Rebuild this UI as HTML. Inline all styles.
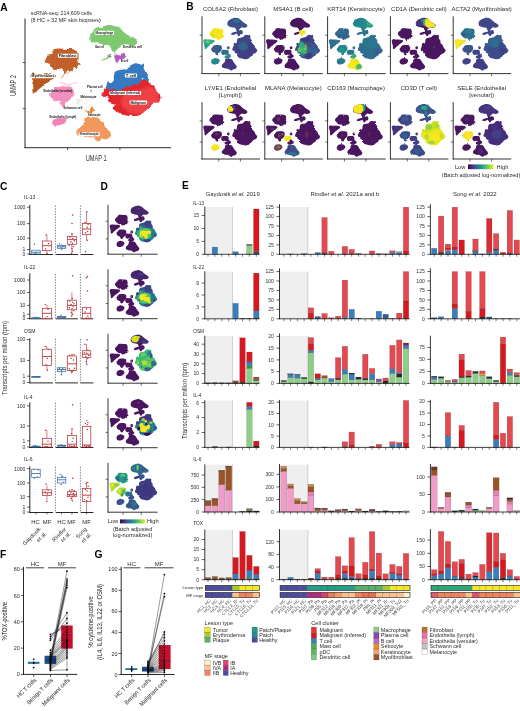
<!DOCTYPE html>
<html><head><meta charset="utf-8"><title>Figure</title>
<style>html,body{margin:0;padding:0;background:#fff}svg{display:block;opacity:0.999}text{font-family:"Liberation Sans", sans-serif}</style>
</head><body>
<svg width="520" height="711" viewBox="0 0 520 711">
<rect x="0" y="0" width="520" height="711" fill="#fff"/>
<defs>
<clipPath id="allc"><path d="M52.83,48.91C54.61,47.32 53.16,47.71 56.51,47.31C59.87,46.91 60.66,47.18 65.42,47.40C70.17,47.62 71.01,47.37 74.35,48.14C77.69,48.91 76.68,47.95 77.94,50.28C79.20,52.61 78.95,53.72 79.07,56.87C79.19,60.03 78.05,60.13 78.40,62.12C78.75,64.12 79.65,63.33 80.39,64.37C81.13,65.41 81.71,65.47 81.17,66.02C80.62,66.57 78.93,65.62 78.34,66.43C77.75,67.25 79.34,68.19 78.95,69.07C78.56,69.95 77.96,69.90 76.87,69.72C75.79,69.55 76.07,67.93 74.88,68.41C73.69,68.90 73.69,70.28 72.41,71.54C71.13,72.81 71.07,73.08 70.07,73.15C69.07,73.22 69.90,71.57 68.66,71.80C67.43,72.02 66.73,73.63 65.42,74.00C64.12,74.37 65.11,74.19 63.78,73.18C62.45,72.18 62.50,71.10 60.44,70.25C58.37,69.39 58.17,70.32 56.04,69.99C53.92,69.66 54.33,70.09 52.46,69.00C50.59,67.91 50.67,67.53 49.03,65.91C47.39,64.28 47.58,64.49 46.30,62.91C45.02,61.34 44.38,61.76 44.21,59.99C44.05,58.23 44.18,58.09 45.68,56.30C47.18,54.50 47.93,55.23 49.84,53.26C51.74,51.29 51.05,50.50 52.83,48.91Z"/><path d="M29.95,73.40C31.95,71.35 32.99,72.57 37.53,72.47C42.07,72.37 41.98,72.53 46.97,73.03C51.96,73.52 53.91,73.05 56.25,74.33C58.59,75.60 57.94,75.31 55.75,77.81C53.56,80.31 52.34,80.40 48.05,83.71C43.76,87.01 43.31,87.38 39.67,90.19C36.03,93.01 36.27,93.46 34.41,94.25C32.56,95.03 33.40,95.17 32.71,93.13C32.02,91.09 32.53,90.05 31.81,86.60C31.09,83.14 30.51,83.68 30.02,80.17C29.52,76.65 27.94,75.46 29.95,73.40Z"/><path d="M56.88,85.62C59.78,84.98 60.19,84.60 64.63,84.86C69.08,85.12 70.69,84.69 73.55,86.60C76.40,88.51 75.05,89.38 75.33,92.02C75.61,94.67 75.53,94.47 74.60,96.51C73.67,98.56 73.37,97.96 71.83,99.68C70.28,101.40 70.50,100.88 68.80,102.96C67.10,105.05 67.17,106.11 65.45,107.50C63.72,108.90 63.79,108.73 62.33,108.20C60.86,107.66 60.62,106.93 59.95,105.48C59.28,104.03 61.15,103.79 59.81,102.75C58.48,101.72 57.23,102.42 54.96,101.61C52.68,100.79 52.81,101.05 51.28,99.70C49.74,98.34 49.93,98.18 49.20,96.52C48.47,94.85 47.95,95.08 48.54,93.44C49.14,91.80 50.04,92.02 51.43,90.37C52.83,88.73 52.32,88.54 53.77,87.27C55.23,86.01 53.99,86.27 56.88,85.62Z"/><path d="M49.01,121.08C50.37,118.68 49.87,117.30 53.81,115.75C57.75,114.19 59.49,114.34 63.77,115.26C68.06,116.18 68.59,117.04 69.89,119.20C71.19,121.35 70.46,121.03 68.66,123.35C66.86,125.66 67.33,126.55 63.14,127.87C58.94,129.19 56.77,129.14 52.93,128.30C49.09,127.46 49.78,126.65 48.74,124.72C47.70,122.80 47.66,123.47 49.01,121.08Z"/><path d="M74.08,98.46C75.26,96.70 74.87,96.96 77.87,96.35C80.86,95.75 81.87,95.92 85.31,96.19C88.74,96.45 88.78,96.32 90.74,97.34C92.70,98.37 92.48,98.11 92.66,100.02C92.85,101.93 92.99,102.61 91.43,104.50C89.87,106.39 90.11,106.66 86.81,107.12C83.51,107.57 81.93,106.33 79.05,106.21C76.17,106.09 77.52,107.53 76.02,106.66C74.52,105.79 73.95,105.14 73.43,102.96C72.92,100.77 72.90,100.23 74.08,98.46Z"/><path d="M89.01,89.33C89.94,88.05 91.77,87.86 92.94,88.91C94.11,89.96 94.32,91.99 93.39,93.27C92.46,94.55 90.63,94.74 89.46,93.69C88.29,92.64 88.08,90.61 89.01,89.33Z"/><path d="M81.83,111.92C82.23,111.16 82.72,113.24 85.31,111.00C87.90,108.77 88.73,104.35 91.54,103.55C94.35,102.76 94.07,106.24 95.84,108.03C97.62,109.82 98.34,109.05 98.20,110.27C98.06,111.48 97.68,111.17 95.32,112.58C92.96,113.99 92.42,115.22 89.35,115.56C86.28,115.91 85.81,114.84 83.80,113.87C81.80,112.89 81.43,112.69 81.83,111.92Z"/><path d="M84.30,116.58C85.57,114.90 84.60,115.45 87.50,115.22C90.39,114.99 91.73,115.08 95.16,115.71C98.58,116.34 98.05,115.88 100.33,117.58C102.62,119.27 101.96,119.65 103.73,122.07C105.49,124.49 105.00,124.06 106.94,126.66C108.88,129.26 109.55,129.61 111.00,131.82C112.44,134.04 112.69,133.28 112.36,134.98C112.02,136.67 111.25,136.96 109.74,138.19C108.24,139.43 108.51,139.04 106.71,139.62C104.91,140.20 104.86,139.56 102.99,140.37C101.13,141.17 101.42,142.21 99.71,142.64C98.00,143.06 98.51,142.74 96.59,141.95C94.66,141.17 95.03,140.71 92.49,139.69C89.95,138.66 90.15,138.81 87.05,138.11C83.95,137.40 83.78,137.86 80.88,137.03C77.97,136.20 77.80,136.22 76.15,135.00C74.51,133.78 74.56,134.17 74.71,132.47C74.86,130.77 75.24,130.50 76.71,128.63C78.17,126.75 78.59,127.35 80.20,125.44C81.81,123.54 81.67,123.85 82.76,121.48C83.86,119.12 83.04,118.25 84.30,116.58Z"/><path d="M88.61,37.12C88.47,34.81 88.34,34.53 89.78,32.20C91.22,29.87 91.27,30.10 94.03,28.38C96.78,26.65 96.85,26.97 100.11,25.73C103.37,24.49 102.59,24.14 106.25,23.74C109.92,23.33 110.09,23.42 113.84,24.20C117.60,24.99 117.55,25.01 120.34,26.68C123.13,28.34 121.93,28.37 124.30,30.44C126.67,32.52 126.33,32.35 129.21,34.47C132.09,36.59 132.54,36.54 135.10,38.38C137.65,40.23 138.19,39.90 138.80,41.39C139.41,42.88 138.99,42.94 137.38,43.96C135.76,44.98 135.54,45.01 132.74,45.22C129.95,45.42 129.44,44.45 126.91,44.73C124.38,45.01 124.93,45.14 123.25,46.26C121.57,47.39 122.21,47.55 120.60,48.95C118.99,50.35 118.82,49.96 117.20,51.52C115.57,53.08 115.74,54.32 114.52,54.80C113.29,55.27 113.65,54.48 112.60,53.30C111.55,52.11 111.54,51.92 110.57,50.34C109.61,48.76 110.29,48.59 108.97,47.37C107.65,46.14 107.79,46.44 105.61,45.75C103.43,45.05 103.65,45.39 100.80,44.76C97.95,44.14 97.73,44.43 94.93,43.39C92.13,42.35 91.99,42.53 90.30,40.86C88.62,39.19 88.75,39.43 88.61,37.12Z"/><path d="M99.92,59.65C102.75,58.36 107.95,56.86 111.06,56.35C114.17,55.83 114.41,56.44 111.58,57.73C108.75,59.02 103.56,60.66 100.45,61.17C97.34,61.68 97.09,60.94 99.92,59.65Z"/><path d="M112.38,53.86C113.34,52.00 113.85,52.36 115.87,52.13C117.88,51.91 118.07,53.01 119.94,53.04C121.80,53.06 121.18,51.99 122.87,52.23C124.55,52.46 125.31,52.30 126.25,53.92C127.19,55.55 127.19,56.68 126.38,58.32C125.58,59.96 125.21,59.26 123.24,60.08C121.26,60.90 120.69,60.13 118.99,61.40C117.29,62.67 118.08,64.82 116.86,64.84C115.64,64.86 115.64,63.00 114.41,61.47C113.19,59.95 112.80,61.14 112.25,59.11C111.71,57.09 111.42,55.73 112.38,53.86Z"/><path d="M104.54,83.25C105.06,82.32 104.56,81.85 105.82,81.88C107.08,81.90 107.64,83.73 109.26,83.34C110.89,82.96 111.01,83.00 111.92,80.44C112.83,77.88 111.71,76.56 112.66,73.75C113.61,70.94 112.74,71.45 115.48,69.90C118.22,68.35 119.49,68.85 122.95,67.94C126.40,67.03 125.59,67.93 128.43,66.51C131.27,65.08 131.07,63.80 133.59,62.61C136.10,61.43 135.56,61.80 137.87,62.06C140.18,62.31 140.17,63.31 142.24,63.58C144.31,63.85 144.47,61.12 145.63,63.08C146.80,65.04 145.60,68.05 146.60,70.94C147.60,73.82 148.28,71.96 149.37,73.90C150.47,75.84 150.51,75.91 150.70,78.21C150.89,80.50 149.52,80.80 150.07,82.51C150.62,84.21 154.28,82.91 152.75,84.60C151.22,86.29 149.87,86.48 144.35,88.86C138.83,91.24 139.24,91.80 132.05,93.53C124.87,95.27 123.58,95.52 117.39,95.38C111.21,95.24 112.25,94.70 108.85,93.00C105.45,91.30 105.98,91.02 104.66,88.99C103.33,86.96 103.90,86.90 103.87,85.37C103.84,83.84 104.02,84.18 104.54,83.25Z"/><path d="M104.61,87.73C106.41,86.94 105.35,88.74 108.61,89.01C111.88,89.28 112.75,89.29 116.85,88.75C120.95,88.21 120.06,88.25 123.98,86.99C127.91,85.72 127.56,85.48 131.57,84.00C135.59,82.52 135.54,82.80 139.03,81.43C142.53,80.06 141.86,78.96 144.69,78.87C147.52,78.78 147.57,79.92 149.66,81.09C151.74,82.27 151.00,82.27 152.50,83.26C154.00,84.25 153.98,83.43 155.29,84.81C156.60,86.19 156.28,86.33 157.40,88.43C158.51,90.53 158.00,90.59 159.47,92.69C160.94,94.79 162.17,94.41 162.90,96.30C163.62,98.20 163.30,98.09 162.20,99.78C161.10,101.48 161.14,101.30 158.78,102.66C156.41,104.02 155.16,103.31 153.33,104.87C151.50,106.44 153.41,106.95 151.92,108.53C150.44,110.11 150.05,109.20 147.76,110.79C145.46,112.39 145.66,112.93 143.32,114.51C140.98,116.08 141.50,115.90 138.98,116.69C136.46,117.49 137.39,117.67 133.87,117.49C130.35,117.31 129.69,116.82 125.79,116.02C121.88,115.21 121.94,115.47 119.22,114.47C116.50,113.46 117.14,113.82 115.59,112.25C114.04,110.68 113.83,110.53 113.41,108.59C112.98,106.65 114.77,106.33 114.00,104.97C113.24,103.61 112.55,104.47 110.55,103.49C108.55,102.51 107.40,102.65 106.51,101.30C105.62,99.94 107.74,99.58 107.20,98.41C106.66,97.25 106.13,97.69 104.50,96.93C102.88,96.17 101.82,96.88 101.11,95.56C100.39,94.24 100.90,94.07 101.83,91.98C102.77,89.89 102.80,88.52 104.61,87.73Z"/></clipPath>
<filter id="bl" x="-20%" y="-20%" width="140%" height="140%"><feGaussianBlur stdDeviation="1.6"/></filter>
<filter id="bl2" x="-20%" y="-20%" width="140%" height="140%"><feGaussianBlur stdDeviation="0.9"/></filter>
<filter id="rough" x="-5%" y="-5%" width="110%" height="110%"><feTurbulence type="fractalNoise" baseFrequency="0.17" numOctaves="2" seed="4" result="n"/><feDisplacementMap in="SourceGraphic" in2="n" scale="4.5" xChannelSelector="R" yChannelSelector="G"/></filter>
<linearGradient id="vir" x1="0" x2="1" y1="0" y2="0"><stop offset="0" stop-color="#440154"/><stop offset="0.25" stop-color="#3b528b"/><stop offset="0.5" stop-color="#21918c"/><stop offset="0.75" stop-color="#5ec962"/><stop offset="1" stop-color="#fde725"/></linearGradient>
</defs>
<g id="panelA">
<text x="0.20" y="11.07" font-size="10.2" text-anchor="start" font-weight="bold" fill="#000">A</text>
<text x="30.80" y="15.31" font-size="5.3" text-anchor="start" font-weight="normal" fill="#2b2b2b" textLength="61.00" lengthAdjust="spacingAndGlyphs">scRNA-seq: 214,609 cells</text>
<text x="30.80" y="21.71" font-size="5.3" text-anchor="start" font-weight="normal" fill="#2b2b2b" textLength="70.00" lengthAdjust="spacingAndGlyphs">(8 HC + 32 MF skin biopsies)</text>
<line x1="25.00" y1="18.50" x2="25.00" y2="148.10" stroke="#111" stroke-width="0.9" stroke-linecap="butt"/>
<line x1="24.60" y1="147.70" x2="171.00" y2="147.70" stroke="#111" stroke-width="0.9" stroke-linecap="butt"/>
<line x1="22.80" y1="62.50" x2="25.00" y2="62.50" stroke="#111" stroke-width="0.7" stroke-linecap="butt"/>
<line x1="22.80" y1="108.60" x2="25.00" y2="108.60" stroke="#111" stroke-width="0.7" stroke-linecap="butt"/>
<line x1="67.60" y1="147.70" x2="67.60" y2="150.00" stroke="#111" stroke-width="0.7" stroke-linecap="butt"/>
<line x1="119.90" y1="147.70" x2="119.90" y2="150.00" stroke="#111" stroke-width="0.7" stroke-linecap="butt"/>
<text x="0.00" y="3.10" font-size="8.6" text-anchor="middle" font-weight="normal" fill="#333" transform="translate(96.20,158.30) scale(0.66,1)">UMAP 1</text>
<text x="0.00" y="3.10" font-size="8.6" text-anchor="middle" font-weight="normal" fill="#333" transform="translate(13.20,85.50) rotate(-90) scale(0.66,1)">UMAP 2</text>
<g filter="url(#rough)">
<path d="M53.90,50.10C55.53,48.66 54.23,48.99 57.30,48.70C60.37,48.41 61.08,48.79 65.40,49.00C69.72,49.21 70.46,48.86 73.50,49.50C76.54,50.14 75.71,49.27 76.80,51.40C77.89,53.53 77.60,54.62 77.60,57.50C77.60,60.38 76.48,60.41 76.80,62.20C77.12,63.99 78.05,63.27 78.80,64.20C79.55,65.13 80.13,65.22 79.60,65.70C79.07,66.18 77.36,65.28 76.80,66.00C76.24,66.72 77.85,67.63 77.50,68.40C77.15,69.17 76.57,69.11 75.50,68.90C74.43,68.69 74.59,67.23 73.50,67.60C72.41,67.97 72.49,69.21 71.40,70.30C70.31,71.39 70.28,71.70 69.40,71.70C68.52,71.70 69.17,70.11 68.10,70.30C67.03,70.49 66.49,72.05 65.40,72.40C64.31,72.75 65.09,72.53 64.00,71.60C62.91,70.67 63.09,69.59 61.30,68.90C59.51,68.21 59.27,69.16 57.30,69.00C55.33,68.84 55.69,69.21 53.90,68.30C52.11,67.39 52.20,67.04 50.60,65.60C49.00,64.16 49.18,64.34 47.90,62.90C46.62,61.46 45.99,61.83 45.80,60.20C45.61,58.57 45.76,58.43 47.20,56.80C48.64,55.17 49.41,55.89 51.20,54.10C52.99,52.31 52.27,51.54 53.90,50.10Z" fill="#c1602b"/>
<path d="M31.20,74.40C32.91,72.69 34.05,74.03 38.00,74.00C41.95,73.97 41.52,74.03 46.00,74.30C50.48,74.57 52.61,73.96 54.80,75.00C56.99,76.04 56.41,75.99 54.20,78.20C51.99,80.41 50.34,80.53 46.50,83.30C42.66,86.07 42.84,86.07 39.80,88.60C36.76,91.13 36.75,91.95 35.10,92.80C33.45,93.65 34.11,93.67 33.60,91.80C33.09,89.93 33.73,88.84 33.20,85.80C32.67,82.76 32.13,83.44 31.60,80.40C31.07,77.36 29.49,76.11 31.20,74.40Z" fill="#b7581f"/>
<path d="M57.50,87.10C60.01,86.54 60.25,86.27 64.20,86.40C68.15,86.53 69.74,85.97 72.30,87.60C74.86,89.23 73.61,90.13 73.80,92.50C73.99,94.87 73.93,94.71 73.00,96.50C72.07,98.29 71.74,97.76 70.30,99.20C68.86,100.64 69.04,100.09 67.60,101.90C66.16,103.71 66.34,104.75 64.90,106.00C63.46,107.25 63.45,107.16 62.20,106.60C60.95,106.04 60.73,105.34 60.20,103.90C59.67,102.46 61.27,102.08 60.20,101.20C59.13,100.32 58.17,101.13 56.20,100.60C54.23,100.07 54.24,100.29 52.80,99.20C51.36,98.11 51.52,97.94 50.80,96.50C50.08,95.06 49.57,95.21 50.10,93.80C50.63,92.39 51.55,92.61 52.80,91.20C54.05,89.79 53.55,89.59 54.80,88.50C56.05,87.41 54.99,87.66 57.50,87.10Z" fill="#f28fbe"/>
<path d="M52.80,121.40C53.81,120.07 53.88,119.53 56.20,118.70C58.52,117.87 58.83,117.93 61.50,118.30C64.17,118.67 65.29,118.90 66.20,120.10C67.11,121.30 66.31,121.55 64.90,122.80C63.49,124.05 63.41,124.08 60.90,124.80C58.39,125.52 57.77,125.79 55.50,125.50C53.23,125.21 53.12,124.79 52.40,123.70C51.68,122.61 51.79,122.73 52.80,121.40Z" fill="#f283b8"/>
<path d="M84.60,111.50C85.08,111.02 86.39,112.19 88.10,110.80C89.81,109.41 89.61,106.73 91.00,106.30C92.39,105.87 92.13,108.11 93.30,109.20C94.47,110.29 95.56,109.76 95.40,110.40C95.24,111.04 94.19,110.96 92.70,111.60C91.21,112.24 91.51,112.53 89.80,112.80C88.09,113.07 87.69,112.95 86.30,112.60C84.91,112.25 84.12,111.98 84.60,111.50Z" fill="#f0852a"/>
<path d="M85.20,117.90C86.29,116.35 85.49,116.86 88.10,116.70C90.71,116.54 91.93,116.69 95.00,117.30C98.07,117.91 97.60,117.45 99.60,119.00C101.60,120.55 100.95,120.94 102.50,123.10C104.05,125.26 103.56,124.81 105.40,127.10C107.24,129.39 107.96,129.70 109.40,131.70C110.84,133.70 111.09,133.05 110.80,134.60C110.51,136.15 109.74,136.41 108.30,137.50C106.86,138.59 107.11,138.25 105.40,138.70C103.69,139.15 103.61,138.53 101.90,139.20C100.19,139.87 100.52,140.88 99.00,141.20C97.48,141.52 97.88,141.23 96.20,140.40C94.52,139.57 94.86,139.03 92.70,138.10C90.54,137.17 90.87,137.38 88.10,136.90C85.33,136.42 85.07,136.91 82.30,136.30C79.53,135.69 79.30,135.67 77.70,134.60C76.10,133.53 76.14,133.85 76.30,132.30C76.46,130.75 76.86,130.48 78.30,128.80C79.74,127.12 80.18,127.68 81.70,126.00C83.22,124.32 83.07,124.66 84.00,122.50C84.93,120.34 84.11,119.45 85.20,117.90Z" fill="#f2985e"/>
<path d="M90.20,37.30C90.04,35.14 89.91,34.86 91.30,32.70C92.69,30.54 92.76,30.75 95.40,29.20C98.04,27.65 98.13,27.97 101.20,26.90C104.27,25.83 103.54,25.49 106.90,25.20C110.26,24.91 110.41,25.03 113.80,25.80C117.19,26.57 117.12,26.58 119.60,28.10C122.08,29.62 120.94,29.66 123.10,31.50C125.26,33.34 124.93,33.13 127.70,35.00C130.47,36.87 130.97,36.82 133.50,38.50C136.03,40.18 136.59,39.91 137.20,41.30C137.81,42.69 137.40,42.77 135.80,43.70C134.20,44.63 133.97,44.67 131.20,44.80C128.43,44.93 127.88,44.04 125.40,44.20C122.92,44.36 123.45,44.47 121.90,45.40C120.35,46.33 120.99,46.47 119.60,47.70C118.21,48.93 118.09,48.53 116.70,50.00C115.31,51.47 115.47,52.75 114.40,53.20C113.33,53.65 113.61,52.87 112.70,51.70C111.79,50.53 111.77,50.32 111.00,48.80C110.23,47.28 110.89,47.07 109.80,46.00C108.71,44.93 108.90,45.28 106.90,44.80C104.90,44.32 105.07,44.65 102.30,44.20C99.53,43.75 99.27,44.01 96.50,43.10C93.73,42.19 93.58,42.35 91.90,40.80C90.22,39.25 90.36,39.46 90.20,37.30Z" fill="#7ec86f"/>
<path d="M101.50,59.40C103.55,58.47 107.33,57.37 109.60,57.00C111.87,56.63 112.05,57.07 110.00,58.00C107.95,58.93 104.17,60.13 101.90,60.50C99.63,60.87 99.45,60.33 101.50,59.40Z" fill="#93d36f"/>
<path d="M113.80,54.60C114.57,53.21 115.15,53.50 116.70,53.50C118.25,53.50 118.21,54.60 119.60,54.60C120.99,54.60 120.51,53.50 121.90,53.50C123.29,53.50 124.03,53.37 124.80,54.60C125.57,55.83 125.57,56.87 124.80,58.10C124.03,59.33 123.45,58.75 121.90,59.20C120.35,59.65 120.23,58.71 119.00,59.80C117.77,60.89 118.21,63.14 117.30,63.30C116.39,63.46 116.53,61.63 115.60,60.40C114.67,59.17 114.28,60.25 113.80,58.70C113.32,57.15 113.03,55.99 113.80,54.60Z" fill="#b25cc4"/>
<path d="M106.10,82.90C106.63,82.02 106.15,81.60 107.40,81.60C108.65,81.60 109.17,83.27 110.80,82.90C112.43,82.53 112.59,82.52 113.50,80.20C114.41,77.88 113.32,76.71 114.20,74.20C115.08,71.69 114.29,72.08 116.80,70.80C119.31,69.52 120.53,70.12 123.60,69.40C126.67,68.68 125.79,69.51 128.30,68.10C130.81,66.69 130.68,65.35 133.00,64.10C135.32,62.85 134.84,63.24 137.00,63.40C139.16,63.56 139.13,64.51 141.10,64.70C143.07,64.89 143.33,62.29 144.40,64.10C145.47,65.91 144.19,68.81 145.10,71.50C146.01,74.19 146.73,72.41 147.80,74.20C148.87,75.99 148.91,76.07 149.10,78.20C149.29,80.33 147.94,80.60 148.50,82.20C149.06,83.80 152.67,82.65 151.20,84.20C149.73,85.75 148.23,85.92 143.00,88.00C137.77,90.08 138.21,90.40 131.60,92.00C124.99,93.60 123.93,94.00 118.20,94.00C112.47,94.00 113.33,93.52 110.10,92.00C106.87,90.48 107.35,90.19 106.10,88.30C104.85,86.41 105.40,86.34 105.40,84.90C105.40,83.46 105.57,83.78 106.10,82.90Z" fill="#3579c0"/>
<path d="M106.10,88.30C107.89,87.58 106.87,89.25 110.10,89.60C113.33,89.95 114.25,89.95 118.20,89.60C122.15,89.25 121.33,89.37 124.90,88.30C128.47,87.23 128.00,87.04 131.60,85.60C135.20,84.16 135.15,84.34 138.40,82.90C141.65,81.46 141.11,80.39 143.80,80.20C146.49,80.01 146.53,81.13 148.50,82.20C150.47,83.27 149.76,83.29 151.20,84.20C152.64,85.11 152.65,84.32 153.90,85.60C155.15,86.88 154.83,87.03 155.90,89.00C156.97,90.97 156.46,91.03 157.90,93.00C159.34,94.97 160.58,94.61 161.30,96.40C162.02,98.19 161.69,98.10 160.60,99.70C159.51,101.30 159.55,101.15 157.20,102.40C154.85,103.65 153.59,102.96 151.80,104.40C150.01,105.84 151.91,106.36 150.50,107.80C149.09,109.24 148.66,108.36 146.50,109.80C144.34,111.24 144.56,111.76 142.40,113.20C140.24,114.64 140.72,114.48 138.40,115.20C136.08,115.92 136.93,116.09 133.70,115.90C130.47,115.71 129.90,115.22 126.30,114.50C122.70,113.78 122.73,114.08 120.20,113.20C117.67,112.32 118.24,112.64 116.80,111.20C115.36,109.76 115.15,109.61 114.80,107.80C114.45,105.99 116.22,105.65 115.50,104.40C114.78,103.15 114.07,103.98 112.10,103.10C110.13,102.22 108.98,102.35 108.10,101.10C107.22,99.85 109.33,99.49 108.80,98.40C108.27,97.31 107.73,97.72 106.10,97.00C104.47,96.28 103.42,96.95 102.70,95.70C101.98,94.45 102.49,94.27 103.40,92.30C104.31,90.33 104.31,89.02 106.10,88.30Z" fill="#e3282e"/>
<g clip-path="url(#cm)"><defs><clipPath id="cm"><path d="M106.10,88.30C107.89,87.58 106.87,89.25 110.10,89.60C113.33,89.95 114.25,89.95 118.20,89.60C122.15,89.25 121.33,89.37 124.90,88.30C128.47,87.23 128.00,87.04 131.60,85.60C135.20,84.16 135.15,84.34 138.40,82.90C141.65,81.46 141.11,80.39 143.80,80.20C146.49,80.01 146.53,81.13 148.50,82.20C150.47,83.27 149.76,83.29 151.20,84.20C152.64,85.11 152.65,84.32 153.90,85.60C155.15,86.88 154.83,87.03 155.90,89.00C156.97,90.97 156.46,91.03 157.90,93.00C159.34,94.97 160.58,94.61 161.30,96.40C162.02,98.19 161.69,98.10 160.60,99.70C159.51,101.30 159.55,101.15 157.20,102.40C154.85,103.65 153.59,102.96 151.80,104.40C150.01,105.84 151.91,106.36 150.50,107.80C149.09,109.24 148.66,108.36 146.50,109.80C144.34,111.24 144.56,111.76 142.40,113.20C140.24,114.64 140.72,114.48 138.40,115.20C136.08,115.92 136.93,116.09 133.70,115.90C130.47,115.71 129.90,115.22 126.30,114.50C122.70,113.78 122.73,114.08 120.20,113.20C117.67,112.32 118.24,112.64 116.80,111.20C115.36,109.76 115.15,109.61 114.80,107.80C114.45,105.99 116.22,105.65 115.50,104.40C114.78,103.15 114.07,103.98 112.10,103.10C110.13,102.22 108.98,102.35 108.10,101.10C107.22,99.85 109.33,99.49 108.80,98.40C108.27,97.31 107.73,97.72 106.10,97.00C104.47,96.28 103.42,96.95 102.70,95.70C101.98,94.45 102.49,94.27 103.40,92.30C104.31,90.33 104.31,89.02 106.10,88.30Z"/></clipPath></defs>
<g filter="url(#bl2)"><ellipse cx="140" cy="102" rx="19" ry="12" fill="#ee4347"/><ellipse cx="150" cy="94" rx="9" ry="7" fill="#ee4347"/></g></g>
</g>
<path d="M65.4,72 C64,75 62.5,76.5 61.3,78.4" stroke="#c1602b" stroke-width="0.7" fill="none"/>
<path d="M69.5,71.5 C68.5,73 67.6,74 66.6,75" stroke="#c1602b" stroke-width="0.5" fill="none"/>
<path d="M59.5,83.1 C62,82 64,83 66.9,85.1 C69,84.6 72,84.6 74.3,82.4 L77,83.3" stroke="#f4a6cb" stroke-width="0.7" fill="none"/>
<path d="M62,85.2 L66,84 M68,85.6 L71,85" stroke="#f4a6cb" stroke-width="0.5" fill="none"/>
<path d="M77.00,99.60C77.77,98.69 78.75,98.51 79.50,99.20C80.25,99.89 80.15,100.84 79.80,102.20C79.45,103.56 79.05,104.19 78.20,104.30C77.35,104.41 76.92,103.85 76.60,102.60C76.28,101.35 76.23,100.51 77.00,99.60Z" fill="#f3f3f5" stroke="#cfcfd6" stroke-width="0.35"/>
<path d="M81.50,99.20C82.22,98.21 82.89,98.73 85.00,98.70C87.11,98.67 88.44,98.06 89.40,99.10C90.36,100.14 89.61,101.40 88.60,102.60C87.59,103.80 87.28,103.65 85.60,103.60C83.92,103.55 83.39,103.57 82.30,102.40C81.21,101.23 80.78,100.19 81.50,99.20Z" fill="#fbfbfc" stroke="#d6d6dc" stroke-width="0.35"/>
<circle cx="142.5" cy="78.6" r="0.9" fill="#dfe9f5"/>
<circle cx="105.8" cy="50.6" r="0.35" fill="#5aa84f"/>
<line x1="91.10" y1="90.30" x2="91.10" y2="92.30" stroke="#444" stroke-width="0.5" stroke-linecap="butt"/>
<line x1="90.20" y1="90.40" x2="92.00" y2="90.40" stroke="#444" stroke-width="0.5" stroke-linecap="butt"/>
<rect x="94.70" y="30.70" width="19.30" height="4.00" fill="#fff" rx="0.8"/>
<text x="104.35" y="33.89" font-size="3.3" text-anchor="middle" font-weight="bold" fill="#111" textLength="17.50" lengthAdjust="spacingAndGlyphs">Macrophage</text>
<text x="99.60" y="48.29" font-size="3.3" text-anchor="middle" font-weight="bold" fill="#111" textLength="8.80" lengthAdjust="spacingAndGlyphs">Mast cell</text>
<text x="132.50" y="47.69" font-size="3.3" text-anchor="middle" font-weight="bold" fill="#111" textLength="19.00" lengthAdjust="spacingAndGlyphs">Dendritic cell</text>
<text x="109.50" y="56.79" font-size="3.3" text-anchor="middle" font-weight="bold" fill="#111" textLength="3.80" lengthAdjust="spacingAndGlyphs">pDC</text>
<text x="124.55" y="62.09" font-size="3.3" text-anchor="middle" font-weight="bold" fill="#111" textLength="7.50" lengthAdjust="spacingAndGlyphs">B cell</text>
<rect x="57.90" y="53.80" width="19.60" height="4.00" fill="#fff" rx="0.8"/>
<text x="67.70" y="56.99" font-size="3.3" text-anchor="middle" font-weight="bold" fill="#111" textLength="17.80" lengthAdjust="spacingAndGlyphs">Fibroblast</text>
<rect x="30.70" y="74.20" width="24.00" height="4.00" fill="#fff" rx="0.8"/>
<text x="42.70" y="77.39" font-size="3.3" text-anchor="middle" font-weight="bold" fill="#111" textLength="22.20" lengthAdjust="spacingAndGlyphs">Myofibroblast</text>
<text x="57.85" y="91.99" font-size="3.3" text-anchor="middle" font-weight="bold" fill="#111" textLength="28.90" lengthAdjust="spacingAndGlyphs">Endothelia (venular)</text>
<text x="94.85" y="88.29" font-size="3.3" text-anchor="middle" font-weight="bold" fill="#111" textLength="15.50" lengthAdjust="spacingAndGlyphs">Plasma cell</text>
<text x="88.45" y="97.59" font-size="3.3" text-anchor="middle" font-weight="bold" fill="#111" textLength="16.10" lengthAdjust="spacingAndGlyphs">Melanocyte</text>
<text x="73.00" y="109.09" font-size="3.3" text-anchor="middle" font-weight="bold" fill="#111" textLength="18.80" lengthAdjust="spacingAndGlyphs">Schwann cell</text>
<text x="94.20" y="116.19" font-size="3.3" text-anchor="middle" font-weight="bold" fill="#111" textLength="12.80" lengthAdjust="spacingAndGlyphs">Sebocyte</text>
<text x="62.85" y="117.89" font-size="3.3" text-anchor="middle" font-weight="bold" fill="#111" textLength="26.90" lengthAdjust="spacingAndGlyphs">Endothelia (lymph)</text>
<rect x="79.30" y="132.30" width="20.40" height="4.00" fill="#fff" rx="0.8"/>
<text x="89.50" y="135.49" font-size="3.3" text-anchor="middle" font-weight="bold" fill="#111" textLength="18.60" lengthAdjust="spacingAndGlyphs">Keratinocyte</text>
<rect x="124.90" y="73.50" width="12.20" height="4.00" fill="#fff" rx="0.8"/>
<text x="131.00" y="76.69" font-size="3.3" text-anchor="middle" font-weight="bold" fill="#111" textLength="10.40" lengthAdjust="spacingAndGlyphs">T cell</text>
<rect x="109.40" y="91.00" width="31.70" height="4.00" fill="#fff" rx="0.8"/>
<text x="125.25" y="94.19" font-size="3.3" text-anchor="middle" font-weight="bold" fill="#111" textLength="29.90" lengthAdjust="spacingAndGlyphs">Malignant (inferred)</text>
<rect x="129.60" y="100.40" width="17.60" height="4.00" fill="#fff" rx="0.8"/>
<text x="138.40" y="103.59" font-size="3.3" text-anchor="middle" font-weight="bold" fill="#111" textLength="15.80" lengthAdjust="spacingAndGlyphs">Malignant</text>
</g>
<g id="panelB">
<text x="186.20" y="10.27" font-size="10.2" text-anchor="start" font-weight="bold" fill="#000">B</text>
<line x1="202.00" y1="16.30" x2="202.00" y2="74.02" stroke="#111" stroke-width="0.85" stroke-linecap="butt"/>
<line x1="201.57" y1="73.60" x2="260.00" y2="73.60" stroke="#111" stroke-width="0.85" stroke-linecap="butt"/>
<line x1="199.60" y1="35.20" x2="202.00" y2="35.20" stroke="#111" stroke-width="0.6" stroke-linecap="butt"/>
<line x1="199.60" y1="56.30" x2="202.00" y2="56.30" stroke="#111" stroke-width="0.6" stroke-linecap="butt"/>
<line x1="218.80" y1="73.60" x2="218.80" y2="76.20" stroke="#111" stroke-width="0.6" stroke-linecap="butt"/>
<line x1="240.40" y1="73.60" x2="240.40" y2="76.20" stroke="#111" stroke-width="0.6" stroke-linecap="butt"/>
<g transform="translate(203.90,18.50) scale(0.4030,0.4436) translate(-30.7,-25.4)" filter="url(#rough)">
<path d="M53.90,50.10C55.53,48.66 54.23,48.99 57.30,48.70C60.37,48.41 61.08,48.79 65.40,49.00C69.72,49.21 70.46,48.86 73.50,49.50C76.54,50.14 75.71,49.27 76.80,51.40C77.89,53.53 77.60,54.62 77.60,57.50C77.60,60.38 76.48,60.41 76.80,62.20C77.12,63.99 78.05,63.27 78.80,64.20C79.55,65.13 80.13,65.22 79.60,65.70C79.07,66.18 77.36,65.28 76.80,66.00C76.24,66.72 77.85,67.63 77.50,68.40C77.15,69.17 76.57,69.11 75.50,68.90C74.43,68.69 74.59,67.23 73.50,67.60C72.41,67.97 72.49,69.21 71.40,70.30C70.31,71.39 70.28,71.70 69.40,71.70C68.52,71.70 69.17,70.11 68.10,70.30C67.03,70.49 66.49,72.05 65.40,72.40C64.31,72.75 65.09,72.53 64.00,71.60C62.91,70.67 63.09,69.59 61.30,68.90C59.51,68.21 59.27,69.16 57.30,69.00C55.33,68.84 55.69,69.21 53.90,68.30C52.11,67.39 52.20,67.04 50.60,65.60C49.00,64.16 49.18,64.34 47.90,62.90C46.62,61.46 45.99,61.83 45.80,60.20C45.61,58.57 45.76,58.43 47.20,56.80C48.64,55.17 49.41,55.89 51.20,54.10C52.99,52.31 52.27,51.54 53.90,50.10Z" fill="#f4e61f" stroke="#f4e61f" stroke-width="2.6" stroke-linejoin="round"/>
<path d="M31.20,74.40C32.91,72.69 34.05,74.03 38.00,74.00C41.95,73.97 41.52,74.03 46.00,74.30C50.48,74.57 52.61,73.96 54.80,75.00C56.99,76.04 56.41,75.99 54.20,78.20C51.99,80.41 50.34,80.53 46.50,83.30C42.66,86.07 42.84,86.07 39.80,88.60C36.76,91.13 36.75,91.95 35.10,92.80C33.45,93.65 34.11,93.67 33.60,91.80C33.09,89.93 33.73,88.84 33.20,85.80C32.67,82.76 32.13,83.44 31.60,80.40C31.07,77.36 29.49,76.11 31.20,74.40Z" fill="#2fa888" stroke="#2fa888" stroke-width="2.6" stroke-linejoin="round"/>
<path d="M57.50,87.10C60.01,86.54 60.25,86.27 64.20,86.40C68.15,86.53 69.74,85.97 72.30,87.60C74.86,89.23 73.61,90.13 73.80,92.50C73.99,94.87 73.93,94.71 73.00,96.50C72.07,98.29 71.74,97.76 70.30,99.20C68.86,100.64 69.04,100.09 67.60,101.90C66.16,103.71 66.34,104.75 64.90,106.00C63.46,107.25 63.45,107.16 62.20,106.60C60.95,106.04 60.73,105.34 60.20,103.90C59.67,102.46 61.27,102.08 60.20,101.20C59.13,100.32 58.17,101.13 56.20,100.60C54.23,100.07 54.24,100.29 52.80,99.20C51.36,98.11 51.52,97.94 50.80,96.50C50.08,95.06 49.57,95.21 50.10,93.80C50.63,92.39 51.55,92.61 52.80,91.20C54.05,89.79 53.55,89.59 54.80,88.50C56.05,87.41 54.99,87.66 57.50,87.10Z" fill="#3a5a8c" stroke="#3a5a8c" stroke-width="2.6" stroke-linejoin="round"/>
<path d="M52.80,121.40C53.81,120.07 53.88,119.53 56.20,118.70C58.52,117.87 58.83,117.93 61.50,118.30C64.17,118.67 65.29,118.90 66.20,120.10C67.11,121.30 66.31,121.55 64.90,122.80C63.49,124.05 63.41,124.08 60.90,124.80C58.39,125.52 57.77,125.79 55.50,125.50C53.23,125.21 53.12,124.79 52.40,123.70C51.68,122.61 51.79,122.73 52.80,121.40Z" fill="#26898e" stroke="#26898e" stroke-width="7.1" stroke-linejoin="round"/>
<path d="M77.00,99.50C77.93,98.46 78.13,98.73 80.00,98.60C81.87,98.47 81.87,98.95 84.00,99.00C86.13,99.05 86.51,98.40 88.00,98.80C89.49,99.20 89.47,99.25 89.60,100.50C89.73,101.75 89.73,102.41 88.50,103.50C87.27,104.59 87.00,104.52 85.00,104.60C83.00,104.68 82.73,103.75 81.00,103.80C79.27,103.85 79.70,105.15 78.50,104.80C77.30,104.45 76.90,103.91 76.50,102.50C76.10,101.09 76.07,100.54 77.00,99.50Z" fill="#2e6f8e" stroke="#2e6f8e" stroke-width="5.6" stroke-linejoin="round"/>
<path d="M90.20,90.40C90.63,89.81 91.47,89.72 92.00,90.20C92.53,90.68 92.63,91.61 92.20,92.20C91.77,92.79 90.93,92.88 90.40,92.40C89.87,91.92 89.77,90.99 90.20,90.40Z" fill="#3b528b" stroke="#3b528b" stroke-width="4.1" stroke-linejoin="round"/>
<path d="M84.60,111.50C85.08,111.02 86.39,112.19 88.10,110.80C89.81,109.41 89.61,106.73 91.00,106.30C92.39,105.87 92.13,108.11 93.30,109.20C94.47,110.29 95.56,109.76 95.40,110.40C95.24,111.04 94.19,110.96 92.70,111.60C91.21,112.24 91.51,112.53 89.80,112.80C88.09,113.07 87.69,112.95 86.30,112.60C84.91,112.25 84.12,111.98 84.60,111.50Z" fill="#2c8a8d" stroke="#2c8a8d" stroke-width="5.1" stroke-linejoin="round"/>
<path d="M85.20,117.90C86.29,116.35 85.49,116.86 88.10,116.70C90.71,116.54 91.93,116.69 95.00,117.30C98.07,117.91 97.60,117.45 99.60,119.00C101.60,120.55 100.95,120.94 102.50,123.10C104.05,125.26 103.56,124.81 105.40,127.10C107.24,129.39 107.96,129.70 109.40,131.70C110.84,133.70 111.09,133.05 110.80,134.60C110.51,136.15 109.74,136.41 108.30,137.50C106.86,138.59 107.11,138.25 105.40,138.70C103.69,139.15 103.61,138.53 101.90,139.20C100.19,139.87 100.52,140.88 99.00,141.20C97.48,141.52 97.88,141.23 96.20,140.40C94.52,139.57 94.86,139.03 92.70,138.10C90.54,137.17 90.87,137.38 88.10,136.90C85.33,136.42 85.07,136.91 82.30,136.30C79.53,135.69 79.30,135.67 77.70,134.60C76.10,133.53 76.14,133.85 76.30,132.30C76.46,130.75 76.86,130.48 78.30,128.80C79.74,127.12 80.18,127.68 81.70,126.00C83.22,124.32 83.07,124.66 84.00,122.50C84.93,120.34 84.11,119.45 85.20,117.90Z" fill="#46357f" stroke="#46357f" stroke-width="2.6" stroke-linejoin="round"/>
<path d="M90.20,37.30C90.04,35.14 89.91,34.86 91.30,32.70C92.69,30.54 92.76,30.75 95.40,29.20C98.04,27.65 98.13,27.97 101.20,26.90C104.27,25.83 103.54,25.49 106.90,25.20C110.26,24.91 110.41,25.03 113.80,25.80C117.19,26.57 117.12,26.58 119.60,28.10C122.08,29.62 120.94,29.66 123.10,31.50C125.26,33.34 124.93,33.13 127.70,35.00C130.47,36.87 130.97,36.82 133.50,38.50C136.03,40.18 136.59,39.91 137.20,41.30C137.81,42.69 137.40,42.77 135.80,43.70C134.20,44.63 133.97,44.67 131.20,44.80C128.43,44.93 127.88,44.04 125.40,44.20C122.92,44.36 123.45,44.47 121.90,45.40C120.35,46.33 120.99,46.47 119.60,47.70C118.21,48.93 118.09,48.53 116.70,50.00C115.31,51.47 115.47,52.75 114.40,53.20C113.33,53.65 113.61,52.87 112.70,51.70C111.79,50.53 111.77,50.32 111.00,48.80C110.23,47.28 110.89,47.07 109.80,46.00C108.71,44.93 108.90,45.28 106.90,44.80C104.90,44.32 105.07,44.65 102.30,44.20C99.53,43.75 99.27,44.01 96.50,43.10C93.73,42.19 93.58,42.35 91.90,40.80C90.22,39.25 90.36,39.46 90.20,37.30Z" fill="#3a4f8a" stroke="#3a4f8a" stroke-width="2.6" stroke-linejoin="round"/>
<path d="M101.50,59.40C103.55,58.47 107.33,57.37 109.60,57.00C111.87,56.63 112.05,57.07 110.00,58.00C107.95,58.93 104.17,60.13 101.90,60.50C99.63,60.87 99.45,60.33 101.50,59.40Z" fill="#423f85" stroke="#423f85" stroke-width="3.6" stroke-linejoin="round"/>
<path d="M113.80,54.60C114.57,53.21 115.15,53.50 116.70,53.50C118.25,53.50 118.21,54.60 119.60,54.60C120.99,54.60 120.51,53.50 121.90,53.50C123.29,53.50 124.03,53.37 124.80,54.60C125.57,55.83 125.57,56.87 124.80,58.10C124.03,59.33 123.45,58.75 121.90,59.20C120.35,59.65 120.23,58.71 119.00,59.80C117.77,60.89 118.21,63.14 117.30,63.30C116.39,63.46 116.53,61.63 115.60,60.40C114.67,59.17 114.28,60.25 113.80,58.70C113.32,57.15 113.03,55.99 113.80,54.60Z" fill="#3e4989" stroke="#3e4989" stroke-width="4.1" stroke-linejoin="round"/>
<path d="M106.10,82.90C106.63,82.02 106.15,81.60 107.40,81.60C108.65,81.60 109.17,83.27 110.80,82.90C112.43,82.53 112.59,82.52 113.50,80.20C114.41,77.88 113.32,76.71 114.20,74.20C115.08,71.69 114.29,72.08 116.80,70.80C119.31,69.52 120.53,70.12 123.60,69.40C126.67,68.68 125.79,69.51 128.30,68.10C130.81,66.69 130.68,65.35 133.00,64.10C135.32,62.85 134.84,63.24 137.00,63.40C139.16,63.56 139.13,64.51 141.10,64.70C143.07,64.89 143.33,62.29 144.40,64.10C145.47,65.91 144.19,68.81 145.10,71.50C146.01,74.19 146.73,72.41 147.80,74.20C148.87,75.99 148.91,76.07 149.10,78.20C149.29,80.33 147.94,80.60 148.50,82.20C149.06,83.80 152.67,82.65 151.20,84.20C149.73,85.75 148.23,85.92 143.00,88.00C137.77,90.08 138.21,90.40 131.60,92.00C124.99,93.60 123.93,94.00 118.20,94.00C112.47,94.00 113.33,93.52 110.10,92.00C106.87,90.48 107.35,90.19 106.10,88.30C104.85,86.41 105.40,86.34 105.40,84.90C105.40,83.46 105.57,83.78 106.10,82.90Z" fill="#3f4788" stroke="#3f4788" stroke-width="2.6" stroke-linejoin="round"/>
<path d="M106.10,88.30C107.89,87.58 106.87,89.25 110.10,89.60C113.33,89.95 114.25,89.95 118.20,89.60C122.15,89.25 121.33,89.37 124.90,88.30C128.47,87.23 128.00,87.04 131.60,85.60C135.20,84.16 135.15,84.34 138.40,82.90C141.65,81.46 141.11,80.39 143.80,80.20C146.49,80.01 146.53,81.13 148.50,82.20C150.47,83.27 149.76,83.29 151.20,84.20C152.64,85.11 152.65,84.32 153.90,85.60C155.15,86.88 154.83,87.03 155.90,89.00C156.97,90.97 156.46,91.03 157.90,93.00C159.34,94.97 160.58,94.61 161.30,96.40C162.02,98.19 161.69,98.10 160.60,99.70C159.51,101.30 159.55,101.15 157.20,102.40C154.85,103.65 153.59,102.96 151.80,104.40C150.01,105.84 151.91,106.36 150.50,107.80C149.09,109.24 148.66,108.36 146.50,109.80C144.34,111.24 144.56,111.76 142.40,113.20C140.24,114.64 140.72,114.48 138.40,115.20C136.08,115.92 136.93,116.09 133.70,115.90C130.47,115.71 129.90,115.22 126.30,114.50C122.70,113.78 122.73,114.08 120.20,113.20C117.67,112.32 118.24,112.64 116.80,111.20C115.36,109.76 115.15,109.61 114.80,107.80C114.45,105.99 116.22,105.65 115.50,104.40C114.78,103.15 114.07,103.98 112.10,103.10C110.13,102.22 108.98,102.35 108.10,101.10C107.22,99.85 109.33,99.49 108.80,98.40C108.27,97.31 107.73,97.72 106.10,97.00C104.47,96.28 103.42,96.95 102.70,95.70C101.98,94.45 102.49,94.27 103.40,92.30C104.31,90.33 104.31,89.02 106.10,88.30Z" fill="#423f85" stroke="#423f85" stroke-width="2.6" stroke-linejoin="round"/>
<g clip-path="url(#allc)"><g filter="url(#bl)">
<ellipse cx="112.0" cy="31.0" rx="9.0" ry="4.0" fill="#2a788e" opacity="0.8"/>
<ellipse cx="128.0" cy="88.0" rx="12.0" ry="10.0" fill="#2f6d8e" opacity="0.8"/>
<ellipse cx="40.0" cy="78.0" rx="6.0" ry="3.0" fill="#6ccd5a" opacity="0.9"/>
<ellipse cx="36.0" cy="86.0" rx="3.0" ry="4.0" fill="#1f968b" opacity="0.9"/>
<ellipse cx="52.0" cy="63.0" rx="4.0" ry="4.0" fill="#c8e020" opacity="0.8"/>
<ellipse cx="62.0" cy="96.0" rx="6.0" ry="5.0" fill="#34618d" opacity="0.8"/>
<ellipse cx="95.0" cy="135.0" rx="9.0" ry="4.0" fill="#3b3f86" opacity="0.8"/>
</g></g>
</g>
<text x="230.50" y="11.36" font-size="6" text-anchor="middle" font-weight="normal" fill="#2b2b2b">COL6A2 (Fibroblast)</text>
<line x1="264.80" y1="16.30" x2="264.80" y2="74.02" stroke="#111" stroke-width="0.85" stroke-linecap="butt"/>
<line x1="264.38" y1="73.60" x2="322.80" y2="73.60" stroke="#111" stroke-width="0.85" stroke-linecap="butt"/>
<line x1="262.40" y1="35.20" x2="264.80" y2="35.20" stroke="#111" stroke-width="0.6" stroke-linecap="butt"/>
<line x1="262.40" y1="56.30" x2="264.80" y2="56.30" stroke="#111" stroke-width="0.6" stroke-linecap="butt"/>
<line x1="281.60" y1="73.60" x2="281.60" y2="76.20" stroke="#111" stroke-width="0.6" stroke-linecap="butt"/>
<line x1="303.20" y1="73.60" x2="303.20" y2="76.20" stroke="#111" stroke-width="0.6" stroke-linecap="butt"/>
<g transform="translate(266.70,18.50) scale(0.4030,0.4436) translate(-30.7,-25.4)" filter="url(#rough)">
<path d="M53.90,50.10C55.53,48.66 54.23,48.99 57.30,48.70C60.37,48.41 61.08,48.79 65.40,49.00C69.72,49.21 70.46,48.86 73.50,49.50C76.54,50.14 75.71,49.27 76.80,51.40C77.89,53.53 77.60,54.62 77.60,57.50C77.60,60.38 76.48,60.41 76.80,62.20C77.12,63.99 78.05,63.27 78.80,64.20C79.55,65.13 80.13,65.22 79.60,65.70C79.07,66.18 77.36,65.28 76.80,66.00C76.24,66.72 77.85,67.63 77.50,68.40C77.15,69.17 76.57,69.11 75.50,68.90C74.43,68.69 74.59,67.23 73.50,67.60C72.41,67.97 72.49,69.21 71.40,70.30C70.31,71.39 70.28,71.70 69.40,71.70C68.52,71.70 69.17,70.11 68.10,70.30C67.03,70.49 66.49,72.05 65.40,72.40C64.31,72.75 65.09,72.53 64.00,71.60C62.91,70.67 63.09,69.59 61.30,68.90C59.51,68.21 59.27,69.16 57.30,69.00C55.33,68.84 55.69,69.21 53.90,68.30C52.11,67.39 52.20,67.04 50.60,65.60C49.00,64.16 49.18,64.34 47.90,62.90C46.62,61.46 45.99,61.83 45.80,60.20C45.61,58.57 45.76,58.43 47.20,56.80C48.64,55.17 49.41,55.89 51.20,54.10C52.99,52.31 52.27,51.54 53.90,50.10Z" fill="#48135f" stroke="#48135f" stroke-width="2.6" stroke-linejoin="round"/>
<path d="M31.20,74.40C32.91,72.69 34.05,74.03 38.00,74.00C41.95,73.97 41.52,74.03 46.00,74.30C50.48,74.57 52.61,73.96 54.80,75.00C56.99,76.04 56.41,75.99 54.20,78.20C51.99,80.41 50.34,80.53 46.50,83.30C42.66,86.07 42.84,86.07 39.80,88.60C36.76,91.13 36.75,91.95 35.10,92.80C33.45,93.65 34.11,93.67 33.60,91.80C33.09,89.93 33.73,88.84 33.20,85.80C32.67,82.76 32.13,83.44 31.60,80.40C31.07,77.36 29.49,76.11 31.20,74.40Z" fill="#48135f" stroke="#48135f" stroke-width="2.6" stroke-linejoin="round"/>
<path d="M57.50,87.10C60.01,86.54 60.25,86.27 64.20,86.40C68.15,86.53 69.74,85.97 72.30,87.60C74.86,89.23 73.61,90.13 73.80,92.50C73.99,94.87 73.93,94.71 73.00,96.50C72.07,98.29 71.74,97.76 70.30,99.20C68.86,100.64 69.04,100.09 67.60,101.90C66.16,103.71 66.34,104.75 64.90,106.00C63.46,107.25 63.45,107.16 62.20,106.60C60.95,106.04 60.73,105.34 60.20,103.90C59.67,102.46 61.27,102.08 60.20,101.20C59.13,100.32 58.17,101.13 56.20,100.60C54.23,100.07 54.24,100.29 52.80,99.20C51.36,98.11 51.52,97.94 50.80,96.50C50.08,95.06 49.57,95.21 50.10,93.80C50.63,92.39 51.55,92.61 52.80,91.20C54.05,89.79 53.55,89.59 54.80,88.50C56.05,87.41 54.99,87.66 57.50,87.10Z" fill="#48135f" stroke="#48135f" stroke-width="2.6" stroke-linejoin="round"/>
<path d="M52.80,121.40C53.81,120.07 53.88,119.53 56.20,118.70C58.52,117.87 58.83,117.93 61.50,118.30C64.17,118.67 65.29,118.90 66.20,120.10C67.11,121.30 66.31,121.55 64.90,122.80C63.49,124.05 63.41,124.08 60.90,124.80C58.39,125.52 57.77,125.79 55.50,125.50C53.23,125.21 53.12,124.79 52.40,123.70C51.68,122.61 51.79,122.73 52.80,121.40Z" fill="#48135f" stroke="#48135f" stroke-width="7.1" stroke-linejoin="round"/>
<path d="M77.00,99.50C77.93,98.46 78.13,98.73 80.00,98.60C81.87,98.47 81.87,98.95 84.00,99.00C86.13,99.05 86.51,98.40 88.00,98.80C89.49,99.20 89.47,99.25 89.60,100.50C89.73,101.75 89.73,102.41 88.50,103.50C87.27,104.59 87.00,104.52 85.00,104.60C83.00,104.68 82.73,103.75 81.00,103.80C79.27,103.85 79.70,105.15 78.50,104.80C77.30,104.45 76.90,103.91 76.50,102.50C76.10,101.09 76.07,100.54 77.00,99.50Z" fill="#48135f" stroke="#48135f" stroke-width="5.6" stroke-linejoin="round"/>
<path d="M90.20,90.40C90.63,89.81 91.47,89.72 92.00,90.20C92.53,90.68 92.63,91.61 92.20,92.20C91.77,92.79 90.93,92.88 90.40,92.40C89.87,91.92 89.77,90.99 90.20,90.40Z" fill="#48135f" stroke="#48135f" stroke-width="4.1" stroke-linejoin="round"/>
<path d="M84.60,111.50C85.08,111.02 86.39,112.19 88.10,110.80C89.81,109.41 89.61,106.73 91.00,106.30C92.39,105.87 92.13,108.11 93.30,109.20C94.47,110.29 95.56,109.76 95.40,110.40C95.24,111.04 94.19,110.96 92.70,111.60C91.21,112.24 91.51,112.53 89.80,112.80C88.09,113.07 87.69,112.95 86.30,112.60C84.91,112.25 84.12,111.98 84.60,111.50Z" fill="#48135f" stroke="#48135f" stroke-width="5.1" stroke-linejoin="round"/>
<path d="M85.20,117.90C86.29,116.35 85.49,116.86 88.10,116.70C90.71,116.54 91.93,116.69 95.00,117.30C98.07,117.91 97.60,117.45 99.60,119.00C101.60,120.55 100.95,120.94 102.50,123.10C104.05,125.26 103.56,124.81 105.40,127.10C107.24,129.39 107.96,129.70 109.40,131.70C110.84,133.70 111.09,133.05 110.80,134.60C110.51,136.15 109.74,136.41 108.30,137.50C106.86,138.59 107.11,138.25 105.40,138.70C103.69,139.15 103.61,138.53 101.90,139.20C100.19,139.87 100.52,140.88 99.00,141.20C97.48,141.52 97.88,141.23 96.20,140.40C94.52,139.57 94.86,139.03 92.70,138.10C90.54,137.17 90.87,137.38 88.10,136.90C85.33,136.42 85.07,136.91 82.30,136.30C79.53,135.69 79.30,135.67 77.70,134.60C76.10,133.53 76.14,133.85 76.30,132.30C76.46,130.75 76.86,130.48 78.30,128.80C79.74,127.12 80.18,127.68 81.70,126.00C83.22,124.32 83.07,124.66 84.00,122.50C84.93,120.34 84.11,119.45 85.20,117.90Z" fill="#48135f" stroke="#48135f" stroke-width="2.6" stroke-linejoin="round"/>
<path d="M90.20,37.30C90.04,35.14 89.91,34.86 91.30,32.70C92.69,30.54 92.76,30.75 95.40,29.20C98.04,27.65 98.13,27.97 101.20,26.90C104.27,25.83 103.54,25.49 106.90,25.20C110.26,24.91 110.41,25.03 113.80,25.80C117.19,26.57 117.12,26.58 119.60,28.10C122.08,29.62 120.94,29.66 123.10,31.50C125.26,33.34 124.93,33.13 127.70,35.00C130.47,36.87 130.97,36.82 133.50,38.50C136.03,40.18 136.59,39.91 137.20,41.30C137.81,42.69 137.40,42.77 135.80,43.70C134.20,44.63 133.97,44.67 131.20,44.80C128.43,44.93 127.88,44.04 125.40,44.20C122.92,44.36 123.45,44.47 121.90,45.40C120.35,46.33 120.99,46.47 119.60,47.70C118.21,48.93 118.09,48.53 116.70,50.00C115.31,51.47 115.47,52.75 114.40,53.20C113.33,53.65 113.61,52.87 112.70,51.70C111.79,50.53 111.77,50.32 111.00,48.80C110.23,47.28 110.89,47.07 109.80,46.00C108.71,44.93 108.90,45.28 106.90,44.80C104.90,44.32 105.07,44.65 102.30,44.20C99.53,43.75 99.27,44.01 96.50,43.10C93.73,42.19 93.58,42.35 91.90,40.80C90.22,39.25 90.36,39.46 90.20,37.30Z" fill="#48135f" stroke="#48135f" stroke-width="2.6" stroke-linejoin="round"/>
<path d="M101.50,59.40C103.55,58.47 107.33,57.37 109.60,57.00C111.87,56.63 112.05,57.07 110.00,58.00C107.95,58.93 104.17,60.13 101.90,60.50C99.63,60.87 99.45,60.33 101.50,59.40Z" fill="#48135f" stroke="#48135f" stroke-width="3.6" stroke-linejoin="round"/>
<path d="M113.80,54.60C114.57,53.21 115.15,53.50 116.70,53.50C118.25,53.50 118.21,54.60 119.60,54.60C120.99,54.60 120.51,53.50 121.90,53.50C123.29,53.50 124.03,53.37 124.80,54.60C125.57,55.83 125.57,56.87 124.80,58.10C124.03,59.33 123.45,58.75 121.90,59.20C120.35,59.65 120.23,58.71 119.00,59.80C117.77,60.89 118.21,63.14 117.30,63.30C116.39,63.46 116.53,61.63 115.60,60.40C114.67,59.17 114.28,60.25 113.80,58.70C113.32,57.15 113.03,55.99 113.80,54.60Z" fill="#f4e61f" stroke="#f4e61f" stroke-width="4.1" stroke-linejoin="round"/>
<path d="M106.10,82.90C106.63,82.02 106.15,81.60 107.40,81.60C108.65,81.60 109.17,83.27 110.80,82.90C112.43,82.53 112.59,82.52 113.50,80.20C114.41,77.88 113.32,76.71 114.20,74.20C115.08,71.69 114.29,72.08 116.80,70.80C119.31,69.52 120.53,70.12 123.60,69.40C126.67,68.68 125.79,69.51 128.30,68.10C130.81,66.69 130.68,65.35 133.00,64.10C135.32,62.85 134.84,63.24 137.00,63.40C139.16,63.56 139.13,64.51 141.10,64.70C143.07,64.89 143.33,62.29 144.40,64.10C145.47,65.91 144.19,68.81 145.10,71.50C146.01,74.19 146.73,72.41 147.80,74.20C148.87,75.99 148.91,76.07 149.10,78.20C149.29,80.33 147.94,80.60 148.50,82.20C149.06,83.80 152.67,82.65 151.20,84.20C149.73,85.75 148.23,85.92 143.00,88.00C137.77,90.08 138.21,90.40 131.60,92.00C124.99,93.60 123.93,94.00 118.20,94.00C112.47,94.00 113.33,93.52 110.10,92.00C106.87,90.48 107.35,90.19 106.10,88.30C104.85,86.41 105.40,86.34 105.40,84.90C105.40,83.46 105.57,83.78 106.10,82.90Z" fill="#3f3d80" stroke="#3f3d80" stroke-width="2.6" stroke-linejoin="round"/>
<path d="M106.10,88.30C107.89,87.58 106.87,89.25 110.10,89.60C113.33,89.95 114.25,89.95 118.20,89.60C122.15,89.25 121.33,89.37 124.90,88.30C128.47,87.23 128.00,87.04 131.60,85.60C135.20,84.16 135.15,84.34 138.40,82.90C141.65,81.46 141.11,80.39 143.80,80.20C146.49,80.01 146.53,81.13 148.50,82.20C150.47,83.27 149.76,83.29 151.20,84.20C152.64,85.11 152.65,84.32 153.90,85.60C155.15,86.88 154.83,87.03 155.90,89.00C156.97,90.97 156.46,91.03 157.90,93.00C159.34,94.97 160.58,94.61 161.30,96.40C162.02,98.19 161.69,98.10 160.60,99.70C159.51,101.30 159.55,101.15 157.20,102.40C154.85,103.65 153.59,102.96 151.80,104.40C150.01,105.84 151.91,106.36 150.50,107.80C149.09,109.24 148.66,108.36 146.50,109.80C144.34,111.24 144.56,111.76 142.40,113.20C140.24,114.64 140.72,114.48 138.40,115.20C136.08,115.92 136.93,116.09 133.70,115.90C130.47,115.71 129.90,115.22 126.30,114.50C122.70,113.78 122.73,114.08 120.20,113.20C117.67,112.32 118.24,112.64 116.80,111.20C115.36,109.76 115.15,109.61 114.80,107.80C114.45,105.99 116.22,105.65 115.50,104.40C114.78,103.15 114.07,103.98 112.10,103.10C110.13,102.22 108.98,102.35 108.10,101.10C107.22,99.85 109.33,99.49 108.80,98.40C108.27,97.31 107.73,97.72 106.10,97.00C104.47,96.28 103.42,96.95 102.70,95.70C101.98,94.45 102.49,94.27 103.40,92.30C104.31,90.33 104.31,89.02 106.10,88.30Z" fill="#3a4d8a" stroke="#3a4d8a" stroke-width="2.6" stroke-linejoin="round"/>
<g clip-path="url(#allc)"><g filter="url(#bl)">
<ellipse cx="117.0" cy="86.0" rx="7.0" ry="9.0" fill="#27ad81" opacity="0.95"/>
<ellipse cx="123.0" cy="100.0" rx="9.0" ry="8.0" fill="#44bf70" opacity="0.9"/>
<ellipse cx="112.0" cy="96.0" rx="5.0" ry="6.0" fill="#6ece58" opacity="0.85"/>
<ellipse cx="141.0" cy="92.0" rx="10.0" ry="12.0" fill="#3b5a8c" opacity="0.95"/>
<ellipse cx="151.0" cy="100.0" rx="8.0" ry="8.0" fill="#34618d" opacity="0.9"/>
<ellipse cx="133.0" cy="109.0" rx="9.0" ry="5.0" fill="#46327e" opacity="0.95"/>
<ellipse cx="128.0" cy="73.0" rx="8.0" ry="5.0" fill="#46327e" opacity="0.95"/>
<ellipse cx="127.0" cy="90.0" rx="4.0" ry="7.0" fill="#a0da39" opacity="0.6"/>
<ellipse cx="134.0" cy="96.0" rx="4.0" ry="5.0" fill="#2c728e" opacity="0.9"/>
<ellipse cx="118.0" cy="108.0" rx="5.0" ry="4.0" fill="#2a788e" opacity="0.9"/>
<ellipse cx="142.0" cy="76.0" rx="5.0" ry="6.0" fill="#3e4989" opacity="0.9"/>
<ellipse cx="121.6" cy="83.1" rx="2.1" ry="1.3" fill="#35b479" opacity="0.85"/>
<ellipse cx="112.0" cy="97.8" rx="2.5" ry="1.5" fill="#5ec962" opacity="0.85"/>
<ellipse cx="126.2" cy="80.4" rx="1.3" ry="1.8" fill="#35b479" opacity="0.85"/>
<ellipse cx="113.2" cy="85.6" rx="2.1" ry="2.5" fill="#35b479" opacity="0.85"/>
<ellipse cx="132.6" cy="79.7" rx="1.5" ry="2.0" fill="#21918c" opacity="0.85"/>
<ellipse cx="120.2" cy="82.9" rx="1.4" ry="1.6" fill="#21918c" opacity="0.85"/>
<ellipse cx="112.3" cy="97.4" rx="1.5" ry="1.3" fill="#5ec962" opacity="0.85"/>
<ellipse cx="131.7" cy="99.0" rx="1.9" ry="1.9" fill="#3b528b" opacity="0.85"/>
<ellipse cx="127.6" cy="109.4" rx="1.7" ry="1.5" fill="#21918c" opacity="0.85"/>
<ellipse cx="137.4" cy="86.3" rx="2.0" ry="1.9" fill="#3b528b" opacity="0.85"/>
<ellipse cx="138.6" cy="87.8" rx="2.6" ry="1.4" fill="#472d7b" opacity="0.85"/>
<ellipse cx="114.9" cy="89.6" rx="2.5" ry="1.8" fill="#5ec962" opacity="0.85"/>
</g></g>
</g>
<text x="293.30" y="11.36" font-size="6" text-anchor="middle" font-weight="normal" fill="#2b2b2b">MS4A1 (B cell)</text>
<line x1="327.60" y1="16.30" x2="327.60" y2="74.02" stroke="#111" stroke-width="0.85" stroke-linecap="butt"/>
<line x1="327.18" y1="73.60" x2="385.60" y2="73.60" stroke="#111" stroke-width="0.85" stroke-linecap="butt"/>
<line x1="325.20" y1="35.20" x2="327.60" y2="35.20" stroke="#111" stroke-width="0.6" stroke-linecap="butt"/>
<line x1="325.20" y1="56.30" x2="327.60" y2="56.30" stroke="#111" stroke-width="0.6" stroke-linecap="butt"/>
<line x1="344.40" y1="73.60" x2="344.40" y2="76.20" stroke="#111" stroke-width="0.6" stroke-linecap="butt"/>
<line x1="366.00" y1="73.60" x2="366.00" y2="76.20" stroke="#111" stroke-width="0.6" stroke-linecap="butt"/>
<g transform="translate(329.50,18.50) scale(0.4030,0.4436) translate(-30.7,-25.4)" filter="url(#rough)">
<path d="M53.90,50.10C55.53,48.66 54.23,48.99 57.30,48.70C60.37,48.41 61.08,48.79 65.40,49.00C69.72,49.21 70.46,48.86 73.50,49.50C76.54,50.14 75.71,49.27 76.80,51.40C77.89,53.53 77.60,54.62 77.60,57.50C77.60,60.38 76.48,60.41 76.80,62.20C77.12,63.99 78.05,63.27 78.80,64.20C79.55,65.13 80.13,65.22 79.60,65.70C79.07,66.18 77.36,65.28 76.80,66.00C76.24,66.72 77.85,67.63 77.50,68.40C77.15,69.17 76.57,69.11 75.50,68.90C74.43,68.69 74.59,67.23 73.50,67.60C72.41,67.97 72.49,69.21 71.40,70.30C70.31,71.39 70.28,71.70 69.40,71.70C68.52,71.70 69.17,70.11 68.10,70.30C67.03,70.49 66.49,72.05 65.40,72.40C64.31,72.75 65.09,72.53 64.00,71.60C62.91,70.67 63.09,69.59 61.30,68.90C59.51,68.21 59.27,69.16 57.30,69.00C55.33,68.84 55.69,69.21 53.90,68.30C52.11,67.39 52.20,67.04 50.60,65.60C49.00,64.16 49.18,64.34 47.90,62.90C46.62,61.46 45.99,61.83 45.80,60.20C45.61,58.57 45.76,58.43 47.20,56.80C48.64,55.17 49.41,55.89 51.20,54.10C52.99,52.31 52.27,51.54 53.90,50.10Z" fill="#33638d" stroke="#33638d" stroke-width="2.6" stroke-linejoin="round"/>
<path d="M31.20,74.40C32.91,72.69 34.05,74.03 38.00,74.00C41.95,73.97 41.52,74.03 46.00,74.30C50.48,74.57 52.61,73.96 54.80,75.00C56.99,76.04 56.41,75.99 54.20,78.20C51.99,80.41 50.34,80.53 46.50,83.30C42.66,86.07 42.84,86.07 39.80,88.60C36.76,91.13 36.75,91.95 35.10,92.80C33.45,93.65 34.11,93.67 33.60,91.80C33.09,89.93 33.73,88.84 33.20,85.80C32.67,82.76 32.13,83.44 31.60,80.40C31.07,77.36 29.49,76.11 31.20,74.40Z" fill="#2f6f8e" stroke="#2f6f8e" stroke-width="2.6" stroke-linejoin="round"/>
<path d="M57.50,87.10C60.01,86.54 60.25,86.27 64.20,86.40C68.15,86.53 69.74,85.97 72.30,87.60C74.86,89.23 73.61,90.13 73.80,92.50C73.99,94.87 73.93,94.71 73.00,96.50C72.07,98.29 71.74,97.76 70.30,99.20C68.86,100.64 69.04,100.09 67.60,101.90C66.16,103.71 66.34,104.75 64.90,106.00C63.46,107.25 63.45,107.16 62.20,106.60C60.95,106.04 60.73,105.34 60.20,103.90C59.67,102.46 61.27,102.08 60.20,101.20C59.13,100.32 58.17,101.13 56.20,100.60C54.23,100.07 54.24,100.29 52.80,99.20C51.36,98.11 51.52,97.94 50.80,96.50C50.08,95.06 49.57,95.21 50.10,93.80C50.63,92.39 51.55,92.61 52.80,91.20C54.05,89.79 53.55,89.59 54.80,88.50C56.05,87.41 54.99,87.66 57.50,87.10Z" fill="#25838e" stroke="#25838e" stroke-width="2.6" stroke-linejoin="round"/>
<path d="M52.80,121.40C53.81,120.07 53.88,119.53 56.20,118.70C58.52,117.87 58.83,117.93 61.50,118.30C64.17,118.67 65.29,118.90 66.20,120.10C67.11,121.30 66.31,121.55 64.90,122.80C63.49,124.05 63.41,124.08 60.90,124.80C58.39,125.52 57.77,125.79 55.50,125.50C53.23,125.21 53.12,124.79 52.40,123.70C51.68,122.61 51.79,122.73 52.80,121.40Z" fill="#2a788e" stroke="#2a788e" stroke-width="7.1" stroke-linejoin="round"/>
<path d="M77.00,99.50C77.93,98.46 78.13,98.73 80.00,98.60C81.87,98.47 81.87,98.95 84.00,99.00C86.13,99.05 86.51,98.40 88.00,98.80C89.49,99.20 89.47,99.25 89.60,100.50C89.73,101.75 89.73,102.41 88.50,103.50C87.27,104.59 87.00,104.52 85.00,104.60C83.00,104.68 82.73,103.75 81.00,103.80C79.27,103.85 79.70,105.15 78.50,104.80C77.30,104.45 76.90,103.91 76.50,102.50C76.10,101.09 76.07,100.54 77.00,99.50Z" fill="#2a788e" stroke="#2a788e" stroke-width="5.6" stroke-linejoin="round"/>
<path d="M90.20,90.40C90.63,89.81 91.47,89.72 92.00,90.20C92.53,90.68 92.63,91.61 92.20,92.20C91.77,92.79 90.93,92.88 90.40,92.40C89.87,91.92 89.77,90.99 90.20,90.40Z" fill="#2f6c8e" stroke="#2f6c8e" stroke-width="4.1" stroke-linejoin="round"/>
<path d="M84.60,111.50C85.08,111.02 86.39,112.19 88.10,110.80C89.81,109.41 89.61,106.73 91.00,106.30C92.39,105.87 92.13,108.11 93.30,109.20C94.47,110.29 95.56,109.76 95.40,110.40C95.24,111.04 94.19,110.96 92.70,111.60C91.21,112.24 91.51,112.53 89.80,112.80C88.09,113.07 87.69,112.95 86.30,112.60C84.91,112.25 84.12,111.98 84.60,111.50Z" fill="#3aa57c" stroke="#3aa57c" stroke-width="5.1" stroke-linejoin="round"/>
<path d="M85.20,117.90C86.29,116.35 85.49,116.86 88.10,116.70C90.71,116.54 91.93,116.69 95.00,117.30C98.07,117.91 97.60,117.45 99.60,119.00C101.60,120.55 100.95,120.94 102.50,123.10C104.05,125.26 103.56,124.81 105.40,127.10C107.24,129.39 107.96,129.70 109.40,131.70C110.84,133.70 111.09,133.05 110.80,134.60C110.51,136.15 109.74,136.41 108.30,137.50C106.86,138.59 107.11,138.25 105.40,138.70C103.69,139.15 103.61,138.53 101.90,139.20C100.19,139.87 100.52,140.88 99.00,141.20C97.48,141.52 97.88,141.23 96.20,140.40C94.52,139.57 94.86,139.03 92.70,138.10C90.54,137.17 90.87,137.38 88.10,136.90C85.33,136.42 85.07,136.91 82.30,136.30C79.53,135.69 79.30,135.67 77.70,134.60C76.10,133.53 76.14,133.85 76.30,132.30C76.46,130.75 76.86,130.48 78.30,128.80C79.74,127.12 80.18,127.68 81.70,126.00C83.22,124.32 83.07,124.66 84.00,122.50C84.93,120.34 84.11,119.45 85.20,117.90Z" fill="#e8e41f" stroke="#e8e41f" stroke-width="2.6" stroke-linejoin="round"/>
<path d="M90.20,37.30C90.04,35.14 89.91,34.86 91.30,32.70C92.69,30.54 92.76,30.75 95.40,29.20C98.04,27.65 98.13,27.97 101.20,26.90C104.27,25.83 103.54,25.49 106.90,25.20C110.26,24.91 110.41,25.03 113.80,25.80C117.19,26.57 117.12,26.58 119.60,28.10C122.08,29.62 120.94,29.66 123.10,31.50C125.26,33.34 124.93,33.13 127.70,35.00C130.47,36.87 130.97,36.82 133.50,38.50C136.03,40.18 136.59,39.91 137.20,41.30C137.81,42.69 137.40,42.77 135.80,43.70C134.20,44.63 133.97,44.67 131.20,44.80C128.43,44.93 127.88,44.04 125.40,44.20C122.92,44.36 123.45,44.47 121.90,45.40C120.35,46.33 120.99,46.47 119.60,47.70C118.21,48.93 118.09,48.53 116.70,50.00C115.31,51.47 115.47,52.75 114.40,53.20C113.33,53.65 113.61,52.87 112.70,51.70C111.79,50.53 111.77,50.32 111.00,48.80C110.23,47.28 110.89,47.07 109.80,46.00C108.71,44.93 108.90,45.28 106.90,44.80C104.90,44.32 105.07,44.65 102.30,44.20C99.53,43.75 99.27,44.01 96.50,43.10C93.73,42.19 93.58,42.35 91.90,40.80C90.22,39.25 90.36,39.46 90.20,37.30Z" fill="#23898e" stroke="#23898e" stroke-width="2.6" stroke-linejoin="round"/>
<path d="M101.50,59.40C103.55,58.47 107.33,57.37 109.60,57.00C111.87,56.63 112.05,57.07 110.00,58.00C107.95,58.93 104.17,60.13 101.90,60.50C99.63,60.87 99.45,60.33 101.50,59.40Z" fill="#2f6c8e" stroke="#2f6c8e" stroke-width="3.6" stroke-linejoin="round"/>
<path d="M113.80,54.60C114.57,53.21 115.15,53.50 116.70,53.50C118.25,53.50 118.21,54.60 119.60,54.60C120.99,54.60 120.51,53.50 121.90,53.50C123.29,53.50 124.03,53.37 124.80,54.60C125.57,55.83 125.57,56.87 124.80,58.10C124.03,59.33 123.45,58.75 121.90,59.20C120.35,59.65 120.23,58.71 119.00,59.80C117.77,60.89 118.21,63.14 117.30,63.30C116.39,63.46 116.53,61.63 115.60,60.40C114.67,59.17 114.28,60.25 113.80,58.70C113.32,57.15 113.03,55.99 113.80,54.60Z" fill="#2d718e" stroke="#2d718e" stroke-width="4.1" stroke-linejoin="round"/>
<path d="M106.10,82.90C106.63,82.02 106.15,81.60 107.40,81.60C108.65,81.60 109.17,83.27 110.80,82.90C112.43,82.53 112.59,82.52 113.50,80.20C114.41,77.88 113.32,76.71 114.20,74.20C115.08,71.69 114.29,72.08 116.80,70.80C119.31,69.52 120.53,70.12 123.60,69.40C126.67,68.68 125.79,69.51 128.30,68.10C130.81,66.69 130.68,65.35 133.00,64.10C135.32,62.85 134.84,63.24 137.00,63.40C139.16,63.56 139.13,64.51 141.10,64.70C143.07,64.89 143.33,62.29 144.40,64.10C145.47,65.91 144.19,68.81 145.10,71.50C146.01,74.19 146.73,72.41 147.80,74.20C148.87,75.99 148.91,76.07 149.10,78.20C149.29,80.33 147.94,80.60 148.50,82.20C149.06,83.80 152.67,82.65 151.20,84.20C149.73,85.75 148.23,85.92 143.00,88.00C137.77,90.08 138.21,90.40 131.60,92.00C124.99,93.60 123.93,94.00 118.20,94.00C112.47,94.00 113.33,93.52 110.10,92.00C106.87,90.48 107.35,90.19 106.10,88.30C104.85,86.41 105.40,86.34 105.40,84.90C105.40,83.46 105.57,83.78 106.10,82.90Z" fill="#2c748e" stroke="#2c748e" stroke-width="2.6" stroke-linejoin="round"/>
<path d="M106.10,88.30C107.89,87.58 106.87,89.25 110.10,89.60C113.33,89.95 114.25,89.95 118.20,89.60C122.15,89.25 121.33,89.37 124.90,88.30C128.47,87.23 128.00,87.04 131.60,85.60C135.20,84.16 135.15,84.34 138.40,82.90C141.65,81.46 141.11,80.39 143.80,80.20C146.49,80.01 146.53,81.13 148.50,82.20C150.47,83.27 149.76,83.29 151.20,84.20C152.64,85.11 152.65,84.32 153.90,85.60C155.15,86.88 154.83,87.03 155.90,89.00C156.97,90.97 156.46,91.03 157.90,93.00C159.34,94.97 160.58,94.61 161.30,96.40C162.02,98.19 161.69,98.10 160.60,99.70C159.51,101.30 159.55,101.15 157.20,102.40C154.85,103.65 153.59,102.96 151.80,104.40C150.01,105.84 151.91,106.36 150.50,107.80C149.09,109.24 148.66,108.36 146.50,109.80C144.34,111.24 144.56,111.76 142.40,113.20C140.24,114.64 140.72,114.48 138.40,115.20C136.08,115.92 136.93,116.09 133.70,115.90C130.47,115.71 129.90,115.22 126.30,114.50C122.70,113.78 122.73,114.08 120.20,113.20C117.67,112.32 118.24,112.64 116.80,111.20C115.36,109.76 115.15,109.61 114.80,107.80C114.45,105.99 116.22,105.65 115.50,104.40C114.78,103.15 114.07,103.98 112.10,103.10C110.13,102.22 108.98,102.35 108.10,101.10C107.22,99.85 109.33,99.49 108.80,98.40C108.27,97.31 107.73,97.72 106.10,97.00C104.47,96.28 103.42,96.95 102.70,95.70C101.98,94.45 102.49,94.27 103.40,92.30C104.31,90.33 104.31,89.02 106.10,88.30Z" fill="#2e6e8e" stroke="#2e6e8e" stroke-width="2.6" stroke-linejoin="round"/>
<g clip-path="url(#allc)"><g filter="url(#bl)">
<ellipse cx="130.0" cy="38.0" rx="8.0" ry="5.0" fill="#35b479" opacity="0.9"/>
<ellipse cx="104.0" cy="134.0" rx="7.0" ry="6.0" fill="#35b479" opacity="0.9"/>
<ellipse cx="86.0" cy="128.0" rx="8.0" ry="9.0" fill="#fde725" opacity="0.9"/>
<ellipse cx="100.0" cy="30.0" rx="8.0" ry="4.0" fill="#26828e" opacity="0.9"/>
<ellipse cx="135.0" cy="84.0" rx="14.0" ry="10.0" fill="#2a7b8e" opacity="0.8"/>
<ellipse cx="150.0" cy="100.0" rx="8.0" ry="8.0" fill="#3b5a8c" opacity="0.7"/>
<ellipse cx="60.0" cy="56.0" rx="8.0" ry="6.0" fill="#2e6f8e" opacity="0.8"/>
<ellipse cx="62.0" cy="96.0" rx="7.0" ry="6.0" fill="#1f9a8a" opacity="0.8"/>
</g></g>
</g>
<text x="356.10" y="11.36" font-size="6" text-anchor="middle" font-weight="normal" fill="#2b2b2b">KRT14 (Keratinocyte)</text>
<line x1="390.40" y1="16.30" x2="390.40" y2="74.02" stroke="#111" stroke-width="0.85" stroke-linecap="butt"/>
<line x1="389.97" y1="73.60" x2="448.40" y2="73.60" stroke="#111" stroke-width="0.85" stroke-linecap="butt"/>
<line x1="388.00" y1="35.20" x2="390.40" y2="35.20" stroke="#111" stroke-width="0.6" stroke-linecap="butt"/>
<line x1="388.00" y1="56.30" x2="390.40" y2="56.30" stroke="#111" stroke-width="0.6" stroke-linecap="butt"/>
<line x1="407.20" y1="73.60" x2="407.20" y2="76.20" stroke="#111" stroke-width="0.6" stroke-linecap="butt"/>
<line x1="428.80" y1="73.60" x2="428.80" y2="76.20" stroke="#111" stroke-width="0.6" stroke-linecap="butt"/>
<g transform="translate(392.30,18.50) scale(0.4030,0.4436) translate(-30.7,-25.4)" filter="url(#rough)">
<path d="M53.90,50.10C55.53,48.66 54.23,48.99 57.30,48.70C60.37,48.41 61.08,48.79 65.40,49.00C69.72,49.21 70.46,48.86 73.50,49.50C76.54,50.14 75.71,49.27 76.80,51.40C77.89,53.53 77.60,54.62 77.60,57.50C77.60,60.38 76.48,60.41 76.80,62.20C77.12,63.99 78.05,63.27 78.80,64.20C79.55,65.13 80.13,65.22 79.60,65.70C79.07,66.18 77.36,65.28 76.80,66.00C76.24,66.72 77.85,67.63 77.50,68.40C77.15,69.17 76.57,69.11 75.50,68.90C74.43,68.69 74.59,67.23 73.50,67.60C72.41,67.97 72.49,69.21 71.40,70.30C70.31,71.39 70.28,71.70 69.40,71.70C68.52,71.70 69.17,70.11 68.10,70.30C67.03,70.49 66.49,72.05 65.40,72.40C64.31,72.75 65.09,72.53 64.00,71.60C62.91,70.67 63.09,69.59 61.30,68.90C59.51,68.21 59.27,69.16 57.30,69.00C55.33,68.84 55.69,69.21 53.90,68.30C52.11,67.39 52.20,67.04 50.60,65.60C49.00,64.16 49.18,64.34 47.90,62.90C46.62,61.46 45.99,61.83 45.80,60.20C45.61,58.57 45.76,58.43 47.20,56.80C48.64,55.17 49.41,55.89 51.20,54.10C52.99,52.31 52.27,51.54 53.90,50.10Z" fill="#48135f" stroke="#48135f" stroke-width="2.6" stroke-linejoin="round"/>
<path d="M31.20,74.40C32.91,72.69 34.05,74.03 38.00,74.00C41.95,73.97 41.52,74.03 46.00,74.30C50.48,74.57 52.61,73.96 54.80,75.00C56.99,76.04 56.41,75.99 54.20,78.20C51.99,80.41 50.34,80.53 46.50,83.30C42.66,86.07 42.84,86.07 39.80,88.60C36.76,91.13 36.75,91.95 35.10,92.80C33.45,93.65 34.11,93.67 33.60,91.80C33.09,89.93 33.73,88.84 33.20,85.80C32.67,82.76 32.13,83.44 31.60,80.40C31.07,77.36 29.49,76.11 31.20,74.40Z" fill="#48135f" stroke="#48135f" stroke-width="2.6" stroke-linejoin="round"/>
<path d="M57.50,87.10C60.01,86.54 60.25,86.27 64.20,86.40C68.15,86.53 69.74,85.97 72.30,87.60C74.86,89.23 73.61,90.13 73.80,92.50C73.99,94.87 73.93,94.71 73.00,96.50C72.07,98.29 71.74,97.76 70.30,99.20C68.86,100.64 69.04,100.09 67.60,101.90C66.16,103.71 66.34,104.75 64.90,106.00C63.46,107.25 63.45,107.16 62.20,106.60C60.95,106.04 60.73,105.34 60.20,103.90C59.67,102.46 61.27,102.08 60.20,101.20C59.13,100.32 58.17,101.13 56.20,100.60C54.23,100.07 54.24,100.29 52.80,99.20C51.36,98.11 51.52,97.94 50.80,96.50C50.08,95.06 49.57,95.21 50.10,93.80C50.63,92.39 51.55,92.61 52.80,91.20C54.05,89.79 53.55,89.59 54.80,88.50C56.05,87.41 54.99,87.66 57.50,87.10Z" fill="#48135f" stroke="#48135f" stroke-width="2.6" stroke-linejoin="round"/>
<path d="M52.80,121.40C53.81,120.07 53.88,119.53 56.20,118.70C58.52,117.87 58.83,117.93 61.50,118.30C64.17,118.67 65.29,118.90 66.20,120.10C67.11,121.30 66.31,121.55 64.90,122.80C63.49,124.05 63.41,124.08 60.90,124.80C58.39,125.52 57.77,125.79 55.50,125.50C53.23,125.21 53.12,124.79 52.40,123.70C51.68,122.61 51.79,122.73 52.80,121.40Z" fill="#48135f" stroke="#48135f" stroke-width="7.1" stroke-linejoin="round"/>
<path d="M77.00,99.50C77.93,98.46 78.13,98.73 80.00,98.60C81.87,98.47 81.87,98.95 84.00,99.00C86.13,99.05 86.51,98.40 88.00,98.80C89.49,99.20 89.47,99.25 89.60,100.50C89.73,101.75 89.73,102.41 88.50,103.50C87.27,104.59 87.00,104.52 85.00,104.60C83.00,104.68 82.73,103.75 81.00,103.80C79.27,103.85 79.70,105.15 78.50,104.80C77.30,104.45 76.90,103.91 76.50,102.50C76.10,101.09 76.07,100.54 77.00,99.50Z" fill="#48135f" stroke="#48135f" stroke-width="5.6" stroke-linejoin="round"/>
<path d="M90.20,90.40C90.63,89.81 91.47,89.72 92.00,90.20C92.53,90.68 92.63,91.61 92.20,92.20C91.77,92.79 90.93,92.88 90.40,92.40C89.87,91.92 89.77,90.99 90.20,90.40Z" fill="#48135f" stroke="#48135f" stroke-width="4.1" stroke-linejoin="round"/>
<path d="M84.60,111.50C85.08,111.02 86.39,112.19 88.10,110.80C89.81,109.41 89.61,106.73 91.00,106.30C92.39,105.87 92.13,108.11 93.30,109.20C94.47,110.29 95.56,109.76 95.40,110.40C95.24,111.04 94.19,110.96 92.70,111.60C91.21,112.24 91.51,112.53 89.80,112.80C88.09,113.07 87.69,112.95 86.30,112.60C84.91,112.25 84.12,111.98 84.60,111.50Z" fill="#48135f" stroke="#48135f" stroke-width="5.1" stroke-linejoin="round"/>
<path d="M85.20,117.90C86.29,116.35 85.49,116.86 88.10,116.70C90.71,116.54 91.93,116.69 95.00,117.30C98.07,117.91 97.60,117.45 99.60,119.00C101.60,120.55 100.95,120.94 102.50,123.10C104.05,125.26 103.56,124.81 105.40,127.10C107.24,129.39 107.96,129.70 109.40,131.70C110.84,133.70 111.09,133.05 110.80,134.60C110.51,136.15 109.74,136.41 108.30,137.50C106.86,138.59 107.11,138.25 105.40,138.70C103.69,139.15 103.61,138.53 101.90,139.20C100.19,139.87 100.52,140.88 99.00,141.20C97.48,141.52 97.88,141.23 96.20,140.40C94.52,139.57 94.86,139.03 92.70,138.10C90.54,137.17 90.87,137.38 88.10,136.90C85.33,136.42 85.07,136.91 82.30,136.30C79.53,135.69 79.30,135.67 77.70,134.60C76.10,133.53 76.14,133.85 76.30,132.30C76.46,130.75 76.86,130.48 78.30,128.80C79.74,127.12 80.18,127.68 81.70,126.00C83.22,124.32 83.07,124.66 84.00,122.50C84.93,120.34 84.11,119.45 85.20,117.90Z" fill="#48135f" stroke="#48135f" stroke-width="2.6" stroke-linejoin="round"/>
<path d="M90.20,37.30C90.04,35.14 89.91,34.86 91.30,32.70C92.69,30.54 92.76,30.75 95.40,29.20C98.04,27.65 98.13,27.97 101.20,26.90C104.27,25.83 103.54,25.49 106.90,25.20C110.26,24.91 110.41,25.03 113.80,25.80C117.19,26.57 117.12,26.58 119.60,28.10C122.08,29.62 120.94,29.66 123.10,31.50C125.26,33.34 124.93,33.13 127.70,35.00C130.47,36.87 130.97,36.82 133.50,38.50C136.03,40.18 136.59,39.91 137.20,41.30C137.81,42.69 137.40,42.77 135.80,43.70C134.20,44.63 133.97,44.67 131.20,44.80C128.43,44.93 127.88,44.04 125.40,44.20C122.92,44.36 123.45,44.47 121.90,45.40C120.35,46.33 120.99,46.47 119.60,47.70C118.21,48.93 118.09,48.53 116.70,50.00C115.31,51.47 115.47,52.75 114.40,53.20C113.33,53.65 113.61,52.87 112.70,51.70C111.79,50.53 111.77,50.32 111.00,48.80C110.23,47.28 110.89,47.07 109.80,46.00C108.71,44.93 108.90,45.28 106.90,44.80C104.90,44.32 105.07,44.65 102.30,44.20C99.53,43.75 99.27,44.01 96.50,43.10C93.73,42.19 93.58,42.35 91.90,40.80C90.22,39.25 90.36,39.46 90.20,37.30Z" fill="#453781" stroke="#453781" stroke-width="2.6" stroke-linejoin="round"/>
<path d="M101.50,59.40C103.55,58.47 107.33,57.37 109.60,57.00C111.87,56.63 112.05,57.07 110.00,58.00C107.95,58.93 104.17,60.13 101.90,60.50C99.63,60.87 99.45,60.33 101.50,59.40Z" fill="#48135f" stroke="#48135f" stroke-width="3.6" stroke-linejoin="round"/>
<path d="M113.80,54.60C114.57,53.21 115.15,53.50 116.70,53.50C118.25,53.50 118.21,54.60 119.60,54.60C120.99,54.60 120.51,53.50 121.90,53.50C123.29,53.50 124.03,53.37 124.80,54.60C125.57,55.83 125.57,56.87 124.80,58.10C124.03,59.33 123.45,58.75 121.90,59.20C120.35,59.65 120.23,58.71 119.00,59.80C117.77,60.89 118.21,63.14 117.30,63.30C116.39,63.46 116.53,61.63 115.60,60.40C114.67,59.17 114.28,60.25 113.80,58.70C113.32,57.15 113.03,55.99 113.80,54.60Z" fill="#48135f" stroke="#48135f" stroke-width="4.1" stroke-linejoin="round"/>
<path d="M106.10,82.90C106.63,82.02 106.15,81.60 107.40,81.60C108.65,81.60 109.17,83.27 110.80,82.90C112.43,82.53 112.59,82.52 113.50,80.20C114.41,77.88 113.32,76.71 114.20,74.20C115.08,71.69 114.29,72.08 116.80,70.80C119.31,69.52 120.53,70.12 123.60,69.40C126.67,68.68 125.79,69.51 128.30,68.10C130.81,66.69 130.68,65.35 133.00,64.10C135.32,62.85 134.84,63.24 137.00,63.40C139.16,63.56 139.13,64.51 141.10,64.70C143.07,64.89 143.33,62.29 144.40,64.10C145.47,65.91 144.19,68.81 145.10,71.50C146.01,74.19 146.73,72.41 147.80,74.20C148.87,75.99 148.91,76.07 149.10,78.20C149.29,80.33 147.94,80.60 148.50,82.20C149.06,83.80 152.67,82.65 151.20,84.20C149.73,85.75 148.23,85.92 143.00,88.00C137.77,90.08 138.21,90.40 131.60,92.00C124.99,93.60 123.93,94.00 118.20,94.00C112.47,94.00 113.33,93.52 110.10,92.00C106.87,90.48 107.35,90.19 106.10,88.30C104.85,86.41 105.40,86.34 105.40,84.90C105.40,83.46 105.57,83.78 106.10,82.90Z" fill="#48135f" stroke="#48135f" stroke-width="2.6" stroke-linejoin="round"/>
<path d="M106.10,88.30C107.89,87.58 106.87,89.25 110.10,89.60C113.33,89.95 114.25,89.95 118.20,89.60C122.15,89.25 121.33,89.37 124.90,88.30C128.47,87.23 128.00,87.04 131.60,85.60C135.20,84.16 135.15,84.34 138.40,82.90C141.65,81.46 141.11,80.39 143.80,80.20C146.49,80.01 146.53,81.13 148.50,82.20C150.47,83.27 149.76,83.29 151.20,84.20C152.64,85.11 152.65,84.32 153.90,85.60C155.15,86.88 154.83,87.03 155.90,89.00C156.97,90.97 156.46,91.03 157.90,93.00C159.34,94.97 160.58,94.61 161.30,96.40C162.02,98.19 161.69,98.10 160.60,99.70C159.51,101.30 159.55,101.15 157.20,102.40C154.85,103.65 153.59,102.96 151.80,104.40C150.01,105.84 151.91,106.36 150.50,107.80C149.09,109.24 148.66,108.36 146.50,109.80C144.34,111.24 144.56,111.76 142.40,113.20C140.24,114.64 140.72,114.48 138.40,115.20C136.08,115.92 136.93,116.09 133.70,115.90C130.47,115.71 129.90,115.22 126.30,114.50C122.70,113.78 122.73,114.08 120.20,113.20C117.67,112.32 118.24,112.64 116.80,111.20C115.36,109.76 115.15,109.61 114.80,107.80C114.45,105.99 116.22,105.65 115.50,104.40C114.78,103.15 114.07,103.98 112.10,103.10C110.13,102.22 108.98,102.35 108.10,101.10C107.22,99.85 109.33,99.49 108.80,98.40C108.27,97.31 107.73,97.72 106.10,97.00C104.47,96.28 103.42,96.95 102.70,95.70C101.98,94.45 102.49,94.27 103.40,92.30C104.31,90.33 104.31,89.02 106.10,88.30Z" fill="#48135f" stroke="#48135f" stroke-width="2.6" stroke-linejoin="round"/>
<g clip-path="url(#allc)"><g filter="url(#bl2)">
<ellipse cx="99.0" cy="37.0" rx="7.0" ry="7.0" fill="#46307e"/>
<ellipse cx="106.0" cy="30.0" rx="5.0" ry="4.0" fill="#2c728e" opacity="0.95"/>
<ellipse cx="110.0" cy="35.0" rx="3.0" ry="8.0" fill="#35b479" opacity="0.95"/>
<ellipse cx="124.0" cy="37.0" rx="12.5" ry="10.0" fill="#f6e620"/>
<ellipse cx="116.0" cy="30.0" rx="5.0" ry="4.0" fill="#e0e31a"/>
<ellipse cx="133.0" cy="43.0" rx="6.0" ry="3.5" fill="#f6e620"/>
<ellipse cx="113.0" cy="49.0" rx="4.0" ry="5.0" fill="#48135f"/>
<ellipse cx="106.0" cy="44.0" rx="5.0" ry="3.0" fill="#48135f"/>
<ellipse cx="134.0" cy="90.0" rx="2.0" ry="2.0" fill="#a06a3a" opacity="0.5"/>
</g></g>
</g>
<text x="418.90" y="11.36" font-size="6" text-anchor="middle" font-weight="normal" fill="#2b2b2b">CD1A (Dendritic cell)</text>
<line x1="453.20" y1="16.30" x2="453.20" y2="74.02" stroke="#111" stroke-width="0.85" stroke-linecap="butt"/>
<line x1="452.77" y1="73.60" x2="511.20" y2="73.60" stroke="#111" stroke-width="0.85" stroke-linecap="butt"/>
<line x1="450.80" y1="35.20" x2="453.20" y2="35.20" stroke="#111" stroke-width="0.6" stroke-linecap="butt"/>
<line x1="450.80" y1="56.30" x2="453.20" y2="56.30" stroke="#111" stroke-width="0.6" stroke-linecap="butt"/>
<line x1="470.00" y1="73.60" x2="470.00" y2="76.20" stroke="#111" stroke-width="0.6" stroke-linecap="butt"/>
<line x1="491.60" y1="73.60" x2="491.60" y2="76.20" stroke="#111" stroke-width="0.6" stroke-linecap="butt"/>
<g transform="translate(455.10,18.50) scale(0.4030,0.4436) translate(-30.7,-25.4)" filter="url(#rough)">
<path d="M53.90,50.10C55.53,48.66 54.23,48.99 57.30,48.70C60.37,48.41 61.08,48.79 65.40,49.00C69.72,49.21 70.46,48.86 73.50,49.50C76.54,50.14 75.71,49.27 76.80,51.40C77.89,53.53 77.60,54.62 77.60,57.50C77.60,60.38 76.48,60.41 76.80,62.20C77.12,63.99 78.05,63.27 78.80,64.20C79.55,65.13 80.13,65.22 79.60,65.70C79.07,66.18 77.36,65.28 76.80,66.00C76.24,66.72 77.85,67.63 77.50,68.40C77.15,69.17 76.57,69.11 75.50,68.90C74.43,68.69 74.59,67.23 73.50,67.60C72.41,67.97 72.49,69.21 71.40,70.30C70.31,71.39 70.28,71.70 69.40,71.70C68.52,71.70 69.17,70.11 68.10,70.30C67.03,70.49 66.49,72.05 65.40,72.40C64.31,72.75 65.09,72.53 64.00,71.60C62.91,70.67 63.09,69.59 61.30,68.90C59.51,68.21 59.27,69.16 57.30,69.00C55.33,68.84 55.69,69.21 53.90,68.30C52.11,67.39 52.20,67.04 50.60,65.60C49.00,64.16 49.18,64.34 47.90,62.90C46.62,61.46 45.99,61.83 45.80,60.20C45.61,58.57 45.76,58.43 47.20,56.80C48.64,55.17 49.41,55.89 51.20,54.10C52.99,52.31 52.27,51.54 53.90,50.10Z" fill="#2e6e8e" stroke="#2e6e8e" stroke-width="2.6" stroke-linejoin="round"/>
<path d="M31.20,74.40C32.91,72.69 34.05,74.03 38.00,74.00C41.95,73.97 41.52,74.03 46.00,74.30C50.48,74.57 52.61,73.96 54.80,75.00C56.99,76.04 56.41,75.99 54.20,78.20C51.99,80.41 50.34,80.53 46.50,83.30C42.66,86.07 42.84,86.07 39.80,88.60C36.76,91.13 36.75,91.95 35.10,92.80C33.45,93.65 34.11,93.67 33.60,91.80C33.09,89.93 33.73,88.84 33.20,85.80C32.67,82.76 32.13,83.44 31.60,80.40C31.07,77.36 29.49,76.11 31.20,74.40Z" fill="#f4e61f" stroke="#f4e61f" stroke-width="2.6" stroke-linejoin="round"/>
<path d="M57.50,87.10C60.01,86.54 60.25,86.27 64.20,86.40C68.15,86.53 69.74,85.97 72.30,87.60C74.86,89.23 73.61,90.13 73.80,92.50C73.99,94.87 73.93,94.71 73.00,96.50C72.07,98.29 71.74,97.76 70.30,99.20C68.86,100.64 69.04,100.09 67.60,101.90C66.16,103.71 66.34,104.75 64.90,106.00C63.46,107.25 63.45,107.16 62.20,106.60C60.95,106.04 60.73,105.34 60.20,103.90C59.67,102.46 61.27,102.08 60.20,101.20C59.13,100.32 58.17,101.13 56.20,100.60C54.23,100.07 54.24,100.29 52.80,99.20C51.36,98.11 51.52,97.94 50.80,96.50C50.08,95.06 49.57,95.21 50.10,93.80C50.63,92.39 51.55,92.61 52.80,91.20C54.05,89.79 53.55,89.59 54.80,88.50C56.05,87.41 54.99,87.66 57.50,87.10Z" fill="#3b528b" stroke="#3b528b" stroke-width="2.6" stroke-linejoin="round"/>
<path d="M52.80,121.40C53.81,120.07 53.88,119.53 56.20,118.70C58.52,117.87 58.83,117.93 61.50,118.30C64.17,118.67 65.29,118.90 66.20,120.10C67.11,121.30 66.31,121.55 64.90,122.80C63.49,124.05 63.41,124.08 60.90,124.80C58.39,125.52 57.77,125.79 55.50,125.50C53.23,125.21 53.12,124.79 52.40,123.70C51.68,122.61 51.79,122.73 52.80,121.40Z" fill="#404588" stroke="#404588" stroke-width="7.1" stroke-linejoin="round"/>
<path d="M77.00,99.50C77.93,98.46 78.13,98.73 80.00,98.60C81.87,98.47 81.87,98.95 84.00,99.00C86.13,99.05 86.51,98.40 88.00,98.80C89.49,99.20 89.47,99.25 89.60,100.50C89.73,101.75 89.73,102.41 88.50,103.50C87.27,104.59 87.00,104.52 85.00,104.60C83.00,104.68 82.73,103.75 81.00,103.80C79.27,103.85 79.70,105.15 78.50,104.80C77.30,104.45 76.90,103.91 76.50,102.50C76.10,101.09 76.07,100.54 77.00,99.50Z" fill="#414487" stroke="#414487" stroke-width="5.6" stroke-linejoin="round"/>
<path d="M90.20,90.40C90.63,89.81 91.47,89.72 92.00,90.20C92.53,90.68 92.63,91.61 92.20,92.20C91.77,92.79 90.93,92.88 90.40,92.40C89.87,91.92 89.77,90.99 90.20,90.40Z" fill="#414487" stroke="#414487" stroke-width="4.1" stroke-linejoin="round"/>
<path d="M84.60,111.50C85.08,111.02 86.39,112.19 88.10,110.80C89.81,109.41 89.61,106.73 91.00,106.30C92.39,105.87 92.13,108.11 93.30,109.20C94.47,110.29 95.56,109.76 95.40,110.40C95.24,111.04 94.19,110.96 92.70,111.60C91.21,112.24 91.51,112.53 89.80,112.80C88.09,113.07 87.69,112.95 86.30,112.60C84.91,112.25 84.12,111.98 84.60,111.50Z" fill="#414487" stroke="#414487" stroke-width="5.1" stroke-linejoin="round"/>
<path d="M85.20,117.90C86.29,116.35 85.49,116.86 88.10,116.70C90.71,116.54 91.93,116.69 95.00,117.30C98.07,117.91 97.60,117.45 99.60,119.00C101.60,120.55 100.95,120.94 102.50,123.10C104.05,125.26 103.56,124.81 105.40,127.10C107.24,129.39 107.96,129.70 109.40,131.70C110.84,133.70 111.09,133.05 110.80,134.60C110.51,136.15 109.74,136.41 108.30,137.50C106.86,138.59 107.11,138.25 105.40,138.70C103.69,139.15 103.61,138.53 101.90,139.20C100.19,139.87 100.52,140.88 99.00,141.20C97.48,141.52 97.88,141.23 96.20,140.40C94.52,139.57 94.86,139.03 92.70,138.10C90.54,137.17 90.87,137.38 88.10,136.90C85.33,136.42 85.07,136.91 82.30,136.30C79.53,135.69 79.30,135.67 77.70,134.60C76.10,133.53 76.14,133.85 76.30,132.30C76.46,130.75 76.86,130.48 78.30,128.80C79.74,127.12 80.18,127.68 81.70,126.00C83.22,124.32 83.07,124.66 84.00,122.50C84.93,120.34 84.11,119.45 85.20,117.90Z" fill="#433e85" stroke="#433e85" stroke-width="2.6" stroke-linejoin="round"/>
<path d="M90.20,37.30C90.04,35.14 89.91,34.86 91.30,32.70C92.69,30.54 92.76,30.75 95.40,29.20C98.04,27.65 98.13,27.97 101.20,26.90C104.27,25.83 103.54,25.49 106.90,25.20C110.26,24.91 110.41,25.03 113.80,25.80C117.19,26.57 117.12,26.58 119.60,28.10C122.08,29.62 120.94,29.66 123.10,31.50C125.26,33.34 124.93,33.13 127.70,35.00C130.47,36.87 130.97,36.82 133.50,38.50C136.03,40.18 136.59,39.91 137.20,41.30C137.81,42.69 137.40,42.77 135.80,43.70C134.20,44.63 133.97,44.67 131.20,44.80C128.43,44.93 127.88,44.04 125.40,44.20C122.92,44.36 123.45,44.47 121.90,45.40C120.35,46.33 120.99,46.47 119.60,47.70C118.21,48.93 118.09,48.53 116.70,50.00C115.31,51.47 115.47,52.75 114.40,53.20C113.33,53.65 113.61,52.87 112.70,51.70C111.79,50.53 111.77,50.32 111.00,48.80C110.23,47.28 110.89,47.07 109.80,46.00C108.71,44.93 108.90,45.28 106.90,44.80C104.90,44.32 105.07,44.65 102.30,44.20C99.53,43.75 99.27,44.01 96.50,43.10C93.73,42.19 93.58,42.35 91.90,40.80C90.22,39.25 90.36,39.46 90.20,37.30Z" fill="#3f4788" stroke="#3f4788" stroke-width="2.6" stroke-linejoin="round"/>
<path d="M101.50,59.40C103.55,58.47 107.33,57.37 109.60,57.00C111.87,56.63 112.05,57.07 110.00,58.00C107.95,58.93 104.17,60.13 101.90,60.50C99.63,60.87 99.45,60.33 101.50,59.40Z" fill="#414487" stroke="#414487" stroke-width="3.6" stroke-linejoin="round"/>
<path d="M113.80,54.60C114.57,53.21 115.15,53.50 116.70,53.50C118.25,53.50 118.21,54.60 119.60,54.60C120.99,54.60 120.51,53.50 121.90,53.50C123.29,53.50 124.03,53.37 124.80,54.60C125.57,55.83 125.57,56.87 124.80,58.10C124.03,59.33 123.45,58.75 121.90,59.20C120.35,59.65 120.23,58.71 119.00,59.80C117.77,60.89 118.21,63.14 117.30,63.30C116.39,63.46 116.53,61.63 115.60,60.40C114.67,59.17 114.28,60.25 113.80,58.70C113.32,57.15 113.03,55.99 113.80,54.60Z" fill="#404588" stroke="#404588" stroke-width="4.1" stroke-linejoin="round"/>
<path d="M106.10,82.90C106.63,82.02 106.15,81.60 107.40,81.60C108.65,81.60 109.17,83.27 110.80,82.90C112.43,82.53 112.59,82.52 113.50,80.20C114.41,77.88 113.32,76.71 114.20,74.20C115.08,71.69 114.29,72.08 116.80,70.80C119.31,69.52 120.53,70.12 123.60,69.40C126.67,68.68 125.79,69.51 128.30,68.10C130.81,66.69 130.68,65.35 133.00,64.10C135.32,62.85 134.84,63.24 137.00,63.40C139.16,63.56 139.13,64.51 141.10,64.70C143.07,64.89 143.33,62.29 144.40,64.10C145.47,65.91 144.19,68.81 145.10,71.50C146.01,74.19 146.73,72.41 147.80,74.20C148.87,75.99 148.91,76.07 149.10,78.20C149.29,80.33 147.94,80.60 148.50,82.20C149.06,83.80 152.67,82.65 151.20,84.20C149.73,85.75 148.23,85.92 143.00,88.00C137.77,90.08 138.21,90.40 131.60,92.00C124.99,93.60 123.93,94.00 118.20,94.00C112.47,94.00 113.33,93.52 110.10,92.00C106.87,90.48 107.35,90.19 106.10,88.30C104.85,86.41 105.40,86.34 105.40,84.90C105.40,83.46 105.57,83.78 106.10,82.90Z" fill="#34608d" stroke="#34608d" stroke-width="2.6" stroke-linejoin="round"/>
<path d="M106.10,88.30C107.89,87.58 106.87,89.25 110.10,89.60C113.33,89.95 114.25,89.95 118.20,89.60C122.15,89.25 121.33,89.37 124.90,88.30C128.47,87.23 128.00,87.04 131.60,85.60C135.20,84.16 135.15,84.34 138.40,82.90C141.65,81.46 141.11,80.39 143.80,80.20C146.49,80.01 146.53,81.13 148.50,82.20C150.47,83.27 149.76,83.29 151.20,84.20C152.64,85.11 152.65,84.32 153.90,85.60C155.15,86.88 154.83,87.03 155.90,89.00C156.97,90.97 156.46,91.03 157.90,93.00C159.34,94.97 160.58,94.61 161.30,96.40C162.02,98.19 161.69,98.10 160.60,99.70C159.51,101.30 159.55,101.15 157.20,102.40C154.85,103.65 153.59,102.96 151.80,104.40C150.01,105.84 151.91,106.36 150.50,107.80C149.09,109.24 148.66,108.36 146.50,109.80C144.34,111.24 144.56,111.76 142.40,113.20C140.24,114.64 140.72,114.48 138.40,115.20C136.08,115.92 136.93,116.09 133.70,115.90C130.47,115.71 129.90,115.22 126.30,114.50C122.70,113.78 122.73,114.08 120.20,113.20C117.67,112.32 118.24,112.64 116.80,111.20C115.36,109.76 115.15,109.61 114.80,107.80C114.45,105.99 116.22,105.65 115.50,104.40C114.78,103.15 114.07,103.98 112.10,103.10C110.13,102.22 108.98,102.35 108.10,101.10C107.22,99.85 109.33,99.49 108.80,98.40C108.27,97.31 107.73,97.72 106.10,97.00C104.47,96.28 103.42,96.95 102.70,95.70C101.98,94.45 102.49,94.27 103.40,92.30C104.31,90.33 104.31,89.02 106.10,88.30Z" fill="#3d4d8a" stroke="#3d4d8a" stroke-width="2.6" stroke-linejoin="round"/>
<g clip-path="url(#allc)"><g filter="url(#bl)">
<ellipse cx="66.0" cy="54.0" rx="8.0" ry="4.0" fill="#25858e" opacity="0.9"/>
<ellipse cx="52.0" cy="62.0" rx="4.0" ry="4.0" fill="#3b528b" opacity="0.9"/>
<ellipse cx="128.0" cy="82.0" rx="12.0" ry="9.0" fill="#2c728e" opacity="0.85"/>
<ellipse cx="150.0" cy="100.0" rx="9.0" ry="8.0" fill="#433e85" opacity="0.8"/>
<ellipse cx="40.0" cy="78.0" rx="7.0" ry="3.5" fill="#fde725"/>
<ellipse cx="112.0" cy="30.0" rx="8.0" ry="3.0" fill="#3b528b" opacity="0.8"/>
<ellipse cx="46.0" cy="84.0" rx="4.0" ry="3.0" fill="#8fd744" opacity="0.8"/>
</g></g>
</g>
<text x="481.70" y="11.36" font-size="6" text-anchor="middle" font-weight="normal" fill="#2b2b2b">ACTA2 (Myofibroblast)</text>
<line x1="202.00" y1="102.20" x2="202.00" y2="159.43" stroke="#111" stroke-width="0.85" stroke-linecap="butt"/>
<line x1="201.57" y1="159.00" x2="260.00" y2="159.00" stroke="#111" stroke-width="0.85" stroke-linecap="butt"/>
<line x1="199.60" y1="120.90" x2="202.00" y2="120.90" stroke="#111" stroke-width="0.6" stroke-linecap="butt"/>
<line x1="199.60" y1="142.00" x2="202.00" y2="142.00" stroke="#111" stroke-width="0.6" stroke-linecap="butt"/>
<line x1="218.80" y1="159.00" x2="218.80" y2="161.60" stroke="#111" stroke-width="0.6" stroke-linecap="butt"/>
<line x1="240.40" y1="159.00" x2="240.40" y2="161.60" stroke="#111" stroke-width="0.6" stroke-linecap="butt"/>
<g transform="translate(203.90,104.70) scale(0.4030,0.4436) translate(-30.7,-25.4)" filter="url(#rough)">
<path d="M53.90,50.10C55.53,48.66 54.23,48.99 57.30,48.70C60.37,48.41 61.08,48.79 65.40,49.00C69.72,49.21 70.46,48.86 73.50,49.50C76.54,50.14 75.71,49.27 76.80,51.40C77.89,53.53 77.60,54.62 77.60,57.50C77.60,60.38 76.48,60.41 76.80,62.20C77.12,63.99 78.05,63.27 78.80,64.20C79.55,65.13 80.13,65.22 79.60,65.70C79.07,66.18 77.36,65.28 76.80,66.00C76.24,66.72 77.85,67.63 77.50,68.40C77.15,69.17 76.57,69.11 75.50,68.90C74.43,68.69 74.59,67.23 73.50,67.60C72.41,67.97 72.49,69.21 71.40,70.30C70.31,71.39 70.28,71.70 69.40,71.70C68.52,71.70 69.17,70.11 68.10,70.30C67.03,70.49 66.49,72.05 65.40,72.40C64.31,72.75 65.09,72.53 64.00,71.60C62.91,70.67 63.09,69.59 61.30,68.90C59.51,68.21 59.27,69.16 57.30,69.00C55.33,68.84 55.69,69.21 53.90,68.30C52.11,67.39 52.20,67.04 50.60,65.60C49.00,64.16 49.18,64.34 47.90,62.90C46.62,61.46 45.99,61.83 45.80,60.20C45.61,58.57 45.76,58.43 47.20,56.80C48.64,55.17 49.41,55.89 51.20,54.10C52.99,52.31 52.27,51.54 53.90,50.10Z" fill="#48135f" stroke="#48135f" stroke-width="2.6" stroke-linejoin="round"/>
<path d="M31.20,74.40C32.91,72.69 34.05,74.03 38.00,74.00C41.95,73.97 41.52,74.03 46.00,74.30C50.48,74.57 52.61,73.96 54.80,75.00C56.99,76.04 56.41,75.99 54.20,78.20C51.99,80.41 50.34,80.53 46.50,83.30C42.66,86.07 42.84,86.07 39.80,88.60C36.76,91.13 36.75,91.95 35.10,92.80C33.45,93.65 34.11,93.67 33.60,91.80C33.09,89.93 33.73,88.84 33.20,85.80C32.67,82.76 32.13,83.44 31.60,80.40C31.07,77.36 29.49,76.11 31.20,74.40Z" fill="#48135f" stroke="#48135f" stroke-width="2.6" stroke-linejoin="round"/>
<path d="M57.50,87.10C60.01,86.54 60.25,86.27 64.20,86.40C68.15,86.53 69.74,85.97 72.30,87.60C74.86,89.23 73.61,90.13 73.80,92.50C73.99,94.87 73.93,94.71 73.00,96.50C72.07,98.29 71.74,97.76 70.30,99.20C68.86,100.64 69.04,100.09 67.60,101.90C66.16,103.71 66.34,104.75 64.90,106.00C63.46,107.25 63.45,107.16 62.20,106.60C60.95,106.04 60.73,105.34 60.20,103.90C59.67,102.46 61.27,102.08 60.20,101.20C59.13,100.32 58.17,101.13 56.20,100.60C54.23,100.07 54.24,100.29 52.80,99.20C51.36,98.11 51.52,97.94 50.80,96.50C50.08,95.06 49.57,95.21 50.10,93.80C50.63,92.39 51.55,92.61 52.80,91.20C54.05,89.79 53.55,89.59 54.80,88.50C56.05,87.41 54.99,87.66 57.50,87.10Z" fill="#48135f" stroke="#48135f" stroke-width="2.6" stroke-linejoin="round"/>
<path d="M52.80,121.40C53.81,120.07 53.88,119.53 56.20,118.70C58.52,117.87 58.83,117.93 61.50,118.30C64.17,118.67 65.29,118.90 66.20,120.10C67.11,121.30 66.31,121.55 64.90,122.80C63.49,124.05 63.41,124.08 60.90,124.80C58.39,125.52 57.77,125.79 55.50,125.50C53.23,125.21 53.12,124.79 52.40,123.70C51.68,122.61 51.79,122.73 52.80,121.40Z" fill="#f4e61f" stroke="#f4e61f" stroke-width="7.1" stroke-linejoin="round"/>
<path d="M77.00,99.50C77.93,98.46 78.13,98.73 80.00,98.60C81.87,98.47 81.87,98.95 84.00,99.00C86.13,99.05 86.51,98.40 88.00,98.80C89.49,99.20 89.47,99.25 89.60,100.50C89.73,101.75 89.73,102.41 88.50,103.50C87.27,104.59 87.00,104.52 85.00,104.60C83.00,104.68 82.73,103.75 81.00,103.80C79.27,103.85 79.70,105.15 78.50,104.80C77.30,104.45 76.90,103.91 76.50,102.50C76.10,101.09 76.07,100.54 77.00,99.50Z" fill="#48135f" stroke="#48135f" stroke-width="5.6" stroke-linejoin="round"/>
<path d="M90.20,90.40C90.63,89.81 91.47,89.72 92.00,90.20C92.53,90.68 92.63,91.61 92.20,92.20C91.77,92.79 90.93,92.88 90.40,92.40C89.87,91.92 89.77,90.99 90.20,90.40Z" fill="#48135f" stroke="#48135f" stroke-width="4.1" stroke-linejoin="round"/>
<path d="M84.60,111.50C85.08,111.02 86.39,112.19 88.10,110.80C89.81,109.41 89.61,106.73 91.00,106.30C92.39,105.87 92.13,108.11 93.30,109.20C94.47,110.29 95.56,109.76 95.40,110.40C95.24,111.04 94.19,110.96 92.70,111.60C91.21,112.24 91.51,112.53 89.80,112.80C88.09,113.07 87.69,112.95 86.30,112.60C84.91,112.25 84.12,111.98 84.60,111.50Z" fill="#48135f" stroke="#48135f" stroke-width="5.1" stroke-linejoin="round"/>
<path d="M85.20,117.90C86.29,116.35 85.49,116.86 88.10,116.70C90.71,116.54 91.93,116.69 95.00,117.30C98.07,117.91 97.60,117.45 99.60,119.00C101.60,120.55 100.95,120.94 102.50,123.10C104.05,125.26 103.56,124.81 105.40,127.10C107.24,129.39 107.96,129.70 109.40,131.70C110.84,133.70 111.09,133.05 110.80,134.60C110.51,136.15 109.74,136.41 108.30,137.50C106.86,138.59 107.11,138.25 105.40,138.70C103.69,139.15 103.61,138.53 101.90,139.20C100.19,139.87 100.52,140.88 99.00,141.20C97.48,141.52 97.88,141.23 96.20,140.40C94.52,139.57 94.86,139.03 92.70,138.10C90.54,137.17 90.87,137.38 88.10,136.90C85.33,136.42 85.07,136.91 82.30,136.30C79.53,135.69 79.30,135.67 77.70,134.60C76.10,133.53 76.14,133.85 76.30,132.30C76.46,130.75 76.86,130.48 78.30,128.80C79.74,127.12 80.18,127.68 81.70,126.00C83.22,124.32 83.07,124.66 84.00,122.50C84.93,120.34 84.11,119.45 85.20,117.90Z" fill="#48135f" stroke="#48135f" stroke-width="2.6" stroke-linejoin="round"/>
<path d="M90.20,37.30C90.04,35.14 89.91,34.86 91.30,32.70C92.69,30.54 92.76,30.75 95.40,29.20C98.04,27.65 98.13,27.97 101.20,26.90C104.27,25.83 103.54,25.49 106.90,25.20C110.26,24.91 110.41,25.03 113.80,25.80C117.19,26.57 117.12,26.58 119.60,28.10C122.08,29.62 120.94,29.66 123.10,31.50C125.26,33.34 124.93,33.13 127.70,35.00C130.47,36.87 130.97,36.82 133.50,38.50C136.03,40.18 136.59,39.91 137.20,41.30C137.81,42.69 137.40,42.77 135.80,43.70C134.20,44.63 133.97,44.67 131.20,44.80C128.43,44.93 127.88,44.04 125.40,44.20C122.92,44.36 123.45,44.47 121.90,45.40C120.35,46.33 120.99,46.47 119.60,47.70C118.21,48.93 118.09,48.53 116.70,50.00C115.31,51.47 115.47,52.75 114.40,53.20C113.33,53.65 113.61,52.87 112.70,51.70C111.79,50.53 111.77,50.32 111.00,48.80C110.23,47.28 110.89,47.07 109.80,46.00C108.71,44.93 108.90,45.28 106.90,44.80C104.90,44.32 105.07,44.65 102.30,44.20C99.53,43.75 99.27,44.01 96.50,43.10C93.73,42.19 93.58,42.35 91.90,40.80C90.22,39.25 90.36,39.46 90.20,37.30Z" fill="#48135f" stroke="#48135f" stroke-width="2.6" stroke-linejoin="round"/>
<path d="M101.50,59.40C103.55,58.47 107.33,57.37 109.60,57.00C111.87,56.63 112.05,57.07 110.00,58.00C107.95,58.93 104.17,60.13 101.90,60.50C99.63,60.87 99.45,60.33 101.50,59.40Z" fill="#48135f" stroke="#48135f" stroke-width="3.6" stroke-linejoin="round"/>
<path d="M113.80,54.60C114.57,53.21 115.15,53.50 116.70,53.50C118.25,53.50 118.21,54.60 119.60,54.60C120.99,54.60 120.51,53.50 121.90,53.50C123.29,53.50 124.03,53.37 124.80,54.60C125.57,55.83 125.57,56.87 124.80,58.10C124.03,59.33 123.45,58.75 121.90,59.20C120.35,59.65 120.23,58.71 119.00,59.80C117.77,60.89 118.21,63.14 117.30,63.30C116.39,63.46 116.53,61.63 115.60,60.40C114.67,59.17 114.28,60.25 113.80,58.70C113.32,57.15 113.03,55.99 113.80,54.60Z" fill="#48135f" stroke="#48135f" stroke-width="4.1" stroke-linejoin="round"/>
<path d="M106.10,82.90C106.63,82.02 106.15,81.60 107.40,81.60C108.65,81.60 109.17,83.27 110.80,82.90C112.43,82.53 112.59,82.52 113.50,80.20C114.41,77.88 113.32,76.71 114.20,74.20C115.08,71.69 114.29,72.08 116.80,70.80C119.31,69.52 120.53,70.12 123.60,69.40C126.67,68.68 125.79,69.51 128.30,68.10C130.81,66.69 130.68,65.35 133.00,64.10C135.32,62.85 134.84,63.24 137.00,63.40C139.16,63.56 139.13,64.51 141.10,64.70C143.07,64.89 143.33,62.29 144.40,64.10C145.47,65.91 144.19,68.81 145.10,71.50C146.01,74.19 146.73,72.41 147.80,74.20C148.87,75.99 148.91,76.07 149.10,78.20C149.29,80.33 147.94,80.60 148.50,82.20C149.06,83.80 152.67,82.65 151.20,84.20C149.73,85.75 148.23,85.92 143.00,88.00C137.77,90.08 138.21,90.40 131.60,92.00C124.99,93.60 123.93,94.00 118.20,94.00C112.47,94.00 113.33,93.52 110.10,92.00C106.87,90.48 107.35,90.19 106.10,88.30C104.85,86.41 105.40,86.34 105.40,84.90C105.40,83.46 105.57,83.78 106.10,82.90Z" fill="#48135f" stroke="#48135f" stroke-width="2.6" stroke-linejoin="round"/>
<path d="M106.10,88.30C107.89,87.58 106.87,89.25 110.10,89.60C113.33,89.95 114.25,89.95 118.20,89.60C122.15,89.25 121.33,89.37 124.90,88.30C128.47,87.23 128.00,87.04 131.60,85.60C135.20,84.16 135.15,84.34 138.40,82.90C141.65,81.46 141.11,80.39 143.80,80.20C146.49,80.01 146.53,81.13 148.50,82.20C150.47,83.27 149.76,83.29 151.20,84.20C152.64,85.11 152.65,84.32 153.90,85.60C155.15,86.88 154.83,87.03 155.90,89.00C156.97,90.97 156.46,91.03 157.90,93.00C159.34,94.97 160.58,94.61 161.30,96.40C162.02,98.19 161.69,98.10 160.60,99.70C159.51,101.30 159.55,101.15 157.20,102.40C154.85,103.65 153.59,102.96 151.80,104.40C150.01,105.84 151.91,106.36 150.50,107.80C149.09,109.24 148.66,108.36 146.50,109.80C144.34,111.24 144.56,111.76 142.40,113.20C140.24,114.64 140.72,114.48 138.40,115.20C136.08,115.92 136.93,116.09 133.70,115.90C130.47,115.71 129.90,115.22 126.30,114.50C122.70,113.78 122.73,114.08 120.20,113.20C117.67,112.32 118.24,112.64 116.80,111.20C115.36,109.76 115.15,109.61 114.80,107.80C114.45,105.99 116.22,105.65 115.50,104.40C114.78,103.15 114.07,103.98 112.10,103.10C110.13,102.22 108.98,102.35 108.10,101.10C107.22,99.85 109.33,99.49 108.80,98.40C108.27,97.31 107.73,97.72 106.10,97.00C104.47,96.28 103.42,96.95 102.70,95.70C101.98,94.45 102.49,94.27 103.40,92.30C104.31,90.33 104.31,89.02 106.10,88.30Z" fill="#48135f" stroke="#48135f" stroke-width="2.6" stroke-linejoin="round"/>
<g clip-path="url(#allc)"><g filter="url(#bl)">
<ellipse cx="97.0" cy="35.0" rx="7.0" ry="6.5" fill="#f6e620"/>
<ellipse cx="104.0" cy="30.0" rx="4.0" ry="3.0" fill="#3b528b" opacity="0.9"/>
<ellipse cx="107.0" cy="36.0" rx="3.0" ry="4.0" fill="#3b528b" opacity="0.7"/>
<ellipse cx="59.0" cy="122.0" rx="8.0" ry="4.0" fill="#f6e620"/>
<ellipse cx="62.0" cy="92.0" rx="3.0" ry="3.0" fill="#8a5a3a" opacity="0.5"/>
<ellipse cx="128.0" cy="90.0" rx="3.0" ry="3.0" fill="#7a4a3a" opacity="0.4"/>
</g></g>
</g>
<text x="230.50" y="90.16" font-size="6" text-anchor="middle" font-weight="normal" fill="#2b2b2b">LYVE1 (Endothelial</text>
<text x="230.50" y="96.56" font-size="6" text-anchor="middle" font-weight="normal" fill="#2b2b2b">[Lymph])</text>
<line x1="264.80" y1="102.20" x2="264.80" y2="159.43" stroke="#111" stroke-width="0.85" stroke-linecap="butt"/>
<line x1="264.38" y1="159.00" x2="322.80" y2="159.00" stroke="#111" stroke-width="0.85" stroke-linecap="butt"/>
<line x1="262.40" y1="120.90" x2="264.80" y2="120.90" stroke="#111" stroke-width="0.6" stroke-linecap="butt"/>
<line x1="262.40" y1="142.00" x2="264.80" y2="142.00" stroke="#111" stroke-width="0.6" stroke-linecap="butt"/>
<line x1="281.60" y1="159.00" x2="281.60" y2="161.60" stroke="#111" stroke-width="0.6" stroke-linecap="butt"/>
<line x1="303.20" y1="159.00" x2="303.20" y2="161.60" stroke="#111" stroke-width="0.6" stroke-linecap="butt"/>
<g transform="translate(266.70,104.70) scale(0.4030,0.4436) translate(-30.7,-25.4)" filter="url(#rough)">
<path d="M53.90,50.10C55.53,48.66 54.23,48.99 57.30,48.70C60.37,48.41 61.08,48.79 65.40,49.00C69.72,49.21 70.46,48.86 73.50,49.50C76.54,50.14 75.71,49.27 76.80,51.40C77.89,53.53 77.60,54.62 77.60,57.50C77.60,60.38 76.48,60.41 76.80,62.20C77.12,63.99 78.05,63.27 78.80,64.20C79.55,65.13 80.13,65.22 79.60,65.70C79.07,66.18 77.36,65.28 76.80,66.00C76.24,66.72 77.85,67.63 77.50,68.40C77.15,69.17 76.57,69.11 75.50,68.90C74.43,68.69 74.59,67.23 73.50,67.60C72.41,67.97 72.49,69.21 71.40,70.30C70.31,71.39 70.28,71.70 69.40,71.70C68.52,71.70 69.17,70.11 68.10,70.30C67.03,70.49 66.49,72.05 65.40,72.40C64.31,72.75 65.09,72.53 64.00,71.60C62.91,70.67 63.09,69.59 61.30,68.90C59.51,68.21 59.27,69.16 57.30,69.00C55.33,68.84 55.69,69.21 53.90,68.30C52.11,67.39 52.20,67.04 50.60,65.60C49.00,64.16 49.18,64.34 47.90,62.90C46.62,61.46 45.99,61.83 45.80,60.20C45.61,58.57 45.76,58.43 47.20,56.80C48.64,55.17 49.41,55.89 51.20,54.10C52.99,52.31 52.27,51.54 53.90,50.10Z" fill="#48135f" stroke="#48135f" stroke-width="2.6" stroke-linejoin="round"/>
<path d="M31.20,74.40C32.91,72.69 34.05,74.03 38.00,74.00C41.95,73.97 41.52,74.03 46.00,74.30C50.48,74.57 52.61,73.96 54.80,75.00C56.99,76.04 56.41,75.99 54.20,78.20C51.99,80.41 50.34,80.53 46.50,83.30C42.66,86.07 42.84,86.07 39.80,88.60C36.76,91.13 36.75,91.95 35.10,92.80C33.45,93.65 34.11,93.67 33.60,91.80C33.09,89.93 33.73,88.84 33.20,85.80C32.67,82.76 32.13,83.44 31.60,80.40C31.07,77.36 29.49,76.11 31.20,74.40Z" fill="#48135f" stroke="#48135f" stroke-width="2.6" stroke-linejoin="round"/>
<path d="M57.50,87.10C60.01,86.54 60.25,86.27 64.20,86.40C68.15,86.53 69.74,85.97 72.30,87.60C74.86,89.23 73.61,90.13 73.80,92.50C73.99,94.87 73.93,94.71 73.00,96.50C72.07,98.29 71.74,97.76 70.30,99.20C68.86,100.64 69.04,100.09 67.60,101.90C66.16,103.71 66.34,104.75 64.90,106.00C63.46,107.25 63.45,107.16 62.20,106.60C60.95,106.04 60.73,105.34 60.20,103.90C59.67,102.46 61.27,102.08 60.20,101.20C59.13,100.32 58.17,101.13 56.20,100.60C54.23,100.07 54.24,100.29 52.80,99.20C51.36,98.11 51.52,97.94 50.80,96.50C50.08,95.06 49.57,95.21 50.10,93.80C50.63,92.39 51.55,92.61 52.80,91.20C54.05,89.79 53.55,89.59 54.80,88.50C56.05,87.41 54.99,87.66 57.50,87.10Z" fill="#48135f" stroke="#48135f" stroke-width="2.6" stroke-linejoin="round"/>
<path d="M52.80,121.40C53.81,120.07 53.88,119.53 56.20,118.70C58.52,117.87 58.83,117.93 61.50,118.30C64.17,118.67 65.29,118.90 66.20,120.10C67.11,121.30 66.31,121.55 64.90,122.80C63.49,124.05 63.41,124.08 60.90,124.80C58.39,125.52 57.77,125.79 55.50,125.50C53.23,125.21 53.12,124.79 52.40,123.70C51.68,122.61 51.79,122.73 52.80,121.40Z" fill="#6a4a5a" stroke="#6a4a5a" stroke-width="7.1" stroke-linejoin="round"/>
<path d="M77.00,99.50C77.93,98.46 78.13,98.73 80.00,98.60C81.87,98.47 81.87,98.95 84.00,99.00C86.13,99.05 86.51,98.40 88.00,98.80C89.49,99.20 89.47,99.25 89.60,100.50C89.73,101.75 89.73,102.41 88.50,103.50C87.27,104.59 87.00,104.52 85.00,104.60C83.00,104.68 82.73,103.75 81.00,103.80C79.27,103.85 79.70,105.15 78.50,104.80C77.30,104.45 76.90,103.91 76.50,102.50C76.10,101.09 76.07,100.54 77.00,99.50Z" fill="#f4e61f" stroke="#f4e61f" stroke-width="5.6" stroke-linejoin="round"/>
<path d="M90.20,90.40C90.63,89.81 91.47,89.72 92.00,90.20C92.53,90.68 92.63,91.61 92.20,92.20C91.77,92.79 90.93,92.88 90.40,92.40C89.87,91.92 89.77,90.99 90.20,90.40Z" fill="#48135f" stroke="#48135f" stroke-width="4.1" stroke-linejoin="round"/>
<path d="M84.60,111.50C85.08,111.02 86.39,112.19 88.10,110.80C89.81,109.41 89.61,106.73 91.00,106.30C92.39,105.87 92.13,108.11 93.30,109.20C94.47,110.29 95.56,109.76 95.40,110.40C95.24,111.04 94.19,110.96 92.70,111.60C91.21,112.24 91.51,112.53 89.80,112.80C88.09,113.07 87.69,112.95 86.30,112.60C84.91,112.25 84.12,111.98 84.60,111.50Z" fill="#48135f" stroke="#48135f" stroke-width="5.1" stroke-linejoin="round"/>
<path d="M85.20,117.90C86.29,116.35 85.49,116.86 88.10,116.70C90.71,116.54 91.93,116.69 95.00,117.30C98.07,117.91 97.60,117.45 99.60,119.00C101.60,120.55 100.95,120.94 102.50,123.10C104.05,125.26 103.56,124.81 105.40,127.10C107.24,129.39 107.96,129.70 109.40,131.70C110.84,133.70 111.09,133.05 110.80,134.60C110.51,136.15 109.74,136.41 108.30,137.50C106.86,138.59 107.11,138.25 105.40,138.70C103.69,139.15 103.61,138.53 101.90,139.20C100.19,139.87 100.52,140.88 99.00,141.20C97.48,141.52 97.88,141.23 96.20,140.40C94.52,139.57 94.86,139.03 92.70,138.10C90.54,137.17 90.87,137.38 88.10,136.90C85.33,136.42 85.07,136.91 82.30,136.30C79.53,135.69 79.30,135.67 77.70,134.60C76.10,133.53 76.14,133.85 76.30,132.30C76.46,130.75 76.86,130.48 78.30,128.80C79.74,127.12 80.18,127.68 81.70,126.00C83.22,124.32 83.07,124.66 84.00,122.50C84.93,120.34 84.11,119.45 85.20,117.90Z" fill="#3b4f8a" stroke="#3b4f8a" stroke-width="2.6" stroke-linejoin="round"/>
<path d="M90.20,37.30C90.04,35.14 89.91,34.86 91.30,32.70C92.69,30.54 92.76,30.75 95.40,29.20C98.04,27.65 98.13,27.97 101.20,26.90C104.27,25.83 103.54,25.49 106.90,25.20C110.26,24.91 110.41,25.03 113.80,25.80C117.19,26.57 117.12,26.58 119.60,28.10C122.08,29.62 120.94,29.66 123.10,31.50C125.26,33.34 124.93,33.13 127.70,35.00C130.47,36.87 130.97,36.82 133.50,38.50C136.03,40.18 136.59,39.91 137.20,41.30C137.81,42.69 137.40,42.77 135.80,43.70C134.20,44.63 133.97,44.67 131.20,44.80C128.43,44.93 127.88,44.04 125.40,44.20C122.92,44.36 123.45,44.47 121.90,45.40C120.35,46.33 120.99,46.47 119.60,47.70C118.21,48.93 118.09,48.53 116.70,50.00C115.31,51.47 115.47,52.75 114.40,53.20C113.33,53.65 113.61,52.87 112.70,51.70C111.79,50.53 111.77,50.32 111.00,48.80C110.23,47.28 110.89,47.07 109.80,46.00C108.71,44.93 108.90,45.28 106.90,44.80C104.90,44.32 105.07,44.65 102.30,44.20C99.53,43.75 99.27,44.01 96.50,43.10C93.73,42.19 93.58,42.35 91.90,40.80C90.22,39.25 90.36,39.46 90.20,37.30Z" fill="#48135f" stroke="#48135f" stroke-width="2.6" stroke-linejoin="round"/>
<path d="M101.50,59.40C103.55,58.47 107.33,57.37 109.60,57.00C111.87,56.63 112.05,57.07 110.00,58.00C107.95,58.93 104.17,60.13 101.90,60.50C99.63,60.87 99.45,60.33 101.50,59.40Z" fill="#48135f" stroke="#48135f" stroke-width="3.6" stroke-linejoin="round"/>
<path d="M113.80,54.60C114.57,53.21 115.15,53.50 116.70,53.50C118.25,53.50 118.21,54.60 119.60,54.60C120.99,54.60 120.51,53.50 121.90,53.50C123.29,53.50 124.03,53.37 124.80,54.60C125.57,55.83 125.57,56.87 124.80,58.10C124.03,59.33 123.45,58.75 121.90,59.20C120.35,59.65 120.23,58.71 119.00,59.80C117.77,60.89 118.21,63.14 117.30,63.30C116.39,63.46 116.53,61.63 115.60,60.40C114.67,59.17 114.28,60.25 113.80,58.70C113.32,57.15 113.03,55.99 113.80,54.60Z" fill="#48135f" stroke="#48135f" stroke-width="4.1" stroke-linejoin="round"/>
<path d="M106.10,82.90C106.63,82.02 106.15,81.60 107.40,81.60C108.65,81.60 109.17,83.27 110.80,82.90C112.43,82.53 112.59,82.52 113.50,80.20C114.41,77.88 113.32,76.71 114.20,74.20C115.08,71.69 114.29,72.08 116.80,70.80C119.31,69.52 120.53,70.12 123.60,69.40C126.67,68.68 125.79,69.51 128.30,68.10C130.81,66.69 130.68,65.35 133.00,64.10C135.32,62.85 134.84,63.24 137.00,63.40C139.16,63.56 139.13,64.51 141.10,64.70C143.07,64.89 143.33,62.29 144.40,64.10C145.47,65.91 144.19,68.81 145.10,71.50C146.01,74.19 146.73,72.41 147.80,74.20C148.87,75.99 148.91,76.07 149.10,78.20C149.29,80.33 147.94,80.60 148.50,82.20C149.06,83.80 152.67,82.65 151.20,84.20C149.73,85.75 148.23,85.92 143.00,88.00C137.77,90.08 138.21,90.40 131.60,92.00C124.99,93.60 123.93,94.00 118.20,94.00C112.47,94.00 113.33,93.52 110.10,92.00C106.87,90.48 107.35,90.19 106.10,88.30C104.85,86.41 105.40,86.34 105.40,84.90C105.40,83.46 105.57,83.78 106.10,82.90Z" fill="#48135f" stroke="#48135f" stroke-width="2.6" stroke-linejoin="round"/>
<path d="M106.10,88.30C107.89,87.58 106.87,89.25 110.10,89.60C113.33,89.95 114.25,89.95 118.20,89.60C122.15,89.25 121.33,89.37 124.90,88.30C128.47,87.23 128.00,87.04 131.60,85.60C135.20,84.16 135.15,84.34 138.40,82.90C141.65,81.46 141.11,80.39 143.80,80.20C146.49,80.01 146.53,81.13 148.50,82.20C150.47,83.27 149.76,83.29 151.20,84.20C152.64,85.11 152.65,84.32 153.90,85.60C155.15,86.88 154.83,87.03 155.90,89.00C156.97,90.97 156.46,91.03 157.90,93.00C159.34,94.97 160.58,94.61 161.30,96.40C162.02,98.19 161.69,98.10 160.60,99.70C159.51,101.30 159.55,101.15 157.20,102.40C154.85,103.65 153.59,102.96 151.80,104.40C150.01,105.84 151.91,106.36 150.50,107.80C149.09,109.24 148.66,108.36 146.50,109.80C144.34,111.24 144.56,111.76 142.40,113.20C140.24,114.64 140.72,114.48 138.40,115.20C136.08,115.92 136.93,116.09 133.70,115.90C130.47,115.71 129.90,115.22 126.30,114.50C122.70,113.78 122.73,114.08 120.20,113.20C117.67,112.32 118.24,112.64 116.80,111.20C115.36,109.76 115.15,109.61 114.80,107.80C114.45,105.99 116.22,105.65 115.50,104.40C114.78,103.15 114.07,103.98 112.10,103.10C110.13,102.22 108.98,102.35 108.10,101.10C107.22,99.85 109.33,99.49 108.80,98.40C108.27,97.31 107.73,97.72 106.10,97.00C104.47,96.28 103.42,96.95 102.70,95.70C101.98,94.45 102.49,94.27 103.40,92.30C104.31,90.33 104.31,89.02 106.10,88.30Z" fill="#48135f" stroke="#48135f" stroke-width="2.6" stroke-linejoin="round"/>
<g clip-path="url(#allc)"><g filter="url(#bl)">
<ellipse cx="83.0" cy="101.5" rx="7.0" ry="4.0" fill="#f6e620"/>
<ellipse cx="94.0" cy="136.0" rx="12.0" ry="4.0" fill="#2a788e" opacity="0.9"/>
<ellipse cx="84.0" cy="124.0" rx="4.0" ry="4.0" fill="#472d7b" opacity="0.9"/>
<ellipse cx="60.0" cy="121.0" rx="4.0" ry="2.5" fill="#b08a3a" opacity="0.7"/>
<ellipse cx="60.0" cy="58.0" rx="4.0" ry="5.0" fill="#8a5a3a" opacity="0.45"/>
<ellipse cx="62.0" cy="95.0" rx="4.0" ry="5.0" fill="#9a6a3a" opacity="0.45"/>
<ellipse cx="70.0" cy="92.0" rx="3.0" ry="3.0" fill="#c09a3a" opacity="0.5"/>
<ellipse cx="130.0" cy="92.0" rx="5.0" ry="8.0" fill="#8a5a3a" opacity="0.35"/>
<ellipse cx="112.0" cy="33.0" rx="6.0" ry="3.0" fill="#7a4a4a" opacity="0.35"/>
<ellipse cx="45.0" cy="80.0" rx="4.0" ry="3.0" fill="#8a5a3a" opacity="0.4"/>
</g></g>
</g>
<text x="293.30" y="90.16" font-size="6" text-anchor="middle" font-weight="normal" fill="#2b2b2b">MLANA (Melanocyte)</text>
<line x1="327.60" y1="102.20" x2="327.60" y2="159.43" stroke="#111" stroke-width="0.85" stroke-linecap="butt"/>
<line x1="327.18" y1="159.00" x2="385.60" y2="159.00" stroke="#111" stroke-width="0.85" stroke-linecap="butt"/>
<line x1="325.20" y1="120.90" x2="327.60" y2="120.90" stroke="#111" stroke-width="0.6" stroke-linecap="butt"/>
<line x1="325.20" y1="142.00" x2="327.60" y2="142.00" stroke="#111" stroke-width="0.6" stroke-linecap="butt"/>
<line x1="344.40" y1="159.00" x2="344.40" y2="161.60" stroke="#111" stroke-width="0.6" stroke-linecap="butt"/>
<line x1="366.00" y1="159.00" x2="366.00" y2="161.60" stroke="#111" stroke-width="0.6" stroke-linecap="butt"/>
<g transform="translate(329.50,104.70) scale(0.4030,0.4436) translate(-30.7,-25.4)" filter="url(#rough)">
<path d="M53.90,50.10C55.53,48.66 54.23,48.99 57.30,48.70C60.37,48.41 61.08,48.79 65.40,49.00C69.72,49.21 70.46,48.86 73.50,49.50C76.54,50.14 75.71,49.27 76.80,51.40C77.89,53.53 77.60,54.62 77.60,57.50C77.60,60.38 76.48,60.41 76.80,62.20C77.12,63.99 78.05,63.27 78.80,64.20C79.55,65.13 80.13,65.22 79.60,65.70C79.07,66.18 77.36,65.28 76.80,66.00C76.24,66.72 77.85,67.63 77.50,68.40C77.15,69.17 76.57,69.11 75.50,68.90C74.43,68.69 74.59,67.23 73.50,67.60C72.41,67.97 72.49,69.21 71.40,70.30C70.31,71.39 70.28,71.70 69.40,71.70C68.52,71.70 69.17,70.11 68.10,70.30C67.03,70.49 66.49,72.05 65.40,72.40C64.31,72.75 65.09,72.53 64.00,71.60C62.91,70.67 63.09,69.59 61.30,68.90C59.51,68.21 59.27,69.16 57.30,69.00C55.33,68.84 55.69,69.21 53.90,68.30C52.11,67.39 52.20,67.04 50.60,65.60C49.00,64.16 49.18,64.34 47.90,62.90C46.62,61.46 45.99,61.83 45.80,60.20C45.61,58.57 45.76,58.43 47.20,56.80C48.64,55.17 49.41,55.89 51.20,54.10C52.99,52.31 52.27,51.54 53.90,50.10Z" fill="#48135f" stroke="#48135f" stroke-width="2.6" stroke-linejoin="round"/>
<path d="M31.20,74.40C32.91,72.69 34.05,74.03 38.00,74.00C41.95,73.97 41.52,74.03 46.00,74.30C50.48,74.57 52.61,73.96 54.80,75.00C56.99,76.04 56.41,75.99 54.20,78.20C51.99,80.41 50.34,80.53 46.50,83.30C42.66,86.07 42.84,86.07 39.80,88.60C36.76,91.13 36.75,91.95 35.10,92.80C33.45,93.65 34.11,93.67 33.60,91.80C33.09,89.93 33.73,88.84 33.20,85.80C32.67,82.76 32.13,83.44 31.60,80.40C31.07,77.36 29.49,76.11 31.20,74.40Z" fill="#48135f" stroke="#48135f" stroke-width="2.6" stroke-linejoin="round"/>
<path d="M57.50,87.10C60.01,86.54 60.25,86.27 64.20,86.40C68.15,86.53 69.74,85.97 72.30,87.60C74.86,89.23 73.61,90.13 73.80,92.50C73.99,94.87 73.93,94.71 73.00,96.50C72.07,98.29 71.74,97.76 70.30,99.20C68.86,100.64 69.04,100.09 67.60,101.90C66.16,103.71 66.34,104.75 64.90,106.00C63.46,107.25 63.45,107.16 62.20,106.60C60.95,106.04 60.73,105.34 60.20,103.90C59.67,102.46 61.27,102.08 60.20,101.20C59.13,100.32 58.17,101.13 56.20,100.60C54.23,100.07 54.24,100.29 52.80,99.20C51.36,98.11 51.52,97.94 50.80,96.50C50.08,95.06 49.57,95.21 50.10,93.80C50.63,92.39 51.55,92.61 52.80,91.20C54.05,89.79 53.55,89.59 54.80,88.50C56.05,87.41 54.99,87.66 57.50,87.10Z" fill="#48135f" stroke="#48135f" stroke-width="2.6" stroke-linejoin="round"/>
<path d="M52.80,121.40C53.81,120.07 53.88,119.53 56.20,118.70C58.52,117.87 58.83,117.93 61.50,118.30C64.17,118.67 65.29,118.90 66.20,120.10C67.11,121.30 66.31,121.55 64.90,122.80C63.49,124.05 63.41,124.08 60.90,124.80C58.39,125.52 57.77,125.79 55.50,125.50C53.23,125.21 53.12,124.79 52.40,123.70C51.68,122.61 51.79,122.73 52.80,121.40Z" fill="#48135f" stroke="#48135f" stroke-width="7.1" stroke-linejoin="round"/>
<path d="M77.00,99.50C77.93,98.46 78.13,98.73 80.00,98.60C81.87,98.47 81.87,98.95 84.00,99.00C86.13,99.05 86.51,98.40 88.00,98.80C89.49,99.20 89.47,99.25 89.60,100.50C89.73,101.75 89.73,102.41 88.50,103.50C87.27,104.59 87.00,104.52 85.00,104.60C83.00,104.68 82.73,103.75 81.00,103.80C79.27,103.85 79.70,105.15 78.50,104.80C77.30,104.45 76.90,103.91 76.50,102.50C76.10,101.09 76.07,100.54 77.00,99.50Z" fill="#48135f" stroke="#48135f" stroke-width="5.6" stroke-linejoin="round"/>
<path d="M90.20,90.40C90.63,89.81 91.47,89.72 92.00,90.20C92.53,90.68 92.63,91.61 92.20,92.20C91.77,92.79 90.93,92.88 90.40,92.40C89.87,91.92 89.77,90.99 90.20,90.40Z" fill="#48135f" stroke="#48135f" stroke-width="4.1" stroke-linejoin="round"/>
<path d="M84.60,111.50C85.08,111.02 86.39,112.19 88.10,110.80C89.81,109.41 89.61,106.73 91.00,106.30C92.39,105.87 92.13,108.11 93.30,109.20C94.47,110.29 95.56,109.76 95.40,110.40C95.24,111.04 94.19,110.96 92.70,111.60C91.21,112.24 91.51,112.53 89.80,112.80C88.09,113.07 87.69,112.95 86.30,112.60C84.91,112.25 84.12,111.98 84.60,111.50Z" fill="#48135f" stroke="#48135f" stroke-width="5.1" stroke-linejoin="round"/>
<path d="M85.20,117.90C86.29,116.35 85.49,116.86 88.10,116.70C90.71,116.54 91.93,116.69 95.00,117.30C98.07,117.91 97.60,117.45 99.60,119.00C101.60,120.55 100.95,120.94 102.50,123.10C104.05,125.26 103.56,124.81 105.40,127.10C107.24,129.39 107.96,129.70 109.40,131.70C110.84,133.70 111.09,133.05 110.80,134.60C110.51,136.15 109.74,136.41 108.30,137.50C106.86,138.59 107.11,138.25 105.40,138.70C103.69,139.15 103.61,138.53 101.90,139.20C100.19,139.87 100.52,140.88 99.00,141.20C97.48,141.52 97.88,141.23 96.20,140.40C94.52,139.57 94.86,139.03 92.70,138.10C90.54,137.17 90.87,137.38 88.10,136.90C85.33,136.42 85.07,136.91 82.30,136.30C79.53,135.69 79.30,135.67 77.70,134.60C76.10,133.53 76.14,133.85 76.30,132.30C76.46,130.75 76.86,130.48 78.30,128.80C79.74,127.12 80.18,127.68 81.70,126.00C83.22,124.32 83.07,124.66 84.00,122.50C84.93,120.34 84.11,119.45 85.20,117.90Z" fill="#48135f" stroke="#48135f" stroke-width="2.6" stroke-linejoin="round"/>
<path d="M90.20,37.30C90.04,35.14 89.91,34.86 91.30,32.70C92.69,30.54 92.76,30.75 95.40,29.20C98.04,27.65 98.13,27.97 101.20,26.90C104.27,25.83 103.54,25.49 106.90,25.20C110.26,24.91 110.41,25.03 113.80,25.80C117.19,26.57 117.12,26.58 119.60,28.10C122.08,29.62 120.94,29.66 123.10,31.50C125.26,33.34 124.93,33.13 127.70,35.00C130.47,36.87 130.97,36.82 133.50,38.50C136.03,40.18 136.59,39.91 137.20,41.30C137.81,42.69 137.40,42.77 135.80,43.70C134.20,44.63 133.97,44.67 131.20,44.80C128.43,44.93 127.88,44.04 125.40,44.20C122.92,44.36 123.45,44.47 121.90,45.40C120.35,46.33 120.99,46.47 119.60,47.70C118.21,48.93 118.09,48.53 116.70,50.00C115.31,51.47 115.47,52.75 114.40,53.20C113.33,53.65 113.61,52.87 112.70,51.70C111.79,50.53 111.77,50.32 111.00,48.80C110.23,47.28 110.89,47.07 109.80,46.00C108.71,44.93 108.90,45.28 106.90,44.80C104.90,44.32 105.07,44.65 102.30,44.20C99.53,43.75 99.27,44.01 96.50,43.10C93.73,42.19 93.58,42.35 91.90,40.80C90.22,39.25 90.36,39.46 90.20,37.30Z" fill="#48135f" stroke="#48135f" stroke-width="2.6" stroke-linejoin="round"/>
<path d="M101.50,59.40C103.55,58.47 107.33,57.37 109.60,57.00C111.87,56.63 112.05,57.07 110.00,58.00C107.95,58.93 104.17,60.13 101.90,60.50C99.63,60.87 99.45,60.33 101.50,59.40Z" fill="#48135f" stroke="#48135f" stroke-width="3.6" stroke-linejoin="round"/>
<path d="M113.80,54.60C114.57,53.21 115.15,53.50 116.70,53.50C118.25,53.50 118.21,54.60 119.60,54.60C120.99,54.60 120.51,53.50 121.90,53.50C123.29,53.50 124.03,53.37 124.80,54.60C125.57,55.83 125.57,56.87 124.80,58.10C124.03,59.33 123.45,58.75 121.90,59.20C120.35,59.65 120.23,58.71 119.00,59.80C117.77,60.89 118.21,63.14 117.30,63.30C116.39,63.46 116.53,61.63 115.60,60.40C114.67,59.17 114.28,60.25 113.80,58.70C113.32,57.15 113.03,55.99 113.80,54.60Z" fill="#48135f" stroke="#48135f" stroke-width="4.1" stroke-linejoin="round"/>
<path d="M106.10,82.90C106.63,82.02 106.15,81.60 107.40,81.60C108.65,81.60 109.17,83.27 110.80,82.90C112.43,82.53 112.59,82.52 113.50,80.20C114.41,77.88 113.32,76.71 114.20,74.20C115.08,71.69 114.29,72.08 116.80,70.80C119.31,69.52 120.53,70.12 123.60,69.40C126.67,68.68 125.79,69.51 128.30,68.10C130.81,66.69 130.68,65.35 133.00,64.10C135.32,62.85 134.84,63.24 137.00,63.40C139.16,63.56 139.13,64.51 141.10,64.70C143.07,64.89 143.33,62.29 144.40,64.10C145.47,65.91 144.19,68.81 145.10,71.50C146.01,74.19 146.73,72.41 147.80,74.20C148.87,75.99 148.91,76.07 149.10,78.20C149.29,80.33 147.94,80.60 148.50,82.20C149.06,83.80 152.67,82.65 151.20,84.20C149.73,85.75 148.23,85.92 143.00,88.00C137.77,90.08 138.21,90.40 131.60,92.00C124.99,93.60 123.93,94.00 118.20,94.00C112.47,94.00 113.33,93.52 110.10,92.00C106.87,90.48 107.35,90.19 106.10,88.30C104.85,86.41 105.40,86.34 105.40,84.90C105.40,83.46 105.57,83.78 106.10,82.90Z" fill="#48135f" stroke="#48135f" stroke-width="2.6" stroke-linejoin="round"/>
<path d="M106.10,88.30C107.89,87.58 106.87,89.25 110.10,89.60C113.33,89.95 114.25,89.95 118.20,89.60C122.15,89.25 121.33,89.37 124.90,88.30C128.47,87.23 128.00,87.04 131.60,85.60C135.20,84.16 135.15,84.34 138.40,82.90C141.65,81.46 141.11,80.39 143.80,80.20C146.49,80.01 146.53,81.13 148.50,82.20C150.47,83.27 149.76,83.29 151.20,84.20C152.64,85.11 152.65,84.32 153.90,85.60C155.15,86.88 154.83,87.03 155.90,89.00C156.97,90.97 156.46,91.03 157.90,93.00C159.34,94.97 160.58,94.61 161.30,96.40C162.02,98.19 161.69,98.10 160.60,99.70C159.51,101.30 159.55,101.15 157.20,102.40C154.85,103.65 153.59,102.96 151.80,104.40C150.01,105.84 151.91,106.36 150.50,107.80C149.09,109.24 148.66,108.36 146.50,109.80C144.34,111.24 144.56,111.76 142.40,113.20C140.24,114.64 140.72,114.48 138.40,115.20C136.08,115.92 136.93,116.09 133.70,115.90C130.47,115.71 129.90,115.22 126.30,114.50C122.70,113.78 122.73,114.08 120.20,113.20C117.67,112.32 118.24,112.64 116.80,111.20C115.36,109.76 115.15,109.61 114.80,107.80C114.45,105.99 116.22,105.65 115.50,104.40C114.78,103.15 114.07,103.98 112.10,103.10C110.13,102.22 108.98,102.35 108.10,101.10C107.22,99.85 109.33,99.49 108.80,98.40C108.27,97.31 107.73,97.72 106.10,97.00C104.47,96.28 103.42,96.95 102.70,95.70C101.98,94.45 102.49,94.27 103.40,92.30C104.31,90.33 104.31,89.02 106.10,88.30Z" fill="#48135f" stroke="#48135f" stroke-width="2.6" stroke-linejoin="round"/>
<g clip-path="url(#allc)"><g filter="url(#bl2)">
<ellipse cx="117.0" cy="31.0" rx="3.2" ry="8.0" fill="#2c728e"/>
<ellipse cx="114.0" cy="32.0" rx="3.5" ry="9.0" fill="#35b479"/>
<ellipse cx="102.0" cy="35.5" rx="12.5" ry="11.5" fill="#f5e61f"/>
<ellipse cx="106.0" cy="28.0" rx="7.0" ry="4.0" fill="#f5e61f"/>
<ellipse cx="130.0" cy="92.0" rx="4.0" ry="4.0" fill="#7a4a3a" opacity="0.35"/>
<ellipse cx="62.0" cy="95.0" rx="3.0" ry="3.0" fill="#7a4a3a" opacity="0.4"/>
</g></g>
</g>
<text x="356.10" y="90.16" font-size="6" text-anchor="middle" font-weight="normal" fill="#2b2b2b">CD163 (Macrophage)</text>
<line x1="390.40" y1="102.20" x2="390.40" y2="159.43" stroke="#111" stroke-width="0.85" stroke-linecap="butt"/>
<line x1="389.97" y1="159.00" x2="448.40" y2="159.00" stroke="#111" stroke-width="0.85" stroke-linecap="butt"/>
<line x1="388.00" y1="120.90" x2="390.40" y2="120.90" stroke="#111" stroke-width="0.6" stroke-linecap="butt"/>
<line x1="388.00" y1="142.00" x2="390.40" y2="142.00" stroke="#111" stroke-width="0.6" stroke-linecap="butt"/>
<line x1="407.20" y1="159.00" x2="407.20" y2="161.60" stroke="#111" stroke-width="0.6" stroke-linecap="butt"/>
<line x1="428.80" y1="159.00" x2="428.80" y2="161.60" stroke="#111" stroke-width="0.6" stroke-linecap="butt"/>
<g transform="translate(392.30,104.70) scale(0.4030,0.4436) translate(-30.7,-25.4)" filter="url(#rough)">
<path d="M53.90,50.10C55.53,48.66 54.23,48.99 57.30,48.70C60.37,48.41 61.08,48.79 65.40,49.00C69.72,49.21 70.46,48.86 73.50,49.50C76.54,50.14 75.71,49.27 76.80,51.40C77.89,53.53 77.60,54.62 77.60,57.50C77.60,60.38 76.48,60.41 76.80,62.20C77.12,63.99 78.05,63.27 78.80,64.20C79.55,65.13 80.13,65.22 79.60,65.70C79.07,66.18 77.36,65.28 76.80,66.00C76.24,66.72 77.85,67.63 77.50,68.40C77.15,69.17 76.57,69.11 75.50,68.90C74.43,68.69 74.59,67.23 73.50,67.60C72.41,67.97 72.49,69.21 71.40,70.30C70.31,71.39 70.28,71.70 69.40,71.70C68.52,71.70 69.17,70.11 68.10,70.30C67.03,70.49 66.49,72.05 65.40,72.40C64.31,72.75 65.09,72.53 64.00,71.60C62.91,70.67 63.09,69.59 61.30,68.90C59.51,68.21 59.27,69.16 57.30,69.00C55.33,68.84 55.69,69.21 53.90,68.30C52.11,67.39 52.20,67.04 50.60,65.60C49.00,64.16 49.18,64.34 47.90,62.90C46.62,61.46 45.99,61.83 45.80,60.20C45.61,58.57 45.76,58.43 47.20,56.80C48.64,55.17 49.41,55.89 51.20,54.10C52.99,52.31 52.27,51.54 53.90,50.10Z" fill="#414487" stroke="#414487" stroke-width="2.6" stroke-linejoin="round"/>
<path d="M31.20,74.40C32.91,72.69 34.05,74.03 38.00,74.00C41.95,73.97 41.52,74.03 46.00,74.30C50.48,74.57 52.61,73.96 54.80,75.00C56.99,76.04 56.41,75.99 54.20,78.20C51.99,80.41 50.34,80.53 46.50,83.30C42.66,86.07 42.84,86.07 39.80,88.60C36.76,91.13 36.75,91.95 35.10,92.80C33.45,93.65 34.11,93.67 33.60,91.80C33.09,89.93 33.73,88.84 33.20,85.80C32.67,82.76 32.13,83.44 31.60,80.40C31.07,77.36 29.49,76.11 31.20,74.40Z" fill="#46337f" stroke="#46337f" stroke-width="2.6" stroke-linejoin="round"/>
<path d="M57.50,87.10C60.01,86.54 60.25,86.27 64.20,86.40C68.15,86.53 69.74,85.97 72.30,87.60C74.86,89.23 73.61,90.13 73.80,92.50C73.99,94.87 73.93,94.71 73.00,96.50C72.07,98.29 71.74,97.76 70.30,99.20C68.86,100.64 69.04,100.09 67.60,101.90C66.16,103.71 66.34,104.75 64.90,106.00C63.46,107.25 63.45,107.16 62.20,106.60C60.95,106.04 60.73,105.34 60.20,103.90C59.67,102.46 61.27,102.08 60.20,101.20C59.13,100.32 58.17,101.13 56.20,100.60C54.23,100.07 54.24,100.29 52.80,99.20C51.36,98.11 51.52,97.94 50.80,96.50C50.08,95.06 49.57,95.21 50.10,93.80C50.63,92.39 51.55,92.61 52.80,91.20C54.05,89.79 53.55,89.59 54.80,88.50C56.05,87.41 54.99,87.66 57.50,87.10Z" fill="#3f4788" stroke="#3f4788" stroke-width="2.6" stroke-linejoin="round"/>
<path d="M52.80,121.40C53.81,120.07 53.88,119.53 56.20,118.70C58.52,117.87 58.83,117.93 61.50,118.30C64.17,118.67 65.29,118.90 66.20,120.10C67.11,121.30 66.31,121.55 64.90,122.80C63.49,124.05 63.41,124.08 60.90,124.80C58.39,125.52 57.77,125.79 55.50,125.50C53.23,125.21 53.12,124.79 52.40,123.70C51.68,122.61 51.79,122.73 52.80,121.40Z" fill="#414487" stroke="#414487" stroke-width="7.1" stroke-linejoin="round"/>
<path d="M77.00,99.50C77.93,98.46 78.13,98.73 80.00,98.60C81.87,98.47 81.87,98.95 84.00,99.00C86.13,99.05 86.51,98.40 88.00,98.80C89.49,99.20 89.47,99.25 89.60,100.50C89.73,101.75 89.73,102.41 88.50,103.50C87.27,104.59 87.00,104.52 85.00,104.60C83.00,104.68 82.73,103.75 81.00,103.80C79.27,103.85 79.70,105.15 78.50,104.80C77.30,104.45 76.90,103.91 76.50,102.50C76.10,101.09 76.07,100.54 77.00,99.50Z" fill="#433e85" stroke="#433e85" stroke-width="5.6" stroke-linejoin="round"/>
<path d="M90.20,90.40C90.63,89.81 91.47,89.72 92.00,90.20C92.53,90.68 92.63,91.61 92.20,92.20C91.77,92.79 90.93,92.88 90.40,92.40C89.87,91.92 89.77,90.99 90.20,90.40Z" fill="#433e85" stroke="#433e85" stroke-width="4.1" stroke-linejoin="round"/>
<path d="M84.60,111.50C85.08,111.02 86.39,112.19 88.10,110.80C89.81,109.41 89.61,106.73 91.00,106.30C92.39,105.87 92.13,108.11 93.30,109.20C94.47,110.29 95.56,109.76 95.40,110.40C95.24,111.04 94.19,110.96 92.70,111.60C91.21,112.24 91.51,112.53 89.80,112.80C88.09,113.07 87.69,112.95 86.30,112.60C84.91,112.25 84.12,111.98 84.60,111.50Z" fill="#433e85" stroke="#433e85" stroke-width="5.1" stroke-linejoin="round"/>
<path d="M85.20,117.90C86.29,116.35 85.49,116.86 88.10,116.70C90.71,116.54 91.93,116.69 95.00,117.30C98.07,117.91 97.60,117.45 99.60,119.00C101.60,120.55 100.95,120.94 102.50,123.10C104.05,125.26 103.56,124.81 105.40,127.10C107.24,129.39 107.96,129.70 109.40,131.70C110.84,133.70 111.09,133.05 110.80,134.60C110.51,136.15 109.74,136.41 108.30,137.50C106.86,138.59 107.11,138.25 105.40,138.70C103.69,139.15 103.61,138.53 101.90,139.20C100.19,139.87 100.52,140.88 99.00,141.20C97.48,141.52 97.88,141.23 96.20,140.40C94.52,139.57 94.86,139.03 92.70,138.10C90.54,137.17 90.87,137.38 88.10,136.90C85.33,136.42 85.07,136.91 82.30,136.30C79.53,135.69 79.30,135.67 77.70,134.60C76.10,133.53 76.14,133.85 76.30,132.30C76.46,130.75 76.86,130.48 78.30,128.80C79.74,127.12 80.18,127.68 81.70,126.00C83.22,124.32 83.07,124.66 84.00,122.50C84.93,120.34 84.11,119.45 85.20,117.90Z" fill="#404688" stroke="#404688" stroke-width="2.6" stroke-linejoin="round"/>
<path d="M90.20,37.30C90.04,35.14 89.91,34.86 91.30,32.70C92.69,30.54 92.76,30.75 95.40,29.20C98.04,27.65 98.13,27.97 101.20,26.90C104.27,25.83 103.54,25.49 106.90,25.20C110.26,24.91 110.41,25.03 113.80,25.80C117.19,26.57 117.12,26.58 119.60,28.10C122.08,29.62 120.94,29.66 123.10,31.50C125.26,33.34 124.93,33.13 127.70,35.00C130.47,36.87 130.97,36.82 133.50,38.50C136.03,40.18 136.59,39.91 137.20,41.30C137.81,42.69 137.40,42.77 135.80,43.70C134.20,44.63 133.97,44.67 131.20,44.80C128.43,44.93 127.88,44.04 125.40,44.20C122.92,44.36 123.45,44.47 121.90,45.40C120.35,46.33 120.99,46.47 119.60,47.70C118.21,48.93 118.09,48.53 116.70,50.00C115.31,51.47 115.47,52.75 114.40,53.20C113.33,53.65 113.61,52.87 112.70,51.70C111.79,50.53 111.77,50.32 111.00,48.80C110.23,47.28 110.89,47.07 109.80,46.00C108.71,44.93 108.90,45.28 106.90,44.80C104.90,44.32 105.07,44.65 102.30,44.20C99.53,43.75 99.27,44.01 96.50,43.10C93.73,42.19 93.58,42.35 91.90,40.80C90.22,39.25 90.36,39.46 90.20,37.30Z" fill="#3b528b" stroke="#3b528b" stroke-width="2.6" stroke-linejoin="round"/>
<path d="M101.50,59.40C103.55,58.47 107.33,57.37 109.60,57.00C111.87,56.63 112.05,57.07 110.00,58.00C107.95,58.93 104.17,60.13 101.90,60.50C99.63,60.87 99.45,60.33 101.50,59.40Z" fill="#433e85" stroke="#433e85" stroke-width="3.6" stroke-linejoin="round"/>
<path d="M113.80,54.60C114.57,53.21 115.15,53.50 116.70,53.50C118.25,53.50 118.21,54.60 119.60,54.60C120.99,54.60 120.51,53.50 121.90,53.50C123.29,53.50 124.03,53.37 124.80,54.60C125.57,55.83 125.57,56.87 124.80,58.10C124.03,59.33 123.45,58.75 121.90,59.20C120.35,59.65 120.23,58.71 119.00,59.80C117.77,60.89 118.21,63.14 117.30,63.30C116.39,63.46 116.53,61.63 115.60,60.40C114.67,59.17 114.28,60.25 113.80,58.70C113.32,57.15 113.03,55.99 113.80,54.60Z" fill="#3b528b" stroke="#3b528b" stroke-width="4.1" stroke-linejoin="round"/>
<path d="M106.10,82.90C106.63,82.02 106.15,81.60 107.40,81.60C108.65,81.60 109.17,83.27 110.80,82.90C112.43,82.53 112.59,82.52 113.50,80.20C114.41,77.88 113.32,76.71 114.20,74.20C115.08,71.69 114.29,72.08 116.80,70.80C119.31,69.52 120.53,70.12 123.60,69.40C126.67,68.68 125.79,69.51 128.30,68.10C130.81,66.69 130.68,65.35 133.00,64.10C135.32,62.85 134.84,63.24 137.00,63.40C139.16,63.56 139.13,64.51 141.10,64.70C143.07,64.89 143.33,62.29 144.40,64.10C145.47,65.91 144.19,68.81 145.10,71.50C146.01,74.19 146.73,72.41 147.80,74.20C148.87,75.99 148.91,76.07 149.10,78.20C149.29,80.33 147.94,80.60 148.50,82.20C149.06,83.80 152.67,82.65 151.20,84.20C149.73,85.75 148.23,85.92 143.00,88.00C137.77,90.08 138.21,90.40 131.60,92.00C124.99,93.60 123.93,94.00 118.20,94.00C112.47,94.00 113.33,93.52 110.10,92.00C106.87,90.48 107.35,90.19 106.10,88.30C104.85,86.41 105.40,86.34 105.40,84.90C105.40,83.46 105.57,83.78 106.10,82.90Z" fill="#cde11d" stroke="#cde11d" stroke-width="2.6" stroke-linejoin="round"/>
<path d="M106.10,88.30C107.89,87.58 106.87,89.25 110.10,89.60C113.33,89.95 114.25,89.95 118.20,89.60C122.15,89.25 121.33,89.37 124.90,88.30C128.47,87.23 128.00,87.04 131.60,85.60C135.20,84.16 135.15,84.34 138.40,82.90C141.65,81.46 141.11,80.39 143.80,80.20C146.49,80.01 146.53,81.13 148.50,82.20C150.47,83.27 149.76,83.29 151.20,84.20C152.64,85.11 152.65,84.32 153.90,85.60C155.15,86.88 154.83,87.03 155.90,89.00C156.97,90.97 156.46,91.03 157.90,93.00C159.34,94.97 160.58,94.61 161.30,96.40C162.02,98.19 161.69,98.10 160.60,99.70C159.51,101.30 159.55,101.15 157.20,102.40C154.85,103.65 153.59,102.96 151.80,104.40C150.01,105.84 151.91,106.36 150.50,107.80C149.09,109.24 148.66,108.36 146.50,109.80C144.34,111.24 144.56,111.76 142.40,113.20C140.24,114.64 140.72,114.48 138.40,115.20C136.08,115.92 136.93,116.09 133.70,115.90C130.47,115.71 129.90,115.22 126.30,114.50C122.70,113.78 122.73,114.08 120.20,113.20C117.67,112.32 118.24,112.64 116.80,111.20C115.36,109.76 115.15,109.61 114.80,107.80C114.45,105.99 116.22,105.65 115.50,104.40C114.78,103.15 114.07,103.98 112.10,103.10C110.13,102.22 108.98,102.35 108.10,101.10C107.22,99.85 109.33,99.49 108.80,98.40C108.27,97.31 107.73,97.72 106.10,97.00C104.47,96.28 103.42,96.95 102.70,95.70C101.98,94.45 102.49,94.27 103.40,92.30C104.31,90.33 104.31,89.02 106.10,88.30Z" fill="#ece51b" stroke="#ece51b" stroke-width="2.6" stroke-linejoin="round"/>
<g clip-path="url(#allc)"><g filter="url(#bl)">
<ellipse cx="110.0" cy="33.0" rx="8.0" ry="5.0" fill="#27ad81" opacity="0.95"/>
<ellipse cx="114.0" cy="44.0" rx="3.0" ry="5.0" fill="#21918c" opacity="0.9"/>
<ellipse cx="98.0" cy="36.0" rx="4.0" ry="4.0" fill="#35608d" opacity="0.9"/>
<ellipse cx="122.0" cy="76.0" rx="8.0" ry="6.0" fill="#7ad151" opacity="0.8"/>
<ellipse cx="140.0" cy="72.0" rx="6.0" ry="6.0" fill="#a8db34" opacity="0.8"/>
<ellipse cx="134.0" cy="100.0" rx="16.0" ry="10.0" fill="#f8e621" opacity="0.95"/>
<ellipse cx="116.0" cy="98.0" rx="5.0" ry="7.0" fill="#a0da39" opacity="0.7"/>
<ellipse cx="153.0" cy="96.0" rx="5.0" ry="6.0" fill="#bddf26" opacity="0.8"/>
<ellipse cx="62.0" cy="58.0" rx="8.0" ry="6.0" fill="#33638d" opacity="0.8"/>
<ellipse cx="62.0" cy="95.0" rx="7.0" ry="6.0" fill="#2f6c8e" opacity="0.8"/>
<ellipse cx="94.0" cy="130.0" rx="9.0" ry="6.0" fill="#33638d" opacity="0.8"/>
<ellipse cx="128.0" cy="110.0" rx="8.0" ry="4.0" fill="#5ec962" opacity="0.6"/>
</g></g>
</g>
<text x="418.90" y="90.16" font-size="6" text-anchor="middle" font-weight="normal" fill="#2b2b2b">CD3D (T cell)</text>
<line x1="453.20" y1="102.20" x2="453.20" y2="159.43" stroke="#111" stroke-width="0.85" stroke-linecap="butt"/>
<line x1="452.77" y1="159.00" x2="511.20" y2="159.00" stroke="#111" stroke-width="0.85" stroke-linecap="butt"/>
<line x1="450.80" y1="120.90" x2="453.20" y2="120.90" stroke="#111" stroke-width="0.6" stroke-linecap="butt"/>
<line x1="450.80" y1="142.00" x2="453.20" y2="142.00" stroke="#111" stroke-width="0.6" stroke-linecap="butt"/>
<line x1="470.00" y1="159.00" x2="470.00" y2="161.60" stroke="#111" stroke-width="0.6" stroke-linecap="butt"/>
<line x1="491.60" y1="159.00" x2="491.60" y2="161.60" stroke="#111" stroke-width="0.6" stroke-linecap="butt"/>
<g transform="translate(455.10,104.70) scale(0.4030,0.4436) translate(-30.7,-25.4)" filter="url(#rough)">
<path d="M53.90,50.10C55.53,48.66 54.23,48.99 57.30,48.70C60.37,48.41 61.08,48.79 65.40,49.00C69.72,49.21 70.46,48.86 73.50,49.50C76.54,50.14 75.71,49.27 76.80,51.40C77.89,53.53 77.60,54.62 77.60,57.50C77.60,60.38 76.48,60.41 76.80,62.20C77.12,63.99 78.05,63.27 78.80,64.20C79.55,65.13 80.13,65.22 79.60,65.70C79.07,66.18 77.36,65.28 76.80,66.00C76.24,66.72 77.85,67.63 77.50,68.40C77.15,69.17 76.57,69.11 75.50,68.90C74.43,68.69 74.59,67.23 73.50,67.60C72.41,67.97 72.49,69.21 71.40,70.30C70.31,71.39 70.28,71.70 69.40,71.70C68.52,71.70 69.17,70.11 68.10,70.30C67.03,70.49 66.49,72.05 65.40,72.40C64.31,72.75 65.09,72.53 64.00,71.60C62.91,70.67 63.09,69.59 61.30,68.90C59.51,68.21 59.27,69.16 57.30,69.00C55.33,68.84 55.69,69.21 53.90,68.30C52.11,67.39 52.20,67.04 50.60,65.60C49.00,64.16 49.18,64.34 47.90,62.90C46.62,61.46 45.99,61.83 45.80,60.20C45.61,58.57 45.76,58.43 47.20,56.80C48.64,55.17 49.41,55.89 51.20,54.10C52.99,52.31 52.27,51.54 53.90,50.10Z" fill="#46155f" stroke="#46155f" stroke-width="2.6" stroke-linejoin="round"/>
<path d="M31.20,74.40C32.91,72.69 34.05,74.03 38.00,74.00C41.95,73.97 41.52,74.03 46.00,74.30C50.48,74.57 52.61,73.96 54.80,75.00C56.99,76.04 56.41,75.99 54.20,78.20C51.99,80.41 50.34,80.53 46.50,83.30C42.66,86.07 42.84,86.07 39.80,88.60C36.76,91.13 36.75,91.95 35.10,92.80C33.45,93.65 34.11,93.67 33.60,91.80C33.09,89.93 33.73,88.84 33.20,85.80C32.67,82.76 32.13,83.44 31.60,80.40C31.07,77.36 29.49,76.11 31.20,74.40Z" fill="#46155f" stroke="#46155f" stroke-width="2.6" stroke-linejoin="round"/>
<path d="M57.50,87.10C60.01,86.54 60.25,86.27 64.20,86.40C68.15,86.53 69.74,85.97 72.30,87.60C74.86,89.23 73.61,90.13 73.80,92.50C73.99,94.87 73.93,94.71 73.00,96.50C72.07,98.29 71.74,97.76 70.30,99.20C68.86,100.64 69.04,100.09 67.60,101.90C66.16,103.71 66.34,104.75 64.90,106.00C63.46,107.25 63.45,107.16 62.20,106.60C60.95,106.04 60.73,105.34 60.20,103.90C59.67,102.46 61.27,102.08 60.20,101.20C59.13,100.32 58.17,101.13 56.20,100.60C54.23,100.07 54.24,100.29 52.80,99.20C51.36,98.11 51.52,97.94 50.80,96.50C50.08,95.06 49.57,95.21 50.10,93.80C50.63,92.39 51.55,92.61 52.80,91.20C54.05,89.79 53.55,89.59 54.80,88.50C56.05,87.41 54.99,87.66 57.50,87.10Z" fill="#f0e224" stroke="#f0e224" stroke-width="2.6" stroke-linejoin="round"/>
<path d="M52.80,121.40C53.81,120.07 53.88,119.53 56.20,118.70C58.52,117.87 58.83,117.93 61.50,118.30C64.17,118.67 65.29,118.90 66.20,120.10C67.11,121.30 66.31,121.55 64.90,122.80C63.49,124.05 63.41,124.08 60.90,124.80C58.39,125.52 57.77,125.79 55.50,125.50C53.23,125.21 53.12,124.79 52.40,123.70C51.68,122.61 51.79,122.73 52.80,121.40Z" fill="#46155f" stroke="#46155f" stroke-width="7.1" stroke-linejoin="round"/>
<path d="M77.00,99.50C77.93,98.46 78.13,98.73 80.00,98.60C81.87,98.47 81.87,98.95 84.00,99.00C86.13,99.05 86.51,98.40 88.00,98.80C89.49,99.20 89.47,99.25 89.60,100.50C89.73,101.75 89.73,102.41 88.50,103.50C87.27,104.59 87.00,104.52 85.00,104.60C83.00,104.68 82.73,103.75 81.00,103.80C79.27,103.85 79.70,105.15 78.50,104.80C77.30,104.45 76.90,103.91 76.50,102.50C76.10,101.09 76.07,100.54 77.00,99.50Z" fill="#46155f" stroke="#46155f" stroke-width="5.6" stroke-linejoin="round"/>
<path d="M90.20,90.40C90.63,89.81 91.47,89.72 92.00,90.20C92.53,90.68 92.63,91.61 92.20,92.20C91.77,92.79 90.93,92.88 90.40,92.40C89.87,91.92 89.77,90.99 90.20,90.40Z" fill="#46155f" stroke="#46155f" stroke-width="4.1" stroke-linejoin="round"/>
<path d="M84.60,111.50C85.08,111.02 86.39,112.19 88.10,110.80C89.81,109.41 89.61,106.73 91.00,106.30C92.39,105.87 92.13,108.11 93.30,109.20C94.47,110.29 95.56,109.76 95.40,110.40C95.24,111.04 94.19,110.96 92.70,111.60C91.21,112.24 91.51,112.53 89.80,112.80C88.09,113.07 87.69,112.95 86.30,112.60C84.91,112.25 84.12,111.98 84.60,111.50Z" fill="#46155f" stroke="#46155f" stroke-width="5.1" stroke-linejoin="round"/>
<path d="M85.20,117.90C86.29,116.35 85.49,116.86 88.10,116.70C90.71,116.54 91.93,116.69 95.00,117.30C98.07,117.91 97.60,117.45 99.60,119.00C101.60,120.55 100.95,120.94 102.50,123.10C104.05,125.26 103.56,124.81 105.40,127.10C107.24,129.39 107.96,129.70 109.40,131.70C110.84,133.70 111.09,133.05 110.80,134.60C110.51,136.15 109.74,136.41 108.30,137.50C106.86,138.59 107.11,138.25 105.40,138.70C103.69,139.15 103.61,138.53 101.90,139.20C100.19,139.87 100.52,140.88 99.00,141.20C97.48,141.52 97.88,141.23 96.20,140.40C94.52,139.57 94.86,139.03 92.70,138.10C90.54,137.17 90.87,137.38 88.10,136.90C85.33,136.42 85.07,136.91 82.30,136.30C79.53,135.69 79.30,135.67 77.70,134.60C76.10,133.53 76.14,133.85 76.30,132.30C76.46,130.75 76.86,130.48 78.30,128.80C79.74,127.12 80.18,127.68 81.70,126.00C83.22,124.32 83.07,124.66 84.00,122.50C84.93,120.34 84.11,119.45 85.20,117.90Z" fill="#46155f" stroke="#46155f" stroke-width="2.6" stroke-linejoin="round"/>
<path d="M90.20,37.30C90.04,35.14 89.91,34.86 91.30,32.70C92.69,30.54 92.76,30.75 95.40,29.20C98.04,27.65 98.13,27.97 101.20,26.90C104.27,25.83 103.54,25.49 106.90,25.20C110.26,24.91 110.41,25.03 113.80,25.80C117.19,26.57 117.12,26.58 119.60,28.10C122.08,29.62 120.94,29.66 123.10,31.50C125.26,33.34 124.93,33.13 127.70,35.00C130.47,36.87 130.97,36.82 133.50,38.50C136.03,40.18 136.59,39.91 137.20,41.30C137.81,42.69 137.40,42.77 135.80,43.70C134.20,44.63 133.97,44.67 131.20,44.80C128.43,44.93 127.88,44.04 125.40,44.20C122.92,44.36 123.45,44.47 121.90,45.40C120.35,46.33 120.99,46.47 119.60,47.70C118.21,48.93 118.09,48.53 116.70,50.00C115.31,51.47 115.47,52.75 114.40,53.20C113.33,53.65 113.61,52.87 112.70,51.70C111.79,50.53 111.77,50.32 111.00,48.80C110.23,47.28 110.89,47.07 109.80,46.00C108.71,44.93 108.90,45.28 106.90,44.80C104.90,44.32 105.07,44.65 102.30,44.20C99.53,43.75 99.27,44.01 96.50,43.10C93.73,42.19 93.58,42.35 91.90,40.80C90.22,39.25 90.36,39.46 90.20,37.30Z" fill="#46307e" stroke="#46307e" stroke-width="2.6" stroke-linejoin="round"/>
<path d="M101.50,59.40C103.55,58.47 107.33,57.37 109.60,57.00C111.87,56.63 112.05,57.07 110.00,58.00C107.95,58.93 104.17,60.13 101.90,60.50C99.63,60.87 99.45,60.33 101.50,59.40Z" fill="#46155f" stroke="#46155f" stroke-width="3.6" stroke-linejoin="round"/>
<path d="M113.80,54.60C114.57,53.21 115.15,53.50 116.70,53.50C118.25,53.50 118.21,54.60 119.60,54.60C120.99,54.60 120.51,53.50 121.90,53.50C123.29,53.50 124.03,53.37 124.80,54.60C125.57,55.83 125.57,56.87 124.80,58.10C124.03,59.33 123.45,58.75 121.90,59.20C120.35,59.65 120.23,58.71 119.00,59.80C117.77,60.89 118.21,63.14 117.30,63.30C116.39,63.46 116.53,61.63 115.60,60.40C114.67,59.17 114.28,60.25 113.80,58.70C113.32,57.15 113.03,55.99 113.80,54.60Z" fill="#46155f" stroke="#46155f" stroke-width="4.1" stroke-linejoin="round"/>
<path d="M106.10,82.90C106.63,82.02 106.15,81.60 107.40,81.60C108.65,81.60 109.17,83.27 110.80,82.90C112.43,82.53 112.59,82.52 113.50,80.20C114.41,77.88 113.32,76.71 114.20,74.20C115.08,71.69 114.29,72.08 116.80,70.80C119.31,69.52 120.53,70.12 123.60,69.40C126.67,68.68 125.79,69.51 128.30,68.10C130.81,66.69 130.68,65.35 133.00,64.10C135.32,62.85 134.84,63.24 137.00,63.40C139.16,63.56 139.13,64.51 141.10,64.70C143.07,64.89 143.33,62.29 144.40,64.10C145.47,65.91 144.19,68.81 145.10,71.50C146.01,74.19 146.73,72.41 147.80,74.20C148.87,75.99 148.91,76.07 149.10,78.20C149.29,80.33 147.94,80.60 148.50,82.20C149.06,83.80 152.67,82.65 151.20,84.20C149.73,85.75 148.23,85.92 143.00,88.00C137.77,90.08 138.21,90.40 131.60,92.00C124.99,93.60 123.93,94.00 118.20,94.00C112.47,94.00 113.33,93.52 110.10,92.00C106.87,90.48 107.35,90.19 106.10,88.30C104.85,86.41 105.40,86.34 105.40,84.90C105.40,83.46 105.57,83.78 106.10,82.90Z" fill="#46287a" stroke="#46287a" stroke-width="2.6" stroke-linejoin="round"/>
<path d="M106.10,88.30C107.89,87.58 106.87,89.25 110.10,89.60C113.33,89.95 114.25,89.95 118.20,89.60C122.15,89.25 121.33,89.37 124.90,88.30C128.47,87.23 128.00,87.04 131.60,85.60C135.20,84.16 135.15,84.34 138.40,82.90C141.65,81.46 141.11,80.39 143.80,80.20C146.49,80.01 146.53,81.13 148.50,82.20C150.47,83.27 149.76,83.29 151.20,84.20C152.64,85.11 152.65,84.32 153.90,85.60C155.15,86.88 154.83,87.03 155.90,89.00C156.97,90.97 156.46,91.03 157.90,93.00C159.34,94.97 160.58,94.61 161.30,96.40C162.02,98.19 161.69,98.10 160.60,99.70C159.51,101.30 159.55,101.15 157.20,102.40C154.85,103.65 153.59,102.96 151.80,104.40C150.01,105.84 151.91,106.36 150.50,107.80C149.09,109.24 148.66,108.36 146.50,109.80C144.34,111.24 144.56,111.76 142.40,113.20C140.24,114.64 140.72,114.48 138.40,115.20C136.08,115.92 136.93,116.09 133.70,115.90C130.47,115.71 129.90,115.22 126.30,114.50C122.70,113.78 122.73,114.08 120.20,113.20C117.67,112.32 118.24,112.64 116.80,111.20C115.36,109.76 115.15,109.61 114.80,107.80C114.45,105.99 116.22,105.65 115.50,104.40C114.78,103.15 114.07,103.98 112.10,103.10C110.13,102.22 108.98,102.35 108.10,101.10C107.22,99.85 109.33,99.49 108.80,98.40C108.27,97.31 107.73,97.72 106.10,97.00C104.47,96.28 103.42,96.95 102.70,95.70C101.98,94.45 102.49,94.27 103.40,92.30C104.31,90.33 104.31,89.02 106.10,88.30Z" fill="#452f7c" stroke="#452f7c" stroke-width="2.6" stroke-linejoin="round"/>
<g clip-path="url(#allc)"><g filter="url(#bl)">
<ellipse cx="112.0" cy="32.0" rx="8.0" ry="4.0" fill="#3e4989" opacity="0.8"/>
<ellipse cx="134.0" cy="92.0" rx="13.0" ry="10.0" fill="#3e4989" opacity="0.7"/>
<ellipse cx="128.0" cy="76.0" rx="7.0" ry="5.0" fill="#443a83" opacity="0.8"/>
<ellipse cx="62.0" cy="95.0" rx="8.0" ry="7.0" fill="#fde725"/>
<ellipse cx="60.0" cy="58.0" rx="6.0" ry="5.0" fill="#472d7b" opacity="0.8"/>
<ellipse cx="94.0" cy="130.0" rx="7.0" ry="6.0" fill="#472d7b" opacity="0.8"/>
</g></g>
</g>
<text x="481.70" y="90.16" font-size="6" text-anchor="middle" font-weight="normal" fill="#2b2b2b">SELE (Endothelial</text>
<text x="481.70" y="96.56" font-size="6" text-anchor="middle" font-weight="normal" fill="#2b2b2b">[venular])</text>
<rect x="468.00" y="164.40" width="25.50" height="4.80" fill="url(#vir)"/>
<text x="465.40" y="169.05" font-size="5.7" text-anchor="end" font-weight="normal" fill="#2b2b2b">Low</text>
<text x="496.60" y="169.05" font-size="5.7" text-anchor="start" font-weight="normal" fill="#2b2b2b">High</text>
<text x="520.30" y="177.02" font-size="5.6" text-anchor="end" font-weight="normal" fill="#2b2b2b" textLength="78.50" lengthAdjust="spacingAndGlyphs">(Batch adjusted log-normalized)</text>
</g>
<g id="panelD">
<text x="100.60" y="189.87" font-size="10.2" text-anchor="start" font-weight="bold" fill="#000">D</text>
<line x1="108.00" y1="204.80" x2="108.00" y2="254.62" stroke="#111" stroke-width="0.85" stroke-linecap="butt"/>
<line x1="107.58" y1="254.20" x2="157.60" y2="254.20" stroke="#111" stroke-width="0.85" stroke-linecap="butt"/>
<line x1="105.60" y1="221.30" x2="108.00" y2="221.30" stroke="#111" stroke-width="0.6" stroke-linecap="butt"/>
<line x1="105.60" y1="238.90" x2="108.00" y2="238.90" stroke="#111" stroke-width="0.6" stroke-linecap="butt"/>
<line x1="123.00" y1="254.20" x2="123.00" y2="256.80" stroke="#111" stroke-width="0.6" stroke-linecap="butt"/>
<line x1="141.20" y1="254.20" x2="141.20" y2="256.80" stroke="#111" stroke-width="0.6" stroke-linecap="butt"/>
<g transform="translate(110.40,206.50) scale(0.3520,0.3880) translate(-30.7,-25.4)" filter="url(#rough)">
<path d="M53.90,50.10C55.53,48.66 54.23,48.99 57.30,48.70C60.37,48.41 61.08,48.79 65.40,49.00C69.72,49.21 70.46,48.86 73.50,49.50C76.54,50.14 75.71,49.27 76.80,51.40C77.89,53.53 77.60,54.62 77.60,57.50C77.60,60.38 76.48,60.41 76.80,62.20C77.12,63.99 78.05,63.27 78.80,64.20C79.55,65.13 80.13,65.22 79.60,65.70C79.07,66.18 77.36,65.28 76.80,66.00C76.24,66.72 77.85,67.63 77.50,68.40C77.15,69.17 76.57,69.11 75.50,68.90C74.43,68.69 74.59,67.23 73.50,67.60C72.41,67.97 72.49,69.21 71.40,70.30C70.31,71.39 70.28,71.70 69.40,71.70C68.52,71.70 69.17,70.11 68.10,70.30C67.03,70.49 66.49,72.05 65.40,72.40C64.31,72.75 65.09,72.53 64.00,71.60C62.91,70.67 63.09,69.59 61.30,68.90C59.51,68.21 59.27,69.16 57.30,69.00C55.33,68.84 55.69,69.21 53.90,68.30C52.11,67.39 52.20,67.04 50.60,65.60C49.00,64.16 49.18,64.34 47.90,62.90C46.62,61.46 45.99,61.83 45.80,60.20C45.61,58.57 45.76,58.43 47.20,56.80C48.64,55.17 49.41,55.89 51.20,54.10C52.99,52.31 52.27,51.54 53.90,50.10Z" fill="#48135f" stroke="#48135f" stroke-width="4" stroke-linejoin="round"/>
<path d="M31.20,74.40C32.91,72.69 34.05,74.03 38.00,74.00C41.95,73.97 41.52,74.03 46.00,74.30C50.48,74.57 52.61,73.96 54.80,75.00C56.99,76.04 56.41,75.99 54.20,78.20C51.99,80.41 50.34,80.53 46.50,83.30C42.66,86.07 42.84,86.07 39.80,88.60C36.76,91.13 36.75,91.95 35.10,92.80C33.45,93.65 34.11,93.67 33.60,91.80C33.09,89.93 33.73,88.84 33.20,85.80C32.67,82.76 32.13,83.44 31.60,80.40C31.07,77.36 29.49,76.11 31.20,74.40Z" fill="#48135f" stroke="#48135f" stroke-width="4" stroke-linejoin="round"/>
<path d="M57.50,87.10C60.01,86.54 60.25,86.27 64.20,86.40C68.15,86.53 69.74,85.97 72.30,87.60C74.86,89.23 73.61,90.13 73.80,92.50C73.99,94.87 73.93,94.71 73.00,96.50C72.07,98.29 71.74,97.76 70.30,99.20C68.86,100.64 69.04,100.09 67.60,101.90C66.16,103.71 66.34,104.75 64.90,106.00C63.46,107.25 63.45,107.16 62.20,106.60C60.95,106.04 60.73,105.34 60.20,103.90C59.67,102.46 61.27,102.08 60.20,101.20C59.13,100.32 58.17,101.13 56.20,100.60C54.23,100.07 54.24,100.29 52.80,99.20C51.36,98.11 51.52,97.94 50.80,96.50C50.08,95.06 49.57,95.21 50.10,93.80C50.63,92.39 51.55,92.61 52.80,91.20C54.05,89.79 53.55,89.59 54.80,88.50C56.05,87.41 54.99,87.66 57.50,87.10Z" fill="#48135f" stroke="#48135f" stroke-width="4" stroke-linejoin="round"/>
<path d="M52.80,121.40C53.81,120.07 53.88,119.53 56.20,118.70C58.52,117.87 58.83,117.93 61.50,118.30C64.17,118.67 65.29,118.90 66.20,120.10C67.11,121.30 66.31,121.55 64.90,122.80C63.49,124.05 63.41,124.08 60.90,124.80C58.39,125.52 57.77,125.79 55.50,125.50C53.23,125.21 53.12,124.79 52.40,123.70C51.68,122.61 51.79,122.73 52.80,121.40Z" fill="#48135f" stroke="#48135f" stroke-width="8.5" stroke-linejoin="round"/>
<path d="M77.00,99.50C77.93,98.46 78.13,98.73 80.00,98.60C81.87,98.47 81.87,98.95 84.00,99.00C86.13,99.05 86.51,98.40 88.00,98.80C89.49,99.20 89.47,99.25 89.60,100.50C89.73,101.75 89.73,102.41 88.50,103.50C87.27,104.59 87.00,104.52 85.00,104.60C83.00,104.68 82.73,103.75 81.00,103.80C79.27,103.85 79.70,105.15 78.50,104.80C77.30,104.45 76.90,103.91 76.50,102.50C76.10,101.09 76.07,100.54 77.00,99.50Z" fill="#48135f" stroke="#48135f" stroke-width="7" stroke-linejoin="round"/>
<path d="M90.20,90.40C90.63,89.81 91.47,89.72 92.00,90.20C92.53,90.68 92.63,91.61 92.20,92.20C91.77,92.79 90.93,92.88 90.40,92.40C89.87,91.92 89.77,90.99 90.20,90.40Z" fill="#48135f" stroke="#48135f" stroke-width="5.5" stroke-linejoin="round"/>
<path d="M84.60,111.50C85.08,111.02 86.39,112.19 88.10,110.80C89.81,109.41 89.61,106.73 91.00,106.30C92.39,105.87 92.13,108.11 93.30,109.20C94.47,110.29 95.56,109.76 95.40,110.40C95.24,111.04 94.19,110.96 92.70,111.60C91.21,112.24 91.51,112.53 89.80,112.80C88.09,113.07 87.69,112.95 86.30,112.60C84.91,112.25 84.12,111.98 84.60,111.50Z" fill="#48135f" stroke="#48135f" stroke-width="6.5" stroke-linejoin="round"/>
<path d="M85.20,117.90C86.29,116.35 85.49,116.86 88.10,116.70C90.71,116.54 91.93,116.69 95.00,117.30C98.07,117.91 97.60,117.45 99.60,119.00C101.60,120.55 100.95,120.94 102.50,123.10C104.05,125.26 103.56,124.81 105.40,127.10C107.24,129.39 107.96,129.70 109.40,131.70C110.84,133.70 111.09,133.05 110.80,134.60C110.51,136.15 109.74,136.41 108.30,137.50C106.86,138.59 107.11,138.25 105.40,138.70C103.69,139.15 103.61,138.53 101.90,139.20C100.19,139.87 100.52,140.88 99.00,141.20C97.48,141.52 97.88,141.23 96.20,140.40C94.52,139.57 94.86,139.03 92.70,138.10C90.54,137.17 90.87,137.38 88.10,136.90C85.33,136.42 85.07,136.91 82.30,136.30C79.53,135.69 79.30,135.67 77.70,134.60C76.10,133.53 76.14,133.85 76.30,132.30C76.46,130.75 76.86,130.48 78.30,128.80C79.74,127.12 80.18,127.68 81.70,126.00C83.22,124.32 83.07,124.66 84.00,122.50C84.93,120.34 84.11,119.45 85.20,117.90Z" fill="#48135f" stroke="#48135f" stroke-width="4" stroke-linejoin="round"/>
<path d="M90.20,37.30C90.04,35.14 89.91,34.86 91.30,32.70C92.69,30.54 92.76,30.75 95.40,29.20C98.04,27.65 98.13,27.97 101.20,26.90C104.27,25.83 103.54,25.49 106.90,25.20C110.26,24.91 110.41,25.03 113.80,25.80C117.19,26.57 117.12,26.58 119.60,28.10C122.08,29.62 120.94,29.66 123.10,31.50C125.26,33.34 124.93,33.13 127.70,35.00C130.47,36.87 130.97,36.82 133.50,38.50C136.03,40.18 136.59,39.91 137.20,41.30C137.81,42.69 137.40,42.77 135.80,43.70C134.20,44.63 133.97,44.67 131.20,44.80C128.43,44.93 127.88,44.04 125.40,44.20C122.92,44.36 123.45,44.47 121.90,45.40C120.35,46.33 120.99,46.47 119.60,47.70C118.21,48.93 118.09,48.53 116.70,50.00C115.31,51.47 115.47,52.75 114.40,53.20C113.33,53.65 113.61,52.87 112.70,51.70C111.79,50.53 111.77,50.32 111.00,48.80C110.23,47.28 110.89,47.07 109.80,46.00C108.71,44.93 108.90,45.28 106.90,44.80C104.90,44.32 105.07,44.65 102.30,44.20C99.53,43.75 99.27,44.01 96.50,43.10C93.73,42.19 93.58,42.35 91.90,40.80C90.22,39.25 90.36,39.46 90.20,37.30Z" fill="#46256e" stroke="#46256e" stroke-width="4" stroke-linejoin="round"/>
<path d="M101.50,59.40C103.55,58.47 107.33,57.37 109.60,57.00C111.87,56.63 112.05,57.07 110.00,58.00C107.95,58.93 104.17,60.13 101.90,60.50C99.63,60.87 99.45,60.33 101.50,59.40Z" fill="#48135f" stroke="#48135f" stroke-width="5" stroke-linejoin="round"/>
<path d="M113.80,54.60C114.57,53.21 115.15,53.50 116.70,53.50C118.25,53.50 118.21,54.60 119.60,54.60C120.99,54.60 120.51,53.50 121.90,53.50C123.29,53.50 124.03,53.37 124.80,54.60C125.57,55.83 125.57,56.87 124.80,58.10C124.03,59.33 123.45,58.75 121.90,59.20C120.35,59.65 120.23,58.71 119.00,59.80C117.77,60.89 118.21,63.14 117.30,63.30C116.39,63.46 116.53,61.63 115.60,60.40C114.67,59.17 114.28,60.25 113.80,58.70C113.32,57.15 113.03,55.99 113.80,54.60Z" fill="#48135f" stroke="#48135f" stroke-width="5.5" stroke-linejoin="round"/>
<path d="M106.10,82.90C106.63,82.02 106.15,81.60 107.40,81.60C108.65,81.60 109.17,83.27 110.80,82.90C112.43,82.53 112.59,82.52 113.50,80.20C114.41,77.88 113.32,76.71 114.20,74.20C115.08,71.69 114.29,72.08 116.80,70.80C119.31,69.52 120.53,70.12 123.60,69.40C126.67,68.68 125.79,69.51 128.30,68.10C130.81,66.69 130.68,65.35 133.00,64.10C135.32,62.85 134.84,63.24 137.00,63.40C139.16,63.56 139.13,64.51 141.10,64.70C143.07,64.89 143.33,62.29 144.40,64.10C145.47,65.91 144.19,68.81 145.10,71.50C146.01,74.19 146.73,72.41 147.80,74.20C148.87,75.99 148.91,76.07 149.10,78.20C149.29,80.33 147.94,80.60 148.50,82.20C149.06,83.80 152.67,82.65 151.20,84.20C149.73,85.75 148.23,85.92 143.00,88.00C137.77,90.08 138.21,90.40 131.60,92.00C124.99,93.60 123.93,94.00 118.20,94.00C112.47,94.00 113.33,93.52 110.10,92.00C106.87,90.48 107.35,90.19 106.10,88.30C104.85,86.41 105.40,86.34 105.40,84.90C105.40,83.46 105.57,83.78 106.10,82.90Z" fill="#3a4a8a" stroke="#3a4a8a" stroke-width="4" stroke-linejoin="round"/>
<path d="M106.10,88.30C107.89,87.58 106.87,89.25 110.10,89.60C113.33,89.95 114.25,89.95 118.20,89.60C122.15,89.25 121.33,89.37 124.90,88.30C128.47,87.23 128.00,87.04 131.60,85.60C135.20,84.16 135.15,84.34 138.40,82.90C141.65,81.46 141.11,80.39 143.80,80.20C146.49,80.01 146.53,81.13 148.50,82.20C150.47,83.27 149.76,83.29 151.20,84.20C152.64,85.11 152.65,84.32 153.90,85.60C155.15,86.88 154.83,87.03 155.90,89.00C156.97,90.97 156.46,91.03 157.90,93.00C159.34,94.97 160.58,94.61 161.30,96.40C162.02,98.19 161.69,98.10 160.60,99.70C159.51,101.30 159.55,101.15 157.20,102.40C154.85,103.65 153.59,102.96 151.80,104.40C150.01,105.84 151.91,106.36 150.50,107.80C149.09,109.24 148.66,108.36 146.50,109.80C144.34,111.24 144.56,111.76 142.40,113.20C140.24,114.64 140.72,114.48 138.40,115.20C136.08,115.92 136.93,116.09 133.70,115.90C130.47,115.71 129.90,115.22 126.30,114.50C122.70,113.78 122.73,114.08 120.20,113.20C117.67,112.32 118.24,112.64 116.80,111.20C115.36,109.76 115.15,109.61 114.80,107.80C114.45,105.99 116.22,105.65 115.50,104.40C114.78,103.15 114.07,103.98 112.10,103.10C110.13,102.22 108.98,102.35 108.10,101.10C107.22,99.85 109.33,99.49 108.80,98.40C108.27,97.31 107.73,97.72 106.10,97.00C104.47,96.28 103.42,96.95 102.70,95.70C101.98,94.45 102.49,94.27 103.40,92.30C104.31,90.33 104.31,89.02 106.10,88.30Z" fill="#23898e" stroke="#23898e" stroke-width="4" stroke-linejoin="round"/>
<g clip-path="url(#allc)"><g filter="url(#bl2)">
<ellipse cx="128.0" cy="95.0" rx="21.0" ry="15.0" fill="#52c569"/>
<ellipse cx="118.0" cy="80.0" rx="5.0" ry="5.0" fill="#2fb47c"/>
<ellipse cx="111.0" cy="93.0" rx="4.0" ry="6.0" fill="#35b479"/>
<ellipse cx="146.2" cy="103.2" rx="2.8" ry="1.9" fill="#35b479" opacity="0.9"/>
<ellipse cx="125.5" cy="100.9" rx="2.7" ry="1.5" fill="#5ec962" opacity="0.9"/>
<ellipse cx="155.2" cy="100.2" rx="2.5" ry="1.5" fill="#35b479" opacity="0.9"/>
<ellipse cx="123.5" cy="103.3" rx="2.5" ry="2.1" fill="#35b479" opacity="0.9"/>
<ellipse cx="127.3" cy="106.1" rx="1.4" ry="2.1" fill="#21918c" opacity="0.9"/>
<ellipse cx="138.5" cy="100.8" rx="1.7" ry="1.9" fill="#35b479" opacity="0.9"/>
<ellipse cx="120.4" cy="97.7" rx="2.8" ry="1.5" fill="#addc30" opacity="0.9"/>
<ellipse cx="128.1" cy="94.3" rx="1.6" ry="2.1" fill="#2c728e" opacity="0.9"/>
<ellipse cx="121.9" cy="98.5" rx="2.0" ry="2.8" fill="#21918c" opacity="0.9"/>
<ellipse cx="115.5" cy="91.3" rx="1.8" ry="1.8" fill="#addc30" opacity="0.9"/>
<ellipse cx="149.6" cy="91.5" rx="1.9" ry="1.6" fill="#2c728e" opacity="0.9"/>
<ellipse cx="126.5" cy="103.0" rx="2.9" ry="2.5" fill="#2c728e" opacity="0.9"/>
<ellipse cx="124.0" cy="95.0" rx="10.0" ry="8.0" fill="#f7e620"/>
<ellipse cx="137.0" cy="92.0" rx="9.0" ry="4.5" fill="#f7e620"/>
<ellipse cx="132.0" cy="102.0" rx="5.5" ry="7.0" fill="#f1e51d"/>
<ellipse cx="118.0" cy="101.0" rx="4.0" ry="4.0" fill="#bddf26"/>
<ellipse cx="153.0" cy="98.0" rx="6.5" ry="11.0" fill="#2a788e"/>
<ellipse cx="157.0" cy="103.0" rx="3.5" ry="7.0" fill="#3b528b"/>
<ellipse cx="138.0" cy="113.5" rx="14.0" ry="4.0" fill="#3b478a"/>
<ellipse cx="134.0" cy="69.0" rx="10.0" ry="6.0" fill="#403f86"/>
<ellipse cx="145.0" cy="76.0" rx="5.0" ry="6.0" fill="#3b478a"/>
<ellipse cx="124.0" cy="76.0" rx="5.0" ry="4.0" fill="#31688e"/>
<ellipse cx="112.0" cy="30.0" rx="2.0" ry="1.6" fill="#9a7a9a" opacity="0.6"/>
</g></g>
</g>
<line x1="108.00" y1="269.30" x2="108.00" y2="319.12" stroke="#111" stroke-width="0.85" stroke-linecap="butt"/>
<line x1="107.58" y1="318.70" x2="157.60" y2="318.70" stroke="#111" stroke-width="0.85" stroke-linecap="butt"/>
<line x1="105.60" y1="285.80" x2="108.00" y2="285.80" stroke="#111" stroke-width="0.6" stroke-linecap="butt"/>
<line x1="105.60" y1="303.40" x2="108.00" y2="303.40" stroke="#111" stroke-width="0.6" stroke-linecap="butt"/>
<line x1="123.00" y1="318.70" x2="123.00" y2="321.30" stroke="#111" stroke-width="0.6" stroke-linecap="butt"/>
<line x1="141.20" y1="318.70" x2="141.20" y2="321.30" stroke="#111" stroke-width="0.6" stroke-linecap="butt"/>
<g transform="translate(110.40,271.00) scale(0.3520,0.3880) translate(-30.7,-25.4)" filter="url(#rough)">
<path d="M53.90,50.10C55.53,48.66 54.23,48.99 57.30,48.70C60.37,48.41 61.08,48.79 65.40,49.00C69.72,49.21 70.46,48.86 73.50,49.50C76.54,50.14 75.71,49.27 76.80,51.40C77.89,53.53 77.60,54.62 77.60,57.50C77.60,60.38 76.48,60.41 76.80,62.20C77.12,63.99 78.05,63.27 78.80,64.20C79.55,65.13 80.13,65.22 79.60,65.70C79.07,66.18 77.36,65.28 76.80,66.00C76.24,66.72 77.85,67.63 77.50,68.40C77.15,69.17 76.57,69.11 75.50,68.90C74.43,68.69 74.59,67.23 73.50,67.60C72.41,67.97 72.49,69.21 71.40,70.30C70.31,71.39 70.28,71.70 69.40,71.70C68.52,71.70 69.17,70.11 68.10,70.30C67.03,70.49 66.49,72.05 65.40,72.40C64.31,72.75 65.09,72.53 64.00,71.60C62.91,70.67 63.09,69.59 61.30,68.90C59.51,68.21 59.27,69.16 57.30,69.00C55.33,68.84 55.69,69.21 53.90,68.30C52.11,67.39 52.20,67.04 50.60,65.60C49.00,64.16 49.18,64.34 47.90,62.90C46.62,61.46 45.99,61.83 45.80,60.20C45.61,58.57 45.76,58.43 47.20,56.80C48.64,55.17 49.41,55.89 51.20,54.10C52.99,52.31 52.27,51.54 53.90,50.10Z" fill="#48135f" stroke="#48135f" stroke-width="4" stroke-linejoin="round"/>
<path d="M31.20,74.40C32.91,72.69 34.05,74.03 38.00,74.00C41.95,73.97 41.52,74.03 46.00,74.30C50.48,74.57 52.61,73.96 54.80,75.00C56.99,76.04 56.41,75.99 54.20,78.20C51.99,80.41 50.34,80.53 46.50,83.30C42.66,86.07 42.84,86.07 39.80,88.60C36.76,91.13 36.75,91.95 35.10,92.80C33.45,93.65 34.11,93.67 33.60,91.80C33.09,89.93 33.73,88.84 33.20,85.80C32.67,82.76 32.13,83.44 31.60,80.40C31.07,77.36 29.49,76.11 31.20,74.40Z" fill="#48135f" stroke="#48135f" stroke-width="4" stroke-linejoin="round"/>
<path d="M57.50,87.10C60.01,86.54 60.25,86.27 64.20,86.40C68.15,86.53 69.74,85.97 72.30,87.60C74.86,89.23 73.61,90.13 73.80,92.50C73.99,94.87 73.93,94.71 73.00,96.50C72.07,98.29 71.74,97.76 70.30,99.20C68.86,100.64 69.04,100.09 67.60,101.90C66.16,103.71 66.34,104.75 64.90,106.00C63.46,107.25 63.45,107.16 62.20,106.60C60.95,106.04 60.73,105.34 60.20,103.90C59.67,102.46 61.27,102.08 60.20,101.20C59.13,100.32 58.17,101.13 56.20,100.60C54.23,100.07 54.24,100.29 52.80,99.20C51.36,98.11 51.52,97.94 50.80,96.50C50.08,95.06 49.57,95.21 50.10,93.80C50.63,92.39 51.55,92.61 52.80,91.20C54.05,89.79 53.55,89.59 54.80,88.50C56.05,87.41 54.99,87.66 57.50,87.10Z" fill="#48135f" stroke="#48135f" stroke-width="4" stroke-linejoin="round"/>
<path d="M52.80,121.40C53.81,120.07 53.88,119.53 56.20,118.70C58.52,117.87 58.83,117.93 61.50,118.30C64.17,118.67 65.29,118.90 66.20,120.10C67.11,121.30 66.31,121.55 64.90,122.80C63.49,124.05 63.41,124.08 60.90,124.80C58.39,125.52 57.77,125.79 55.50,125.50C53.23,125.21 53.12,124.79 52.40,123.70C51.68,122.61 51.79,122.73 52.80,121.40Z" fill="#48135f" stroke="#48135f" stroke-width="8.5" stroke-linejoin="round"/>
<path d="M77.00,99.50C77.93,98.46 78.13,98.73 80.00,98.60C81.87,98.47 81.87,98.95 84.00,99.00C86.13,99.05 86.51,98.40 88.00,98.80C89.49,99.20 89.47,99.25 89.60,100.50C89.73,101.75 89.73,102.41 88.50,103.50C87.27,104.59 87.00,104.52 85.00,104.60C83.00,104.68 82.73,103.75 81.00,103.80C79.27,103.85 79.70,105.15 78.50,104.80C77.30,104.45 76.90,103.91 76.50,102.50C76.10,101.09 76.07,100.54 77.00,99.50Z" fill="#48135f" stroke="#48135f" stroke-width="7" stroke-linejoin="round"/>
<path d="M90.20,90.40C90.63,89.81 91.47,89.72 92.00,90.20C92.53,90.68 92.63,91.61 92.20,92.20C91.77,92.79 90.93,92.88 90.40,92.40C89.87,91.92 89.77,90.99 90.20,90.40Z" fill="#48135f" stroke="#48135f" stroke-width="5.5" stroke-linejoin="round"/>
<path d="M84.60,111.50C85.08,111.02 86.39,112.19 88.10,110.80C89.81,109.41 89.61,106.73 91.00,106.30C92.39,105.87 92.13,108.11 93.30,109.20C94.47,110.29 95.56,109.76 95.40,110.40C95.24,111.04 94.19,110.96 92.70,111.60C91.21,112.24 91.51,112.53 89.80,112.80C88.09,113.07 87.69,112.95 86.30,112.60C84.91,112.25 84.12,111.98 84.60,111.50Z" fill="#48135f" stroke="#48135f" stroke-width="6.5" stroke-linejoin="round"/>
<path d="M85.20,117.90C86.29,116.35 85.49,116.86 88.10,116.70C90.71,116.54 91.93,116.69 95.00,117.30C98.07,117.91 97.60,117.45 99.60,119.00C101.60,120.55 100.95,120.94 102.50,123.10C104.05,125.26 103.56,124.81 105.40,127.10C107.24,129.39 107.96,129.70 109.40,131.70C110.84,133.70 111.09,133.05 110.80,134.60C110.51,136.15 109.74,136.41 108.30,137.50C106.86,138.59 107.11,138.25 105.40,138.70C103.69,139.15 103.61,138.53 101.90,139.20C100.19,139.87 100.52,140.88 99.00,141.20C97.48,141.52 97.88,141.23 96.20,140.40C94.52,139.57 94.86,139.03 92.70,138.10C90.54,137.17 90.87,137.38 88.10,136.90C85.33,136.42 85.07,136.91 82.30,136.30C79.53,135.69 79.30,135.67 77.70,134.60C76.10,133.53 76.14,133.85 76.30,132.30C76.46,130.75 76.86,130.48 78.30,128.80C79.74,127.12 80.18,127.68 81.70,126.00C83.22,124.32 83.07,124.66 84.00,122.50C84.93,120.34 84.11,119.45 85.20,117.90Z" fill="#48135f" stroke="#48135f" stroke-width="4" stroke-linejoin="round"/>
<path d="M90.20,37.30C90.04,35.14 89.91,34.86 91.30,32.70C92.69,30.54 92.76,30.75 95.40,29.20C98.04,27.65 98.13,27.97 101.20,26.90C104.27,25.83 103.54,25.49 106.90,25.20C110.26,24.91 110.41,25.03 113.80,25.80C117.19,26.57 117.12,26.58 119.60,28.10C122.08,29.62 120.94,29.66 123.10,31.50C125.26,33.34 124.93,33.13 127.70,35.00C130.47,36.87 130.97,36.82 133.50,38.50C136.03,40.18 136.59,39.91 137.20,41.30C137.81,42.69 137.40,42.77 135.80,43.70C134.20,44.63 133.97,44.67 131.20,44.80C128.43,44.93 127.88,44.04 125.40,44.20C122.92,44.36 123.45,44.47 121.90,45.40C120.35,46.33 120.99,46.47 119.60,47.70C118.21,48.93 118.09,48.53 116.70,50.00C115.31,51.47 115.47,52.75 114.40,53.20C113.33,53.65 113.61,52.87 112.70,51.70C111.79,50.53 111.77,50.32 111.00,48.80C110.23,47.28 110.89,47.07 109.80,46.00C108.71,44.93 108.90,45.28 106.90,44.80C104.90,44.32 105.07,44.65 102.30,44.20C99.53,43.75 99.27,44.01 96.50,43.10C93.73,42.19 93.58,42.35 91.90,40.80C90.22,39.25 90.36,39.46 90.20,37.30Z" fill="#46256e" stroke="#46256e" stroke-width="4" stroke-linejoin="round"/>
<path d="M101.50,59.40C103.55,58.47 107.33,57.37 109.60,57.00C111.87,56.63 112.05,57.07 110.00,58.00C107.95,58.93 104.17,60.13 101.90,60.50C99.63,60.87 99.45,60.33 101.50,59.40Z" fill="#48135f" stroke="#48135f" stroke-width="5" stroke-linejoin="round"/>
<path d="M113.80,54.60C114.57,53.21 115.15,53.50 116.70,53.50C118.25,53.50 118.21,54.60 119.60,54.60C120.99,54.60 120.51,53.50 121.90,53.50C123.29,53.50 124.03,53.37 124.80,54.60C125.57,55.83 125.57,56.87 124.80,58.10C124.03,59.33 123.45,58.75 121.90,59.20C120.35,59.65 120.23,58.71 119.00,59.80C117.77,60.89 118.21,63.14 117.30,63.30C116.39,63.46 116.53,61.63 115.60,60.40C114.67,59.17 114.28,60.25 113.80,58.70C113.32,57.15 113.03,55.99 113.80,54.60Z" fill="#48135f" stroke="#48135f" stroke-width="5.5" stroke-linejoin="round"/>
<path d="M106.10,82.90C106.63,82.02 106.15,81.60 107.40,81.60C108.65,81.60 109.17,83.27 110.80,82.90C112.43,82.53 112.59,82.52 113.50,80.20C114.41,77.88 113.32,76.71 114.20,74.20C115.08,71.69 114.29,72.08 116.80,70.80C119.31,69.52 120.53,70.12 123.60,69.40C126.67,68.68 125.79,69.51 128.30,68.10C130.81,66.69 130.68,65.35 133.00,64.10C135.32,62.85 134.84,63.24 137.00,63.40C139.16,63.56 139.13,64.51 141.10,64.70C143.07,64.89 143.33,62.29 144.40,64.10C145.47,65.91 144.19,68.81 145.10,71.50C146.01,74.19 146.73,72.41 147.80,74.20C148.87,75.99 148.91,76.07 149.10,78.20C149.29,80.33 147.94,80.60 148.50,82.20C149.06,83.80 152.67,82.65 151.20,84.20C149.73,85.75 148.23,85.92 143.00,88.00C137.77,90.08 138.21,90.40 131.60,92.00C124.99,93.60 123.93,94.00 118.20,94.00C112.47,94.00 113.33,93.52 110.10,92.00C106.87,90.48 107.35,90.19 106.10,88.30C104.85,86.41 105.40,86.34 105.40,84.90C105.40,83.46 105.57,83.78 106.10,82.90Z" fill="#3b4c8a" stroke="#3b4c8a" stroke-width="4" stroke-linejoin="round"/>
<path d="M106.10,88.30C107.89,87.58 106.87,89.25 110.10,89.60C113.33,89.95 114.25,89.95 118.20,89.60C122.15,89.25 121.33,89.37 124.90,88.30C128.47,87.23 128.00,87.04 131.60,85.60C135.20,84.16 135.15,84.34 138.40,82.90C141.65,81.46 141.11,80.39 143.80,80.20C146.49,80.01 146.53,81.13 148.50,82.20C150.47,83.27 149.76,83.29 151.20,84.20C152.64,85.11 152.65,84.32 153.90,85.60C155.15,86.88 154.83,87.03 155.90,89.00C156.97,90.97 156.46,91.03 157.90,93.00C159.34,94.97 160.58,94.61 161.30,96.40C162.02,98.19 161.69,98.10 160.60,99.70C159.51,101.30 159.55,101.15 157.20,102.40C154.85,103.65 153.59,102.96 151.80,104.40C150.01,105.84 151.91,106.36 150.50,107.80C149.09,109.24 148.66,108.36 146.50,109.80C144.34,111.24 144.56,111.76 142.40,113.20C140.24,114.64 140.72,114.48 138.40,115.20C136.08,115.92 136.93,116.09 133.70,115.90C130.47,115.71 129.90,115.22 126.30,114.50C122.70,113.78 122.73,114.08 120.20,113.20C117.67,112.32 118.24,112.64 116.80,111.20C115.36,109.76 115.15,109.61 114.80,107.80C114.45,105.99 116.22,105.65 115.50,104.40C114.78,103.15 114.07,103.98 112.10,103.10C110.13,102.22 108.98,102.35 108.10,101.10C107.22,99.85 109.33,99.49 108.80,98.40C108.27,97.31 107.73,97.72 106.10,97.00C104.47,96.28 103.42,96.95 102.70,95.70C101.98,94.45 102.49,94.27 103.40,92.30C104.31,90.33 104.31,89.02 106.10,88.30Z" fill="#24868e" stroke="#24868e" stroke-width="4" stroke-linejoin="round"/>
<g clip-path="url(#allc)"><g filter="url(#bl2)">
<ellipse cx="127.0" cy="95.0" rx="20.0" ry="15.0" fill="#4ec36b"/>
<ellipse cx="118.0" cy="80.0" rx="5.0" ry="5.0" fill="#2fb47c"/>
<ellipse cx="111.0" cy="94.0" rx="4.0" ry="6.0" fill="#35b479"/>
<ellipse cx="155.5" cy="105.6" rx="2.6" ry="2.1" fill="#35b479" opacity="0.9"/>
<ellipse cx="147.9" cy="97.8" rx="2.0" ry="1.6" fill="#35b479" opacity="0.9"/>
<ellipse cx="128.0" cy="91.7" rx="3.0" ry="2.1" fill="#5ec962" opacity="0.9"/>
<ellipse cx="125.0" cy="87.6" rx="1.4" ry="1.6" fill="#5ec962" opacity="0.9"/>
<ellipse cx="155.4" cy="104.4" rx="1.5" ry="1.7" fill="#addc30" opacity="0.9"/>
<ellipse cx="115.4" cy="93.6" rx="2.0" ry="2.0" fill="#5ec962" opacity="0.9"/>
<ellipse cx="113.8" cy="100.6" rx="3.0" ry="2.2" fill="#3b528b" opacity="0.9"/>
<ellipse cx="112.3" cy="89.1" rx="1.9" ry="1.8" fill="#35b479" opacity="0.9"/>
<ellipse cx="116.1" cy="86.7" rx="2.9" ry="2.2" fill="#21918c" opacity="0.9"/>
<ellipse cx="142.5" cy="113.4" rx="2.6" ry="1.9" fill="#35b479" opacity="0.9"/>
<ellipse cx="151.2" cy="106.9" rx="1.8" ry="2.0" fill="#21918c" opacity="0.9"/>
<ellipse cx="125.8" cy="92.7" rx="2.3" ry="2.2" fill="#35b479" opacity="0.9"/>
<ellipse cx="121.0" cy="93.0" rx="8.0" ry="8.0" fill="#f7e620"/>
<ellipse cx="134.0" cy="98.0" rx="9.0" ry="6.0" fill="#f7e620"/>
<ellipse cx="128.0" cy="88.0" rx="6.0" ry="4.0" fill="#e7e419"/>
<ellipse cx="141.0" cy="105.0" rx="5.0" ry="4.0" fill="#dde318"/>
<ellipse cx="152.0" cy="96.0" rx="6.5" ry="10.0" fill="#2c728e"/>
<ellipse cx="156.0" cy="104.0" rx="4.0" ry="7.0" fill="#3e4989"/>
<ellipse cx="137.0" cy="113.5" rx="13.0" ry="4.0" fill="#414487"/>
<ellipse cx="135.0" cy="69.0" rx="10.0" ry="6.0" fill="#403f86"/>
<ellipse cx="145.0" cy="77.0" rx="5.0" ry="6.0" fill="#3e4989"/>
<ellipse cx="124.0" cy="76.0" rx="5.0" ry="4.0" fill="#2c728e"/>
<ellipse cx="118.0" cy="34.0" rx="8.0" ry="4.0" fill="#3e4989" opacity="0.6"/>
</g></g>
</g>
<line x1="108.00" y1="333.80" x2="108.00" y2="383.62" stroke="#111" stroke-width="0.85" stroke-linecap="butt"/>
<line x1="107.58" y1="383.20" x2="157.60" y2="383.20" stroke="#111" stroke-width="0.85" stroke-linecap="butt"/>
<line x1="105.60" y1="350.30" x2="108.00" y2="350.30" stroke="#111" stroke-width="0.6" stroke-linecap="butt"/>
<line x1="105.60" y1="367.90" x2="108.00" y2="367.90" stroke="#111" stroke-width="0.6" stroke-linecap="butt"/>
<line x1="123.00" y1="383.20" x2="123.00" y2="385.80" stroke="#111" stroke-width="0.6" stroke-linecap="butt"/>
<line x1="141.20" y1="383.20" x2="141.20" y2="385.80" stroke="#111" stroke-width="0.6" stroke-linecap="butt"/>
<g transform="translate(110.40,335.50) scale(0.3520,0.3880) translate(-30.7,-25.4)" filter="url(#rough)">
<path d="M53.90,50.10C55.53,48.66 54.23,48.99 57.30,48.70C60.37,48.41 61.08,48.79 65.40,49.00C69.72,49.21 70.46,48.86 73.50,49.50C76.54,50.14 75.71,49.27 76.80,51.40C77.89,53.53 77.60,54.62 77.60,57.50C77.60,60.38 76.48,60.41 76.80,62.20C77.12,63.99 78.05,63.27 78.80,64.20C79.55,65.13 80.13,65.22 79.60,65.70C79.07,66.18 77.36,65.28 76.80,66.00C76.24,66.72 77.85,67.63 77.50,68.40C77.15,69.17 76.57,69.11 75.50,68.90C74.43,68.69 74.59,67.23 73.50,67.60C72.41,67.97 72.49,69.21 71.40,70.30C70.31,71.39 70.28,71.70 69.40,71.70C68.52,71.70 69.17,70.11 68.10,70.30C67.03,70.49 66.49,72.05 65.40,72.40C64.31,72.75 65.09,72.53 64.00,71.60C62.91,70.67 63.09,69.59 61.30,68.90C59.51,68.21 59.27,69.16 57.30,69.00C55.33,68.84 55.69,69.21 53.90,68.30C52.11,67.39 52.20,67.04 50.60,65.60C49.00,64.16 49.18,64.34 47.90,62.90C46.62,61.46 45.99,61.83 45.80,60.20C45.61,58.57 45.76,58.43 47.20,56.80C48.64,55.17 49.41,55.89 51.20,54.10C52.99,52.31 52.27,51.54 53.90,50.10Z" fill="#48135f" stroke="#48135f" stroke-width="4" stroke-linejoin="round"/>
<path d="M31.20,74.40C32.91,72.69 34.05,74.03 38.00,74.00C41.95,73.97 41.52,74.03 46.00,74.30C50.48,74.57 52.61,73.96 54.80,75.00C56.99,76.04 56.41,75.99 54.20,78.20C51.99,80.41 50.34,80.53 46.50,83.30C42.66,86.07 42.84,86.07 39.80,88.60C36.76,91.13 36.75,91.95 35.10,92.80C33.45,93.65 34.11,93.67 33.60,91.80C33.09,89.93 33.73,88.84 33.20,85.80C32.67,82.76 32.13,83.44 31.60,80.40C31.07,77.36 29.49,76.11 31.20,74.40Z" fill="#48135f" stroke="#48135f" stroke-width="4" stroke-linejoin="round"/>
<path d="M57.50,87.10C60.01,86.54 60.25,86.27 64.20,86.40C68.15,86.53 69.74,85.97 72.30,87.60C74.86,89.23 73.61,90.13 73.80,92.50C73.99,94.87 73.93,94.71 73.00,96.50C72.07,98.29 71.74,97.76 70.30,99.20C68.86,100.64 69.04,100.09 67.60,101.90C66.16,103.71 66.34,104.75 64.90,106.00C63.46,107.25 63.45,107.16 62.20,106.60C60.95,106.04 60.73,105.34 60.20,103.90C59.67,102.46 61.27,102.08 60.20,101.20C59.13,100.32 58.17,101.13 56.20,100.60C54.23,100.07 54.24,100.29 52.80,99.20C51.36,98.11 51.52,97.94 50.80,96.50C50.08,95.06 49.57,95.21 50.10,93.80C50.63,92.39 51.55,92.61 52.80,91.20C54.05,89.79 53.55,89.59 54.80,88.50C56.05,87.41 54.99,87.66 57.50,87.10Z" fill="#48135f" stroke="#48135f" stroke-width="4" stroke-linejoin="round"/>
<path d="M52.80,121.40C53.81,120.07 53.88,119.53 56.20,118.70C58.52,117.87 58.83,117.93 61.50,118.30C64.17,118.67 65.29,118.90 66.20,120.10C67.11,121.30 66.31,121.55 64.90,122.80C63.49,124.05 63.41,124.08 60.90,124.80C58.39,125.52 57.77,125.79 55.50,125.50C53.23,125.21 53.12,124.79 52.40,123.70C51.68,122.61 51.79,122.73 52.80,121.40Z" fill="#48135f" stroke="#48135f" stroke-width="8.5" stroke-linejoin="round"/>
<path d="M77.00,99.50C77.93,98.46 78.13,98.73 80.00,98.60C81.87,98.47 81.87,98.95 84.00,99.00C86.13,99.05 86.51,98.40 88.00,98.80C89.49,99.20 89.47,99.25 89.60,100.50C89.73,101.75 89.73,102.41 88.50,103.50C87.27,104.59 87.00,104.52 85.00,104.60C83.00,104.68 82.73,103.75 81.00,103.80C79.27,103.85 79.70,105.15 78.50,104.80C77.30,104.45 76.90,103.91 76.50,102.50C76.10,101.09 76.07,100.54 77.00,99.50Z" fill="#48135f" stroke="#48135f" stroke-width="7" stroke-linejoin="round"/>
<path d="M90.20,90.40C90.63,89.81 91.47,89.72 92.00,90.20C92.53,90.68 92.63,91.61 92.20,92.20C91.77,92.79 90.93,92.88 90.40,92.40C89.87,91.92 89.77,90.99 90.20,90.40Z" fill="#48135f" stroke="#48135f" stroke-width="5.5" stroke-linejoin="round"/>
<path d="M84.60,111.50C85.08,111.02 86.39,112.19 88.10,110.80C89.81,109.41 89.61,106.73 91.00,106.30C92.39,105.87 92.13,108.11 93.30,109.20C94.47,110.29 95.56,109.76 95.40,110.40C95.24,111.04 94.19,110.96 92.70,111.60C91.21,112.24 91.51,112.53 89.80,112.80C88.09,113.07 87.69,112.95 86.30,112.60C84.91,112.25 84.12,111.98 84.60,111.50Z" fill="#48135f" stroke="#48135f" stroke-width="6.5" stroke-linejoin="round"/>
<path d="M85.20,117.90C86.29,116.35 85.49,116.86 88.10,116.70C90.71,116.54 91.93,116.69 95.00,117.30C98.07,117.91 97.60,117.45 99.60,119.00C101.60,120.55 100.95,120.94 102.50,123.10C104.05,125.26 103.56,124.81 105.40,127.10C107.24,129.39 107.96,129.70 109.40,131.70C110.84,133.70 111.09,133.05 110.80,134.60C110.51,136.15 109.74,136.41 108.30,137.50C106.86,138.59 107.11,138.25 105.40,138.70C103.69,139.15 103.61,138.53 101.90,139.20C100.19,139.87 100.52,140.88 99.00,141.20C97.48,141.52 97.88,141.23 96.20,140.40C94.52,139.57 94.86,139.03 92.70,138.10C90.54,137.17 90.87,137.38 88.10,136.90C85.33,136.42 85.07,136.91 82.30,136.30C79.53,135.69 79.30,135.67 77.70,134.60C76.10,133.53 76.14,133.85 76.30,132.30C76.46,130.75 76.86,130.48 78.30,128.80C79.74,127.12 80.18,127.68 81.70,126.00C83.22,124.32 83.07,124.66 84.00,122.50C84.93,120.34 84.11,119.45 85.20,117.90Z" fill="#48135f" stroke="#48135f" stroke-width="4" stroke-linejoin="round"/>
<path d="M90.20,37.30C90.04,35.14 89.91,34.86 91.30,32.70C92.69,30.54 92.76,30.75 95.40,29.20C98.04,27.65 98.13,27.97 101.20,26.90C104.27,25.83 103.54,25.49 106.90,25.20C110.26,24.91 110.41,25.03 113.80,25.80C117.19,26.57 117.12,26.58 119.60,28.10C122.08,29.62 120.94,29.66 123.10,31.50C125.26,33.34 124.93,33.13 127.70,35.00C130.47,36.87 130.97,36.82 133.50,38.50C136.03,40.18 136.59,39.91 137.20,41.30C137.81,42.69 137.40,42.77 135.80,43.70C134.20,44.63 133.97,44.67 131.20,44.80C128.43,44.93 127.88,44.04 125.40,44.20C122.92,44.36 123.45,44.47 121.90,45.40C120.35,46.33 120.99,46.47 119.60,47.70C118.21,48.93 118.09,48.53 116.70,50.00C115.31,51.47 115.47,52.75 114.40,53.20C113.33,53.65 113.61,52.87 112.70,51.70C111.79,50.53 111.77,50.32 111.00,48.80C110.23,47.28 110.89,47.07 109.80,46.00C108.71,44.93 108.90,45.28 106.90,44.80C104.90,44.32 105.07,44.65 102.30,44.20C99.53,43.75 99.27,44.01 96.50,43.10C93.73,42.19 93.58,42.35 91.90,40.80C90.22,39.25 90.36,39.46 90.20,37.30Z" fill="#46256e" stroke="#46256e" stroke-width="4" stroke-linejoin="round"/>
<path d="M101.50,59.40C103.55,58.47 107.33,57.37 109.60,57.00C111.87,56.63 112.05,57.07 110.00,58.00C107.95,58.93 104.17,60.13 101.90,60.50C99.63,60.87 99.45,60.33 101.50,59.40Z" fill="#48135f" stroke="#48135f" stroke-width="5" stroke-linejoin="round"/>
<path d="M113.80,54.60C114.57,53.21 115.15,53.50 116.70,53.50C118.25,53.50 118.21,54.60 119.60,54.60C120.99,54.60 120.51,53.50 121.90,53.50C123.29,53.50 124.03,53.37 124.80,54.60C125.57,55.83 125.57,56.87 124.80,58.10C124.03,59.33 123.45,58.75 121.90,59.20C120.35,59.65 120.23,58.71 119.00,59.80C117.77,60.89 118.21,63.14 117.30,63.30C116.39,63.46 116.53,61.63 115.60,60.40C114.67,59.17 114.28,60.25 113.80,58.70C113.32,57.15 113.03,55.99 113.80,54.60Z" fill="#48135f" stroke="#48135f" stroke-width="5.5" stroke-linejoin="round"/>
<path d="M106.10,82.90C106.63,82.02 106.15,81.60 107.40,81.60C108.65,81.60 109.17,83.27 110.80,82.90C112.43,82.53 112.59,82.52 113.50,80.20C114.41,77.88 113.32,76.71 114.20,74.20C115.08,71.69 114.29,72.08 116.80,70.80C119.31,69.52 120.53,70.12 123.60,69.40C126.67,68.68 125.79,69.51 128.30,68.10C130.81,66.69 130.68,65.35 133.00,64.10C135.32,62.85 134.84,63.24 137.00,63.40C139.16,63.56 139.13,64.51 141.10,64.70C143.07,64.89 143.33,62.29 144.40,64.10C145.47,65.91 144.19,68.81 145.10,71.50C146.01,74.19 146.73,72.41 147.80,74.20C148.87,75.99 148.91,76.07 149.10,78.20C149.29,80.33 147.94,80.60 148.50,82.20C149.06,83.80 152.67,82.65 151.20,84.20C149.73,85.75 148.23,85.92 143.00,88.00C137.77,90.08 138.21,90.40 131.60,92.00C124.99,93.60 123.93,94.00 118.20,94.00C112.47,94.00 113.33,93.52 110.10,92.00C106.87,90.48 107.35,90.19 106.10,88.30C104.85,86.41 105.40,86.34 105.40,84.90C105.40,83.46 105.57,83.78 106.10,82.90Z" fill="#37b878" stroke="#37b878" stroke-width="4" stroke-linejoin="round"/>
<path d="M106.10,88.30C107.89,87.58 106.87,89.25 110.10,89.60C113.33,89.95 114.25,89.95 118.20,89.60C122.15,89.25 121.33,89.37 124.90,88.30C128.47,87.23 128.00,87.04 131.60,85.60C135.20,84.16 135.15,84.34 138.40,82.90C141.65,81.46 141.11,80.39 143.80,80.20C146.49,80.01 146.53,81.13 148.50,82.20C150.47,83.27 149.76,83.29 151.20,84.20C152.64,85.11 152.65,84.32 153.90,85.60C155.15,86.88 154.83,87.03 155.90,89.00C156.97,90.97 156.46,91.03 157.90,93.00C159.34,94.97 160.58,94.61 161.30,96.40C162.02,98.19 161.69,98.10 160.60,99.70C159.51,101.30 159.55,101.15 157.20,102.40C154.85,103.65 153.59,102.96 151.80,104.40C150.01,105.84 151.91,106.36 150.50,107.80C149.09,109.24 148.66,108.36 146.50,109.80C144.34,111.24 144.56,111.76 142.40,113.20C140.24,114.64 140.72,114.48 138.40,115.20C136.08,115.92 136.93,116.09 133.70,115.90C130.47,115.71 129.90,115.22 126.30,114.50C122.70,113.78 122.73,114.08 120.20,113.20C117.67,112.32 118.24,112.64 116.80,111.20C115.36,109.76 115.15,109.61 114.80,107.80C114.45,105.99 116.22,105.65 115.50,104.40C114.78,103.15 114.07,103.98 112.10,103.10C110.13,102.22 108.98,102.35 108.10,101.10C107.22,99.85 109.33,99.49 108.80,98.40C108.27,97.31 107.73,97.72 106.10,97.00C104.47,96.28 103.42,96.95 102.70,95.70C101.98,94.45 102.49,94.27 103.40,92.30C104.31,90.33 104.31,89.02 106.10,88.30Z" fill="#54c568" stroke="#54c568" stroke-width="4" stroke-linejoin="round"/>
<g clip-path="url(#allc)"><g filter="url(#bl2)">
<ellipse cx="100.0" cy="34.0" rx="9.5" ry="7.5" fill="#d2e21b"/>
<ellipse cx="107.0" cy="29.5" rx="6.0" ry="3.0" fill="#a5db36"/>
<ellipse cx="94.0" cy="38.0" rx="3.0" ry="3.0" fill="#7ad151"/>
<ellipse cx="127.0" cy="42.0" rx="8.0" ry="5.0" fill="#463480"/>
<ellipse cx="116.0" cy="48.0" rx="3.0" ry="4.0" fill="#48135f"/>
<ellipse cx="128.0" cy="96.0" rx="8.0" ry="6.0" fill="#b5de2b"/>
<ellipse cx="142.0" cy="102.0" rx="6.0" ry="5.0" fill="#7ad151"/>
<ellipse cx="152.0" cy="100.0" rx="6.0" ry="9.0" fill="#2c728e"/>
<ellipse cx="138.0" cy="111.0" rx="10.0" ry="4.0" fill="#31688e"/>
<ellipse cx="116.0" cy="100.0" rx="5.0" ry="6.0" fill="#35b479"/>
<ellipse cx="124.0" cy="74.0" rx="7.0" ry="5.0" fill="#6ccd5a"/>
<ellipse cx="140.0" cy="72.0" rx="6.0" ry="6.0" fill="#23898e"/>
<ellipse cx="146.0" cy="80.0" rx="4.0" ry="4.0" fill="#3b528b"/>
<ellipse cx="119.2" cy="106.6" rx="2.8" ry="2.6" fill="#2c728e" opacity="0.9"/>
<ellipse cx="148.9" cy="103.0" rx="1.6" ry="2.0" fill="#21918c" opacity="0.9"/>
<ellipse cx="144.6" cy="115.5" rx="2.5" ry="2.0" fill="#2c728e" opacity="0.9"/>
<ellipse cx="142.6" cy="113.8" rx="1.9" ry="2.7" fill="#21918c" opacity="0.9"/>
<ellipse cx="155.8" cy="84.2" rx="1.6" ry="1.6" fill="#2c728e" opacity="0.9"/>
<ellipse cx="124.9" cy="90.1" rx="2.8" ry="2.2" fill="#7ad151" opacity="0.9"/>
<ellipse cx="132.0" cy="98.6" rx="2.5" ry="1.3" fill="#addc30" opacity="0.9"/>
<ellipse cx="153.5" cy="105.1" rx="2.4" ry="2.0" fill="#35b479" opacity="0.9"/>
<ellipse cx="129.7" cy="97.8" rx="1.3" ry="2.7" fill="#bddf26" opacity="0.9"/>
<ellipse cx="131.2" cy="103.2" rx="1.3" ry="1.5" fill="#35b479" opacity="0.9"/>
<ellipse cx="109.4" cy="95.5" rx="1.9" ry="2.2" fill="#fde725" opacity="0.9"/>
<ellipse cx="140.9" cy="83.5" rx="2.1" ry="1.4" fill="#7ad151" opacity="0.9"/>
<ellipse cx="148.0" cy="102.3" rx="1.4" ry="2.4" fill="#35b479" opacity="0.9"/>
<ellipse cx="129.7" cy="109.6" rx="2.5" ry="1.5" fill="#3b528b" opacity="0.9"/>
<ellipse cx="118.6" cy="91.1" rx="2.4" ry="1.7" fill="#bddf26" opacity="0.9"/>
<ellipse cx="149.7" cy="69.0" rx="2.4" ry="2.6" fill="#bddf26" opacity="0.9"/>
<ellipse cx="149.4" cy="109.9" rx="1.4" ry="1.4" fill="#7ad151" opacity="0.9"/>
<ellipse cx="151.6" cy="104.8" rx="2.2" ry="2.4" fill="#35b479" opacity="0.9"/>
<ellipse cx="116.6" cy="89.7" rx="2.4" ry="2.1" fill="#21918c" opacity="0.9"/>
<ellipse cx="142.1" cy="92.5" rx="2.0" ry="2.4" fill="#7ad151" opacity="0.9"/>
<ellipse cx="120.4" cy="79.8" rx="2.4" ry="2.0" fill="#7ad151" opacity="0.9"/>
<ellipse cx="146.0" cy="111.6" rx="1.9" ry="2.2" fill="#2c728e" opacity="0.9"/>
<ellipse cx="142.6" cy="88.6" rx="2.1" ry="2.0" fill="#2c728e" opacity="0.9"/>
<ellipse cx="143.0" cy="109.8" rx="2.7" ry="1.6" fill="#2c728e" opacity="0.9"/>
<ellipse cx="150.0" cy="72.9" rx="1.4" ry="1.9" fill="#addc30" opacity="0.9"/>
<ellipse cx="141.6" cy="87.4" rx="1.5" ry="1.7" fill="#addc30" opacity="0.9"/>
<ellipse cx="155.0" cy="100.0" rx="5.0" ry="10.0" fill="#2f6c8e"/>
<ellipse cx="140.0" cy="113.5" rx="12.0" ry="4.0" fill="#35608d"/>
<ellipse cx="147.0" cy="72.0" rx="4.0" ry="7.0" fill="#3b528b"/>
<ellipse cx="101.0" cy="35.0" rx="10.0" ry="8.0" fill="#d8e219"/>
<ellipse cx="109.0" cy="30.0" rx="6.0" ry="3.5" fill="#bddf26"/>
</g></g>
</g>
<line x1="108.00" y1="398.30" x2="108.00" y2="448.12" stroke="#111" stroke-width="0.85" stroke-linecap="butt"/>
<line x1="107.58" y1="447.70" x2="157.60" y2="447.70" stroke="#111" stroke-width="0.85" stroke-linecap="butt"/>
<line x1="105.60" y1="414.80" x2="108.00" y2="414.80" stroke="#111" stroke-width="0.6" stroke-linecap="butt"/>
<line x1="105.60" y1="432.40" x2="108.00" y2="432.40" stroke="#111" stroke-width="0.6" stroke-linecap="butt"/>
<line x1="123.00" y1="447.70" x2="123.00" y2="450.30" stroke="#111" stroke-width="0.6" stroke-linecap="butt"/>
<line x1="141.20" y1="447.70" x2="141.20" y2="450.30" stroke="#111" stroke-width="0.6" stroke-linecap="butt"/>
<g transform="translate(110.40,400.00) scale(0.3520,0.3880) translate(-30.7,-25.4)" filter="url(#rough)">
<path d="M53.90,50.10C55.53,48.66 54.23,48.99 57.30,48.70C60.37,48.41 61.08,48.79 65.40,49.00C69.72,49.21 70.46,48.86 73.50,49.50C76.54,50.14 75.71,49.27 76.80,51.40C77.89,53.53 77.60,54.62 77.60,57.50C77.60,60.38 76.48,60.41 76.80,62.20C77.12,63.99 78.05,63.27 78.80,64.20C79.55,65.13 80.13,65.22 79.60,65.70C79.07,66.18 77.36,65.28 76.80,66.00C76.24,66.72 77.85,67.63 77.50,68.40C77.15,69.17 76.57,69.11 75.50,68.90C74.43,68.69 74.59,67.23 73.50,67.60C72.41,67.97 72.49,69.21 71.40,70.30C70.31,71.39 70.28,71.70 69.40,71.70C68.52,71.70 69.17,70.11 68.10,70.30C67.03,70.49 66.49,72.05 65.40,72.40C64.31,72.75 65.09,72.53 64.00,71.60C62.91,70.67 63.09,69.59 61.30,68.90C59.51,68.21 59.27,69.16 57.30,69.00C55.33,68.84 55.69,69.21 53.90,68.30C52.11,67.39 52.20,67.04 50.60,65.60C49.00,64.16 49.18,64.34 47.90,62.90C46.62,61.46 45.99,61.83 45.80,60.20C45.61,58.57 45.76,58.43 47.20,56.80C48.64,55.17 49.41,55.89 51.20,54.10C52.99,52.31 52.27,51.54 53.90,50.10Z" fill="#48135f" stroke="#48135f" stroke-width="4" stroke-linejoin="round"/>
<path d="M31.20,74.40C32.91,72.69 34.05,74.03 38.00,74.00C41.95,73.97 41.52,74.03 46.00,74.30C50.48,74.57 52.61,73.96 54.80,75.00C56.99,76.04 56.41,75.99 54.20,78.20C51.99,80.41 50.34,80.53 46.50,83.30C42.66,86.07 42.84,86.07 39.80,88.60C36.76,91.13 36.75,91.95 35.10,92.80C33.45,93.65 34.11,93.67 33.60,91.80C33.09,89.93 33.73,88.84 33.20,85.80C32.67,82.76 32.13,83.44 31.60,80.40C31.07,77.36 29.49,76.11 31.20,74.40Z" fill="#48135f" stroke="#48135f" stroke-width="4" stroke-linejoin="round"/>
<path d="M57.50,87.10C60.01,86.54 60.25,86.27 64.20,86.40C68.15,86.53 69.74,85.97 72.30,87.60C74.86,89.23 73.61,90.13 73.80,92.50C73.99,94.87 73.93,94.71 73.00,96.50C72.07,98.29 71.74,97.76 70.30,99.20C68.86,100.64 69.04,100.09 67.60,101.90C66.16,103.71 66.34,104.75 64.90,106.00C63.46,107.25 63.45,107.16 62.20,106.60C60.95,106.04 60.73,105.34 60.20,103.90C59.67,102.46 61.27,102.08 60.20,101.20C59.13,100.32 58.17,101.13 56.20,100.60C54.23,100.07 54.24,100.29 52.80,99.20C51.36,98.11 51.52,97.94 50.80,96.50C50.08,95.06 49.57,95.21 50.10,93.80C50.63,92.39 51.55,92.61 52.80,91.20C54.05,89.79 53.55,89.59 54.80,88.50C56.05,87.41 54.99,87.66 57.50,87.10Z" fill="#48135f" stroke="#48135f" stroke-width="4" stroke-linejoin="round"/>
<path d="M52.80,121.40C53.81,120.07 53.88,119.53 56.20,118.70C58.52,117.87 58.83,117.93 61.50,118.30C64.17,118.67 65.29,118.90 66.20,120.10C67.11,121.30 66.31,121.55 64.90,122.80C63.49,124.05 63.41,124.08 60.90,124.80C58.39,125.52 57.77,125.79 55.50,125.50C53.23,125.21 53.12,124.79 52.40,123.70C51.68,122.61 51.79,122.73 52.80,121.40Z" fill="#48135f" stroke="#48135f" stroke-width="8.5" stroke-linejoin="round"/>
<path d="M77.00,99.50C77.93,98.46 78.13,98.73 80.00,98.60C81.87,98.47 81.87,98.95 84.00,99.00C86.13,99.05 86.51,98.40 88.00,98.80C89.49,99.20 89.47,99.25 89.60,100.50C89.73,101.75 89.73,102.41 88.50,103.50C87.27,104.59 87.00,104.52 85.00,104.60C83.00,104.68 82.73,103.75 81.00,103.80C79.27,103.85 79.70,105.15 78.50,104.80C77.30,104.45 76.90,103.91 76.50,102.50C76.10,101.09 76.07,100.54 77.00,99.50Z" fill="#48135f" stroke="#48135f" stroke-width="7" stroke-linejoin="round"/>
<path d="M90.20,90.40C90.63,89.81 91.47,89.72 92.00,90.20C92.53,90.68 92.63,91.61 92.20,92.20C91.77,92.79 90.93,92.88 90.40,92.40C89.87,91.92 89.77,90.99 90.20,90.40Z" fill="#48135f" stroke="#48135f" stroke-width="5.5" stroke-linejoin="round"/>
<path d="M84.60,111.50C85.08,111.02 86.39,112.19 88.10,110.80C89.81,109.41 89.61,106.73 91.00,106.30C92.39,105.87 92.13,108.11 93.30,109.20C94.47,110.29 95.56,109.76 95.40,110.40C95.24,111.04 94.19,110.96 92.70,111.60C91.21,112.24 91.51,112.53 89.80,112.80C88.09,113.07 87.69,112.95 86.30,112.60C84.91,112.25 84.12,111.98 84.60,111.50Z" fill="#48135f" stroke="#48135f" stroke-width="6.5" stroke-linejoin="round"/>
<path d="M85.20,117.90C86.29,116.35 85.49,116.86 88.10,116.70C90.71,116.54 91.93,116.69 95.00,117.30C98.07,117.91 97.60,117.45 99.60,119.00C101.60,120.55 100.95,120.94 102.50,123.10C104.05,125.26 103.56,124.81 105.40,127.10C107.24,129.39 107.96,129.70 109.40,131.70C110.84,133.70 111.09,133.05 110.80,134.60C110.51,136.15 109.74,136.41 108.30,137.50C106.86,138.59 107.11,138.25 105.40,138.70C103.69,139.15 103.61,138.53 101.90,139.20C100.19,139.87 100.52,140.88 99.00,141.20C97.48,141.52 97.88,141.23 96.20,140.40C94.52,139.57 94.86,139.03 92.70,138.10C90.54,137.17 90.87,137.38 88.10,136.90C85.33,136.42 85.07,136.91 82.30,136.30C79.53,135.69 79.30,135.67 77.70,134.60C76.10,133.53 76.14,133.85 76.30,132.30C76.46,130.75 76.86,130.48 78.30,128.80C79.74,127.12 80.18,127.68 81.70,126.00C83.22,124.32 83.07,124.66 84.00,122.50C84.93,120.34 84.11,119.45 85.20,117.90Z" fill="#48135f" stroke="#48135f" stroke-width="4" stroke-linejoin="round"/>
<path d="M90.20,37.30C90.04,35.14 89.91,34.86 91.30,32.70C92.69,30.54 92.76,30.75 95.40,29.20C98.04,27.65 98.13,27.97 101.20,26.90C104.27,25.83 103.54,25.49 106.90,25.20C110.26,24.91 110.41,25.03 113.80,25.80C117.19,26.57 117.12,26.58 119.60,28.10C122.08,29.62 120.94,29.66 123.10,31.50C125.26,33.34 124.93,33.13 127.70,35.00C130.47,36.87 130.97,36.82 133.50,38.50C136.03,40.18 136.59,39.91 137.20,41.30C137.81,42.69 137.40,42.77 135.80,43.70C134.20,44.63 133.97,44.67 131.20,44.80C128.43,44.93 127.88,44.04 125.40,44.20C122.92,44.36 123.45,44.47 121.90,45.40C120.35,46.33 120.99,46.47 119.60,47.70C118.21,48.93 118.09,48.53 116.70,50.00C115.31,51.47 115.47,52.75 114.40,53.20C113.33,53.65 113.61,52.87 112.70,51.70C111.79,50.53 111.77,50.32 111.00,48.80C110.23,47.28 110.89,47.07 109.80,46.00C108.71,44.93 108.90,45.28 106.90,44.80C104.90,44.32 105.07,44.65 102.30,44.20C99.53,43.75 99.27,44.01 96.50,43.10C93.73,42.19 93.58,42.35 91.90,40.80C90.22,39.25 90.36,39.46 90.20,37.30Z" fill="#48135f" stroke="#48135f" stroke-width="4" stroke-linejoin="round"/>
<path d="M101.50,59.40C103.55,58.47 107.33,57.37 109.60,57.00C111.87,56.63 112.05,57.07 110.00,58.00C107.95,58.93 104.17,60.13 101.90,60.50C99.63,60.87 99.45,60.33 101.50,59.40Z" fill="#48135f" stroke="#48135f" stroke-width="5" stroke-linejoin="round"/>
<path d="M113.80,54.60C114.57,53.21 115.15,53.50 116.70,53.50C118.25,53.50 118.21,54.60 119.60,54.60C120.99,54.60 120.51,53.50 121.90,53.50C123.29,53.50 124.03,53.37 124.80,54.60C125.57,55.83 125.57,56.87 124.80,58.10C124.03,59.33 123.45,58.75 121.90,59.20C120.35,59.65 120.23,58.71 119.00,59.80C117.77,60.89 118.21,63.14 117.30,63.30C116.39,63.46 116.53,61.63 115.60,60.40C114.67,59.17 114.28,60.25 113.80,58.70C113.32,57.15 113.03,55.99 113.80,54.60Z" fill="#48135f" stroke="#48135f" stroke-width="5.5" stroke-linejoin="round"/>
<path d="M106.10,82.90C106.63,82.02 106.15,81.60 107.40,81.60C108.65,81.60 109.17,83.27 110.80,82.90C112.43,82.53 112.59,82.52 113.50,80.20C114.41,77.88 113.32,76.71 114.20,74.20C115.08,71.69 114.29,72.08 116.80,70.80C119.31,69.52 120.53,70.12 123.60,69.40C126.67,68.68 125.79,69.51 128.30,68.10C130.81,66.69 130.68,65.35 133.00,64.10C135.32,62.85 134.84,63.24 137.00,63.40C139.16,63.56 139.13,64.51 141.10,64.70C143.07,64.89 143.33,62.29 144.40,64.10C145.47,65.91 144.19,68.81 145.10,71.50C146.01,74.19 146.73,72.41 147.80,74.20C148.87,75.99 148.91,76.07 149.10,78.20C149.29,80.33 147.94,80.60 148.50,82.20C149.06,83.80 152.67,82.65 151.20,84.20C149.73,85.75 148.23,85.92 143.00,88.00C137.77,90.08 138.21,90.40 131.60,92.00C124.99,93.60 123.93,94.00 118.20,94.00C112.47,94.00 113.33,93.52 110.10,92.00C106.87,90.48 107.35,90.19 106.10,88.30C104.85,86.41 105.40,86.34 105.40,84.90C105.40,83.46 105.57,83.78 106.10,82.90Z" fill="#433e85" stroke="#433e85" stroke-width="4" stroke-linejoin="round"/>
<path d="M106.10,88.30C107.89,87.58 106.87,89.25 110.10,89.60C113.33,89.95 114.25,89.95 118.20,89.60C122.15,89.25 121.33,89.37 124.90,88.30C128.47,87.23 128.00,87.04 131.60,85.60C135.20,84.16 135.15,84.34 138.40,82.90C141.65,81.46 141.11,80.39 143.80,80.20C146.49,80.01 146.53,81.13 148.50,82.20C150.47,83.27 149.76,83.29 151.20,84.20C152.64,85.11 152.65,84.32 153.90,85.60C155.15,86.88 154.83,87.03 155.90,89.00C156.97,90.97 156.46,91.03 157.90,93.00C159.34,94.97 160.58,94.61 161.30,96.40C162.02,98.19 161.69,98.10 160.60,99.70C159.51,101.30 159.55,101.15 157.20,102.40C154.85,103.65 153.59,102.96 151.80,104.40C150.01,105.84 151.91,106.36 150.50,107.80C149.09,109.24 148.66,108.36 146.50,109.80C144.34,111.24 144.56,111.76 142.40,113.20C140.24,114.64 140.72,114.48 138.40,115.20C136.08,115.92 136.93,116.09 133.70,115.90C130.47,115.71 129.90,115.22 126.30,114.50C122.70,113.78 122.73,114.08 120.20,113.20C117.67,112.32 118.24,112.64 116.80,111.20C115.36,109.76 115.15,109.61 114.80,107.80C114.45,105.99 116.22,105.65 115.50,104.40C114.78,103.15 114.07,103.98 112.10,103.10C110.13,102.22 108.98,102.35 108.10,101.10C107.22,99.85 109.33,99.49 108.80,98.40C108.27,97.31 107.73,97.72 106.10,97.00C104.47,96.28 103.42,96.95 102.70,95.70C101.98,94.45 102.49,94.27 103.40,92.30C104.31,90.33 104.31,89.02 106.10,88.30Z" fill="#2c728e" stroke="#2c728e" stroke-width="4" stroke-linejoin="round"/>
<g clip-path="url(#allc)"><g filter="url(#bl2)">
<ellipse cx="127.0" cy="96.0" rx="19.0" ry="14.0" fill="#3aa57c"/>
<ellipse cx="118.0" cy="82.0" rx="5.0" ry="5.0" fill="#25858e"/>
<ellipse cx="152.9" cy="90.6" rx="2.5" ry="2.5" fill="#21918c" opacity="0.95"/>
<ellipse cx="120.7" cy="90.1" rx="2.1" ry="2.6" fill="#440154" opacity="0.95"/>
<ellipse cx="127.9" cy="100.6" rx="3.0" ry="2.7" fill="#21918c" opacity="0.95"/>
<ellipse cx="143.3" cy="115.8" rx="2.0" ry="2.1" fill="#3b528b" opacity="0.95"/>
<ellipse cx="123.9" cy="107.7" rx="1.4" ry="2.3" fill="#472d7b" opacity="0.95"/>
<ellipse cx="143.2" cy="97.5" rx="2.2" ry="1.9" fill="#440154" opacity="0.95"/>
<ellipse cx="113.6" cy="113.6" rx="1.8" ry="2.8" fill="#440154" opacity="0.95"/>
<ellipse cx="121.3" cy="87.2" rx="2.6" ry="1.8" fill="#21918c" opacity="0.95"/>
<ellipse cx="149.0" cy="111.5" rx="2.5" ry="2.9" fill="#472d7b" opacity="0.95"/>
<ellipse cx="115.5" cy="113.6" rx="2.3" ry="2.5" fill="#440154" opacity="0.95"/>
<ellipse cx="122.0" cy="110.0" rx="1.7" ry="2.8" fill="#3b528b" opacity="0.95"/>
<ellipse cx="154.9" cy="105.0" rx="2.7" ry="1.5" fill="#21918c" opacity="0.95"/>
<ellipse cx="111.3" cy="111.9" rx="2.1" ry="1.9" fill="#5ec962" opacity="0.95"/>
<ellipse cx="128.9" cy="113.5" rx="2.4" ry="1.5" fill="#440154" opacity="0.95"/>
<ellipse cx="119.9" cy="89.3" rx="1.7" ry="1.5" fill="#21918c" opacity="0.95"/>
<ellipse cx="154.6" cy="104.9" rx="2.2" ry="1.7" fill="#472d7b" opacity="0.95"/>
<ellipse cx="125.0" cy="100.0" rx="10.0" ry="8.5" fill="#f7e620"/>
<ellipse cx="119.0" cy="90.0" rx="6.0" ry="5.0" fill="#f1e51d"/>
<ellipse cx="138.0" cy="95.0" rx="5.5" ry="6.0" fill="#fde725"/>
<ellipse cx="133.0" cy="88.0" rx="4.0" ry="3.0" fill="#48135f"/>
<ellipse cx="151.0" cy="100.0" rx="6.0" ry="10.0" fill="#25858e"/>
<ellipse cx="157.0" cy="98.0" rx="3.0" ry="7.0" fill="#3b528b"/>
<ellipse cx="139.0" cy="113.5" rx="13.0" ry="4.0" fill="#440154"/>
<ellipse cx="111.0" cy="99.0" rx="4.0" ry="5.0" fill="#440154"/>
<ellipse cx="135.0" cy="69.0" rx="10.0" ry="6.0" fill="#46307e"/>
<ellipse cx="124.0" cy="76.0" rx="5.0" ry="4.0" fill="#9bd93c"/>
<ellipse cx="131.0" cy="80.0" rx="4.0" ry="3.0" fill="#f1e51d"/>
<ellipse cx="146.0" cy="84.0" rx="5.0" ry="3.0" fill="#addc30" opacity="0.9"/>
<ellipse cx="144.0" cy="107.0" rx="4.0" ry="3.5" fill="#3b528b"/>
<ellipse cx="110.0" cy="32.0" rx="1.6" ry="1.6" fill="#d8c0d8" opacity="0.7"/>
</g></g>
</g>
<line x1="108.00" y1="462.80" x2="108.00" y2="512.62" stroke="#111" stroke-width="0.85" stroke-linecap="butt"/>
<line x1="107.58" y1="512.20" x2="157.60" y2="512.20" stroke="#111" stroke-width="0.85" stroke-linecap="butt"/>
<line x1="105.60" y1="479.30" x2="108.00" y2="479.30" stroke="#111" stroke-width="0.6" stroke-linecap="butt"/>
<line x1="105.60" y1="496.90" x2="108.00" y2="496.90" stroke="#111" stroke-width="0.6" stroke-linecap="butt"/>
<line x1="123.00" y1="512.20" x2="123.00" y2="514.80" stroke="#111" stroke-width="0.6" stroke-linecap="butt"/>
<line x1="141.20" y1="512.20" x2="141.20" y2="514.80" stroke="#111" stroke-width="0.6" stroke-linecap="butt"/>
<g transform="translate(110.40,464.50) scale(0.3520,0.3880) translate(-30.7,-25.4)" filter="url(#rough)">
<path d="M53.90,50.10C55.53,48.66 54.23,48.99 57.30,48.70C60.37,48.41 61.08,48.79 65.40,49.00C69.72,49.21 70.46,48.86 73.50,49.50C76.54,50.14 75.71,49.27 76.80,51.40C77.89,53.53 77.60,54.62 77.60,57.50C77.60,60.38 76.48,60.41 76.80,62.20C77.12,63.99 78.05,63.27 78.80,64.20C79.55,65.13 80.13,65.22 79.60,65.70C79.07,66.18 77.36,65.28 76.80,66.00C76.24,66.72 77.85,67.63 77.50,68.40C77.15,69.17 76.57,69.11 75.50,68.90C74.43,68.69 74.59,67.23 73.50,67.60C72.41,67.97 72.49,69.21 71.40,70.30C70.31,71.39 70.28,71.70 69.40,71.70C68.52,71.70 69.17,70.11 68.10,70.30C67.03,70.49 66.49,72.05 65.40,72.40C64.31,72.75 65.09,72.53 64.00,71.60C62.91,70.67 63.09,69.59 61.30,68.90C59.51,68.21 59.27,69.16 57.30,69.00C55.33,68.84 55.69,69.21 53.90,68.30C52.11,67.39 52.20,67.04 50.60,65.60C49.00,64.16 49.18,64.34 47.90,62.90C46.62,61.46 45.99,61.83 45.80,60.20C45.61,58.57 45.76,58.43 47.20,56.80C48.64,55.17 49.41,55.89 51.20,54.10C52.99,52.31 52.27,51.54 53.90,50.10Z" fill="#25988a" stroke="#25988a" stroke-width="4" stroke-linejoin="round"/>
<path d="M31.20,74.40C32.91,72.69 34.05,74.03 38.00,74.00C41.95,73.97 41.52,74.03 46.00,74.30C50.48,74.57 52.61,73.96 54.80,75.00C56.99,76.04 56.41,75.99 54.20,78.20C51.99,80.41 50.34,80.53 46.50,83.30C42.66,86.07 42.84,86.07 39.80,88.60C36.76,91.13 36.75,91.95 35.10,92.80C33.45,93.65 34.11,93.67 33.60,91.80C33.09,89.93 33.73,88.84 33.20,85.80C32.67,82.76 32.13,83.44 31.60,80.40C31.07,77.36 29.49,76.11 31.20,74.40Z" fill="#b5de2b" stroke="#b5de2b" stroke-width="4" stroke-linejoin="round"/>
<path d="M57.50,87.10C60.01,86.54 60.25,86.27 64.20,86.40C68.15,86.53 69.74,85.97 72.30,87.60C74.86,89.23 73.61,90.13 73.80,92.50C73.99,94.87 73.93,94.71 73.00,96.50C72.07,98.29 71.74,97.76 70.30,99.20C68.86,100.64 69.04,100.09 67.60,101.90C66.16,103.71 66.34,104.75 64.90,106.00C63.46,107.25 63.45,107.16 62.20,106.60C60.95,106.04 60.73,105.34 60.20,103.90C59.67,102.46 61.27,102.08 60.20,101.20C59.13,100.32 58.17,101.13 56.20,100.60C54.23,100.07 54.24,100.29 52.80,99.20C51.36,98.11 51.52,97.94 50.80,96.50C50.08,95.06 49.57,95.21 50.10,93.80C50.63,92.39 51.55,92.61 52.80,91.20C54.05,89.79 53.55,89.59 54.80,88.50C56.05,87.41 54.99,87.66 57.50,87.10Z" fill="#9bd93c" stroke="#9bd93c" stroke-width="4" stroke-linejoin="round"/>
<path d="M52.80,121.40C53.81,120.07 53.88,119.53 56.20,118.70C58.52,117.87 58.83,117.93 61.50,118.30C64.17,118.67 65.29,118.90 66.20,120.10C67.11,121.30 66.31,121.55 64.90,122.80C63.49,124.05 63.41,124.08 60.90,124.80C58.39,125.52 57.77,125.79 55.50,125.50C53.23,125.21 53.12,124.79 52.40,123.70C51.68,122.61 51.79,122.73 52.80,121.40Z" fill="#3b528b" stroke="#3b528b" stroke-width="8.5" stroke-linejoin="round"/>
<path d="M77.00,99.50C77.93,98.46 78.13,98.73 80.00,98.60C81.87,98.47 81.87,98.95 84.00,99.00C86.13,99.05 86.51,98.40 88.00,98.80C89.49,99.20 89.47,99.25 89.60,100.50C89.73,101.75 89.73,102.41 88.50,103.50C87.27,104.59 87.00,104.52 85.00,104.60C83.00,104.68 82.73,103.75 81.00,103.80C79.27,103.85 79.70,105.15 78.50,104.80C77.30,104.45 76.90,103.91 76.50,102.50C76.10,101.09 76.07,100.54 77.00,99.50Z" fill="#2c728e" stroke="#2c728e" stroke-width="7" stroke-linejoin="round"/>
<path d="M90.20,90.40C90.63,89.81 91.47,89.72 92.00,90.20C92.53,90.68 92.63,91.61 92.20,92.20C91.77,92.79 90.93,92.88 90.40,92.40C89.87,91.92 89.77,90.99 90.20,90.40Z" fill="#3c3d80" stroke="#3c3d80" stroke-width="5.5" stroke-linejoin="round"/>
<path d="M84.60,111.50C85.08,111.02 86.39,112.19 88.10,110.80C89.81,109.41 89.61,106.73 91.00,106.30C92.39,105.87 92.13,108.11 93.30,109.20C94.47,110.29 95.56,109.76 95.40,110.40C95.24,111.04 94.19,110.96 92.70,111.60C91.21,112.24 91.51,112.53 89.80,112.80C88.09,113.07 87.69,112.95 86.30,112.60C84.91,112.25 84.12,111.98 84.60,111.50Z" fill="#3b528b" stroke="#3b528b" stroke-width="6.5" stroke-linejoin="round"/>
<path d="M85.20,117.90C86.29,116.35 85.49,116.86 88.10,116.70C90.71,116.54 91.93,116.69 95.00,117.30C98.07,117.91 97.60,117.45 99.60,119.00C101.60,120.55 100.95,120.94 102.50,123.10C104.05,125.26 103.56,124.81 105.40,127.10C107.24,129.39 107.96,129.70 109.40,131.70C110.84,133.70 111.09,133.05 110.80,134.60C110.51,136.15 109.74,136.41 108.30,137.50C106.86,138.59 107.11,138.25 105.40,138.70C103.69,139.15 103.61,138.53 101.90,139.20C100.19,139.87 100.52,140.88 99.00,141.20C97.48,141.52 97.88,141.23 96.20,140.40C94.52,139.57 94.86,139.03 92.70,138.10C90.54,137.17 90.87,137.38 88.10,136.90C85.33,136.42 85.07,136.91 82.30,136.30C79.53,135.69 79.30,135.67 77.70,134.60C76.10,133.53 76.14,133.85 76.30,132.30C76.46,130.75 76.86,130.48 78.30,128.80C79.74,127.12 80.18,127.68 81.70,126.00C83.22,124.32 83.07,124.66 84.00,122.50C84.93,120.34 84.11,119.45 85.20,117.90Z" fill="#3b5a8c" stroke="#3b5a8c" stroke-width="4" stroke-linejoin="round"/>
<path d="M90.20,37.30C90.04,35.14 89.91,34.86 91.30,32.70C92.69,30.54 92.76,30.75 95.40,29.20C98.04,27.65 98.13,27.97 101.20,26.90C104.27,25.83 103.54,25.49 106.90,25.20C110.26,24.91 110.41,25.03 113.80,25.80C117.19,26.57 117.12,26.58 119.60,28.10C122.08,29.62 120.94,29.66 123.10,31.50C125.26,33.34 124.93,33.13 127.70,35.00C130.47,36.87 130.97,36.82 133.50,38.50C136.03,40.18 136.59,39.91 137.20,41.30C137.81,42.69 137.40,42.77 135.80,43.70C134.20,44.63 133.97,44.67 131.20,44.80C128.43,44.93 127.88,44.04 125.40,44.20C122.92,44.36 123.45,44.47 121.90,45.40C120.35,46.33 120.99,46.47 119.60,47.70C118.21,48.93 118.09,48.53 116.70,50.00C115.31,51.47 115.47,52.75 114.40,53.20C113.33,53.65 113.61,52.87 112.70,51.70C111.79,50.53 111.77,50.32 111.00,48.80C110.23,47.28 110.89,47.07 109.80,46.00C108.71,44.93 108.90,45.28 106.90,44.80C104.90,44.32 105.07,44.65 102.30,44.20C99.53,43.75 99.27,44.01 96.50,43.10C93.73,42.19 93.58,42.35 91.90,40.80C90.22,39.25 90.36,39.46 90.20,37.30Z" fill="#2f6c8e" stroke="#2f6c8e" stroke-width="4" stroke-linejoin="round"/>
<path d="M101.50,59.40C103.55,58.47 107.33,57.37 109.60,57.00C111.87,56.63 112.05,57.07 110.00,58.00C107.95,58.93 104.17,60.13 101.90,60.50C99.63,60.87 99.45,60.33 101.50,59.40Z" fill="#3c3d80" stroke="#3c3d80" stroke-width="5" stroke-linejoin="round"/>
<path d="M113.80,54.60C114.57,53.21 115.15,53.50 116.70,53.50C118.25,53.50 118.21,54.60 119.60,54.60C120.99,54.60 120.51,53.50 121.90,53.50C123.29,53.50 124.03,53.37 124.80,54.60C125.57,55.83 125.57,56.87 124.80,58.10C124.03,59.33 123.45,58.75 121.90,59.20C120.35,59.65 120.23,58.71 119.00,59.80C117.77,60.89 118.21,63.14 117.30,63.30C116.39,63.46 116.53,61.63 115.60,60.40C114.67,59.17 114.28,60.25 113.80,58.70C113.32,57.15 113.03,55.99 113.80,54.60Z" fill="#3b528b" stroke="#3b528b" stroke-width="5.5" stroke-linejoin="round"/>
<path d="M106.10,82.90C106.63,82.02 106.15,81.60 107.40,81.60C108.65,81.60 109.17,83.27 110.80,82.90C112.43,82.53 112.59,82.52 113.50,80.20C114.41,77.88 113.32,76.71 114.20,74.20C115.08,71.69 114.29,72.08 116.80,70.80C119.31,69.52 120.53,70.12 123.60,69.40C126.67,68.68 125.79,69.51 128.30,68.10C130.81,66.69 130.68,65.35 133.00,64.10C135.32,62.85 134.84,63.24 137.00,63.40C139.16,63.56 139.13,64.51 141.10,64.70C143.07,64.89 143.33,62.29 144.40,64.10C145.47,65.91 144.19,68.81 145.10,71.50C146.01,74.19 146.73,72.41 147.80,74.20C148.87,75.99 148.91,76.07 149.10,78.20C149.29,80.33 147.94,80.60 148.50,82.20C149.06,83.80 152.67,82.65 151.20,84.20C149.73,85.75 148.23,85.92 143.00,88.00C137.77,90.08 138.21,90.40 131.60,92.00C124.99,93.60 123.93,94.00 118.20,94.00C112.47,94.00 113.33,93.52 110.10,92.00C106.87,90.48 107.35,90.19 106.10,88.30C104.85,86.41 105.40,86.34 105.40,84.90C105.40,83.46 105.57,83.78 106.10,82.90Z" fill="#3b3b80" stroke="#3b3b80" stroke-width="4" stroke-linejoin="round"/>
<path d="M106.10,88.30C107.89,87.58 106.87,89.25 110.10,89.60C113.33,89.95 114.25,89.95 118.20,89.60C122.15,89.25 121.33,89.37 124.90,88.30C128.47,87.23 128.00,87.04 131.60,85.60C135.20,84.16 135.15,84.34 138.40,82.90C141.65,81.46 141.11,80.39 143.80,80.20C146.49,80.01 146.53,81.13 148.50,82.20C150.47,83.27 149.76,83.29 151.20,84.20C152.64,85.11 152.65,84.32 153.90,85.60C155.15,86.88 154.83,87.03 155.90,89.00C156.97,90.97 156.46,91.03 157.90,93.00C159.34,94.97 160.58,94.61 161.30,96.40C162.02,98.19 161.69,98.10 160.60,99.70C159.51,101.30 159.55,101.15 157.20,102.40C154.85,103.65 153.59,102.96 151.80,104.40C150.01,105.84 151.91,106.36 150.50,107.80C149.09,109.24 148.66,108.36 146.50,109.80C144.34,111.24 144.56,111.76 142.40,113.20C140.24,114.64 140.72,114.48 138.40,115.20C136.08,115.92 136.93,116.09 133.70,115.90C130.47,115.71 129.90,115.22 126.30,114.50C122.70,113.78 122.73,114.08 120.20,113.20C117.67,112.32 118.24,112.64 116.80,111.20C115.36,109.76 115.15,109.61 114.80,107.80C114.45,105.99 116.22,105.65 115.50,104.40C114.78,103.15 114.07,103.98 112.10,103.10C110.13,102.22 108.98,102.35 108.10,101.10C107.22,99.85 109.33,99.49 108.80,98.40C108.27,97.31 107.73,97.72 106.10,97.00C104.47,96.28 103.42,96.95 102.70,95.70C101.98,94.45 102.49,94.27 103.40,92.30C104.31,90.33 104.31,89.02 106.10,88.30Z" fill="#3f3a80" stroke="#3f3a80" stroke-width="4" stroke-linejoin="round"/>
<g clip-path="url(#allc)"><g filter="url(#bl2)">
<ellipse cx="66.0" cy="53.0" rx="7.0" ry="4.0" fill="#5ec962" opacity="0.95"/>
<ellipse cx="52.0" cy="62.0" rx="5.0" ry="5.0" fill="#33638d" opacity="0.95"/>
<ellipse cx="72.0" cy="62.0" rx="4.0" ry="5.0" fill="#2c728e" opacity="0.9"/>
<ellipse cx="36.0" cy="78.0" rx="4.0" ry="3.5" fill="#fde725"/>
<ellipse cx="48.0" cy="78.0" rx="5.0" ry="3.0" fill="#5ec962" opacity="0.9"/>
<ellipse cx="56.0" cy="94.0" rx="4.5" ry="6.0" fill="#eae51a"/>
<ellipse cx="68.0" cy="96.0" rx="4.0" ry="6.0" fill="#35b479" opacity="0.9"/>
<ellipse cx="64.0" cy="104.0" rx="3.0" ry="3.0" fill="#2c728e" opacity="0.9"/>
<ellipse cx="108.0" cy="33.0" rx="3.2" ry="7.0" fill="#7ad151"/>
<ellipse cx="124.0" cy="38.0" rx="8.0" ry="5.0" fill="#3b528b" opacity="0.95"/>
<ellipse cx="97.0" cy="36.0" rx="5.0" ry="5.0" fill="#26828e" opacity="0.9"/>
<ellipse cx="98.0" cy="128.0" rx="7.0" ry="6.0" fill="#2a788e" opacity="0.9"/>
<ellipse cx="86.0" cy="130.0" rx="5.0" ry="5.0" fill="#3b4f8a" opacity="0.9"/>
<ellipse cx="132.0" cy="92.0" rx="16.0" ry="14.0" fill="#40327c" opacity="0.7"/>
<ellipse cx="120.0" cy="76.0" rx="6.0" ry="5.0" fill="#3b528b" opacity="0.6"/>
<ellipse cx="133.0" cy="74.9" rx="1.4" ry="1.0" fill="#404588" opacity="0.7"/>
<ellipse cx="109.8" cy="66.9" rx="1.6" ry="2.2" fill="#31688e" opacity="0.7"/>
<ellipse cx="120.3" cy="88.4" rx="1.8" ry="1.8" fill="#31688e" opacity="0.7"/>
<ellipse cx="135.3" cy="110.4" rx="2.2" ry="1.4" fill="#3b528b" opacity="0.7"/>
<ellipse cx="157.1" cy="83.1" rx="2.0" ry="1.8" fill="#3b528b" opacity="0.7"/>
<ellipse cx="128.2" cy="83.4" rx="1.1" ry="1.2" fill="#472d7b" opacity="0.7"/>
<ellipse cx="139.3" cy="110.0" rx="1.5" ry="1.1" fill="#31688e" opacity="0.7"/>
<ellipse cx="151.5" cy="99.5" rx="1.3" ry="1.3" fill="#404588" opacity="0.7"/>
<ellipse cx="110.3" cy="75.3" rx="1.3" ry="1.0" fill="#404588" opacity="0.7"/>
<ellipse cx="156.1" cy="114.6" rx="1.7" ry="1.3" fill="#404588" opacity="0.7"/>
<ellipse cx="118.9" cy="75.1" rx="1.4" ry="1.1" fill="#404588" opacity="0.7"/>
<ellipse cx="133.1" cy="76.0" rx="1.6" ry="1.0" fill="#404588" opacity="0.7"/>
<ellipse cx="148.9" cy="73.2" rx="1.7" ry="1.5" fill="#404588" opacity="0.7"/>
<ellipse cx="123.2" cy="77.6" rx="1.7" ry="1.6" fill="#3b528b" opacity="0.7"/>
</g></g>
</g>
<rect x="120.00" y="519.40" width="25.20" height="4.00" fill="url(#vir)"/>
<text x="118.00" y="523.45" font-size="5.7" text-anchor="end" font-weight="normal" fill="#2b2b2b">Low</text>
<text x="147.00" y="523.45" font-size="5.7" text-anchor="start" font-weight="normal" fill="#2b2b2b">High</text>
<text x="132.70" y="530.55" font-size="5.7" text-anchor="middle" font-weight="normal" fill="#2b2b2b">(Batch adjusted</text>
<text x="132.70" y="537.05" font-size="5.7" text-anchor="middle" font-weight="normal" fill="#2b2b2b">log-normalized)</text>
</g>
<g id="panelC">
<text x="0.00" y="189.87" font-size="10.2" text-anchor="start" font-weight="bold" fill="#000">C</text>
<text x="0.00" y="2.38" font-size="6.6" text-anchor="middle" font-weight="normal" fill="#333" transform="translate(4.70,358.00) rotate(-90)" textLength="74.00" lengthAdjust="spacingAndGlyphs">Transcripts per million (tpm)</text>
<text x="24.00" y="199.00" font-size="5" text-anchor="start" font-weight="normal" fill="#2b2b2b">IL-13</text>
<line x1="29.80" y1="205.00" x2="29.80" y2="254.90" stroke="#111" stroke-width="0.9" stroke-linecap="butt"/>
<line x1="27.00" y1="207.20" x2="29.80" y2="207.20" stroke="#111" stroke-width="0.65" stroke-linecap="butt"/>
<text x="25.40" y="209.04" font-size="5.1" text-anchor="end" font-weight="normal" fill="#2b2b2b">1000</text>
<line x1="27.00" y1="223.60" x2="29.80" y2="223.60" stroke="#111" stroke-width="0.65" stroke-linecap="butt"/>
<text x="25.40" y="225.44" font-size="5.1" text-anchor="end" font-weight="normal" fill="#2b2b2b">100</text>
<line x1="27.00" y1="238.20" x2="29.80" y2="238.20" stroke="#111" stroke-width="0.65" stroke-linecap="butt"/>
<text x="25.40" y="240.04" font-size="5.1" text-anchor="end" font-weight="normal" fill="#2b2b2b">100</text>
<line x1="27.00" y1="249.50" x2="29.80" y2="249.50" stroke="#111" stroke-width="0.65" stroke-linecap="butt"/>
<text x="25.40" y="251.34" font-size="5.1" text-anchor="end" font-weight="normal" fill="#2b2b2b">1</text>
<line x1="27.00" y1="254.00" x2="29.80" y2="254.00" stroke="#111" stroke-width="0.65" stroke-linecap="butt"/>
<text x="25.40" y="255.84" font-size="5.1" text-anchor="end" font-weight="normal" fill="#2b2b2b">0</text>
<line x1="29.40" y1="254.50" x2="53.00" y2="254.50" stroke="#111" stroke-width="0.9" stroke-linecap="butt"/>
<line x1="55.80" y1="254.50" x2="78.00" y2="254.50" stroke="#111" stroke-width="0.9" stroke-linecap="butt"/>
<line x1="80.80" y1="254.50" x2="93.40" y2="254.50" stroke="#111" stroke-width="0.9" stroke-linecap="butt"/>
<line x1="55.40" y1="205.50" x2="55.40" y2="255.00" stroke="#222" stroke-width="0.55" stroke-linecap="butt" stroke-dasharray="1.5 1.2"/>
<line x1="80.40" y1="205.50" x2="80.40" y2="255.00" stroke="#222" stroke-width="0.55" stroke-linecap="butt" stroke-dasharray="1.5 1.2"/>
<rect x="31.70" y="250.20" width="8.50" height="3.80" fill="#fff" stroke="#3568a0" stroke-width="0.7"/>
<line x1="31.70" y1="252.20" x2="40.20" y2="252.20" stroke="#3568a0" stroke-width="0.85" stroke-linecap="butt"/>
<circle cx="34.35" cy="244.30" r="0.7" fill="#3568a0"/>
<circle cx="36.45" cy="252.80" r="0.7" fill="#3568a0"/>
<circle cx="34.95" cy="253.50" r="0.7" fill="#3568a0"/>
<line x1="46.90" y1="234.70" x2="46.90" y2="241.00" stroke="#b3262c" stroke-width="0.6" stroke-linecap="butt"/>
<line x1="46.90" y1="250.70" x2="46.90" y2="254.00" stroke="#b3262c" stroke-width="0.6" stroke-linecap="butt"/>
<rect x="42.30" y="241.00" width="9.20" height="9.70" fill="#fff" stroke="#b3262c" stroke-width="0.7"/>
<line x1="42.30" y1="245.70" x2="51.50" y2="245.70" stroke="#b3262c" stroke-width="0.85" stroke-linecap="butt"/>
<circle cx="46.10" cy="234.90" r="0.7" fill="#b3262c"/>
<circle cx="48.50" cy="243.50" r="0.7" fill="#b3262c"/>
<circle cx="45.40" cy="249.00" r="0.7" fill="#b3262c"/>
<circle cx="47.30" cy="253.80" r="0.7" fill="#b3262c"/>
<line x1="61.55" y1="244.00" x2="61.55" y2="245.30" stroke="#3568a0" stroke-width="0.6" stroke-linecap="butt"/>
<line x1="61.55" y1="248.30" x2="61.55" y2="249.40" stroke="#3568a0" stroke-width="0.6" stroke-linecap="butt"/>
<rect x="57.30" y="245.30" width="8.50" height="3.00" fill="#fff" stroke="#3568a0" stroke-width="0.7"/>
<line x1="57.30" y1="246.80" x2="65.80" y2="246.80" stroke="#3568a0" stroke-width="0.85" stroke-linecap="butt"/>
<circle cx="59.35" cy="243.90" r="0.7" fill="#3568a0"/>
<circle cx="62.55" cy="245.80" r="0.7" fill="#3568a0"/>
<circle cx="61.05" cy="247.60" r="0.7" fill="#3568a0"/>
<circle cx="63.95" cy="246.40" r="0.7" fill="#3568a0"/>
<circle cx="61.75" cy="249.20" r="0.7" fill="#3568a0"/>
<line x1="71.90" y1="232.80" x2="71.90" y2="236.30" stroke="#b3262c" stroke-width="0.6" stroke-linecap="butt"/>
<line x1="71.90" y1="244.30" x2="71.90" y2="254.00" stroke="#b3262c" stroke-width="0.6" stroke-linecap="butt"/>
<rect x="67.30" y="236.30" width="9.20" height="8.00" fill="#fff" stroke="#b3262c" stroke-width="0.7"/>
<line x1="67.30" y1="239.60" x2="76.50" y2="239.60" stroke="#b3262c" stroke-width="0.85" stroke-linecap="butt"/>
<circle cx="69.90" cy="237.20" r="0.7" fill="#b3262c"/>
<circle cx="72.90" cy="238.40" r="0.7" fill="#b3262c"/>
<circle cx="74.30" cy="240.80" r="0.7" fill="#b3262c"/>
<circle cx="70.90" cy="241.70" r="0.7" fill="#b3262c"/>
<circle cx="72.30" cy="243.20" r="0.7" fill="#b3262c"/>
<circle cx="69.30" cy="245.20" r="0.7" fill="#b3262c"/>
<circle cx="73.50" cy="246.60" r="0.7" fill="#b3262c"/>
<circle cx="71.90" cy="248.40" r="0.7" fill="#b3262c"/>
<circle cx="72.50" cy="251.20" r="0.7" fill="#b3262c"/>
<circle cx="71.30" cy="253.60" r="0.7" fill="#b3262c"/>
<circle cx="72.10" cy="234.00" r="0.7" fill="#b3262c"/>
<circle cx="72.70" cy="215.00" r="0.75" fill="#b3262c"/>
<circle cx="72.00" cy="223.60" r="0.75" fill="#b3262c"/>
<line x1="86.55" y1="211.70" x2="86.55" y2="223.60" stroke="#b3262c" stroke-width="0.6" stroke-linecap="butt"/>
<line x1="86.55" y1="234.70" x2="86.55" y2="240.50" stroke="#b3262c" stroke-width="0.6" stroke-linecap="butt"/>
<rect x="82.30" y="223.60" width="8.50" height="11.10" fill="#fff" stroke="#b3262c" stroke-width="0.7"/>
<line x1="82.30" y1="229.00" x2="90.80" y2="229.00" stroke="#b3262c" stroke-width="0.85" stroke-linecap="butt"/>
<circle cx="86.85" cy="211.70" r="0.7" fill="#b3262c"/>
<circle cx="84.95" cy="222.40" r="0.7" fill="#b3262c"/>
<circle cx="88.15" cy="224.30" r="0.7" fill="#b3262c"/>
<circle cx="87.15" cy="227.20" r="0.7" fill="#b3262c"/>
<circle cx="87.75" cy="231.50" r="0.7" fill="#b3262c"/>
<circle cx="85.55" cy="232.70" r="0.7" fill="#b3262c"/>
<circle cx="87.25" cy="240.30" r="0.7" fill="#b3262c"/>
<circle cx="85.65" cy="251.70" r="0.75" fill="#b3262c"/>
<text x="24.00" y="268.80" font-size="5" text-anchor="start" font-weight="normal" fill="#2b2b2b">IL-22</text>
<line x1="29.80" y1="273.30" x2="29.80" y2="319.20" stroke="#111" stroke-width="0.9" stroke-linecap="butt"/>
<line x1="27.00" y1="280.00" x2="29.80" y2="280.00" stroke="#111" stroke-width="0.65" stroke-linecap="butt"/>
<text x="25.40" y="281.84" font-size="5.1" text-anchor="end" font-weight="normal" fill="#2b2b2b">1000</text>
<line x1="27.00" y1="292.50" x2="29.80" y2="292.50" stroke="#111" stroke-width="0.65" stroke-linecap="butt"/>
<text x="25.40" y="294.34" font-size="5.1" text-anchor="end" font-weight="normal" fill="#2b2b2b">100</text>
<line x1="27.00" y1="305.40" x2="29.80" y2="305.40" stroke="#111" stroke-width="0.65" stroke-linecap="butt"/>
<text x="25.40" y="307.24" font-size="5.1" text-anchor="end" font-weight="normal" fill="#2b2b2b">10</text>
<line x1="27.00" y1="314.20" x2="29.80" y2="314.20" stroke="#111" stroke-width="0.65" stroke-linecap="butt"/>
<text x="25.40" y="316.04" font-size="5.1" text-anchor="end" font-weight="normal" fill="#2b2b2b">1</text>
<line x1="27.00" y1="318.50" x2="29.80" y2="318.50" stroke="#111" stroke-width="0.65" stroke-linecap="butt"/>
<text x="25.40" y="320.34" font-size="5.1" text-anchor="end" font-weight="normal" fill="#2b2b2b">0</text>
<line x1="29.40" y1="318.80" x2="53.00" y2="318.80" stroke="#111" stroke-width="0.9" stroke-linecap="butt"/>
<line x1="55.80" y1="318.80" x2="78.00" y2="318.80" stroke="#111" stroke-width="0.9" stroke-linecap="butt"/>
<line x1="80.80" y1="318.80" x2="93.40" y2="318.80" stroke="#111" stroke-width="0.9" stroke-linecap="butt"/>
<line x1="55.40" y1="273.80" x2="55.40" y2="319.30" stroke="#222" stroke-width="0.55" stroke-linecap="butt" stroke-dasharray="1.5 1.2"/>
<line x1="80.40" y1="273.80" x2="80.40" y2="319.30" stroke="#222" stroke-width="0.55" stroke-linecap="butt" stroke-dasharray="1.5 1.2"/>
<rect x="31.70" y="317.80" width="8.50" height="0.70" fill="none" stroke="#3568a0" stroke-width="0.7"/>
<line x1="31.70" y1="318.10" x2="40.20" y2="318.10" stroke="#3568a0" stroke-width="0.85" stroke-linecap="butt"/>
<circle cx="33.95" cy="318.00" r="0.7" fill="#3568a0"/>
<circle cx="36.15" cy="317.20" r="0.7" fill="#3568a0"/>
<circle cx="37.95" cy="318.20" r="0.7" fill="#3568a0"/>
<line x1="46.90" y1="304.60" x2="46.90" y2="308.30" stroke="#b3262c" stroke-width="0.6" stroke-linecap="butt"/>
<rect x="42.30" y="308.30" width="9.20" height="10.20" fill="#fff" stroke="#b3262c" stroke-width="0.7"/>
<line x1="42.30" y1="313.30" x2="51.50" y2="313.30" stroke="#b3262c" stroke-width="0.85" stroke-linecap="butt"/>
<circle cx="45.20" cy="304.60" r="0.7" fill="#b3262c"/>
<circle cx="48.00" cy="309.20" r="0.7" fill="#b3262c"/>
<circle cx="47.30" cy="316.60" r="0.7" fill="#b3262c"/>
<circle cx="45.70" cy="318.20" r="0.7" fill="#b3262c"/>
<rect x="57.30" y="316.60" width="8.50" height="1.20" fill="none" stroke="#3568a0" stroke-width="0.7"/>
<line x1="57.30" y1="317.20" x2="65.80" y2="317.20" stroke="#3568a0" stroke-width="0.85" stroke-linecap="butt"/>
<circle cx="59.35" cy="316.60" r="0.7" fill="#3568a0"/>
<circle cx="60.95" cy="315.40" r="0.7" fill="#3568a0"/>
<circle cx="62.75" cy="317.00" r="0.7" fill="#3568a0"/>
<circle cx="64.15" cy="317.40" r="0.7" fill="#3568a0"/>
<line x1="71.90" y1="292.50" x2="71.90" y2="300.20" stroke="#b3262c" stroke-width="0.6" stroke-linecap="butt"/>
<line x1="71.90" y1="309.80" x2="71.90" y2="316.20" stroke="#b3262c" stroke-width="0.6" stroke-linecap="butt"/>
<rect x="67.30" y="300.20" width="9.20" height="9.60" fill="#fff" stroke="#b3262c" stroke-width="0.7"/>
<line x1="67.30" y1="305.40" x2="76.50" y2="305.40" stroke="#b3262c" stroke-width="0.85" stroke-linecap="butt"/>
<circle cx="69.90" cy="301.20" r="0.7" fill="#b3262c"/>
<circle cx="72.50" cy="302.40" r="0.7" fill="#b3262c"/>
<circle cx="74.10" cy="303.60" r="0.7" fill="#b3262c"/>
<circle cx="71.10" cy="304.40" r="0.7" fill="#b3262c"/>
<circle cx="73.30" cy="306.60" r="0.7" fill="#b3262c"/>
<circle cx="69.50" cy="307.80" r="0.7" fill="#b3262c"/>
<circle cx="72.10" cy="308.60" r="0.7" fill="#b3262c"/>
<circle cx="73.90" cy="310.80" r="0.7" fill="#b3262c"/>
<circle cx="71.30" cy="312.40" r="0.7" fill="#b3262c"/>
<circle cx="72.70" cy="314.20" r="0.7" fill="#b3262c"/>
<circle cx="71.70" cy="316.00" r="0.7" fill="#b3262c"/>
<circle cx="72.30" cy="298.40" r="0.7" fill="#b3262c"/>
<circle cx="72.70" cy="275.80" r="0.75" fill="#b3262c"/>
<rect x="82.30" y="307.30" width="8.50" height="11.20" fill="#fff" stroke="#b3262c" stroke-width="0.7"/>
<line x1="82.30" y1="313.30" x2="90.80" y2="313.30" stroke="#b3262c" stroke-width="0.85" stroke-linecap="butt"/>
<circle cx="85.15" cy="312.00" r="0.7" fill="#b3262c"/>
<circle cx="87.75" cy="316.00" r="0.7" fill="#b3262c"/>
<circle cx="86.15" cy="318.00" r="0.7" fill="#b3262c"/>
<circle cx="88.35" cy="318.20" r="0.7" fill="#b3262c"/>
<circle cx="86.55" cy="309.00" r="0.7" fill="#b3262c"/>
<circle cx="86.45" cy="277.70" r="0.75" fill="#b3262c"/>
<circle cx="87.45" cy="276.60" r="0.75" fill="#b3262c"/>
<circle cx="87.55" cy="291.00" r="0.75" fill="#b3262c"/>
<text x="24.00" y="333.10" font-size="5" text-anchor="start" font-weight="normal" fill="#2b2b2b">OSM</text>
<line x1="29.80" y1="338.30" x2="29.80" y2="383.30" stroke="#111" stroke-width="0.9" stroke-linecap="butt"/>
<line x1="27.00" y1="339.60" x2="29.80" y2="339.60" stroke="#111" stroke-width="0.65" stroke-linecap="butt"/>
<text x="25.40" y="341.44" font-size="5.1" text-anchor="end" font-weight="normal" fill="#2b2b2b">100</text>
<line x1="27.00" y1="360.40" x2="29.80" y2="360.40" stroke="#111" stroke-width="0.65" stroke-linecap="butt"/>
<text x="25.40" y="362.24" font-size="5.1" text-anchor="end" font-weight="normal" fill="#2b2b2b">10</text>
<line x1="27.00" y1="376.20" x2="29.80" y2="376.20" stroke="#111" stroke-width="0.65" stroke-linecap="butt"/>
<text x="25.40" y="378.04" font-size="5.1" text-anchor="end" font-weight="normal" fill="#2b2b2b">1</text>
<line x1="27.00" y1="382.50" x2="29.80" y2="382.50" stroke="#111" stroke-width="0.65" stroke-linecap="butt"/>
<text x="25.40" y="384.34" font-size="5.1" text-anchor="end" font-weight="normal" fill="#2b2b2b">0</text>
<line x1="29.40" y1="382.90" x2="53.00" y2="382.90" stroke="#111" stroke-width="0.9" stroke-linecap="butt"/>
<line x1="55.80" y1="382.90" x2="78.00" y2="382.90" stroke="#111" stroke-width="0.9" stroke-linecap="butt"/>
<line x1="80.80" y1="382.90" x2="93.40" y2="382.90" stroke="#111" stroke-width="0.9" stroke-linecap="butt"/>
<line x1="55.40" y1="338.80" x2="55.40" y2="383.40" stroke="#222" stroke-width="0.55" stroke-linecap="butt" stroke-dasharray="1.5 1.2"/>
<line x1="80.40" y1="338.80" x2="80.40" y2="383.40" stroke="#222" stroke-width="0.55" stroke-linecap="butt" stroke-dasharray="1.5 1.2"/>
<rect x="31.70" y="376.40" width="8.50" height="0.80" fill="none" stroke="#3568a0" stroke-width="0.7"/>
<line x1="31.70" y1="376.80" x2="40.20" y2="376.80" stroke="#3568a0" stroke-width="0.85" stroke-linecap="butt"/>
<circle cx="33.75" cy="376.40" r="0.7" fill="#3568a0"/>
<circle cx="35.55" cy="377.00" r="0.7" fill="#3568a0"/>
<circle cx="37.15" cy="376.60" r="0.7" fill="#3568a0"/>
<circle cx="38.55" cy="377.20" r="0.7" fill="#3568a0"/>
<line x1="46.90" y1="346.00" x2="46.90" y2="349.20" stroke="#b3262c" stroke-width="0.6" stroke-linecap="butt"/>
<line x1="46.90" y1="365.60" x2="46.90" y2="370.40" stroke="#b3262c" stroke-width="0.6" stroke-linecap="butt"/>
<rect x="42.30" y="349.20" width="9.20" height="16.40" fill="#fff" stroke="#b3262c" stroke-width="0.7"/>
<line x1="42.30" y1="356.50" x2="51.50" y2="356.50" stroke="#b3262c" stroke-width="0.85" stroke-linecap="butt"/>
<circle cx="45.30" cy="346.40" r="0.7" fill="#b3262c"/>
<circle cx="48.50" cy="349.60" r="0.7" fill="#b3262c"/>
<circle cx="47.30" cy="358.40" r="0.7" fill="#b3262c"/>
<circle cx="46.10" cy="364.60" r="0.7" fill="#b3262c"/>
<circle cx="47.50" cy="370.20" r="0.7" fill="#b3262c"/>
<line x1="61.55" y1="371.60" x2="61.55" y2="374.80" stroke="#3568a0" stroke-width="0.6" stroke-linecap="butt"/>
<rect x="57.30" y="367.70" width="8.50" height="3.90" fill="#fff" stroke="#3568a0" stroke-width="0.7"/>
<line x1="57.30" y1="369.50" x2="65.80" y2="369.50" stroke="#3568a0" stroke-width="0.85" stroke-linecap="butt"/>
<circle cx="59.35" cy="368.40" r="0.7" fill="#3568a0"/>
<circle cx="62.75" cy="368.80" r="0.7" fill="#3568a0"/>
<circle cx="61.55" cy="370.80" r="0.7" fill="#3568a0"/>
<circle cx="61.35" cy="374.80" r="0.7" fill="#3568a0"/>
<line x1="71.90" y1="354.20" x2="71.90" y2="356.00" stroke="#b3262c" stroke-width="0.6" stroke-linecap="butt"/>
<line x1="71.90" y1="370.40" x2="71.90" y2="372.30" stroke="#b3262c" stroke-width="0.6" stroke-linecap="butt"/>
<rect x="67.30" y="356.00" width="9.20" height="14.40" fill="#fff" stroke="#b3262c" stroke-width="0.7"/>
<line x1="67.30" y1="363.80" x2="76.50" y2="363.80" stroke="#b3262c" stroke-width="0.85" stroke-linecap="butt"/>
<circle cx="69.70" cy="355.40" r="0.7" fill="#b3262c"/>
<circle cx="72.10" cy="354.60" r="0.7" fill="#b3262c"/>
<circle cx="74.10" cy="354.80" r="0.7" fill="#b3262c"/>
<circle cx="71.10" cy="358.40" r="0.7" fill="#b3262c"/>
<circle cx="73.50" cy="360.00" r="0.7" fill="#b3262c"/>
<circle cx="69.30" cy="368.80" r="0.7" fill="#b3262c"/>
<circle cx="70.70" cy="370.60" r="0.7" fill="#b3262c"/>
<circle cx="72.30" cy="371.40" r="0.7" fill="#b3262c"/>
<circle cx="73.90" cy="370.20" r="0.7" fill="#b3262c"/>
<circle cx="74.70" cy="368.20" r="0.7" fill="#b3262c"/>
<circle cx="71.70" cy="372.20" r="0.7" fill="#b3262c"/>
<line x1="86.55" y1="344.00" x2="86.55" y2="350.80" stroke="#b3262c" stroke-width="0.6" stroke-linecap="butt"/>
<line x1="86.55" y1="357.50" x2="86.55" y2="364.60" stroke="#b3262c" stroke-width="0.6" stroke-linecap="butt"/>
<rect x="82.30" y="350.80" width="8.50" height="6.70" fill="#fff" stroke="#b3262c" stroke-width="0.7"/>
<line x1="82.30" y1="354.20" x2="90.80" y2="354.20" stroke="#b3262c" stroke-width="0.85" stroke-linecap="butt"/>
<circle cx="84.95" cy="344.20" r="0.7" fill="#b3262c"/>
<circle cx="87.95" cy="350.00" r="0.7" fill="#b3262c"/>
<circle cx="84.35" cy="352.60" r="0.7" fill="#b3262c"/>
<circle cx="86.75" cy="353.20" r="0.7" fill="#b3262c"/>
<circle cx="88.75" cy="355.40" r="0.7" fill="#b3262c"/>
<circle cx="85.75" cy="356.40" r="0.7" fill="#b3262c"/>
<circle cx="87.75" cy="358.60" r="0.7" fill="#b3262c"/>
<circle cx="86.35" cy="361.80" r="0.7" fill="#b3262c"/>
<circle cx="86.95" cy="364.60" r="0.7" fill="#b3262c"/>
<circle cx="87.05" cy="339.80" r="0.75" fill="#b3262c"/>
<text x="24.00" y="398.80" font-size="5" text-anchor="start" font-weight="normal" fill="#2b2b2b">IL-4</text>
<line x1="29.80" y1="402.30" x2="29.80" y2="447.90" stroke="#111" stroke-width="0.9" stroke-linecap="butt"/>
<line x1="27.00" y1="405.80" x2="29.80" y2="405.80" stroke="#111" stroke-width="0.65" stroke-linecap="butt"/>
<text x="25.40" y="407.64" font-size="5.1" text-anchor="end" font-weight="normal" fill="#2b2b2b">100</text>
<line x1="27.00" y1="426.00" x2="29.80" y2="426.00" stroke="#111" stroke-width="0.65" stroke-linecap="butt"/>
<text x="25.40" y="427.84" font-size="5.1" text-anchor="end" font-weight="normal" fill="#2b2b2b">10</text>
<line x1="27.00" y1="440.80" x2="29.80" y2="440.80" stroke="#111" stroke-width="0.65" stroke-linecap="butt"/>
<text x="25.40" y="442.64" font-size="5.1" text-anchor="end" font-weight="normal" fill="#2b2b2b">1</text>
<line x1="27.00" y1="447.00" x2="29.80" y2="447.00" stroke="#111" stroke-width="0.65" stroke-linecap="butt"/>
<text x="25.40" y="448.84" font-size="5.1" text-anchor="end" font-weight="normal" fill="#2b2b2b">0</text>
<line x1="29.40" y1="447.50" x2="53.00" y2="447.50" stroke="#111" stroke-width="0.9" stroke-linecap="butt"/>
<line x1="55.80" y1="447.50" x2="78.00" y2="447.50" stroke="#111" stroke-width="0.9" stroke-linecap="butt"/>
<line x1="80.80" y1="447.50" x2="93.40" y2="447.50" stroke="#111" stroke-width="0.9" stroke-linecap="butt"/>
<line x1="55.40" y1="402.80" x2="55.40" y2="448.00" stroke="#222" stroke-width="0.55" stroke-linecap="butt" stroke-dasharray="1.5 1.2"/>
<line x1="80.40" y1="402.80" x2="80.40" y2="448.00" stroke="#222" stroke-width="0.55" stroke-linecap="butt" stroke-dasharray="1.5 1.2"/>
<rect x="31.70" y="446.20" width="8.50" height="0.80" fill="none" stroke="#3568a0" stroke-width="0.7"/>
<line x1="31.70" y1="446.60" x2="40.20" y2="446.60" stroke="#3568a0" stroke-width="0.85" stroke-linecap="butt"/>
<circle cx="33.55" cy="446.00" r="0.7" fill="#3568a0"/>
<circle cx="35.35" cy="445.40" r="0.7" fill="#3568a0"/>
<circle cx="36.95" cy="446.20" r="0.7" fill="#3568a0"/>
<circle cx="38.55" cy="446.40" r="0.7" fill="#3568a0"/>
<line x1="46.90" y1="430.20" x2="46.90" y2="438.30" stroke="#b3262c" stroke-width="0.6" stroke-linecap="butt"/>
<rect x="42.30" y="438.30" width="9.20" height="8.70" fill="#fff" stroke="#b3262c" stroke-width="0.7"/>
<line x1="42.30" y1="444.20" x2="51.50" y2="444.20" stroke="#b3262c" stroke-width="0.85" stroke-linecap="butt"/>
<circle cx="45.60" cy="430.20" r="0.7" fill="#b3262c"/>
<circle cx="48.00" cy="441.20" r="0.7" fill="#b3262c"/>
<circle cx="47.10" cy="446.60" r="0.7" fill="#b3262c"/>
<circle cx="45.30" cy="446.80" r="0.7" fill="#b3262c"/>
<rect x="57.30" y="445.20" width="8.50" height="1.00" fill="none" stroke="#3568a0" stroke-width="0.7"/>
<line x1="57.30" y1="445.70" x2="65.80" y2="445.70" stroke="#3568a0" stroke-width="0.85" stroke-linecap="butt"/>
<circle cx="59.35" cy="445.40" r="0.7" fill="#3568a0"/>
<circle cx="61.15" cy="444.80" r="0.7" fill="#3568a0"/>
<circle cx="62.95" cy="445.60" r="0.7" fill="#3568a0"/>
<circle cx="64.35" cy="445.80" r="0.7" fill="#3568a0"/>
<line x1="71.90" y1="428.80" x2="71.90" y2="435.40" stroke="#b3262c" stroke-width="0.6" stroke-linecap="butt"/>
<rect x="67.30" y="435.40" width="9.20" height="11.60" fill="#fff" stroke="#b3262c" stroke-width="0.7"/>
<line x1="67.30" y1="444.20" x2="76.50" y2="444.20" stroke="#b3262c" stroke-width="0.85" stroke-linecap="butt"/>
<circle cx="72.10" cy="428.80" r="0.7" fill="#b3262c"/>
<circle cx="71.30" cy="433.60" r="0.7" fill="#b3262c"/>
<circle cx="73.10" cy="438.20" r="0.7" fill="#b3262c"/>
<circle cx="72.30" cy="441.60" r="0.7" fill="#b3262c"/>
<circle cx="69.90" cy="445.60" r="0.7" fill="#b3262c"/>
<circle cx="71.50" cy="446.20" r="0.7" fill="#b3262c"/>
<circle cx="73.30" cy="446.40" r="0.7" fill="#b3262c"/>
<circle cx="74.50" cy="445.80" r="0.7" fill="#b3262c"/>
<circle cx="69.10" cy="446.60" r="0.7" fill="#b3262c"/>
<circle cx="72.70" cy="447.00" r="0.7" fill="#b3262c"/>
<circle cx="72.70" cy="404.80" r="0.75" fill="#b3262c"/>
<rect x="82.30" y="426.30" width="8.50" height="20.70" fill="#fff" stroke="#b3262c" stroke-width="0.7"/>
<line x1="82.30" y1="445.00" x2="90.80" y2="445.00" stroke="#b3262c" stroke-width="0.85" stroke-linecap="butt"/>
<circle cx="86.75" cy="420.60" r="0.7" fill="#b3262c"/>
<circle cx="87.95" cy="422.50" r="0.7" fill="#b3262c"/>
<circle cx="85.35" cy="423.60" r="0.7" fill="#b3262c"/>
<circle cx="87.15" cy="424.60" r="0.7" fill="#b3262c"/>
<circle cx="87.35" cy="429.40" r="0.7" fill="#b3262c"/>
<circle cx="84.55" cy="445.60" r="0.7" fill="#b3262c"/>
<circle cx="86.35" cy="446.20" r="0.7" fill="#b3262c"/>
<circle cx="88.15" cy="445.80" r="0.7" fill="#b3262c"/>
<circle cx="89.35" cy="446.60" r="0.7" fill="#b3262c"/>
<text x="24.00" y="460.80" font-size="5" text-anchor="start" font-weight="normal" fill="#2b2b2b">IL-6</text>
<line x1="29.80" y1="466.30" x2="29.80" y2="512.90" stroke="#111" stroke-width="0.9" stroke-linecap="butt"/>
<line x1="27.00" y1="468.70" x2="29.80" y2="468.70" stroke="#111" stroke-width="0.65" stroke-linecap="butt"/>
<text x="25.40" y="470.54" font-size="5.1" text-anchor="end" font-weight="normal" fill="#2b2b2b">1000</text>
<line x1="27.00" y1="483.00" x2="29.80" y2="483.00" stroke="#111" stroke-width="0.65" stroke-linecap="butt"/>
<text x="25.40" y="484.84" font-size="5.1" text-anchor="end" font-weight="normal" fill="#2b2b2b">100</text>
<line x1="27.00" y1="496.70" x2="29.80" y2="496.70" stroke="#111" stroke-width="0.65" stroke-linecap="butt"/>
<text x="25.40" y="498.54" font-size="5.1" text-anchor="end" font-weight="normal" fill="#2b2b2b">10</text>
<line x1="27.00" y1="507.00" x2="29.80" y2="507.00" stroke="#111" stroke-width="0.65" stroke-linecap="butt"/>
<text x="25.40" y="508.84" font-size="5.1" text-anchor="end" font-weight="normal" fill="#2b2b2b">1</text>
<line x1="27.00" y1="512.00" x2="29.80" y2="512.00" stroke="#111" stroke-width="0.65" stroke-linecap="butt"/>
<text x="25.40" y="513.84" font-size="5.1" text-anchor="end" font-weight="normal" fill="#2b2b2b">0</text>
<line x1="29.40" y1="512.50" x2="53.00" y2="512.50" stroke="#111" stroke-width="0.9" stroke-linecap="butt"/>
<line x1="55.80" y1="512.50" x2="78.00" y2="512.50" stroke="#111" stroke-width="0.9" stroke-linecap="butt"/>
<line x1="80.80" y1="512.50" x2="93.40" y2="512.50" stroke="#111" stroke-width="0.9" stroke-linecap="butt"/>
<line x1="55.40" y1="466.80" x2="55.40" y2="513.00" stroke="#222" stroke-width="0.55" stroke-linecap="butt" stroke-dasharray="1.5 1.2"/>
<line x1="80.40" y1="466.80" x2="80.40" y2="513.00" stroke="#222" stroke-width="0.55" stroke-linecap="butt" stroke-dasharray="1.5 1.2"/>
<rect x="31.70" y="469.20" width="8.50" height="8.10" fill="#fff" stroke="#3568a0" stroke-width="0.7"/>
<line x1="31.70" y1="473.50" x2="40.20" y2="473.50" stroke="#3568a0" stroke-width="0.85" stroke-linecap="butt"/>
<circle cx="33.75" cy="469.40" r="0.7" fill="#3568a0"/>
<circle cx="38.15" cy="470.00" r="0.7" fill="#3568a0"/>
<circle cx="37.15" cy="477.00" r="0.7" fill="#3568a0"/>
<circle cx="34.35" cy="478.00" r="0.7" fill="#3568a0"/>
<line x1="46.90" y1="485.60" x2="46.90" y2="489.80" stroke="#b3262c" stroke-width="0.6" stroke-linecap="butt"/>
<line x1="46.90" y1="495.60" x2="46.90" y2="500.40" stroke="#b3262c" stroke-width="0.6" stroke-linecap="butt"/>
<rect x="42.30" y="489.80" width="9.20" height="5.80" fill="#fff" stroke="#b3262c" stroke-width="0.7"/>
<line x1="42.30" y1="492.70" x2="51.50" y2="492.70" stroke="#b3262c" stroke-width="0.85" stroke-linecap="butt"/>
<circle cx="46.10" cy="484.00" r="0.7" fill="#b3262c"/>
<circle cx="48.10" cy="490.60" r="0.7" fill="#b3262c"/>
<circle cx="45.30" cy="492.00" r="0.7" fill="#b3262c"/>
<circle cx="47.30" cy="494.00" r="0.7" fill="#b3262c"/>
<circle cx="46.90" cy="501.40" r="0.7" fill="#b3262c"/>
<line x1="61.55" y1="474.60" x2="61.55" y2="477.30" stroke="#3568a0" stroke-width="0.6" stroke-linecap="butt"/>
<rect x="57.30" y="477.30" width="8.50" height="5.70" fill="#fff" stroke="#3568a0" stroke-width="0.7"/>
<line x1="57.30" y1="479.80" x2="65.80" y2="479.80" stroke="#3568a0" stroke-width="0.85" stroke-linecap="butt"/>
<circle cx="60.15" cy="474.60" r="0.7" fill="#3568a0"/>
<circle cx="62.55" cy="476.60" r="0.7" fill="#3568a0"/>
<circle cx="61.15" cy="484.40" r="0.7" fill="#3568a0"/>
<circle cx="63.15" cy="482.40" r="0.7" fill="#3568a0"/>
<line x1="71.90" y1="489.40" x2="71.90" y2="491.70" stroke="#b3262c" stroke-width="0.6" stroke-linecap="butt"/>
<line x1="71.90" y1="496.70" x2="71.90" y2="500.40" stroke="#b3262c" stroke-width="0.6" stroke-linecap="butt"/>
<rect x="67.30" y="491.70" width="9.20" height="5.00" fill="#fff" stroke="#b3262c" stroke-width="0.7"/>
<line x1="67.30" y1="494.60" x2="76.50" y2="494.60" stroke="#b3262c" stroke-width="0.85" stroke-linecap="butt"/>
<circle cx="69.70" cy="490.20" r="0.7" fill="#b3262c"/>
<circle cx="72.10" cy="489.60" r="0.7" fill="#b3262c"/>
<circle cx="74.10" cy="490.80" r="0.7" fill="#b3262c"/>
<circle cx="70.90" cy="492.60" r="0.7" fill="#b3262c"/>
<circle cx="73.30" cy="493.40" r="0.7" fill="#b3262c"/>
<circle cx="69.50" cy="495.60" r="0.7" fill="#b3262c"/>
<circle cx="72.50" cy="496.20" r="0.7" fill="#b3262c"/>
<circle cx="74.30" cy="495.40" r="0.7" fill="#b3262c"/>
<circle cx="71.30" cy="498.40" r="0.7" fill="#b3262c"/>
<circle cx="72.30" cy="500.80" r="0.7" fill="#b3262c"/>
<circle cx="72.70" cy="478.30" r="0.75" fill="#b3262c"/>
<line x1="86.55" y1="481.70" x2="86.55" y2="488.50" stroke="#b3262c" stroke-width="0.6" stroke-linecap="butt"/>
<line x1="86.55" y1="501.50" x2="86.55" y2="512.00" stroke="#b3262c" stroke-width="0.6" stroke-linecap="butt"/>
<rect x="82.30" y="488.50" width="8.50" height="13.00" fill="#fff" stroke="#b3262c" stroke-width="0.7"/>
<line x1="82.30" y1="495.20" x2="90.80" y2="495.20" stroke="#b3262c" stroke-width="0.85" stroke-linecap="butt"/>
<circle cx="85.95" cy="483.60" r="0.7" fill="#b3262c"/>
<circle cx="87.75" cy="482.40" r="0.7" fill="#b3262c"/>
<circle cx="88.15" cy="486.20" r="0.7" fill="#b3262c"/>
<circle cx="85.35" cy="489.40" r="0.7" fill="#b3262c"/>
<circle cx="86.95" cy="491.00" r="0.7" fill="#b3262c"/>
<circle cx="87.95" cy="497.40" r="0.7" fill="#b3262c"/>
<circle cx="84.75" cy="499.60" r="0.7" fill="#b3262c"/>
<circle cx="86.75" cy="500.80" r="0.7" fill="#b3262c"/>
<text x="35.60" y="523.62" font-size="5.9" text-anchor="middle" font-weight="normal" fill="#2b2b2b">HC</text>
<text x="47.10" y="523.62" font-size="5.9" text-anchor="middle" font-weight="normal" fill="#2b2b2b">MF</text>
<text x="61.50" y="523.62" font-size="5.9" text-anchor="middle" font-weight="normal" fill="#2b2b2b">HC</text>
<text x="71.50" y="523.62" font-size="5.9" text-anchor="middle" font-weight="normal" fill="#2b2b2b">MF</text>
<text x="86.50" y="523.62" font-size="5.9" text-anchor="middle" font-weight="normal" fill="#2b2b2b">MF</text>
<line x1="36.00" y1="512.50" x2="36.00" y2="514.40" stroke="#111" stroke-width="0.6" stroke-linecap="butt"/>
<line x1="46.90" y1="512.50" x2="46.90" y2="514.40" stroke="#111" stroke-width="0.6" stroke-linecap="butt"/>
<line x1="61.50" y1="512.50" x2="61.50" y2="514.40" stroke="#111" stroke-width="0.6" stroke-linecap="butt"/>
<line x1="71.90" y1="512.50" x2="71.90" y2="514.40" stroke="#111" stroke-width="0.6" stroke-linecap="butt"/>
<line x1="86.50" y1="512.50" x2="86.50" y2="514.40" stroke="#111" stroke-width="0.6" stroke-linecap="butt"/>
<text x="0.00" y="1.98" font-size="5.5" text-anchor="end" font-weight="normal" fill="#2b2b2b" transform="translate(39.60,528.20) rotate(-45)">Gaydosik</text>
<text x="0.00" y="1.98" font-size="5.5" text-anchor="end" font-weight="normal" fill="#2b2b2b" transform="translate(45.60,532.60) rotate(-45)">et al.</text>
<text x="0.00" y="1.98" font-size="5.5" text-anchor="end" font-weight="normal" fill="#2b2b2b" transform="translate(65.20,528.20) rotate(-45)">Rindler</text>
<text x="0.00" y="1.98" font-size="5.5" text-anchor="end" font-weight="normal" fill="#2b2b2b" transform="translate(69.80,532.60) rotate(-45)">et al.</text>
<text x="0.00" y="1.98" font-size="5.5" text-anchor="end" font-weight="normal" fill="#2b2b2b" transform="translate(85.80,528.20) rotate(-45)">Song</text>
<text x="0.00" y="1.98" font-size="5.5" text-anchor="end" font-weight="normal" fill="#2b2b2b" transform="translate(90.40,533.40) rotate(-45)">et al.</text>
</g>
<g id="panelE">
<text x="182.00" y="188.87" font-size="10.2" text-anchor="start" font-weight="bold" fill="#000">E</text>
<text x="232.70" y="195.62" font-size="5.6" text-anchor="middle" fill="#2b2b2b" textLength="54.0" lengthAdjust="spacingAndGlyphs">Gaydosik <tspan font-style="italic">et al.</tspan> 2019</text>
<text x="345.00" y="195.62" font-size="5.6" text-anchor="middle" fill="#2b2b2b" textLength="69.0" lengthAdjust="spacingAndGlyphs">Rindler <tspan font-style="italic">et al.</tspan> 2021a and b</text>
<text x="474.80" y="195.62" font-size="5.6" text-anchor="middle" fill="#2b2b2b" textLength="43.7" lengthAdjust="spacingAndGlyphs">Song <tspan font-style="italic">et al.</tspan> 2022</text>
<text x="0.00" y="2.38" font-size="6.6" text-anchor="middle" font-weight="normal" fill="#333" transform="translate(185.00,401.00) rotate(-90)" textLength="76.00" lengthAdjust="spacingAndGlyphs">Transcripts per million (tpm)</text>
<rect x="205.20" y="207.00" width="27.45" height="46.90" fill="#efefef"/>
<line x1="232.45" y1="207.00" x2="232.45" y2="254.30" stroke="#aaaaaa" stroke-width="0.5" stroke-linecap="butt"/>
<line x1="204.80" y1="206.60" x2="204.80" y2="254.70" stroke="#111" stroke-width="0.85" stroke-linecap="butt"/>
<line x1="201.70" y1="254.30" x2="204.80" y2="254.30" stroke="#111" stroke-width="0.65" stroke-linecap="butt"/>
<text x="199.20" y="256.14" font-size="5.1" text-anchor="end" font-weight="normal" fill="#333">0</text>
<line x1="201.70" y1="241.35" x2="204.80" y2="241.35" stroke="#111" stroke-width="0.65" stroke-linecap="butt"/>
<text x="199.20" y="243.19" font-size="5.1" text-anchor="end" font-weight="normal" fill="#333">5</text>
<line x1="201.70" y1="228.40" x2="204.80" y2="228.40" stroke="#111" stroke-width="0.65" stroke-linecap="butt"/>
<text x="199.20" y="230.24" font-size="5.1" text-anchor="end" font-weight="normal" fill="#333">10</text>
<line x1="201.70" y1="215.45" x2="204.80" y2="215.45" stroke="#111" stroke-width="0.65" stroke-linecap="butt"/>
<text x="199.20" y="217.29" font-size="5.1" text-anchor="end" font-weight="normal" fill="#333">15</text>
<rect x="212.15" y="247.05" width="5.50" height="7.25" fill="#3a7ebd" stroke="#222" stroke-width="0.25" stroke-opacity="0.55"/>
<rect x="232.85" y="251.71" width="5.50" height="2.59" fill="#3a7ebd" stroke="#222" stroke-width="0.25" stroke-opacity="0.55"/>
<rect x="246.65" y="245.24" width="5.50" height="9.06" fill="#8fce87" stroke="#222" stroke-width="0.25" stroke-opacity="0.55"/>
<rect x="246.65" y="244.46" width="5.50" height="0.78" fill="#2a2a2a" stroke="#222" stroke-width="0.25" stroke-opacity="0.55"/>
<rect x="253.55" y="251.71" width="5.50" height="2.59" fill="#3b4a6b" stroke="#222" stroke-width="0.25" stroke-opacity="0.55"/>
<rect x="253.55" y="208.98" width="5.50" height="42.73" fill="#d7191f" stroke="#222" stroke-width="0.25" stroke-opacity="0.55"/>
<line x1="204.40" y1="254.30" x2="259.60" y2="254.30" stroke="#111" stroke-width="0.8" stroke-linecap="butt"/>
<line x1="208.00" y1="254.30" x2="208.00" y2="256.70" stroke="#111" stroke-width="0.55" stroke-linecap="butt"/>
<line x1="214.90" y1="254.30" x2="214.90" y2="256.70" stroke="#111" stroke-width="0.55" stroke-linecap="butt"/>
<line x1="221.80" y1="254.30" x2="221.80" y2="256.70" stroke="#111" stroke-width="0.55" stroke-linecap="butt"/>
<line x1="228.70" y1="254.30" x2="228.70" y2="256.70" stroke="#111" stroke-width="0.55" stroke-linecap="butt"/>
<line x1="235.60" y1="254.30" x2="235.60" y2="256.70" stroke="#111" stroke-width="0.55" stroke-linecap="butt"/>
<line x1="242.50" y1="254.30" x2="242.50" y2="256.70" stroke="#111" stroke-width="0.55" stroke-linecap="butt"/>
<line x1="249.40" y1="254.30" x2="249.40" y2="256.70" stroke="#111" stroke-width="0.55" stroke-linecap="butt"/>
<line x1="256.30" y1="254.30" x2="256.30" y2="256.70" stroke="#111" stroke-width="0.55" stroke-linecap="butt"/>
<text x="193.20" y="204.53" font-size="4.8" text-anchor="start" font-weight="normal" fill="#2b2b2b">IL-13</text>
<rect x="205.20" y="271.60" width="27.45" height="46.80" fill="#efefef"/>
<line x1="232.45" y1="271.60" x2="232.45" y2="318.80" stroke="#aaaaaa" stroke-width="0.5" stroke-linecap="butt"/>
<line x1="204.80" y1="271.20" x2="204.80" y2="319.20" stroke="#111" stroke-width="0.85" stroke-linecap="butt"/>
<line x1="201.70" y1="318.80" x2="204.80" y2="318.80" stroke="#111" stroke-width="0.65" stroke-linecap="butt"/>
<text x="199.20" y="320.64" font-size="5.1" text-anchor="end" font-weight="normal" fill="#333">0</text>
<line x1="201.70" y1="306.89" x2="204.80" y2="306.89" stroke="#111" stroke-width="0.65" stroke-linecap="butt"/>
<text x="199.20" y="308.73" font-size="5.1" text-anchor="end" font-weight="normal" fill="#333">3</text>
<line x1="201.70" y1="294.98" x2="204.80" y2="294.98" stroke="#111" stroke-width="0.65" stroke-linecap="butt"/>
<text x="199.20" y="296.82" font-size="5.1" text-anchor="end" font-weight="normal" fill="#333">6</text>
<line x1="201.70" y1="283.07" x2="204.80" y2="283.07" stroke="#111" stroke-width="0.65" stroke-linecap="butt"/>
<text x="199.20" y="284.91" font-size="5.1" text-anchor="end" font-weight="normal" fill="#333">9</text>
<rect x="232.85" y="303.32" width="5.50" height="15.48" fill="#3a7ebd" stroke="#222" stroke-width="0.25" stroke-opacity="0.55"/>
<rect x="239.75" y="318.32" width="5.50" height="0.48" fill="#2a2a2a" stroke="#222" stroke-width="0.25" stroke-opacity="0.55"/>
<rect x="246.65" y="318.32" width="5.50" height="0.48" fill="#2a2a2a" stroke="#222" stroke-width="0.25" stroke-opacity="0.55"/>
<rect x="253.55" y="317.61" width="5.50" height="1.19" fill="#2a2a2a" stroke="#222" stroke-width="0.25" stroke-opacity="0.55"/>
<rect x="253.55" y="310.86" width="5.50" height="6.75" fill="#3a7ebd" stroke="#222" stroke-width="0.25" stroke-opacity="0.55"/>
<rect x="253.55" y="273.14" width="5.50" height="37.72" fill="#d7191f" stroke="#222" stroke-width="0.25" stroke-opacity="0.55"/>
<line x1="204.40" y1="318.80" x2="259.60" y2="318.80" stroke="#111" stroke-width="0.8" stroke-linecap="butt"/>
<line x1="208.00" y1="318.80" x2="208.00" y2="321.20" stroke="#111" stroke-width="0.55" stroke-linecap="butt"/>
<line x1="214.90" y1="318.80" x2="214.90" y2="321.20" stroke="#111" stroke-width="0.55" stroke-linecap="butt"/>
<line x1="221.80" y1="318.80" x2="221.80" y2="321.20" stroke="#111" stroke-width="0.55" stroke-linecap="butt"/>
<line x1="228.70" y1="318.80" x2="228.70" y2="321.20" stroke="#111" stroke-width="0.55" stroke-linecap="butt"/>
<line x1="235.60" y1="318.80" x2="235.60" y2="321.20" stroke="#111" stroke-width="0.55" stroke-linecap="butt"/>
<line x1="242.50" y1="318.80" x2="242.50" y2="321.20" stroke="#111" stroke-width="0.55" stroke-linecap="butt"/>
<line x1="249.40" y1="318.80" x2="249.40" y2="321.20" stroke="#111" stroke-width="0.55" stroke-linecap="butt"/>
<line x1="256.30" y1="318.80" x2="256.30" y2="321.20" stroke="#111" stroke-width="0.55" stroke-linecap="butt"/>
<text x="193.20" y="268.53" font-size="4.8" text-anchor="start" font-weight="normal" fill="#2b2b2b">IL-22</text>
<rect x="205.20" y="336.10" width="27.45" height="46.90" fill="#efefef"/>
<line x1="232.45" y1="336.10" x2="232.45" y2="383.40" stroke="#aaaaaa" stroke-width="0.5" stroke-linecap="butt"/>
<line x1="204.80" y1="335.70" x2="204.80" y2="383.80" stroke="#111" stroke-width="0.85" stroke-linecap="butt"/>
<line x1="201.70" y1="383.40" x2="204.80" y2="383.40" stroke="#111" stroke-width="0.65" stroke-linecap="butt"/>
<text x="199.20" y="385.24" font-size="5.1" text-anchor="end" font-weight="normal" fill="#333">0</text>
<line x1="201.70" y1="373.60" x2="204.80" y2="373.60" stroke="#111" stroke-width="0.65" stroke-linecap="butt"/>
<text x="199.20" y="375.44" font-size="5.1" text-anchor="end" font-weight="normal" fill="#333">10</text>
<line x1="201.70" y1="363.80" x2="204.80" y2="363.80" stroke="#111" stroke-width="0.65" stroke-linecap="butt"/>
<text x="199.20" y="365.64" font-size="5.1" text-anchor="end" font-weight="normal" fill="#333">20</text>
<line x1="201.70" y1="354.00" x2="204.80" y2="354.00" stroke="#111" stroke-width="0.65" stroke-linecap="butt"/>
<text x="199.20" y="355.84" font-size="5.1" text-anchor="end" font-weight="normal" fill="#333">30</text>
<line x1="201.70" y1="344.20" x2="204.80" y2="344.20" stroke="#111" stroke-width="0.65" stroke-linecap="butt"/>
<text x="199.20" y="346.04" font-size="5.1" text-anchor="end" font-weight="normal" fill="#333">40</text>
<rect x="205.25" y="382.71" width="5.50" height="0.69" fill="#2a2a2a" stroke="#222" stroke-width="0.25" stroke-opacity="0.55"/>
<rect x="212.15" y="382.52" width="5.50" height="0.88" fill="#2a2a2a" stroke="#222" stroke-width="0.25" stroke-opacity="0.55"/>
<rect x="219.05" y="382.71" width="5.50" height="0.69" fill="#2a2a2a" stroke="#222" stroke-width="0.25" stroke-opacity="0.55"/>
<rect x="225.95" y="382.81" width="5.50" height="0.59" fill="#2a2a2a" stroke="#222" stroke-width="0.25" stroke-opacity="0.55"/>
<rect x="232.85" y="382.22" width="5.50" height="1.18" fill="#2a2a2a" stroke="#222" stroke-width="0.25" stroke-opacity="0.55"/>
<rect x="232.85" y="380.85" width="5.50" height="1.37" fill="#9c5327" stroke="#222" stroke-width="0.25" stroke-opacity="0.55"/>
<rect x="239.75" y="381.93" width="5.50" height="1.47" fill="#5a3a2a" stroke="#222" stroke-width="0.25" stroke-opacity="0.55"/>
<rect x="239.75" y="337.83" width="5.50" height="44.10" fill="#d7191f" stroke="#222" stroke-width="0.25" stroke-opacity="0.55"/>
<rect x="246.65" y="368.21" width="5.50" height="15.19" fill="#8fce87" stroke="#222" stroke-width="0.25" stroke-opacity="0.55"/>
<rect x="246.65" y="365.76" width="5.50" height="2.45" fill="#3f8f3f" stroke="#222" stroke-width="0.25" stroke-opacity="0.55"/>
<rect x="246.65" y="362.33" width="5.50" height="3.43" fill="#3a7ebd" stroke="#222" stroke-width="0.25" stroke-opacity="0.55"/>
<rect x="246.65" y="360.86" width="5.50" height="1.47" fill="#8e3a5a" stroke="#222" stroke-width="0.25" stroke-opacity="0.55"/>
<rect x="246.65" y="352.04" width="5.50" height="8.82" fill="#d7191f" stroke="#222" stroke-width="0.25" stroke-opacity="0.55"/>
<rect x="253.55" y="380.46" width="5.50" height="2.94" fill="#8fce87" stroke="#222" stroke-width="0.25" stroke-opacity="0.55"/>
<rect x="253.55" y="379.87" width="5.50" height="0.59" fill="#2a2a2a" stroke="#222" stroke-width="0.25" stroke-opacity="0.55"/>
<rect x="253.55" y="377.03" width="5.50" height="2.84" fill="#9c5327" stroke="#222" stroke-width="0.25" stroke-opacity="0.55"/>
<line x1="204.40" y1="383.40" x2="259.60" y2="383.40" stroke="#111" stroke-width="0.8" stroke-linecap="butt"/>
<line x1="208.00" y1="383.40" x2="208.00" y2="385.80" stroke="#111" stroke-width="0.55" stroke-linecap="butt"/>
<line x1="214.90" y1="383.40" x2="214.90" y2="385.80" stroke="#111" stroke-width="0.55" stroke-linecap="butt"/>
<line x1="221.80" y1="383.40" x2="221.80" y2="385.80" stroke="#111" stroke-width="0.55" stroke-linecap="butt"/>
<line x1="228.70" y1="383.40" x2="228.70" y2="385.80" stroke="#111" stroke-width="0.55" stroke-linecap="butt"/>
<line x1="235.60" y1="383.40" x2="235.60" y2="385.80" stroke="#111" stroke-width="0.55" stroke-linecap="butt"/>
<line x1="242.50" y1="383.40" x2="242.50" y2="385.80" stroke="#111" stroke-width="0.55" stroke-linecap="butt"/>
<line x1="249.40" y1="383.40" x2="249.40" y2="385.80" stroke="#111" stroke-width="0.55" stroke-linecap="butt"/>
<line x1="256.30" y1="383.40" x2="256.30" y2="385.80" stroke="#111" stroke-width="0.55" stroke-linecap="butt"/>
<text x="193.20" y="333.33" font-size="4.8" text-anchor="start" font-weight="normal" fill="#2b2b2b">OSM</text>
<rect x="205.20" y="400.60" width="27.45" height="46.40" fill="#efefef"/>
<line x1="232.45" y1="400.60" x2="232.45" y2="447.40" stroke="#aaaaaa" stroke-width="0.5" stroke-linecap="butt"/>
<line x1="204.80" y1="400.20" x2="204.80" y2="447.80" stroke="#111" stroke-width="0.85" stroke-linecap="butt"/>
<line x1="201.70" y1="447.40" x2="204.80" y2="447.40" stroke="#111" stroke-width="0.65" stroke-linecap="butt"/>
<text x="199.20" y="449.24" font-size="5.1" text-anchor="end" font-weight="normal" fill="#333">0</text>
<line x1="201.70" y1="432.50" x2="204.80" y2="432.50" stroke="#111" stroke-width="0.65" stroke-linecap="butt"/>
<text x="199.20" y="434.34" font-size="5.1" text-anchor="end" font-weight="normal" fill="#333">2</text>
<line x1="201.70" y1="417.60" x2="204.80" y2="417.60" stroke="#111" stroke-width="0.65" stroke-linecap="butt"/>
<text x="199.20" y="419.44" font-size="5.1" text-anchor="end" font-weight="normal" fill="#333">4</text>
<line x1="201.70" y1="402.70" x2="204.80" y2="402.70" stroke="#111" stroke-width="0.65" stroke-linecap="butt"/>
<text x="199.20" y="404.54" font-size="5.1" text-anchor="end" font-weight="normal" fill="#333">6</text>
<rect x="212.15" y="446.51" width="5.50" height="0.89" fill="#2a2a2a" stroke="#222" stroke-width="0.25" stroke-opacity="0.55"/>
<rect x="225.95" y="446.95" width="5.50" height="0.45" fill="#2a2a2a" stroke="#222" stroke-width="0.25" stroke-opacity="0.55"/>
<rect x="246.65" y="409.40" width="5.50" height="37.99" fill="#8fce87" stroke="#222" stroke-width="0.25" stroke-opacity="0.55"/>
<rect x="246.65" y="406.42" width="5.50" height="2.98" fill="#3a7ebd" stroke="#222" stroke-width="0.25" stroke-opacity="0.55"/>
<rect x="246.65" y="402.33" width="5.50" height="4.10" fill="#d7191f" stroke="#222" stroke-width="0.25" stroke-opacity="0.55"/>
<rect x="253.55" y="445.91" width="5.50" height="1.49" fill="#2a2a2a" stroke="#222" stroke-width="0.25" stroke-opacity="0.55"/>
<rect x="253.55" y="441.07" width="5.50" height="4.84" fill="#d7191f" stroke="#222" stroke-width="0.25" stroke-opacity="0.55"/>
<line x1="204.40" y1="447.40" x2="259.60" y2="447.40" stroke="#111" stroke-width="0.8" stroke-linecap="butt"/>
<line x1="208.00" y1="447.40" x2="208.00" y2="449.80" stroke="#111" stroke-width="0.55" stroke-linecap="butt"/>
<line x1="214.90" y1="447.40" x2="214.90" y2="449.80" stroke="#111" stroke-width="0.55" stroke-linecap="butt"/>
<line x1="221.80" y1="447.40" x2="221.80" y2="449.80" stroke="#111" stroke-width="0.55" stroke-linecap="butt"/>
<line x1="228.70" y1="447.40" x2="228.70" y2="449.80" stroke="#111" stroke-width="0.55" stroke-linecap="butt"/>
<line x1="235.60" y1="447.40" x2="235.60" y2="449.80" stroke="#111" stroke-width="0.55" stroke-linecap="butt"/>
<line x1="242.50" y1="447.40" x2="242.50" y2="449.80" stroke="#111" stroke-width="0.55" stroke-linecap="butt"/>
<line x1="249.40" y1="447.40" x2="249.40" y2="449.80" stroke="#111" stroke-width="0.55" stroke-linecap="butt"/>
<line x1="256.30" y1="447.40" x2="256.30" y2="449.80" stroke="#111" stroke-width="0.55" stroke-linecap="butt"/>
<text x="193.20" y="397.13" font-size="4.8" text-anchor="start" font-weight="normal" fill="#2b2b2b">IL-4</text>
<rect x="205.20" y="464.70" width="27.45" height="46.90" fill="#efefef"/>
<line x1="232.45" y1="464.70" x2="232.45" y2="512.00" stroke="#aaaaaa" stroke-width="0.5" stroke-linecap="butt"/>
<line x1="204.80" y1="464.30" x2="204.80" y2="512.40" stroke="#111" stroke-width="0.85" stroke-linecap="butt"/>
<line x1="201.70" y1="512.00" x2="204.80" y2="512.00" stroke="#111" stroke-width="0.65" stroke-linecap="butt"/>
<text x="199.20" y="513.84" font-size="5.1" text-anchor="end" font-weight="normal" fill="#333">0</text>
<line x1="201.70" y1="499.68" x2="204.80" y2="499.68" stroke="#111" stroke-width="0.65" stroke-linecap="butt"/>
<text x="199.20" y="501.51" font-size="5.1" text-anchor="end" font-weight="normal" fill="#333">250</text>
<line x1="201.70" y1="487.35" x2="204.80" y2="487.35" stroke="#111" stroke-width="0.65" stroke-linecap="butt"/>
<text x="199.20" y="489.19" font-size="5.1" text-anchor="end" font-weight="normal" fill="#333">500</text>
<line x1="201.70" y1="475.02" x2="204.80" y2="475.02" stroke="#111" stroke-width="0.65" stroke-linecap="butt"/>
<text x="199.20" y="476.86" font-size="5.1" text-anchor="end" font-weight="normal" fill="#333">750</text>
<rect x="205.00" y="505.69" width="6.00" height="6.31" fill="#f29bc9" stroke="#222" stroke-width="0.25" stroke-opacity="0.55"/>
<rect x="205.00" y="501.40" width="6.00" height="4.29" fill="#9c5327" stroke="#222" stroke-width="0.25" stroke-opacity="0.55"/>
<rect x="205.00" y="500.56" width="6.00" height="0.84" fill="#6b3a1f" stroke="#222" stroke-width="0.25" stroke-opacity="0.55"/>
<rect x="211.90" y="505.59" width="6.00" height="6.41" fill="#f29bc9" stroke="#222" stroke-width="0.25" stroke-opacity="0.55"/>
<rect x="211.90" y="499.08" width="6.00" height="6.51" fill="#9c5327" stroke="#222" stroke-width="0.25" stroke-opacity="0.55"/>
<rect x="211.90" y="498.44" width="6.00" height="0.64" fill="#6b3a1f" stroke="#222" stroke-width="0.25" stroke-opacity="0.55"/>
<rect x="218.80" y="484.64" width="6.00" height="27.36" fill="#f29bc9" stroke="#222" stroke-width="0.25" stroke-opacity="0.55"/>
<rect x="218.80" y="471.18" width="6.00" height="13.46" fill="#9c5327" stroke="#222" stroke-width="0.25" stroke-opacity="0.55"/>
<rect x="218.80" y="470.34" width="6.00" height="0.84" fill="#6b3a1f" stroke="#222" stroke-width="0.25" stroke-opacity="0.55"/>
<rect x="225.70" y="490.06" width="6.00" height="21.94" fill="#f29bc9" stroke="#222" stroke-width="0.25" stroke-opacity="0.55"/>
<rect x="225.70" y="466.89" width="6.00" height="23.17" fill="#9c5327" stroke="#222" stroke-width="0.25" stroke-opacity="0.55"/>
<rect x="225.70" y="466.05" width="6.00" height="0.84" fill="#6b3a1f" stroke="#222" stroke-width="0.25" stroke-opacity="0.55"/>
<rect x="239.50" y="511.31" width="6.00" height="0.69" fill="#2a2a2a" stroke="#222" stroke-width="0.25" stroke-opacity="0.55"/>
<rect x="246.40" y="510.52" width="6.00" height="1.48" fill="#2a2a2a" stroke="#222" stroke-width="0.25" stroke-opacity="0.55"/>
<rect x="246.40" y="508.55" width="6.00" height="1.97" fill="#7a8a4a" stroke="#222" stroke-width="0.25" stroke-opacity="0.55"/>
<rect x="253.30" y="510.92" width="6.00" height="1.08" fill="#2a2a2a" stroke="#222" stroke-width="0.25" stroke-opacity="0.55"/>
<line x1="204.40" y1="512.00" x2="259.60" y2="512.00" stroke="#111" stroke-width="0.8" stroke-linecap="butt"/>
<line x1="208.00" y1="512.00" x2="208.00" y2="514.40" stroke="#111" stroke-width="0.55" stroke-linecap="butt"/>
<line x1="214.90" y1="512.00" x2="214.90" y2="514.40" stroke="#111" stroke-width="0.55" stroke-linecap="butt"/>
<line x1="221.80" y1="512.00" x2="221.80" y2="514.40" stroke="#111" stroke-width="0.55" stroke-linecap="butt"/>
<line x1="228.70" y1="512.00" x2="228.70" y2="514.40" stroke="#111" stroke-width="0.55" stroke-linecap="butt"/>
<line x1="235.60" y1="512.00" x2="235.60" y2="514.40" stroke="#111" stroke-width="0.55" stroke-linecap="butt"/>
<line x1="242.50" y1="512.00" x2="242.50" y2="514.40" stroke="#111" stroke-width="0.55" stroke-linecap="butt"/>
<line x1="249.40" y1="512.00" x2="249.40" y2="514.40" stroke="#111" stroke-width="0.55" stroke-linecap="butt"/>
<line x1="256.30" y1="512.00" x2="256.30" y2="514.40" stroke="#111" stroke-width="0.55" stroke-linecap="butt"/>
<text x="193.20" y="461.33" font-size="4.8" text-anchor="start" font-weight="normal" fill="#2b2b2b">IL-6</text>
<rect x="205.20" y="529.80" width="27.45" height="49.50" fill="#efefef"/>
<line x1="232.45" y1="529.80" x2="232.45" y2="579.70" stroke="#aaaaaa" stroke-width="0.5" stroke-linecap="butt"/>
<line x1="204.80" y1="529.40" x2="204.80" y2="580.10" stroke="#111" stroke-width="0.85" stroke-linecap="butt"/>
<line x1="201.70" y1="579.70" x2="204.80" y2="579.70" stroke="#111" stroke-width="0.65" stroke-linecap="butt"/>
<text x="199.20" y="581.54" font-size="5.1" text-anchor="end" font-weight="normal" fill="#333">0</text>
<line x1="201.70" y1="569.65" x2="204.80" y2="569.65" stroke="#111" stroke-width="0.65" stroke-linecap="butt"/>
<text x="199.20" y="571.49" font-size="5.1" text-anchor="end" font-weight="normal" fill="#333">5</text>
<line x1="201.70" y1="559.60" x2="204.80" y2="559.60" stroke="#111" stroke-width="0.65" stroke-linecap="butt"/>
<text x="199.20" y="561.44" font-size="5.1" text-anchor="end" font-weight="normal" fill="#333">10</text>
<line x1="201.70" y1="549.55" x2="204.80" y2="549.55" stroke="#111" stroke-width="0.65" stroke-linecap="butt"/>
<text x="199.20" y="551.39" font-size="5.1" text-anchor="end" font-weight="normal" fill="#333">15</text>
<line x1="201.70" y1="539.50" x2="204.80" y2="539.50" stroke="#111" stroke-width="0.65" stroke-linecap="butt"/>
<text x="199.20" y="541.34" font-size="5.1" text-anchor="end" font-weight="normal" fill="#333">20</text>
<rect x="205.25" y="578.70" width="5.50" height="1.00" fill="#2a2a2a" stroke="#222" stroke-width="0.25" stroke-opacity="0.55"/>
<rect x="205.25" y="577.49" width="5.50" height="1.21" fill="#9c5327" stroke="#222" stroke-width="0.25" stroke-opacity="0.55"/>
<rect x="212.15" y="578.49" width="5.50" height="1.21" fill="#2a2a2a" stroke="#222" stroke-width="0.25" stroke-opacity="0.55"/>
<rect x="212.15" y="576.48" width="5.50" height="2.01" fill="#9c5327" stroke="#222" stroke-width="0.25" stroke-opacity="0.55"/>
<rect x="219.05" y="578.90" width="5.50" height="0.80" fill="#2a2a2a" stroke="#222" stroke-width="0.25" stroke-opacity="0.55"/>
<rect x="219.05" y="577.89" width="5.50" height="1.00" fill="#9c5327" stroke="#222" stroke-width="0.25" stroke-opacity="0.55"/>
<rect x="225.95" y="578.70" width="5.50" height="1.00" fill="#2a2a2a" stroke="#222" stroke-width="0.25" stroke-opacity="0.55"/>
<rect x="225.95" y="577.49" width="5.50" height="1.21" fill="#9c5327" stroke="#222" stroke-width="0.25" stroke-opacity="0.55"/>
<rect x="232.85" y="579.10" width="5.50" height="0.60" fill="#2a2a2a" stroke="#222" stroke-width="0.25" stroke-opacity="0.55"/>
<rect x="232.85" y="573.87" width="5.50" height="5.23" fill="#3a7ebd" stroke="#222" stroke-width="0.25" stroke-opacity="0.55"/>
<rect x="232.85" y="557.59" width="5.50" height="16.28" fill="#d7191f" stroke="#222" stroke-width="0.25" stroke-opacity="0.55"/>
<rect x="239.75" y="578.90" width="5.50" height="0.80" fill="#2a2a2a" stroke="#222" stroke-width="0.25" stroke-opacity="0.55"/>
<rect x="239.75" y="531.46" width="5.50" height="47.44" fill="#d7191f" stroke="#222" stroke-width="0.25" stroke-opacity="0.55"/>
<rect x="246.65" y="577.69" width="5.50" height="2.01" fill="#3f8f3f" stroke="#222" stroke-width="0.25" stroke-opacity="0.55"/>
<rect x="246.65" y="570.05" width="5.50" height="7.64" fill="#3a7ebd" stroke="#222" stroke-width="0.25" stroke-opacity="0.55"/>
<rect x="246.65" y="555.38" width="5.50" height="14.67" fill="#d7191f" stroke="#222" stroke-width="0.25" stroke-opacity="0.55"/>
<rect x="253.55" y="578.49" width="5.50" height="1.21" fill="#2a2a2a" stroke="#222" stroke-width="0.25" stroke-opacity="0.55"/>
<rect x="253.55" y="574.47" width="5.50" height="4.02" fill="#3a7ebd" stroke="#222" stroke-width="0.25" stroke-opacity="0.55"/>
<rect x="253.55" y="566.43" width="5.50" height="8.04" fill="#d7191f" stroke="#222" stroke-width="0.25" stroke-opacity="0.55"/>
<line x1="204.40" y1="579.70" x2="259.60" y2="579.70" stroke="#111" stroke-width="0.8" stroke-linecap="butt"/>
<line x1="208.00" y1="579.70" x2="208.00" y2="582.10" stroke="#111" stroke-width="0.55" stroke-linecap="butt"/>
<line x1="214.90" y1="579.70" x2="214.90" y2="582.10" stroke="#111" stroke-width="0.55" stroke-linecap="butt"/>
<line x1="221.80" y1="579.70" x2="221.80" y2="582.10" stroke="#111" stroke-width="0.55" stroke-linecap="butt"/>
<line x1="228.70" y1="579.70" x2="228.70" y2="582.10" stroke="#111" stroke-width="0.55" stroke-linecap="butt"/>
<line x1="235.60" y1="579.70" x2="235.60" y2="582.10" stroke="#111" stroke-width="0.55" stroke-linecap="butt"/>
<line x1="242.50" y1="579.70" x2="242.50" y2="582.10" stroke="#111" stroke-width="0.55" stroke-linecap="butt"/>
<line x1="249.40" y1="579.70" x2="249.40" y2="582.10" stroke="#111" stroke-width="0.55" stroke-linecap="butt"/>
<line x1="256.30" y1="579.70" x2="256.30" y2="582.10" stroke="#111" stroke-width="0.55" stroke-linecap="butt"/>
<text x="193.20" y="525.33" font-size="4.8" text-anchor="start" font-weight="normal" fill="#2b2b2b">TOX</text>
<rect x="279.90" y="207.00" width="28.16" height="46.90" fill="#efefef"/>
<line x1="307.87" y1="207.00" x2="307.87" y2="254.30" stroke="#aaaaaa" stroke-width="0.5" stroke-linecap="butt"/>
<line x1="279.50" y1="204.20" x2="279.50" y2="254.70" stroke="#111" stroke-width="0.85" stroke-linecap="butt"/>
<line x1="276.40" y1="254.30" x2="279.50" y2="254.30" stroke="#111" stroke-width="0.65" stroke-linecap="butt"/>
<text x="273.90" y="256.14" font-size="5.1" text-anchor="end" font-weight="normal" fill="#333">0</text>
<line x1="276.40" y1="244.88" x2="279.50" y2="244.88" stroke="#111" stroke-width="0.65" stroke-linecap="butt"/>
<text x="273.90" y="246.71" font-size="5.1" text-anchor="end" font-weight="normal" fill="#333">25</text>
<line x1="276.40" y1="235.45" x2="279.50" y2="235.45" stroke="#111" stroke-width="0.65" stroke-linecap="butt"/>
<text x="273.90" y="237.29" font-size="5.1" text-anchor="end" font-weight="normal" fill="#333">50</text>
<line x1="276.40" y1="226.03" x2="279.50" y2="226.03" stroke="#111" stroke-width="0.65" stroke-linecap="butt"/>
<text x="273.90" y="227.86" font-size="5.1" text-anchor="end" font-weight="normal" fill="#333">75</text>
<line x1="276.40" y1="216.60" x2="279.50" y2="216.60" stroke="#111" stroke-width="0.65" stroke-linecap="butt"/>
<text x="273.90" y="218.44" font-size="5.1" text-anchor="end" font-weight="normal" fill="#333">100</text>
<line x1="276.40" y1="207.18" x2="279.50" y2="207.18" stroke="#111" stroke-width="0.65" stroke-linecap="butt"/>
<text x="273.90" y="209.01" font-size="5.1" text-anchor="end" font-weight="normal" fill="#333">125</text>
<rect x="287.84" y="253.92" width="5.50" height="0.38" fill="#2a2a2a" stroke="#222" stroke-width="0.25" stroke-opacity="0.55"/>
<rect x="301.42" y="253.62" width="5.50" height="0.68" fill="#3b4a6b" stroke="#222" stroke-width="0.25" stroke-opacity="0.55"/>
<rect x="315.00" y="252.42" width="5.50" height="1.89" fill="#3a7ebd" stroke="#222" stroke-width="0.25" stroke-opacity="0.55"/>
<rect x="321.79" y="252.42" width="5.50" height="1.89" fill="#7a2a3a" stroke="#222" stroke-width="0.25" stroke-opacity="0.55"/>
<rect x="321.79" y="217.54" width="5.50" height="34.87" fill="#e4494f" stroke="#222" stroke-width="0.25" stroke-opacity="0.55"/>
<rect x="328.58" y="251.28" width="5.50" height="3.02" fill="#e4494f" stroke="#222" stroke-width="0.25" stroke-opacity="0.55"/>
<rect x="342.16" y="253.73" width="5.50" height="0.57" fill="#2a2a2a" stroke="#222" stroke-width="0.25" stroke-opacity="0.55"/>
<rect x="342.16" y="246.38" width="5.50" height="7.35" fill="#e4494f" stroke="#222" stroke-width="0.25" stroke-opacity="0.55"/>
<rect x="348.95" y="253.92" width="5.50" height="0.38" fill="#2a2a2a" stroke="#222" stroke-width="0.25" stroke-opacity="0.55"/>
<rect x="348.95" y="249.40" width="5.50" height="4.52" fill="#e4494f" stroke="#222" stroke-width="0.25" stroke-opacity="0.55"/>
<rect x="355.74" y="253.55" width="5.50" height="0.75" fill="#2a2a2a" stroke="#222" stroke-width="0.25" stroke-opacity="0.55"/>
<rect x="369.32" y="250.91" width="5.50" height="3.39" fill="#e4494f" stroke="#222" stroke-width="0.25" stroke-opacity="0.55"/>
<rect x="376.11" y="253.55" width="5.50" height="0.75" fill="#7a2a3a" stroke="#222" stroke-width="0.25" stroke-opacity="0.55"/>
<rect x="382.90" y="253.85" width="5.50" height="0.45" fill="#2a2a2a" stroke="#222" stroke-width="0.25" stroke-opacity="0.55"/>
<rect x="389.69" y="252.42" width="5.50" height="1.89" fill="#3a7ebd" stroke="#222" stroke-width="0.25" stroke-opacity="0.55"/>
<rect x="389.69" y="250.72" width="5.50" height="1.70" fill="#e4494f" stroke="#222" stroke-width="0.25" stroke-opacity="0.55"/>
<rect x="396.48" y="252.42" width="5.50" height="1.89" fill="#3a7ebd" stroke="#222" stroke-width="0.25" stroke-opacity="0.55"/>
<rect x="396.48" y="251.47" width="5.50" height="0.94" fill="#bdbdbd" stroke="#222" stroke-width="0.25" stroke-opacity="0.55"/>
<rect x="403.27" y="250.53" width="5.50" height="3.77" fill="#d7191f" stroke="#222" stroke-width="0.25" stroke-opacity="0.55"/>
<rect x="403.27" y="207.18" width="5.50" height="43.35" fill="#e4494f" stroke="#222" stroke-width="0.25" stroke-opacity="0.55"/>
<line x1="279.10" y1="254.30" x2="409.60" y2="254.30" stroke="#111" stroke-width="0.8" stroke-linecap="butt"/>
<line x1="283.80" y1="254.30" x2="283.80" y2="256.70" stroke="#111" stroke-width="0.55" stroke-linecap="butt"/>
<line x1="290.59" y1="254.30" x2="290.59" y2="256.70" stroke="#111" stroke-width="0.55" stroke-linecap="butt"/>
<line x1="297.38" y1="254.30" x2="297.38" y2="256.70" stroke="#111" stroke-width="0.55" stroke-linecap="butt"/>
<line x1="304.17" y1="254.30" x2="304.17" y2="256.70" stroke="#111" stroke-width="0.55" stroke-linecap="butt"/>
<line x1="310.96" y1="254.30" x2="310.96" y2="256.70" stroke="#111" stroke-width="0.55" stroke-linecap="butt"/>
<line x1="317.75" y1="254.30" x2="317.75" y2="256.70" stroke="#111" stroke-width="0.55" stroke-linecap="butt"/>
<line x1="324.54" y1="254.30" x2="324.54" y2="256.70" stroke="#111" stroke-width="0.55" stroke-linecap="butt"/>
<line x1="331.33" y1="254.30" x2="331.33" y2="256.70" stroke="#111" stroke-width="0.55" stroke-linecap="butt"/>
<line x1="338.12" y1="254.30" x2="338.12" y2="256.70" stroke="#111" stroke-width="0.55" stroke-linecap="butt"/>
<line x1="344.91" y1="254.30" x2="344.91" y2="256.70" stroke="#111" stroke-width="0.55" stroke-linecap="butt"/>
<line x1="351.70" y1="254.30" x2="351.70" y2="256.70" stroke="#111" stroke-width="0.55" stroke-linecap="butt"/>
<line x1="358.49" y1="254.30" x2="358.49" y2="256.70" stroke="#111" stroke-width="0.55" stroke-linecap="butt"/>
<line x1="365.28" y1="254.30" x2="365.28" y2="256.70" stroke="#111" stroke-width="0.55" stroke-linecap="butt"/>
<line x1="372.07" y1="254.30" x2="372.07" y2="256.70" stroke="#111" stroke-width="0.55" stroke-linecap="butt"/>
<line x1="378.86" y1="254.30" x2="378.86" y2="256.70" stroke="#111" stroke-width="0.55" stroke-linecap="butt"/>
<line x1="385.65" y1="254.30" x2="385.65" y2="256.70" stroke="#111" stroke-width="0.55" stroke-linecap="butt"/>
<line x1="392.44" y1="254.30" x2="392.44" y2="256.70" stroke="#111" stroke-width="0.55" stroke-linecap="butt"/>
<line x1="399.23" y1="254.30" x2="399.23" y2="256.70" stroke="#111" stroke-width="0.55" stroke-linecap="butt"/>
<line x1="406.02" y1="254.30" x2="406.02" y2="256.70" stroke="#111" stroke-width="0.55" stroke-linecap="butt"/>
<rect x="279.90" y="271.60" width="28.16" height="46.80" fill="#efefef"/>
<line x1="307.87" y1="271.60" x2="307.87" y2="318.80" stroke="#aaaaaa" stroke-width="0.5" stroke-linecap="butt"/>
<line x1="279.50" y1="268.40" x2="279.50" y2="319.20" stroke="#111" stroke-width="0.85" stroke-linecap="butt"/>
<line x1="276.40" y1="318.80" x2="279.50" y2="318.80" stroke="#111" stroke-width="0.65" stroke-linecap="butt"/>
<text x="273.90" y="320.64" font-size="5.1" text-anchor="end" font-weight="normal" fill="#333">0</text>
<line x1="276.40" y1="309.35" x2="279.50" y2="309.35" stroke="#111" stroke-width="0.65" stroke-linecap="butt"/>
<text x="273.90" y="311.19" font-size="5.1" text-anchor="end" font-weight="normal" fill="#333">25</text>
<line x1="276.40" y1="299.90" x2="279.50" y2="299.90" stroke="#111" stroke-width="0.65" stroke-linecap="butt"/>
<text x="273.90" y="301.74" font-size="5.1" text-anchor="end" font-weight="normal" fill="#333">50</text>
<line x1="276.40" y1="290.45" x2="279.50" y2="290.45" stroke="#111" stroke-width="0.65" stroke-linecap="butt"/>
<text x="273.90" y="292.29" font-size="5.1" text-anchor="end" font-weight="normal" fill="#333">75</text>
<line x1="276.40" y1="281.00" x2="279.50" y2="281.00" stroke="#111" stroke-width="0.65" stroke-linecap="butt"/>
<text x="273.90" y="282.84" font-size="5.1" text-anchor="end" font-weight="normal" fill="#333">100</text>
<line x1="276.40" y1="271.55" x2="279.50" y2="271.55" stroke="#111" stroke-width="0.65" stroke-linecap="butt"/>
<text x="273.90" y="273.39" font-size="5.1" text-anchor="end" font-weight="normal" fill="#333">125</text>
<rect x="308.21" y="313.13" width="5.50" height="5.67" fill="#d7191f" stroke="#222" stroke-width="0.25" stroke-opacity="0.55"/>
<rect x="308.21" y="307.84" width="5.50" height="5.29" fill="#e4494f" stroke="#222" stroke-width="0.25" stroke-opacity="0.55"/>
<rect x="315.00" y="316.53" width="5.50" height="2.27" fill="#2f5f93" stroke="#222" stroke-width="0.25" stroke-opacity="0.55"/>
<rect x="321.79" y="313.51" width="5.50" height="5.29" fill="#e4494f" stroke="#222" stroke-width="0.25" stroke-opacity="0.55"/>
<rect x="328.58" y="317.67" width="5.50" height="1.13" fill="#e4494f" stroke="#222" stroke-width="0.25" stroke-opacity="0.55"/>
<rect x="335.37" y="316.15" width="5.50" height="2.65" fill="#e4494f" stroke="#222" stroke-width="0.25" stroke-opacity="0.55"/>
<rect x="342.16" y="317.29" width="5.50" height="1.51" fill="#3a7ebd" stroke="#222" stroke-width="0.25" stroke-opacity="0.55"/>
<rect x="342.16" y="280.06" width="5.50" height="37.23" fill="#e4494f" stroke="#222" stroke-width="0.25" stroke-opacity="0.55"/>
<rect x="348.95" y="309.35" width="5.50" height="9.45" fill="#3a7ebd" stroke="#222" stroke-width="0.25" stroke-opacity="0.55"/>
<rect x="355.74" y="318.04" width="5.50" height="0.76" fill="#2a2a2a" stroke="#222" stroke-width="0.25" stroke-opacity="0.55"/>
<rect x="369.32" y="318.57" width="5.50" height="0.23" fill="#2a2a2a" stroke="#222" stroke-width="0.25" stroke-opacity="0.55"/>
<rect x="376.11" y="311.24" width="5.50" height="7.56" fill="#3a7ebd" stroke="#222" stroke-width="0.25" stroke-opacity="0.55"/>
<rect x="382.90" y="314.26" width="5.50" height="4.54" fill="#2f5f93" stroke="#222" stroke-width="0.25" stroke-opacity="0.55"/>
<rect x="389.69" y="318.23" width="5.50" height="0.57" fill="#e4494f" stroke="#222" stroke-width="0.25" stroke-opacity="0.55"/>
<rect x="396.48" y="313.13" width="5.50" height="5.67" fill="#e4494f" stroke="#222" stroke-width="0.25" stroke-opacity="0.55"/>
<rect x="403.27" y="301.03" width="5.50" height="17.77" fill="#d7191f" stroke="#222" stroke-width="0.25" stroke-opacity="0.55"/>
<rect x="403.27" y="271.55" width="5.50" height="29.48" fill="#e4494f" stroke="#222" stroke-width="0.25" stroke-opacity="0.55"/>
<line x1="279.10" y1="318.80" x2="409.60" y2="318.80" stroke="#111" stroke-width="0.8" stroke-linecap="butt"/>
<line x1="283.80" y1="318.80" x2="283.80" y2="321.20" stroke="#111" stroke-width="0.55" stroke-linecap="butt"/>
<line x1="290.59" y1="318.80" x2="290.59" y2="321.20" stroke="#111" stroke-width="0.55" stroke-linecap="butt"/>
<line x1="297.38" y1="318.80" x2="297.38" y2="321.20" stroke="#111" stroke-width="0.55" stroke-linecap="butt"/>
<line x1="304.17" y1="318.80" x2="304.17" y2="321.20" stroke="#111" stroke-width="0.55" stroke-linecap="butt"/>
<line x1="310.96" y1="318.80" x2="310.96" y2="321.20" stroke="#111" stroke-width="0.55" stroke-linecap="butt"/>
<line x1="317.75" y1="318.80" x2="317.75" y2="321.20" stroke="#111" stroke-width="0.55" stroke-linecap="butt"/>
<line x1="324.54" y1="318.80" x2="324.54" y2="321.20" stroke="#111" stroke-width="0.55" stroke-linecap="butt"/>
<line x1="331.33" y1="318.80" x2="331.33" y2="321.20" stroke="#111" stroke-width="0.55" stroke-linecap="butt"/>
<line x1="338.12" y1="318.80" x2="338.12" y2="321.20" stroke="#111" stroke-width="0.55" stroke-linecap="butt"/>
<line x1="344.91" y1="318.80" x2="344.91" y2="321.20" stroke="#111" stroke-width="0.55" stroke-linecap="butt"/>
<line x1="351.70" y1="318.80" x2="351.70" y2="321.20" stroke="#111" stroke-width="0.55" stroke-linecap="butt"/>
<line x1="358.49" y1="318.80" x2="358.49" y2="321.20" stroke="#111" stroke-width="0.55" stroke-linecap="butt"/>
<line x1="365.28" y1="318.80" x2="365.28" y2="321.20" stroke="#111" stroke-width="0.55" stroke-linecap="butt"/>
<line x1="372.07" y1="318.80" x2="372.07" y2="321.20" stroke="#111" stroke-width="0.55" stroke-linecap="butt"/>
<line x1="378.86" y1="318.80" x2="378.86" y2="321.20" stroke="#111" stroke-width="0.55" stroke-linecap="butt"/>
<line x1="385.65" y1="318.80" x2="385.65" y2="321.20" stroke="#111" stroke-width="0.55" stroke-linecap="butt"/>
<line x1="392.44" y1="318.80" x2="392.44" y2="321.20" stroke="#111" stroke-width="0.55" stroke-linecap="butt"/>
<line x1="399.23" y1="318.80" x2="399.23" y2="321.20" stroke="#111" stroke-width="0.55" stroke-linecap="butt"/>
<line x1="406.02" y1="318.80" x2="406.02" y2="321.20" stroke="#111" stroke-width="0.55" stroke-linecap="butt"/>
<rect x="279.90" y="336.10" width="28.16" height="46.90" fill="#efefef"/>
<line x1="307.87" y1="336.10" x2="307.87" y2="383.40" stroke="#aaaaaa" stroke-width="0.5" stroke-linecap="butt"/>
<line x1="279.50" y1="333.30" x2="279.50" y2="383.80" stroke="#111" stroke-width="0.85" stroke-linecap="butt"/>
<line x1="276.40" y1="383.40" x2="279.50" y2="383.40" stroke="#111" stroke-width="0.65" stroke-linecap="butt"/>
<text x="273.90" y="385.24" font-size="5.1" text-anchor="end" font-weight="normal" fill="#333">0</text>
<line x1="276.40" y1="371.65" x2="279.50" y2="371.65" stroke="#111" stroke-width="0.65" stroke-linecap="butt"/>
<text x="273.90" y="373.49" font-size="5.1" text-anchor="end" font-weight="normal" fill="#333">5</text>
<line x1="276.40" y1="359.90" x2="279.50" y2="359.90" stroke="#111" stroke-width="0.65" stroke-linecap="butt"/>
<text x="273.90" y="361.74" font-size="5.1" text-anchor="end" font-weight="normal" fill="#333">10</text>
<line x1="276.40" y1="348.15" x2="279.50" y2="348.15" stroke="#111" stroke-width="0.65" stroke-linecap="butt"/>
<text x="273.90" y="349.99" font-size="5.1" text-anchor="end" font-weight="normal" fill="#333">15</text>
<line x1="276.40" y1="336.40" x2="279.50" y2="336.40" stroke="#111" stroke-width="0.65" stroke-linecap="butt"/>
<text x="273.90" y="338.24" font-size="5.1" text-anchor="end" font-weight="normal" fill="#333">20</text>
<rect x="281.05" y="381.52" width="5.50" height="1.88" fill="#8fce87" stroke="#222" stroke-width="0.25" stroke-opacity="0.55"/>
<rect x="281.05" y="380.46" width="5.50" height="1.06" fill="#2a2a2a" stroke="#222" stroke-width="0.25" stroke-opacity="0.55"/>
<rect x="287.84" y="377.52" width="5.50" height="5.88" fill="#8fce87" stroke="#222" stroke-width="0.25" stroke-opacity="0.55"/>
<rect x="287.84" y="374.23" width="5.50" height="3.29" fill="#3a7ebd" stroke="#222" stroke-width="0.25" stroke-opacity="0.55"/>
<rect x="287.84" y="373.76" width="5.50" height="0.47" fill="#2a2a2a" stroke="#222" stroke-width="0.25" stroke-opacity="0.55"/>
<rect x="294.63" y="378.00" width="5.50" height="5.40" fill="#8fce87" stroke="#222" stroke-width="0.25" stroke-opacity="0.55"/>
<rect x="294.63" y="374.70" width="5.50" height="3.29" fill="#3a7ebd" stroke="#222" stroke-width="0.25" stroke-opacity="0.55"/>
<rect x="294.63" y="374.23" width="5.50" height="0.47" fill="#2a2a2a" stroke="#222" stroke-width="0.25" stroke-opacity="0.55"/>
<rect x="301.42" y="378.70" width="5.50" height="4.70" fill="#8fce87" stroke="#222" stroke-width="0.25" stroke-opacity="0.55"/>
<rect x="301.42" y="377.41" width="5.50" height="1.29" fill="#2a2a2a" stroke="#222" stroke-width="0.25" stroke-opacity="0.55"/>
<rect x="308.21" y="381.75" width="5.50" height="1.65" fill="#2a2a2a" stroke="#222" stroke-width="0.25" stroke-opacity="0.55"/>
<rect x="308.21" y="352.85" width="5.50" height="28.91" fill="#8fce87" stroke="#222" stroke-width="0.25" stroke-opacity="0.55"/>
<rect x="308.21" y="350.27" width="5.50" height="2.58" fill="#3a7ebd" stroke="#222" stroke-width="0.25" stroke-opacity="0.55"/>
<rect x="308.21" y="343.45" width="5.50" height="6.82" fill="#d7191f" stroke="#222" stroke-width="0.25" stroke-opacity="0.55"/>
<rect x="308.21" y="337.58" width="5.50" height="5.88" fill="#e4494f" stroke="#222" stroke-width="0.25" stroke-opacity="0.55"/>
<rect x="315.00" y="379.88" width="5.50" height="3.53" fill="#8fce87" stroke="#222" stroke-width="0.25" stroke-opacity="0.55"/>
<rect x="315.00" y="378.23" width="5.50" height="1.65" fill="#3a7ebd" stroke="#222" stroke-width="0.25" stroke-opacity="0.55"/>
<rect x="315.00" y="373.77" width="5.50" height="4.46" fill="#d7191f" stroke="#222" stroke-width="0.25" stroke-opacity="0.55"/>
<rect x="321.79" y="378.00" width="5.50" height="5.40" fill="#8fce87" stroke="#222" stroke-width="0.25" stroke-opacity="0.55"/>
<rect x="321.79" y="375.64" width="5.50" height="2.35" fill="#9c5327" stroke="#222" stroke-width="0.25" stroke-opacity="0.55"/>
<rect x="328.58" y="381.52" width="5.50" height="1.88" fill="#8fce87" stroke="#222" stroke-width="0.25" stroke-opacity="0.55"/>
<rect x="328.58" y="378.46" width="5.50" height="3.06" fill="#3a7ebd" stroke="#222" stroke-width="0.25" stroke-opacity="0.55"/>
<rect x="335.37" y="379.88" width="5.50" height="3.53" fill="#8fce87" stroke="#222" stroke-width="0.25" stroke-opacity="0.55"/>
<rect x="335.37" y="377.76" width="5.50" height="2.11" fill="#7a2a3a" stroke="#222" stroke-width="0.25" stroke-opacity="0.55"/>
<rect x="335.37" y="357.55" width="5.50" height="20.21" fill="#e4494f" stroke="#222" stroke-width="0.25" stroke-opacity="0.55"/>
<rect x="342.16" y="374.00" width="5.50" height="9.40" fill="#8fce87" stroke="#222" stroke-width="0.25" stroke-opacity="0.55"/>
<rect x="342.16" y="369.30" width="5.50" height="4.70" fill="#3a7ebd" stroke="#222" stroke-width="0.25" stroke-opacity="0.55"/>
<rect x="342.16" y="346.27" width="5.50" height="23.03" fill="#e4494f" stroke="#222" stroke-width="0.25" stroke-opacity="0.55"/>
<rect x="348.95" y="379.88" width="5.50" height="3.53" fill="#8fce87" stroke="#222" stroke-width="0.25" stroke-opacity="0.55"/>
<rect x="348.95" y="374.47" width="5.50" height="5.40" fill="#3a7ebd" stroke="#222" stroke-width="0.25" stroke-opacity="0.55"/>
<rect x="348.95" y="373.06" width="5.50" height="1.41" fill="#2a2a2a" stroke="#222" stroke-width="0.25" stroke-opacity="0.55"/>
<rect x="355.74" y="379.17" width="5.50" height="4.23" fill="#8fce87" stroke="#222" stroke-width="0.25" stroke-opacity="0.55"/>
<rect x="355.74" y="377.05" width="5.50" height="2.12" fill="#2a2a2a" stroke="#222" stroke-width="0.25" stroke-opacity="0.55"/>
<rect x="362.53" y="379.88" width="5.50" height="3.53" fill="#8fce87" stroke="#222" stroke-width="0.25" stroke-opacity="0.55"/>
<rect x="362.53" y="378.23" width="5.50" height="1.65" fill="#2a2a2a" stroke="#222" stroke-width="0.25" stroke-opacity="0.55"/>
<rect x="362.53" y="354.26" width="5.50" height="23.97" fill="#e4494f" stroke="#222" stroke-width="0.25" stroke-opacity="0.55"/>
<rect x="369.32" y="379.88" width="5.50" height="3.53" fill="#8fce87" stroke="#222" stroke-width="0.25" stroke-opacity="0.55"/>
<rect x="369.32" y="373.53" width="5.50" height="6.35" fill="#3a7ebd" stroke="#222" stroke-width="0.25" stroke-opacity="0.55"/>
<rect x="369.32" y="368.36" width="5.50" height="5.17" fill="#e4494f" stroke="#222" stroke-width="0.25" stroke-opacity="0.55"/>
<rect x="376.11" y="381.75" width="5.50" height="1.65" fill="#8fce87" stroke="#222" stroke-width="0.25" stroke-opacity="0.55"/>
<rect x="376.11" y="378.94" width="5.50" height="2.82" fill="#8e4aa8" stroke="#222" stroke-width="0.25" stroke-opacity="0.55"/>
<rect x="382.90" y="380.58" width="5.50" height="2.82" fill="#2a2a2a" stroke="#222" stroke-width="0.25" stroke-opacity="0.55"/>
<rect x="382.90" y="378.00" width="5.50" height="2.58" fill="#e4494f" stroke="#222" stroke-width="0.25" stroke-opacity="0.55"/>
<rect x="389.69" y="373.53" width="5.50" height="9.87" fill="#8fce87" stroke="#222" stroke-width="0.25" stroke-opacity="0.55"/>
<rect x="389.69" y="368.83" width="5.50" height="4.70" fill="#3a7ebd" stroke="#222" stroke-width="0.25" stroke-opacity="0.55"/>
<rect x="389.69" y="345.33" width="5.50" height="23.50" fill="#e4494f" stroke="#222" stroke-width="0.25" stroke-opacity="0.55"/>
<rect x="396.48" y="377.05" width="5.50" height="6.35" fill="#8fce87" stroke="#222" stroke-width="0.25" stroke-opacity="0.55"/>
<rect x="396.48" y="374.00" width="5.50" height="3.05" fill="#2a2a2a" stroke="#222" stroke-width="0.25" stroke-opacity="0.55"/>
<rect x="396.48" y="372.59" width="5.50" height="1.41" fill="#3a7ebd" stroke="#222" stroke-width="0.25" stroke-opacity="0.55"/>
<rect x="396.48" y="339.92" width="5.50" height="32.66" fill="#e4494f" stroke="#222" stroke-width="0.25" stroke-opacity="0.55"/>
<rect x="403.27" y="348.62" width="5.50" height="34.78" fill="#8fce87" stroke="#222" stroke-width="0.25" stroke-opacity="0.55"/>
<rect x="403.27" y="345.33" width="5.50" height="3.29" fill="#3a7ebd" stroke="#222" stroke-width="0.25" stroke-opacity="0.55"/>
<rect x="403.27" y="342.98" width="5.50" height="2.35" fill="#7a2a3a" stroke="#222" stroke-width="0.25" stroke-opacity="0.55"/>
<line x1="279.10" y1="383.40" x2="409.60" y2="383.40" stroke="#111" stroke-width="0.8" stroke-linecap="butt"/>
<line x1="283.80" y1="383.40" x2="283.80" y2="385.80" stroke="#111" stroke-width="0.55" stroke-linecap="butt"/>
<line x1="290.59" y1="383.40" x2="290.59" y2="385.80" stroke="#111" stroke-width="0.55" stroke-linecap="butt"/>
<line x1="297.38" y1="383.40" x2="297.38" y2="385.80" stroke="#111" stroke-width="0.55" stroke-linecap="butt"/>
<line x1="304.17" y1="383.40" x2="304.17" y2="385.80" stroke="#111" stroke-width="0.55" stroke-linecap="butt"/>
<line x1="310.96" y1="383.40" x2="310.96" y2="385.80" stroke="#111" stroke-width="0.55" stroke-linecap="butt"/>
<line x1="317.75" y1="383.40" x2="317.75" y2="385.80" stroke="#111" stroke-width="0.55" stroke-linecap="butt"/>
<line x1="324.54" y1="383.40" x2="324.54" y2="385.80" stroke="#111" stroke-width="0.55" stroke-linecap="butt"/>
<line x1="331.33" y1="383.40" x2="331.33" y2="385.80" stroke="#111" stroke-width="0.55" stroke-linecap="butt"/>
<line x1="338.12" y1="383.40" x2="338.12" y2="385.80" stroke="#111" stroke-width="0.55" stroke-linecap="butt"/>
<line x1="344.91" y1="383.40" x2="344.91" y2="385.80" stroke="#111" stroke-width="0.55" stroke-linecap="butt"/>
<line x1="351.70" y1="383.40" x2="351.70" y2="385.80" stroke="#111" stroke-width="0.55" stroke-linecap="butt"/>
<line x1="358.49" y1="383.40" x2="358.49" y2="385.80" stroke="#111" stroke-width="0.55" stroke-linecap="butt"/>
<line x1="365.28" y1="383.40" x2="365.28" y2="385.80" stroke="#111" stroke-width="0.55" stroke-linecap="butt"/>
<line x1="372.07" y1="383.40" x2="372.07" y2="385.80" stroke="#111" stroke-width="0.55" stroke-linecap="butt"/>
<line x1="378.86" y1="383.40" x2="378.86" y2="385.80" stroke="#111" stroke-width="0.55" stroke-linecap="butt"/>
<line x1="385.65" y1="383.40" x2="385.65" y2="385.80" stroke="#111" stroke-width="0.55" stroke-linecap="butt"/>
<line x1="392.44" y1="383.40" x2="392.44" y2="385.80" stroke="#111" stroke-width="0.55" stroke-linecap="butt"/>
<line x1="399.23" y1="383.40" x2="399.23" y2="385.80" stroke="#111" stroke-width="0.55" stroke-linecap="butt"/>
<line x1="406.02" y1="383.40" x2="406.02" y2="385.80" stroke="#111" stroke-width="0.55" stroke-linecap="butt"/>
<rect x="279.90" y="400.60" width="28.16" height="46.40" fill="#efefef"/>
<line x1="307.87" y1="400.60" x2="307.87" y2="447.40" stroke="#aaaaaa" stroke-width="0.5" stroke-linecap="butt"/>
<line x1="279.50" y1="399.90" x2="279.50" y2="447.80" stroke="#111" stroke-width="0.85" stroke-linecap="butt"/>
<line x1="276.40" y1="447.40" x2="279.50" y2="447.40" stroke="#111" stroke-width="0.65" stroke-linecap="butt"/>
<text x="273.90" y="449.24" font-size="5.1" text-anchor="end" font-weight="normal" fill="#333">0</text>
<line x1="276.40" y1="436.10" x2="279.50" y2="436.10" stroke="#111" stroke-width="0.65" stroke-linecap="butt"/>
<text x="273.90" y="437.94" font-size="5.1" text-anchor="end" font-weight="normal" fill="#333">5</text>
<line x1="276.40" y1="424.80" x2="279.50" y2="424.80" stroke="#111" stroke-width="0.65" stroke-linecap="butt"/>
<text x="273.90" y="426.64" font-size="5.1" text-anchor="end" font-weight="normal" fill="#333">10</text>
<line x1="276.40" y1="413.50" x2="279.50" y2="413.50" stroke="#111" stroke-width="0.65" stroke-linecap="butt"/>
<text x="273.90" y="415.34" font-size="5.1" text-anchor="end" font-weight="normal" fill="#333">15</text>
<line x1="276.40" y1="402.20" x2="279.50" y2="402.20" stroke="#111" stroke-width="0.65" stroke-linecap="butt"/>
<text x="273.90" y="404.04" font-size="5.1" text-anchor="end" font-weight="normal" fill="#333">20</text>
<rect x="308.21" y="447.06" width="5.50" height="0.34" fill="#2a2a2a" stroke="#222" stroke-width="0.25" stroke-opacity="0.55"/>
<rect x="321.79" y="446.95" width="5.50" height="0.45" fill="#2a2a2a" stroke="#222" stroke-width="0.25" stroke-opacity="0.55"/>
<rect x="342.16" y="446.50" width="5.50" height="0.90" fill="#2a2a2a" stroke="#222" stroke-width="0.25" stroke-opacity="0.55"/>
<rect x="342.16" y="441.75" width="5.50" height="4.75" fill="#e4494f" stroke="#222" stroke-width="0.25" stroke-opacity="0.55"/>
<rect x="348.95" y="444.91" width="5.50" height="2.49" fill="#d7191f" stroke="#222" stroke-width="0.25" stroke-opacity="0.55"/>
<rect x="348.95" y="432.03" width="5.50" height="12.88" fill="#e4494f" stroke="#222" stroke-width="0.25" stroke-opacity="0.55"/>
<rect x="369.32" y="446.27" width="5.50" height="1.13" fill="#e4494f" stroke="#222" stroke-width="0.25" stroke-opacity="0.55"/>
<rect x="376.11" y="444.24" width="5.50" height="3.16" fill="#e4494f" stroke="#222" stroke-width="0.25" stroke-opacity="0.55"/>
<rect x="389.69" y="444.46" width="5.50" height="2.94" fill="#3a7ebd" stroke="#222" stroke-width="0.25" stroke-opacity="0.55"/>
<rect x="389.69" y="441.75" width="5.50" height="2.71" fill="#e4494f" stroke="#222" stroke-width="0.25" stroke-opacity="0.55"/>
<rect x="396.48" y="444.01" width="5.50" height="3.39" fill="#3a7ebd" stroke="#222" stroke-width="0.25" stroke-opacity="0.55"/>
<rect x="396.48" y="442.43" width="5.50" height="1.58" fill="#e4494f" stroke="#222" stroke-width="0.25" stroke-opacity="0.55"/>
<rect x="403.27" y="442.88" width="5.50" height="4.52" fill="#d7191f" stroke="#222" stroke-width="0.25" stroke-opacity="0.55"/>
<rect x="403.27" y="400.39" width="5.50" height="42.49" fill="#e4494f" stroke="#222" stroke-width="0.25" stroke-opacity="0.55"/>
<line x1="279.10" y1="447.40" x2="409.60" y2="447.40" stroke="#111" stroke-width="0.8" stroke-linecap="butt"/>
<line x1="283.80" y1="447.40" x2="283.80" y2="449.80" stroke="#111" stroke-width="0.55" stroke-linecap="butt"/>
<line x1="290.59" y1="447.40" x2="290.59" y2="449.80" stroke="#111" stroke-width="0.55" stroke-linecap="butt"/>
<line x1="297.38" y1="447.40" x2="297.38" y2="449.80" stroke="#111" stroke-width="0.55" stroke-linecap="butt"/>
<line x1="304.17" y1="447.40" x2="304.17" y2="449.80" stroke="#111" stroke-width="0.55" stroke-linecap="butt"/>
<line x1="310.96" y1="447.40" x2="310.96" y2="449.80" stroke="#111" stroke-width="0.55" stroke-linecap="butt"/>
<line x1="317.75" y1="447.40" x2="317.75" y2="449.80" stroke="#111" stroke-width="0.55" stroke-linecap="butt"/>
<line x1="324.54" y1="447.40" x2="324.54" y2="449.80" stroke="#111" stroke-width="0.55" stroke-linecap="butt"/>
<line x1="331.33" y1="447.40" x2="331.33" y2="449.80" stroke="#111" stroke-width="0.55" stroke-linecap="butt"/>
<line x1="338.12" y1="447.40" x2="338.12" y2="449.80" stroke="#111" stroke-width="0.55" stroke-linecap="butt"/>
<line x1="344.91" y1="447.40" x2="344.91" y2="449.80" stroke="#111" stroke-width="0.55" stroke-linecap="butt"/>
<line x1="351.70" y1="447.40" x2="351.70" y2="449.80" stroke="#111" stroke-width="0.55" stroke-linecap="butt"/>
<line x1="358.49" y1="447.40" x2="358.49" y2="449.80" stroke="#111" stroke-width="0.55" stroke-linecap="butt"/>
<line x1="365.28" y1="447.40" x2="365.28" y2="449.80" stroke="#111" stroke-width="0.55" stroke-linecap="butt"/>
<line x1="372.07" y1="447.40" x2="372.07" y2="449.80" stroke="#111" stroke-width="0.55" stroke-linecap="butt"/>
<line x1="378.86" y1="447.40" x2="378.86" y2="449.80" stroke="#111" stroke-width="0.55" stroke-linecap="butt"/>
<line x1="385.65" y1="447.40" x2="385.65" y2="449.80" stroke="#111" stroke-width="0.55" stroke-linecap="butt"/>
<line x1="392.44" y1="447.40" x2="392.44" y2="449.80" stroke="#111" stroke-width="0.55" stroke-linecap="butt"/>
<line x1="399.23" y1="447.40" x2="399.23" y2="449.80" stroke="#111" stroke-width="0.55" stroke-linecap="butt"/>
<line x1="406.02" y1="447.40" x2="406.02" y2="449.80" stroke="#111" stroke-width="0.55" stroke-linecap="butt"/>
<rect x="279.90" y="464.70" width="28.16" height="46.90" fill="#efefef"/>
<line x1="307.87" y1="464.70" x2="307.87" y2="512.00" stroke="#aaaaaa" stroke-width="0.5" stroke-linecap="butt"/>
<line x1="279.50" y1="464.00" x2="279.50" y2="512.40" stroke="#111" stroke-width="0.85" stroke-linecap="butt"/>
<line x1="276.40" y1="512.00" x2="279.50" y2="512.00" stroke="#111" stroke-width="0.65" stroke-linecap="butt"/>
<text x="273.90" y="513.84" font-size="5.1" text-anchor="end" font-weight="normal" fill="#333">0</text>
<line x1="276.40" y1="499.44" x2="279.50" y2="499.44" stroke="#111" stroke-width="0.65" stroke-linecap="butt"/>
<text x="273.90" y="501.28" font-size="5.1" text-anchor="end" font-weight="normal" fill="#333">100</text>
<line x1="276.40" y1="486.88" x2="279.50" y2="486.88" stroke="#111" stroke-width="0.65" stroke-linecap="butt"/>
<text x="273.90" y="488.72" font-size="5.1" text-anchor="end" font-weight="normal" fill="#333">200</text>
<line x1="276.40" y1="474.32" x2="279.50" y2="474.32" stroke="#111" stroke-width="0.65" stroke-linecap="butt"/>
<text x="273.90" y="476.16" font-size="5.1" text-anchor="end" font-weight="normal" fill="#333">300</text>
<rect x="280.85" y="471.18" width="5.90" height="40.82" fill="#f29bc9" stroke="#222" stroke-width="0.25" stroke-opacity="0.55"/>
<rect x="280.85" y="468.42" width="5.90" height="2.76" fill="#9c5327" stroke="#222" stroke-width="0.25" stroke-opacity="0.55"/>
<rect x="280.85" y="466.16" width="5.90" height="2.26" fill="#c98a5a" stroke="#222" stroke-width="0.25" stroke-opacity="0.55"/>
<rect x="287.64" y="488.14" width="5.90" height="23.86" fill="#f29bc9" stroke="#222" stroke-width="0.25" stroke-opacity="0.55"/>
<rect x="287.64" y="485.88" width="5.90" height="2.26" fill="#9c5327" stroke="#222" stroke-width="0.25" stroke-opacity="0.55"/>
<rect x="287.64" y="483.99" width="5.90" height="1.88" fill="#c98a5a" stroke="#222" stroke-width="0.25" stroke-opacity="0.55"/>
<rect x="294.43" y="503.84" width="5.90" height="8.16" fill="#f29bc9" stroke="#222" stroke-width="0.25" stroke-opacity="0.55"/>
<rect x="294.43" y="500.44" width="5.90" height="3.39" fill="#9c5327" stroke="#222" stroke-width="0.25" stroke-opacity="0.55"/>
<rect x="294.43" y="498.44" width="5.90" height="2.01" fill="#c98a5a" stroke="#222" stroke-width="0.25" stroke-opacity="0.55"/>
<rect x="301.22" y="503.84" width="5.90" height="8.16" fill="#f29bc9" stroke="#222" stroke-width="0.25" stroke-opacity="0.55"/>
<rect x="301.22" y="502.45" width="5.90" height="1.38" fill="#9c5327" stroke="#222" stroke-width="0.25" stroke-opacity="0.55"/>
<rect x="301.22" y="501.45" width="5.90" height="1.00" fill="#c98a5a" stroke="#222" stroke-width="0.25" stroke-opacity="0.55"/>
<rect x="308.01" y="495.04" width="5.90" height="16.96" fill="#f29bc9" stroke="#222" stroke-width="0.25" stroke-opacity="0.55"/>
<rect x="308.01" y="491.90" width="5.90" height="3.14" fill="#ee7fb6" stroke="#222" stroke-width="0.25" stroke-opacity="0.55"/>
<rect x="308.01" y="486.88" width="5.90" height="5.02" fill="#9c5327" stroke="#222" stroke-width="0.25" stroke-opacity="0.55"/>
<rect x="308.01" y="484.24" width="5.90" height="2.64" fill="#c98a5a" stroke="#222" stroke-width="0.25" stroke-opacity="0.55"/>
<rect x="314.80" y="510.74" width="5.90" height="1.26" fill="#f29bc9" stroke="#222" stroke-width="0.25" stroke-opacity="0.55"/>
<rect x="314.80" y="508.73" width="5.90" height="2.01" fill="#9c5327" stroke="#222" stroke-width="0.25" stroke-opacity="0.55"/>
<rect x="314.80" y="507.98" width="5.90" height="0.75" fill="#2a2a2a" stroke="#222" stroke-width="0.25" stroke-opacity="0.55"/>
<rect x="321.59" y="510.12" width="5.90" height="1.88" fill="#f29bc9" stroke="#222" stroke-width="0.25" stroke-opacity="0.55"/>
<rect x="321.59" y="508.73" width="5.90" height="1.38" fill="#9c5327" stroke="#222" stroke-width="0.25" stroke-opacity="0.55"/>
<rect x="321.59" y="508.11" width="5.90" height="0.63" fill="#2a2a2a" stroke="#222" stroke-width="0.25" stroke-opacity="0.55"/>
<rect x="328.38" y="511.12" width="5.90" height="0.88" fill="#2a2a2a" stroke="#222" stroke-width="0.25" stroke-opacity="0.55"/>
<rect x="328.38" y="510.37" width="5.90" height="0.75" fill="#bdbdbd" stroke="#222" stroke-width="0.25" stroke-opacity="0.55"/>
<rect x="335.17" y="511.25" width="5.90" height="0.75" fill="#f29bc9" stroke="#222" stroke-width="0.25" stroke-opacity="0.55"/>
<rect x="335.17" y="510.24" width="5.90" height="1.00" fill="#9c5327" stroke="#222" stroke-width="0.25" stroke-opacity="0.55"/>
<rect x="335.17" y="509.61" width="5.90" height="0.63" fill="#2a2a2a" stroke="#222" stroke-width="0.25" stroke-opacity="0.55"/>
<rect x="341.96" y="510.74" width="5.90" height="1.26" fill="#f29bc9" stroke="#222" stroke-width="0.25" stroke-opacity="0.55"/>
<rect x="341.96" y="509.86" width="5.90" height="0.88" fill="#9c5327" stroke="#222" stroke-width="0.25" stroke-opacity="0.55"/>
<rect x="341.96" y="509.11" width="5.90" height="0.75" fill="#2a2a2a" stroke="#222" stroke-width="0.25" stroke-opacity="0.55"/>
<rect x="348.75" y="511.00" width="5.90" height="1.00" fill="#2a2a2a" stroke="#222" stroke-width="0.25" stroke-opacity="0.55"/>
<rect x="355.54" y="510.74" width="5.90" height="1.26" fill="#f29bc9" stroke="#222" stroke-width="0.25" stroke-opacity="0.55"/>
<rect x="355.54" y="509.24" width="5.90" height="1.51" fill="#9c5327" stroke="#222" stroke-width="0.25" stroke-opacity="0.55"/>
<rect x="355.54" y="508.61" width="5.90" height="0.63" fill="#c98a5a" stroke="#222" stroke-width="0.25" stroke-opacity="0.55"/>
<rect x="362.33" y="511.00" width="5.90" height="1.00" fill="#2a2a2a" stroke="#222" stroke-width="0.25" stroke-opacity="0.55"/>
<rect x="369.12" y="511.00" width="5.90" height="1.00" fill="#f29bc9" stroke="#222" stroke-width="0.25" stroke-opacity="0.55"/>
<rect x="369.12" y="510.12" width="5.90" height="0.88" fill="#9c5327" stroke="#222" stroke-width="0.25" stroke-opacity="0.55"/>
<rect x="369.12" y="509.36" width="5.90" height="0.75" fill="#2a2a2a" stroke="#222" stroke-width="0.25" stroke-opacity="0.55"/>
<rect x="375.91" y="511.37" width="5.90" height="0.63" fill="#2a2a2a" stroke="#222" stroke-width="0.25" stroke-opacity="0.55"/>
<rect x="382.70" y="510.74" width="5.90" height="1.26" fill="#2a2a2a" stroke="#222" stroke-width="0.25" stroke-opacity="0.55"/>
<rect x="389.49" y="511.37" width="5.90" height="0.63" fill="#2a2a2a" stroke="#222" stroke-width="0.25" stroke-opacity="0.55"/>
<rect x="396.28" y="511.25" width="5.90" height="0.75" fill="#2a2a2a" stroke="#222" stroke-width="0.25" stroke-opacity="0.55"/>
<rect x="403.07" y="510.87" width="5.90" height="1.13" fill="#bdbdbd" stroke="#222" stroke-width="0.25" stroke-opacity="0.55"/>
<line x1="279.10" y1="512.00" x2="409.60" y2="512.00" stroke="#111" stroke-width="0.8" stroke-linecap="butt"/>
<line x1="283.80" y1="512.00" x2="283.80" y2="514.40" stroke="#111" stroke-width="0.55" stroke-linecap="butt"/>
<line x1="290.59" y1="512.00" x2="290.59" y2="514.40" stroke="#111" stroke-width="0.55" stroke-linecap="butt"/>
<line x1="297.38" y1="512.00" x2="297.38" y2="514.40" stroke="#111" stroke-width="0.55" stroke-linecap="butt"/>
<line x1="304.17" y1="512.00" x2="304.17" y2="514.40" stroke="#111" stroke-width="0.55" stroke-linecap="butt"/>
<line x1="310.96" y1="512.00" x2="310.96" y2="514.40" stroke="#111" stroke-width="0.55" stroke-linecap="butt"/>
<line x1="317.75" y1="512.00" x2="317.75" y2="514.40" stroke="#111" stroke-width="0.55" stroke-linecap="butt"/>
<line x1="324.54" y1="512.00" x2="324.54" y2="514.40" stroke="#111" stroke-width="0.55" stroke-linecap="butt"/>
<line x1="331.33" y1="512.00" x2="331.33" y2="514.40" stroke="#111" stroke-width="0.55" stroke-linecap="butt"/>
<line x1="338.12" y1="512.00" x2="338.12" y2="514.40" stroke="#111" stroke-width="0.55" stroke-linecap="butt"/>
<line x1="344.91" y1="512.00" x2="344.91" y2="514.40" stroke="#111" stroke-width="0.55" stroke-linecap="butt"/>
<line x1="351.70" y1="512.00" x2="351.70" y2="514.40" stroke="#111" stroke-width="0.55" stroke-linecap="butt"/>
<line x1="358.49" y1="512.00" x2="358.49" y2="514.40" stroke="#111" stroke-width="0.55" stroke-linecap="butt"/>
<line x1="365.28" y1="512.00" x2="365.28" y2="514.40" stroke="#111" stroke-width="0.55" stroke-linecap="butt"/>
<line x1="372.07" y1="512.00" x2="372.07" y2="514.40" stroke="#111" stroke-width="0.55" stroke-linecap="butt"/>
<line x1="378.86" y1="512.00" x2="378.86" y2="514.40" stroke="#111" stroke-width="0.55" stroke-linecap="butt"/>
<line x1="385.65" y1="512.00" x2="385.65" y2="514.40" stroke="#111" stroke-width="0.55" stroke-linecap="butt"/>
<line x1="392.44" y1="512.00" x2="392.44" y2="514.40" stroke="#111" stroke-width="0.55" stroke-linecap="butt"/>
<line x1="399.23" y1="512.00" x2="399.23" y2="514.40" stroke="#111" stroke-width="0.55" stroke-linecap="butt"/>
<line x1="406.02" y1="512.00" x2="406.02" y2="514.40" stroke="#111" stroke-width="0.55" stroke-linecap="butt"/>
<rect x="279.90" y="529.80" width="28.16" height="49.50" fill="#efefef"/>
<line x1="307.87" y1="529.80" x2="307.87" y2="579.70" stroke="#aaaaaa" stroke-width="0.5" stroke-linecap="butt"/>
<line x1="279.50" y1="529.10" x2="279.50" y2="580.10" stroke="#111" stroke-width="0.85" stroke-linecap="butt"/>
<line x1="276.40" y1="579.70" x2="279.50" y2="579.70" stroke="#111" stroke-width="0.65" stroke-linecap="butt"/>
<text x="273.90" y="581.54" font-size="5.1" text-anchor="end" font-weight="normal" fill="#333">0</text>
<line x1="276.40" y1="567.03" x2="279.50" y2="567.03" stroke="#111" stroke-width="0.65" stroke-linecap="butt"/>
<text x="273.90" y="568.87" font-size="5.1" text-anchor="end" font-weight="normal" fill="#333">40</text>
<line x1="276.40" y1="554.36" x2="279.50" y2="554.36" stroke="#111" stroke-width="0.65" stroke-linecap="butt"/>
<text x="273.90" y="556.20" font-size="5.1" text-anchor="end" font-weight="normal" fill="#333">80</text>
<line x1="276.40" y1="541.70" x2="279.50" y2="541.70" stroke="#111" stroke-width="0.65" stroke-linecap="butt"/>
<text x="273.90" y="543.53" font-size="5.1" text-anchor="end" font-weight="normal" fill="#333">120</text>
<rect x="281.05" y="579.07" width="5.50" height="0.63" fill="#3b4a6b" stroke="#222" stroke-width="0.25" stroke-opacity="0.55"/>
<rect x="287.84" y="579.07" width="5.50" height="0.63" fill="#2a2a2a" stroke="#222" stroke-width="0.25" stroke-opacity="0.55"/>
<rect x="287.84" y="577.32" width="5.50" height="1.74" fill="#3a7ebd" stroke="#222" stroke-width="0.25" stroke-opacity="0.55"/>
<rect x="294.63" y="579.07" width="5.50" height="0.63" fill="#3b4a6b" stroke="#222" stroke-width="0.25" stroke-opacity="0.55"/>
<rect x="301.42" y="579.07" width="5.50" height="0.63" fill="#3b4a6b" stroke="#222" stroke-width="0.25" stroke-opacity="0.55"/>
<rect x="308.21" y="578.12" width="5.50" height="1.58" fill="#7a2a2a" stroke="#222" stroke-width="0.25" stroke-opacity="0.55"/>
<rect x="315.00" y="578.75" width="5.50" height="0.95" fill="#2a2a2a" stroke="#222" stroke-width="0.25" stroke-opacity="0.55"/>
<rect x="315.00" y="573.37" width="5.50" height="5.38" fill="#3a7ebd" stroke="#222" stroke-width="0.25" stroke-opacity="0.55"/>
<rect x="315.00" y="570.83" width="5.50" height="2.53" fill="#d7191f" stroke="#222" stroke-width="0.25" stroke-opacity="0.55"/>
<rect x="315.00" y="568.62" width="5.50" height="2.22" fill="#e4494f" stroke="#222" stroke-width="0.25" stroke-opacity="0.55"/>
<rect x="321.79" y="578.75" width="5.50" height="0.95" fill="#7a2a2a" stroke="#222" stroke-width="0.25" stroke-opacity="0.55"/>
<rect x="321.79" y="577.01" width="5.50" height="1.74" fill="#e4494f" stroke="#222" stroke-width="0.25" stroke-opacity="0.55"/>
<rect x="328.58" y="577.17" width="5.50" height="2.53" fill="#e4494f" stroke="#222" stroke-width="0.25" stroke-opacity="0.55"/>
<rect x="335.37" y="578.12" width="5.50" height="1.58" fill="#2a2a2a" stroke="#222" stroke-width="0.25" stroke-opacity="0.55"/>
<rect x="335.37" y="574.95" width="5.50" height="3.17" fill="#d7191f" stroke="#222" stroke-width="0.25" stroke-opacity="0.55"/>
<rect x="335.37" y="556.58" width="5.50" height="18.37" fill="#e4494f" stroke="#222" stroke-width="0.25" stroke-opacity="0.55"/>
<rect x="342.16" y="578.12" width="5.50" height="1.58" fill="#2a2a2a" stroke="#222" stroke-width="0.25" stroke-opacity="0.55"/>
<rect x="342.16" y="573.37" width="5.50" height="4.75" fill="#3a7ebd" stroke="#222" stroke-width="0.25" stroke-opacity="0.55"/>
<rect x="342.16" y="570.83" width="5.50" height="2.53" fill="#d7191f" stroke="#222" stroke-width="0.25" stroke-opacity="0.55"/>
<rect x="342.16" y="565.77" width="5.50" height="5.07" fill="#e4494f" stroke="#222" stroke-width="0.25" stroke-opacity="0.55"/>
<rect x="348.95" y="578.12" width="5.50" height="1.58" fill="#2a2a2a" stroke="#222" stroke-width="0.25" stroke-opacity="0.55"/>
<rect x="348.95" y="576.53" width="5.50" height="1.58" fill="#3a7ebd" stroke="#222" stroke-width="0.25" stroke-opacity="0.55"/>
<rect x="348.95" y="566.08" width="5.50" height="10.45" fill="#d7191f" stroke="#222" stroke-width="0.25" stroke-opacity="0.55"/>
<rect x="348.95" y="537.58" width="5.50" height="28.50" fill="#e4494f" stroke="#222" stroke-width="0.25" stroke-opacity="0.55"/>
<rect x="355.74" y="578.43" width="5.50" height="1.27" fill="#2a2a2a" stroke="#222" stroke-width="0.25" stroke-opacity="0.55"/>
<rect x="355.74" y="573.68" width="5.50" height="4.75" fill="#e4494f" stroke="#222" stroke-width="0.25" stroke-opacity="0.55"/>
<rect x="362.53" y="578.12" width="5.50" height="1.58" fill="#2a2a2a" stroke="#222" stroke-width="0.25" stroke-opacity="0.55"/>
<rect x="362.53" y="574.95" width="5.50" height="3.17" fill="#d7191f" stroke="#222" stroke-width="0.25" stroke-opacity="0.55"/>
<rect x="362.53" y="562.28" width="5.50" height="12.67" fill="#e4494f" stroke="#222" stroke-width="0.25" stroke-opacity="0.55"/>
<rect x="369.32" y="578.12" width="5.50" height="1.58" fill="#2a2a2a" stroke="#222" stroke-width="0.25" stroke-opacity="0.55"/>
<rect x="369.32" y="570.83" width="5.50" height="7.28" fill="#3a7ebd" stroke="#222" stroke-width="0.25" stroke-opacity="0.55"/>
<rect x="369.32" y="568.62" width="5.50" height="2.22" fill="#d7191f" stroke="#222" stroke-width="0.25" stroke-opacity="0.55"/>
<rect x="369.32" y="531.56" width="5.50" height="37.05" fill="#e4494f" stroke="#222" stroke-width="0.25" stroke-opacity="0.55"/>
<rect x="376.11" y="578.12" width="5.50" height="1.58" fill="#2a2a2a" stroke="#222" stroke-width="0.25" stroke-opacity="0.55"/>
<rect x="376.11" y="575.90" width="5.50" height="2.22" fill="#d7191f" stroke="#222" stroke-width="0.25" stroke-opacity="0.55"/>
<rect x="376.11" y="553.10" width="5.50" height="22.80" fill="#e4494f" stroke="#222" stroke-width="0.25" stroke-opacity="0.55"/>
<rect x="382.90" y="579.07" width="5.50" height="0.63" fill="#2a2a2a" stroke="#222" stroke-width="0.25" stroke-opacity="0.55"/>
<rect x="382.90" y="573.84" width="5.50" height="5.23" fill="#e4494f" stroke="#222" stroke-width="0.25" stroke-opacity="0.55"/>
<rect x="389.69" y="573.68" width="5.50" height="6.02" fill="#3a7ebd" stroke="#222" stroke-width="0.25" stroke-opacity="0.55"/>
<rect x="389.69" y="572.10" width="5.50" height="1.58" fill="#d7191f" stroke="#222" stroke-width="0.25" stroke-opacity="0.55"/>
<rect x="389.69" y="564.50" width="5.50" height="7.60" fill="#e4494f" stroke="#222" stroke-width="0.25" stroke-opacity="0.55"/>
<rect x="396.48" y="574.95" width="5.50" height="4.75" fill="#3a7ebd" stroke="#222" stroke-width="0.25" stroke-opacity="0.55"/>
<rect x="396.48" y="574.00" width="5.50" height="0.95" fill="#d7191f" stroke="#222" stroke-width="0.25" stroke-opacity="0.55"/>
<rect x="396.48" y="566.40" width="5.50" height="7.60" fill="#e4494f" stroke="#222" stroke-width="0.25" stroke-opacity="0.55"/>
<rect x="403.27" y="578.75" width="5.50" height="0.95" fill="#2a2a2a" stroke="#222" stroke-width="0.25" stroke-opacity="0.55"/>
<rect x="403.27" y="553.41" width="5.50" height="25.34" fill="#e4494f" stroke="#222" stroke-width="0.25" stroke-opacity="0.55"/>
<line x1="279.10" y1="579.70" x2="409.60" y2="579.70" stroke="#111" stroke-width="0.8" stroke-linecap="butt"/>
<line x1="283.80" y1="579.70" x2="283.80" y2="582.10" stroke="#111" stroke-width="0.55" stroke-linecap="butt"/>
<line x1="290.59" y1="579.70" x2="290.59" y2="582.10" stroke="#111" stroke-width="0.55" stroke-linecap="butt"/>
<line x1="297.38" y1="579.70" x2="297.38" y2="582.10" stroke="#111" stroke-width="0.55" stroke-linecap="butt"/>
<line x1="304.17" y1="579.70" x2="304.17" y2="582.10" stroke="#111" stroke-width="0.55" stroke-linecap="butt"/>
<line x1="310.96" y1="579.70" x2="310.96" y2="582.10" stroke="#111" stroke-width="0.55" stroke-linecap="butt"/>
<line x1="317.75" y1="579.70" x2="317.75" y2="582.10" stroke="#111" stroke-width="0.55" stroke-linecap="butt"/>
<line x1="324.54" y1="579.70" x2="324.54" y2="582.10" stroke="#111" stroke-width="0.55" stroke-linecap="butt"/>
<line x1="331.33" y1="579.70" x2="331.33" y2="582.10" stroke="#111" stroke-width="0.55" stroke-linecap="butt"/>
<line x1="338.12" y1="579.70" x2="338.12" y2="582.10" stroke="#111" stroke-width="0.55" stroke-linecap="butt"/>
<line x1="344.91" y1="579.70" x2="344.91" y2="582.10" stroke="#111" stroke-width="0.55" stroke-linecap="butt"/>
<line x1="351.70" y1="579.70" x2="351.70" y2="582.10" stroke="#111" stroke-width="0.55" stroke-linecap="butt"/>
<line x1="358.49" y1="579.70" x2="358.49" y2="582.10" stroke="#111" stroke-width="0.55" stroke-linecap="butt"/>
<line x1="365.28" y1="579.70" x2="365.28" y2="582.10" stroke="#111" stroke-width="0.55" stroke-linecap="butt"/>
<line x1="372.07" y1="579.70" x2="372.07" y2="582.10" stroke="#111" stroke-width="0.55" stroke-linecap="butt"/>
<line x1="378.86" y1="579.70" x2="378.86" y2="582.10" stroke="#111" stroke-width="0.55" stroke-linecap="butt"/>
<line x1="385.65" y1="579.70" x2="385.65" y2="582.10" stroke="#111" stroke-width="0.55" stroke-linecap="butt"/>
<line x1="392.44" y1="579.70" x2="392.44" y2="582.10" stroke="#111" stroke-width="0.55" stroke-linecap="butt"/>
<line x1="399.23" y1="579.70" x2="399.23" y2="582.10" stroke="#111" stroke-width="0.55" stroke-linecap="butt"/>
<line x1="406.02" y1="579.70" x2="406.02" y2="582.10" stroke="#111" stroke-width="0.55" stroke-linecap="butt"/>
<line x1="430.40" y1="204.20" x2="430.40" y2="254.70" stroke="#111" stroke-width="0.85" stroke-linecap="butt"/>
<line x1="427.30" y1="254.30" x2="430.40" y2="254.30" stroke="#111" stroke-width="0.65" stroke-linecap="butt"/>
<text x="424.80" y="256.14" font-size="5.1" text-anchor="end" font-weight="normal" fill="#333">0</text>
<line x1="427.30" y1="244.88" x2="430.40" y2="244.88" stroke="#111" stroke-width="0.65" stroke-linecap="butt"/>
<text x="424.80" y="246.71" font-size="5.1" text-anchor="end" font-weight="normal" fill="#333">25</text>
<line x1="427.30" y1="235.45" x2="430.40" y2="235.45" stroke="#111" stroke-width="0.65" stroke-linecap="butt"/>
<text x="424.80" y="237.29" font-size="5.1" text-anchor="end" font-weight="normal" fill="#333">50</text>
<line x1="427.30" y1="226.03" x2="430.40" y2="226.03" stroke="#111" stroke-width="0.65" stroke-linecap="butt"/>
<text x="424.80" y="227.86" font-size="5.1" text-anchor="end" font-weight="normal" fill="#333">75</text>
<line x1="427.30" y1="216.60" x2="430.40" y2="216.60" stroke="#111" stroke-width="0.65" stroke-linecap="butt"/>
<text x="424.80" y="218.44" font-size="5.1" text-anchor="end" font-weight="normal" fill="#333">100</text>
<line x1="427.30" y1="207.18" x2="430.40" y2="207.18" stroke="#111" stroke-width="0.65" stroke-linecap="butt"/>
<text x="424.80" y="209.01" font-size="5.1" text-anchor="end" font-weight="normal" fill="#333">125</text>
<rect x="431.45" y="248.27" width="5.50" height="6.03" fill="#3a7ebd" stroke="#222" stroke-width="0.25" stroke-opacity="0.55"/>
<rect x="438.33" y="253.17" width="5.50" height="1.13" fill="#2a2a2a" stroke="#222" stroke-width="0.25" stroke-opacity="0.55"/>
<rect x="438.33" y="252.04" width="5.50" height="1.13" fill="#7a4a4a" stroke="#222" stroke-width="0.25" stroke-opacity="0.55"/>
<rect x="438.33" y="216.03" width="5.50" height="36.00" fill="#e4494f" stroke="#222" stroke-width="0.25" stroke-opacity="0.55"/>
<rect x="445.21" y="250.53" width="5.50" height="3.77" fill="#3a7ebd" stroke="#222" stroke-width="0.25" stroke-opacity="0.55"/>
<rect x="445.21" y="249.78" width="5.50" height="0.75" fill="#f08a2a" stroke="#222" stroke-width="0.25" stroke-opacity="0.55"/>
<rect x="445.21" y="247.51" width="5.50" height="2.26" fill="#d7191f" stroke="#222" stroke-width="0.25" stroke-opacity="0.55"/>
<rect x="445.21" y="244.12" width="5.50" height="3.39" fill="#e4494f" stroke="#222" stroke-width="0.25" stroke-opacity="0.55"/>
<rect x="452.09" y="249.78" width="5.50" height="4.52" fill="#3a7ebd" stroke="#222" stroke-width="0.25" stroke-opacity="0.55"/>
<rect x="452.09" y="246.76" width="5.50" height="3.02" fill="#d7191f" stroke="#222" stroke-width="0.25" stroke-opacity="0.55"/>
<rect x="452.09" y="207.18" width="5.50" height="39.59" fill="#e4494f" stroke="#222" stroke-width="0.25" stroke-opacity="0.55"/>
<rect x="458.97" y="239.97" width="5.50" height="14.33" fill="#d7191f" stroke="#222" stroke-width="0.25" stroke-opacity="0.55"/>
<rect x="472.73" y="251.28" width="5.50" height="3.02" fill="#3a7ebd" stroke="#222" stroke-width="0.25" stroke-opacity="0.55"/>
<rect x="472.73" y="250.53" width="5.50" height="0.75" fill="#2a2a2a" stroke="#222" stroke-width="0.25" stroke-opacity="0.55"/>
<rect x="472.73" y="239.03" width="5.50" height="11.50" fill="#e4494f" stroke="#222" stroke-width="0.25" stroke-opacity="0.55"/>
<rect x="479.61" y="253.92" width="5.50" height="0.38" fill="#2a2a2a" stroke="#222" stroke-width="0.25" stroke-opacity="0.55"/>
<rect x="486.49" y="252.42" width="5.50" height="1.89" fill="#3a7ebd" stroke="#222" stroke-width="0.25" stroke-opacity="0.55"/>
<rect x="486.49" y="218.49" width="5.50" height="33.93" fill="#dc2c33" stroke="#222" stroke-width="0.25" stroke-opacity="0.55"/>
<rect x="493.37" y="250.53" width="5.50" height="3.77" fill="#3a7ebd" stroke="#222" stroke-width="0.25" stroke-opacity="0.55"/>
<rect x="493.37" y="249.02" width="5.50" height="1.51" fill="#7a2a3a" stroke="#222" stroke-width="0.25" stroke-opacity="0.55"/>
<rect x="493.37" y="233.56" width="5.50" height="15.46" fill="#e4494f" stroke="#222" stroke-width="0.25" stroke-opacity="0.55"/>
<rect x="500.25" y="252.42" width="5.50" height="1.89" fill="#d7191f" stroke="#222" stroke-width="0.25" stroke-opacity="0.55"/>
<rect x="507.13" y="253.17" width="5.50" height="1.13" fill="#2a2a2a" stroke="#222" stroke-width="0.25" stroke-opacity="0.55"/>
<rect x="507.13" y="210.38" width="5.50" height="42.79" fill="#e4494f" stroke="#222" stroke-width="0.25" stroke-opacity="0.55"/>
<rect x="514.01" y="239.97" width="5.50" height="14.33" fill="#e4494f" stroke="#222" stroke-width="0.25" stroke-opacity="0.55"/>
<line x1="430.00" y1="254.30" x2="520.50" y2="254.30" stroke="#111" stroke-width="0.8" stroke-linecap="butt"/>
<line x1="434.20" y1="254.30" x2="434.20" y2="256.70" stroke="#111" stroke-width="0.55" stroke-linecap="butt"/>
<line x1="441.08" y1="254.30" x2="441.08" y2="256.70" stroke="#111" stroke-width="0.55" stroke-linecap="butt"/>
<line x1="447.96" y1="254.30" x2="447.96" y2="256.70" stroke="#111" stroke-width="0.55" stroke-linecap="butt"/>
<line x1="454.84" y1="254.30" x2="454.84" y2="256.70" stroke="#111" stroke-width="0.55" stroke-linecap="butt"/>
<line x1="461.72" y1="254.30" x2="461.72" y2="256.70" stroke="#111" stroke-width="0.55" stroke-linecap="butt"/>
<line x1="468.60" y1="254.30" x2="468.60" y2="256.70" stroke="#111" stroke-width="0.55" stroke-linecap="butt"/>
<line x1="475.48" y1="254.30" x2="475.48" y2="256.70" stroke="#111" stroke-width="0.55" stroke-linecap="butt"/>
<line x1="482.36" y1="254.30" x2="482.36" y2="256.70" stroke="#111" stroke-width="0.55" stroke-linecap="butt"/>
<line x1="489.24" y1="254.30" x2="489.24" y2="256.70" stroke="#111" stroke-width="0.55" stroke-linecap="butt"/>
<line x1="496.12" y1="254.30" x2="496.12" y2="256.70" stroke="#111" stroke-width="0.55" stroke-linecap="butt"/>
<line x1="503.00" y1="254.30" x2="503.00" y2="256.70" stroke="#111" stroke-width="0.55" stroke-linecap="butt"/>
<line x1="509.88" y1="254.30" x2="509.88" y2="256.70" stroke="#111" stroke-width="0.55" stroke-linecap="butt"/>
<line x1="516.76" y1="254.30" x2="516.76" y2="256.70" stroke="#111" stroke-width="0.55" stroke-linecap="butt"/>
<line x1="430.40" y1="268.40" x2="430.40" y2="319.20" stroke="#111" stroke-width="0.85" stroke-linecap="butt"/>
<line x1="427.30" y1="318.80" x2="430.40" y2="318.80" stroke="#111" stroke-width="0.65" stroke-linecap="butt"/>
<text x="424.80" y="320.64" font-size="5.1" text-anchor="end" font-weight="normal" fill="#333">0</text>
<line x1="427.30" y1="309.35" x2="430.40" y2="309.35" stroke="#111" stroke-width="0.65" stroke-linecap="butt"/>
<text x="424.80" y="311.19" font-size="5.1" text-anchor="end" font-weight="normal" fill="#333">25</text>
<line x1="427.30" y1="299.90" x2="430.40" y2="299.90" stroke="#111" stroke-width="0.65" stroke-linecap="butt"/>
<text x="424.80" y="301.74" font-size="5.1" text-anchor="end" font-weight="normal" fill="#333">50</text>
<line x1="427.30" y1="290.45" x2="430.40" y2="290.45" stroke="#111" stroke-width="0.65" stroke-linecap="butt"/>
<text x="424.80" y="292.29" font-size="5.1" text-anchor="end" font-weight="normal" fill="#333">75</text>
<line x1="427.30" y1="281.00" x2="430.40" y2="281.00" stroke="#111" stroke-width="0.65" stroke-linecap="butt"/>
<text x="424.80" y="282.84" font-size="5.1" text-anchor="end" font-weight="normal" fill="#333">100</text>
<line x1="427.30" y1="271.55" x2="430.40" y2="271.55" stroke="#111" stroke-width="0.65" stroke-linecap="butt"/>
<text x="424.80" y="273.39" font-size="5.1" text-anchor="end" font-weight="normal" fill="#333">125</text>
<rect x="431.45" y="317.67" width="5.50" height="1.13" fill="#3b4a6b" stroke="#222" stroke-width="0.25" stroke-opacity="0.55"/>
<rect x="438.33" y="316.72" width="5.50" height="2.08" fill="#3a7ebd" stroke="#222" stroke-width="0.25" stroke-opacity="0.55"/>
<rect x="452.09" y="308.59" width="5.50" height="10.21" fill="#3a7ebd" stroke="#222" stroke-width="0.25" stroke-opacity="0.55"/>
<rect x="452.09" y="303.68" width="5.50" height="4.91" fill="#d7191f" stroke="#222" stroke-width="0.25" stroke-opacity="0.55"/>
<rect x="452.09" y="271.55" width="5.50" height="32.13" fill="#e4494f" stroke="#222" stroke-width="0.25" stroke-opacity="0.55"/>
<rect x="465.85" y="311.24" width="5.50" height="7.56" fill="#d7191f" stroke="#222" stroke-width="0.25" stroke-opacity="0.55"/>
<rect x="465.85" y="271.55" width="5.50" height="39.69" fill="#e4494f" stroke="#222" stroke-width="0.25" stroke-opacity="0.55"/>
<rect x="479.61" y="316.91" width="5.50" height="1.89" fill="#2a2a2a" stroke="#222" stroke-width="0.25" stroke-opacity="0.55"/>
<rect x="479.61" y="308.22" width="5.50" height="8.69" fill="#d7191f" stroke="#222" stroke-width="0.25" stroke-opacity="0.55"/>
<rect x="479.61" y="271.55" width="5.50" height="36.67" fill="#e4494f" stroke="#222" stroke-width="0.25" stroke-opacity="0.55"/>
<rect x="486.49" y="316.91" width="5.50" height="1.89" fill="#2f5f93" stroke="#222" stroke-width="0.25" stroke-opacity="0.55"/>
<rect x="493.37" y="318.50" width="5.50" height="0.30" fill="#2a2a2a" stroke="#222" stroke-width="0.25" stroke-opacity="0.55"/>
<rect x="500.25" y="318.57" width="5.50" height="0.23" fill="#2a2a2a" stroke="#222" stroke-width="0.25" stroke-opacity="0.55"/>
<rect x="507.13" y="318.50" width="5.50" height="0.30" fill="#2a2a2a" stroke="#222" stroke-width="0.25" stroke-opacity="0.55"/>
<line x1="430.00" y1="318.80" x2="520.50" y2="318.80" stroke="#111" stroke-width="0.8" stroke-linecap="butt"/>
<line x1="434.20" y1="318.80" x2="434.20" y2="321.20" stroke="#111" stroke-width="0.55" stroke-linecap="butt"/>
<line x1="441.08" y1="318.80" x2="441.08" y2="321.20" stroke="#111" stroke-width="0.55" stroke-linecap="butt"/>
<line x1="447.96" y1="318.80" x2="447.96" y2="321.20" stroke="#111" stroke-width="0.55" stroke-linecap="butt"/>
<line x1="454.84" y1="318.80" x2="454.84" y2="321.20" stroke="#111" stroke-width="0.55" stroke-linecap="butt"/>
<line x1="461.72" y1="318.80" x2="461.72" y2="321.20" stroke="#111" stroke-width="0.55" stroke-linecap="butt"/>
<line x1="468.60" y1="318.80" x2="468.60" y2="321.20" stroke="#111" stroke-width="0.55" stroke-linecap="butt"/>
<line x1="475.48" y1="318.80" x2="475.48" y2="321.20" stroke="#111" stroke-width="0.55" stroke-linecap="butt"/>
<line x1="482.36" y1="318.80" x2="482.36" y2="321.20" stroke="#111" stroke-width="0.55" stroke-linecap="butt"/>
<line x1="489.24" y1="318.80" x2="489.24" y2="321.20" stroke="#111" stroke-width="0.55" stroke-linecap="butt"/>
<line x1="496.12" y1="318.80" x2="496.12" y2="321.20" stroke="#111" stroke-width="0.55" stroke-linecap="butt"/>
<line x1="503.00" y1="318.80" x2="503.00" y2="321.20" stroke="#111" stroke-width="0.55" stroke-linecap="butt"/>
<line x1="509.88" y1="318.80" x2="509.88" y2="321.20" stroke="#111" stroke-width="0.55" stroke-linecap="butt"/>
<line x1="516.76" y1="318.80" x2="516.76" y2="321.20" stroke="#111" stroke-width="0.55" stroke-linecap="butt"/>
<line x1="430.40" y1="335.70" x2="430.40" y2="383.80" stroke="#111" stroke-width="0.85" stroke-linecap="butt"/>
<line x1="427.30" y1="383.40" x2="430.40" y2="383.40" stroke="#111" stroke-width="0.65" stroke-linecap="butt"/>
<text x="424.80" y="385.24" font-size="5.1" text-anchor="end" font-weight="normal" fill="#333">0</text>
<line x1="427.30" y1="371.40" x2="430.40" y2="371.40" stroke="#111" stroke-width="0.65" stroke-linecap="butt"/>
<text x="424.80" y="373.24" font-size="5.1" text-anchor="end" font-weight="normal" fill="#333">25</text>
<line x1="427.30" y1="359.40" x2="430.40" y2="359.40" stroke="#111" stroke-width="0.65" stroke-linecap="butt"/>
<text x="424.80" y="361.24" font-size="5.1" text-anchor="end" font-weight="normal" fill="#333">50</text>
<line x1="427.30" y1="347.40" x2="430.40" y2="347.40" stroke="#111" stroke-width="0.65" stroke-linecap="butt"/>
<text x="424.80" y="349.24" font-size="5.1" text-anchor="end" font-weight="normal" fill="#333">75</text>
<rect x="431.45" y="379.56" width="5.50" height="3.84" fill="#8fce87" stroke="#222" stroke-width="0.25" stroke-opacity="0.55"/>
<rect x="431.45" y="377.16" width="5.50" height="2.40" fill="#3a7ebd" stroke="#222" stroke-width="0.25" stroke-opacity="0.55"/>
<rect x="431.45" y="376.20" width="5.50" height="0.96" fill="#2a2a2a" stroke="#222" stroke-width="0.25" stroke-opacity="0.55"/>
<rect x="438.33" y="378.12" width="5.50" height="5.28" fill="#8fce87" stroke="#222" stroke-width="0.25" stroke-opacity="0.55"/>
<rect x="438.33" y="376.68" width="5.50" height="1.44" fill="#2a2a2a" stroke="#222" stroke-width="0.25" stroke-opacity="0.55"/>
<rect x="445.21" y="381.48" width="5.50" height="1.92" fill="#8fce87" stroke="#222" stroke-width="0.25" stroke-opacity="0.55"/>
<rect x="445.21" y="380.42" width="5.50" height="1.06" fill="#9c5327" stroke="#222" stroke-width="0.25" stroke-opacity="0.55"/>
<rect x="452.09" y="381.96" width="5.50" height="1.44" fill="#8fce87" stroke="#222" stroke-width="0.25" stroke-opacity="0.55"/>
<rect x="452.09" y="380.52" width="5.50" height="1.44" fill="#8e4aa8" stroke="#222" stroke-width="0.25" stroke-opacity="0.55"/>
<rect x="452.09" y="379.32" width="5.50" height="1.20" fill="#e4494f" stroke="#222" stroke-width="0.25" stroke-opacity="0.55"/>
<rect x="458.97" y="377.64" width="5.50" height="5.76" fill="#8fce87" stroke="#222" stroke-width="0.25" stroke-opacity="0.55"/>
<rect x="458.97" y="376.20" width="5.50" height="1.44" fill="#2a2a2a" stroke="#222" stroke-width="0.25" stroke-opacity="0.55"/>
<rect x="458.97" y="359.40" width="5.50" height="16.80" fill="#d7191f" stroke="#222" stroke-width="0.25" stroke-opacity="0.55"/>
<rect x="458.97" y="354.12" width="5.50" height="5.28" fill="#e4494f" stroke="#222" stroke-width="0.25" stroke-opacity="0.55"/>
<rect x="465.85" y="377.16" width="5.50" height="6.24" fill="#8fce87" stroke="#222" stroke-width="0.25" stroke-opacity="0.55"/>
<rect x="465.85" y="375.72" width="5.50" height="1.44" fill="#2a2a2a" stroke="#222" stroke-width="0.25" stroke-opacity="0.55"/>
<rect x="465.85" y="370.44" width="5.50" height="5.28" fill="#e4494f" stroke="#222" stroke-width="0.25" stroke-opacity="0.55"/>
<rect x="472.73" y="373.32" width="5.50" height="10.08" fill="#8fce87" stroke="#222" stroke-width="0.25" stroke-opacity="0.55"/>
<rect x="472.73" y="371.40" width="5.50" height="1.92" fill="#2a2a2a" stroke="#222" stroke-width="0.25" stroke-opacity="0.55"/>
<rect x="479.61" y="375.24" width="5.50" height="8.16" fill="#8fce87" stroke="#222" stroke-width="0.25" stroke-opacity="0.55"/>
<rect x="479.61" y="373.32" width="5.50" height="1.92" fill="#f08a2a" stroke="#222" stroke-width="0.25" stroke-opacity="0.55"/>
<rect x="479.61" y="370.92" width="5.50" height="2.40" fill="#e4494f" stroke="#222" stroke-width="0.25" stroke-opacity="0.55"/>
<rect x="486.49" y="378.60" width="5.50" height="4.80" fill="#8fce87" stroke="#222" stroke-width="0.25" stroke-opacity="0.55"/>
<rect x="486.49" y="376.68" width="5.50" height="1.92" fill="#2a2a2a" stroke="#222" stroke-width="0.25" stroke-opacity="0.55"/>
<rect x="493.37" y="381.48" width="5.50" height="1.92" fill="#8fce87" stroke="#222" stroke-width="0.25" stroke-opacity="0.55"/>
<rect x="493.37" y="380.28" width="5.50" height="1.20" fill="#2a2a2a" stroke="#222" stroke-width="0.25" stroke-opacity="0.55"/>
<rect x="500.25" y="343.56" width="5.50" height="39.84" fill="#d7191f" stroke="#222" stroke-width="0.25" stroke-opacity="0.55"/>
<rect x="500.25" y="337.08" width="5.50" height="6.48" fill="#e4494f" stroke="#222" stroke-width="0.25" stroke-opacity="0.55"/>
<rect x="507.13" y="375.24" width="5.50" height="8.16" fill="#8fce87" stroke="#222" stroke-width="0.25" stroke-opacity="0.55"/>
<rect x="507.13" y="372.36" width="5.50" height="2.88" fill="#3a7ebd" stroke="#222" stroke-width="0.25" stroke-opacity="0.55"/>
<rect x="507.13" y="369.00" width="5.50" height="3.36" fill="#e4494f" stroke="#222" stroke-width="0.25" stroke-opacity="0.55"/>
<rect x="514.01" y="376.68" width="5.50" height="6.72" fill="#8fce87" stroke="#222" stroke-width="0.25" stroke-opacity="0.55"/>
<rect x="514.01" y="375.24" width="5.50" height="1.44" fill="#2a2a2a" stroke="#222" stroke-width="0.25" stroke-opacity="0.55"/>
<rect x="514.01" y="374.28" width="5.50" height="0.96" fill="#f08a2a" stroke="#222" stroke-width="0.25" stroke-opacity="0.55"/>
<rect x="514.01" y="372.60" width="5.50" height="1.68" fill="#e4494f" stroke="#222" stroke-width="0.25" stroke-opacity="0.55"/>
<line x1="430.00" y1="383.40" x2="520.50" y2="383.40" stroke="#111" stroke-width="0.8" stroke-linecap="butt"/>
<line x1="434.20" y1="383.40" x2="434.20" y2="385.80" stroke="#111" stroke-width="0.55" stroke-linecap="butt"/>
<line x1="441.08" y1="383.40" x2="441.08" y2="385.80" stroke="#111" stroke-width="0.55" stroke-linecap="butt"/>
<line x1="447.96" y1="383.40" x2="447.96" y2="385.80" stroke="#111" stroke-width="0.55" stroke-linecap="butt"/>
<line x1="454.84" y1="383.40" x2="454.84" y2="385.80" stroke="#111" stroke-width="0.55" stroke-linecap="butt"/>
<line x1="461.72" y1="383.40" x2="461.72" y2="385.80" stroke="#111" stroke-width="0.55" stroke-linecap="butt"/>
<line x1="468.60" y1="383.40" x2="468.60" y2="385.80" stroke="#111" stroke-width="0.55" stroke-linecap="butt"/>
<line x1="475.48" y1="383.40" x2="475.48" y2="385.80" stroke="#111" stroke-width="0.55" stroke-linecap="butt"/>
<line x1="482.36" y1="383.40" x2="482.36" y2="385.80" stroke="#111" stroke-width="0.55" stroke-linecap="butt"/>
<line x1="489.24" y1="383.40" x2="489.24" y2="385.80" stroke="#111" stroke-width="0.55" stroke-linecap="butt"/>
<line x1="496.12" y1="383.40" x2="496.12" y2="385.80" stroke="#111" stroke-width="0.55" stroke-linecap="butt"/>
<line x1="503.00" y1="383.40" x2="503.00" y2="385.80" stroke="#111" stroke-width="0.55" stroke-linecap="butt"/>
<line x1="509.88" y1="383.40" x2="509.88" y2="385.80" stroke="#111" stroke-width="0.55" stroke-linecap="butt"/>
<line x1="516.76" y1="383.40" x2="516.76" y2="385.80" stroke="#111" stroke-width="0.55" stroke-linecap="butt"/>
<line x1="430.40" y1="399.90" x2="430.40" y2="447.80" stroke="#111" stroke-width="0.85" stroke-linecap="butt"/>
<line x1="427.30" y1="447.40" x2="430.40" y2="447.40" stroke="#111" stroke-width="0.65" stroke-linecap="butt"/>
<text x="424.80" y="449.24" font-size="5.1" text-anchor="end" font-weight="normal" fill="#333">0</text>
<line x1="427.30" y1="435.95" x2="430.40" y2="435.95" stroke="#111" stroke-width="0.65" stroke-linecap="butt"/>
<text x="424.80" y="437.79" font-size="5.1" text-anchor="end" font-weight="normal" fill="#333">5</text>
<line x1="427.30" y1="424.50" x2="430.40" y2="424.50" stroke="#111" stroke-width="0.65" stroke-linecap="butt"/>
<text x="424.80" y="426.34" font-size="5.1" text-anchor="end" font-weight="normal" fill="#333">10</text>
<line x1="427.30" y1="413.05" x2="430.40" y2="413.05" stroke="#111" stroke-width="0.65" stroke-linecap="butt"/>
<text x="424.80" y="414.89" font-size="5.1" text-anchor="end" font-weight="normal" fill="#333">15</text>
<line x1="427.30" y1="401.60" x2="430.40" y2="401.60" stroke="#111" stroke-width="0.65" stroke-linecap="butt"/>
<text x="424.80" y="403.44" font-size="5.1" text-anchor="end" font-weight="normal" fill="#333">20</text>
<rect x="431.45" y="446.94" width="5.50" height="0.46" fill="#2a2a2a" stroke="#222" stroke-width="0.25" stroke-opacity="0.55"/>
<rect x="445.21" y="435.95" width="5.50" height="11.45" fill="#3a7ebd" stroke="#222" stroke-width="0.25" stroke-opacity="0.55"/>
<rect x="445.21" y="412.59" width="5.50" height="23.36" fill="#e4494f" stroke="#222" stroke-width="0.25" stroke-opacity="0.55"/>
<rect x="452.09" y="447.06" width="5.50" height="0.34" fill="#2a2a2a" stroke="#222" stroke-width="0.25" stroke-opacity="0.55"/>
<rect x="458.97" y="430.22" width="5.50" height="17.18" fill="#d7191f" stroke="#222" stroke-width="0.25" stroke-opacity="0.55"/>
<rect x="458.97" y="425.42" width="5.50" height="4.81" fill="#e4494f" stroke="#222" stroke-width="0.25" stroke-opacity="0.55"/>
<rect x="493.37" y="439.38" width="5.50" height="8.02" fill="#3a7ebd" stroke="#222" stroke-width="0.25" stroke-opacity="0.55"/>
<rect x="493.37" y="434.81" width="5.50" height="4.58" fill="#d7191f" stroke="#222" stroke-width="0.25" stroke-opacity="0.55"/>
<rect x="493.37" y="402.29" width="5.50" height="32.52" fill="#e4494f" stroke="#222" stroke-width="0.25" stroke-opacity="0.55"/>
<rect x="500.25" y="433.20" width="5.50" height="14.20" fill="#e4494f" stroke="#222" stroke-width="0.25" stroke-opacity="0.55"/>
<rect x="507.13" y="416.48" width="5.50" height="30.91" fill="#e4494f" stroke="#222" stroke-width="0.25" stroke-opacity="0.55"/>
<line x1="430.00" y1="447.40" x2="520.50" y2="447.40" stroke="#111" stroke-width="0.8" stroke-linecap="butt"/>
<line x1="434.20" y1="447.40" x2="434.20" y2="449.80" stroke="#111" stroke-width="0.55" stroke-linecap="butt"/>
<line x1="441.08" y1="447.40" x2="441.08" y2="449.80" stroke="#111" stroke-width="0.55" stroke-linecap="butt"/>
<line x1="447.96" y1="447.40" x2="447.96" y2="449.80" stroke="#111" stroke-width="0.55" stroke-linecap="butt"/>
<line x1="454.84" y1="447.40" x2="454.84" y2="449.80" stroke="#111" stroke-width="0.55" stroke-linecap="butt"/>
<line x1="461.72" y1="447.40" x2="461.72" y2="449.80" stroke="#111" stroke-width="0.55" stroke-linecap="butt"/>
<line x1="468.60" y1="447.40" x2="468.60" y2="449.80" stroke="#111" stroke-width="0.55" stroke-linecap="butt"/>
<line x1="475.48" y1="447.40" x2="475.48" y2="449.80" stroke="#111" stroke-width="0.55" stroke-linecap="butt"/>
<line x1="482.36" y1="447.40" x2="482.36" y2="449.80" stroke="#111" stroke-width="0.55" stroke-linecap="butt"/>
<line x1="489.24" y1="447.40" x2="489.24" y2="449.80" stroke="#111" stroke-width="0.55" stroke-linecap="butt"/>
<line x1="496.12" y1="447.40" x2="496.12" y2="449.80" stroke="#111" stroke-width="0.55" stroke-linecap="butt"/>
<line x1="503.00" y1="447.40" x2="503.00" y2="449.80" stroke="#111" stroke-width="0.55" stroke-linecap="butt"/>
<line x1="509.88" y1="447.40" x2="509.88" y2="449.80" stroke="#111" stroke-width="0.55" stroke-linecap="butt"/>
<line x1="516.76" y1="447.40" x2="516.76" y2="449.80" stroke="#111" stroke-width="0.55" stroke-linecap="butt"/>
<line x1="430.40" y1="464.00" x2="430.40" y2="512.40" stroke="#111" stroke-width="0.85" stroke-linecap="butt"/>
<line x1="427.30" y1="512.00" x2="430.40" y2="512.00" stroke="#111" stroke-width="0.65" stroke-linecap="butt"/>
<text x="424.80" y="513.84" font-size="5.1" text-anchor="end" font-weight="normal" fill="#333">0</text>
<line x1="427.30" y1="494.50" x2="430.40" y2="494.50" stroke="#111" stroke-width="0.65" stroke-linecap="butt"/>
<text x="424.80" y="496.34" font-size="5.1" text-anchor="end" font-weight="normal" fill="#333">50</text>
<line x1="427.30" y1="477.00" x2="430.40" y2="477.00" stroke="#111" stroke-width="0.65" stroke-linecap="butt"/>
<text x="424.80" y="478.84" font-size="5.1" text-anchor="end" font-weight="normal" fill="#333">100</text>
<rect x="431.25" y="475.25" width="5.90" height="36.75" fill="#f29bc9" stroke="#222" stroke-width="0.25" stroke-opacity="0.55"/>
<rect x="431.25" y="470.00" width="5.90" height="5.25" fill="#9c5327" stroke="#222" stroke-width="0.25" stroke-opacity="0.55"/>
<rect x="431.25" y="466.85" width="5.90" height="3.15" fill="#6b3a1f" stroke="#222" stroke-width="0.25" stroke-opacity="0.55"/>
<rect x="438.13" y="508.50" width="5.90" height="3.50" fill="#f29bc9" stroke="#222" stroke-width="0.25" stroke-opacity="0.55"/>
<rect x="438.13" y="507.27" width="5.90" height="1.22" fill="#9c5327" stroke="#222" stroke-width="0.25" stroke-opacity="0.55"/>
<rect x="445.01" y="496.95" width="5.90" height="15.05" fill="#f29bc9" stroke="#222" stroke-width="0.25" stroke-opacity="0.55"/>
<rect x="445.01" y="493.80" width="5.90" height="3.15" fill="#9c5327" stroke="#222" stroke-width="0.25" stroke-opacity="0.55"/>
<rect x="445.01" y="492.40" width="5.90" height="1.40" fill="#6b3a1f" stroke="#222" stroke-width="0.25" stroke-opacity="0.55"/>
<rect x="451.89" y="510.77" width="5.90" height="1.22" fill="#2a2a2a" stroke="#222" stroke-width="0.25" stroke-opacity="0.55"/>
<rect x="458.77" y="510.95" width="5.90" height="1.05" fill="#3f8f3f" stroke="#222" stroke-width="0.25" stroke-opacity="0.55"/>
<rect x="458.77" y="510.07" width="5.90" height="0.88" fill="#2a2a2a" stroke="#222" stroke-width="0.25" stroke-opacity="0.55"/>
<rect x="465.65" y="507.80" width="5.90" height="4.20" fill="#f29bc9" stroke="#222" stroke-width="0.25" stroke-opacity="0.55"/>
<rect x="465.65" y="505.00" width="5.90" height="2.80" fill="#ee7fb6" stroke="#222" stroke-width="0.25" stroke-opacity="0.55"/>
<rect x="465.65" y="503.25" width="5.90" height="1.75" fill="#9c5327" stroke="#222" stroke-width="0.25" stroke-opacity="0.55"/>
<rect x="465.65" y="502.20" width="5.90" height="1.05" fill="#6b3a1f" stroke="#222" stroke-width="0.25" stroke-opacity="0.55"/>
<rect x="472.53" y="510.25" width="5.90" height="1.75" fill="#8fce87" stroke="#222" stroke-width="0.25" stroke-opacity="0.55"/>
<rect x="472.53" y="509.02" width="5.90" height="1.22" fill="#2a2a2a" stroke="#222" stroke-width="0.25" stroke-opacity="0.55"/>
<rect x="479.41" y="510.43" width="5.90" height="1.57" fill="#8fce87" stroke="#222" stroke-width="0.25" stroke-opacity="0.55"/>
<rect x="486.29" y="508.50" width="5.90" height="3.50" fill="#f29bc9" stroke="#222" stroke-width="0.25" stroke-opacity="0.55"/>
<rect x="486.29" y="507.27" width="5.90" height="1.22" fill="#9c5327" stroke="#222" stroke-width="0.25" stroke-opacity="0.55"/>
<rect x="493.17" y="495.20" width="5.90" height="16.80" fill="#f29bc9" stroke="#222" stroke-width="0.25" stroke-opacity="0.55"/>
<rect x="493.17" y="490.30" width="5.90" height="4.90" fill="#ee7fb6" stroke="#222" stroke-width="0.25" stroke-opacity="0.55"/>
<rect x="493.17" y="477.70" width="5.90" height="12.60" fill="#9c5327" stroke="#222" stroke-width="0.25" stroke-opacity="0.55"/>
<rect x="506.93" y="503.95" width="5.90" height="8.05" fill="#f29bc9" stroke="#222" stroke-width="0.25" stroke-opacity="0.55"/>
<rect x="506.93" y="501.50" width="5.90" height="2.45" fill="#ee7fb6" stroke="#222" stroke-width="0.25" stroke-opacity="0.55"/>
<rect x="506.93" y="499.05" width="5.90" height="2.45" fill="#9c5327" stroke="#222" stroke-width="0.25" stroke-opacity="0.55"/>
<rect x="506.93" y="497.82" width="5.90" height="1.22" fill="#2a2a2a" stroke="#222" stroke-width="0.25" stroke-opacity="0.55"/>
<rect x="513.81" y="510.25" width="5.90" height="1.75" fill="#bdbdbd" stroke="#222" stroke-width="0.25" stroke-opacity="0.55"/>
<line x1="430.00" y1="512.00" x2="520.50" y2="512.00" stroke="#111" stroke-width="0.8" stroke-linecap="butt"/>
<line x1="434.20" y1="512.00" x2="434.20" y2="514.40" stroke="#111" stroke-width="0.55" stroke-linecap="butt"/>
<line x1="441.08" y1="512.00" x2="441.08" y2="514.40" stroke="#111" stroke-width="0.55" stroke-linecap="butt"/>
<line x1="447.96" y1="512.00" x2="447.96" y2="514.40" stroke="#111" stroke-width="0.55" stroke-linecap="butt"/>
<line x1="454.84" y1="512.00" x2="454.84" y2="514.40" stroke="#111" stroke-width="0.55" stroke-linecap="butt"/>
<line x1="461.72" y1="512.00" x2="461.72" y2="514.40" stroke="#111" stroke-width="0.55" stroke-linecap="butt"/>
<line x1="468.60" y1="512.00" x2="468.60" y2="514.40" stroke="#111" stroke-width="0.55" stroke-linecap="butt"/>
<line x1="475.48" y1="512.00" x2="475.48" y2="514.40" stroke="#111" stroke-width="0.55" stroke-linecap="butt"/>
<line x1="482.36" y1="512.00" x2="482.36" y2="514.40" stroke="#111" stroke-width="0.55" stroke-linecap="butt"/>
<line x1="489.24" y1="512.00" x2="489.24" y2="514.40" stroke="#111" stroke-width="0.55" stroke-linecap="butt"/>
<line x1="496.12" y1="512.00" x2="496.12" y2="514.40" stroke="#111" stroke-width="0.55" stroke-linecap="butt"/>
<line x1="503.00" y1="512.00" x2="503.00" y2="514.40" stroke="#111" stroke-width="0.55" stroke-linecap="butt"/>
<line x1="509.88" y1="512.00" x2="509.88" y2="514.40" stroke="#111" stroke-width="0.55" stroke-linecap="butt"/>
<line x1="516.76" y1="512.00" x2="516.76" y2="514.40" stroke="#111" stroke-width="0.55" stroke-linecap="butt"/>
<line x1="430.40" y1="529.10" x2="430.40" y2="580.10" stroke="#111" stroke-width="0.85" stroke-linecap="butt"/>
<line x1="427.30" y1="579.70" x2="430.40" y2="579.70" stroke="#111" stroke-width="0.65" stroke-linecap="butt"/>
<text x="424.80" y="581.54" font-size="5.1" text-anchor="end" font-weight="normal" fill="#333">0</text>
<line x1="427.30" y1="566.50" x2="430.40" y2="566.50" stroke="#111" stroke-width="0.65" stroke-linecap="butt"/>
<text x="424.80" y="568.34" font-size="5.1" text-anchor="end" font-weight="normal" fill="#333">50</text>
<line x1="427.30" y1="553.30" x2="430.40" y2="553.30" stroke="#111" stroke-width="0.65" stroke-linecap="butt"/>
<text x="424.80" y="555.14" font-size="5.1" text-anchor="end" font-weight="normal" fill="#333">100</text>
<line x1="427.30" y1="540.10" x2="430.40" y2="540.10" stroke="#111" stroke-width="0.65" stroke-linecap="butt"/>
<text x="424.80" y="541.94" font-size="5.1" text-anchor="end" font-weight="normal" fill="#333">150</text>
<rect x="431.45" y="575.74" width="5.50" height="3.96" fill="#3a7ebd" stroke="#222" stroke-width="0.25" stroke-opacity="0.55"/>
<rect x="431.45" y="573.89" width="5.50" height="1.85" fill="#d7191f" stroke="#222" stroke-width="0.25" stroke-opacity="0.55"/>
<rect x="431.45" y="569.67" width="5.50" height="4.22" fill="#e4494f" stroke="#222" stroke-width="0.25" stroke-opacity="0.55"/>
<rect x="438.33" y="573.89" width="5.50" height="5.81" fill="#3a7ebd" stroke="#222" stroke-width="0.25" stroke-opacity="0.55"/>
<rect x="438.33" y="570.46" width="5.50" height="3.43" fill="#d7191f" stroke="#222" stroke-width="0.25" stroke-opacity="0.55"/>
<rect x="438.33" y="531.39" width="5.50" height="39.07" fill="#e4494f" stroke="#222" stroke-width="0.25" stroke-opacity="0.55"/>
<rect x="445.21" y="567.82" width="5.50" height="11.88" fill="#3a7ebd" stroke="#222" stroke-width="0.25" stroke-opacity="0.55"/>
<rect x="445.21" y="563.86" width="5.50" height="3.96" fill="#d7191f" stroke="#222" stroke-width="0.25" stroke-opacity="0.55"/>
<rect x="445.21" y="541.42" width="5.50" height="22.44" fill="#e4494f" stroke="#222" stroke-width="0.25" stroke-opacity="0.55"/>
<rect x="452.09" y="576.00" width="5.50" height="3.70" fill="#3a7ebd" stroke="#222" stroke-width="0.25" stroke-opacity="0.55"/>
<rect x="452.09" y="561.75" width="5.50" height="14.26" fill="#e4494f" stroke="#222" stroke-width="0.25" stroke-opacity="0.55"/>
<rect x="458.97" y="577.06" width="5.50" height="2.64" fill="#5a3a4a" stroke="#222" stroke-width="0.25" stroke-opacity="0.55"/>
<rect x="458.97" y="563.33" width="5.50" height="13.73" fill="#d7191f" stroke="#222" stroke-width="0.25" stroke-opacity="0.55"/>
<rect x="458.97" y="559.37" width="5.50" height="3.96" fill="#e4494f" stroke="#222" stroke-width="0.25" stroke-opacity="0.55"/>
<rect x="465.85" y="578.64" width="5.50" height="1.06" fill="#2a2a2a" stroke="#222" stroke-width="0.25" stroke-opacity="0.55"/>
<rect x="465.85" y="574.16" width="5.50" height="4.49" fill="#e4494f" stroke="#222" stroke-width="0.25" stroke-opacity="0.55"/>
<rect x="472.73" y="577.06" width="5.50" height="2.64" fill="#3a7ebd" stroke="#222" stroke-width="0.25" stroke-opacity="0.55"/>
<rect x="472.73" y="576.00" width="5.50" height="1.06" fill="#2a2a2a" stroke="#222" stroke-width="0.25" stroke-opacity="0.55"/>
<rect x="472.73" y="572.57" width="5.50" height="3.43" fill="#e4494f" stroke="#222" stroke-width="0.25" stroke-opacity="0.55"/>
<rect x="479.61" y="564.39" width="5.50" height="15.31" fill="#e4494f" stroke="#222" stroke-width="0.25" stroke-opacity="0.55"/>
<rect x="486.49" y="571.78" width="5.50" height="7.92" fill="#3a7ebd" stroke="#222" stroke-width="0.25" stroke-opacity="0.55"/>
<rect x="486.49" y="532.71" width="5.50" height="39.07" fill="#dc2c33" stroke="#222" stroke-width="0.25" stroke-opacity="0.55"/>
<rect x="493.37" y="567.29" width="5.50" height="12.41" fill="#3a7ebd" stroke="#222" stroke-width="0.25" stroke-opacity="0.55"/>
<rect x="493.37" y="561.22" width="5.50" height="6.07" fill="#d7191f" stroke="#222" stroke-width="0.25" stroke-opacity="0.55"/>
<rect x="493.37" y="532.97" width="5.50" height="28.25" fill="#e4494f" stroke="#222" stroke-width="0.25" stroke-opacity="0.55"/>
<rect x="500.25" y="577.59" width="5.50" height="2.11" fill="#2a2a2a" stroke="#222" stroke-width="0.25" stroke-opacity="0.55"/>
<rect x="500.25" y="559.90" width="5.50" height="17.69" fill="#d7191f" stroke="#222" stroke-width="0.25" stroke-opacity="0.55"/>
<rect x="500.25" y="553.30" width="5.50" height="6.60" fill="#e4494f" stroke="#222" stroke-width="0.25" stroke-opacity="0.55"/>
<rect x="507.13" y="576.00" width="5.50" height="3.70" fill="#3a7ebd" stroke="#222" stroke-width="0.25" stroke-opacity="0.55"/>
<rect x="507.13" y="569.67" width="5.50" height="6.34" fill="#e4494f" stroke="#222" stroke-width="0.25" stroke-opacity="0.55"/>
<rect x="514.01" y="578.38" width="5.50" height="1.32" fill="#d7191f" stroke="#222" stroke-width="0.25" stroke-opacity="0.55"/>
<rect x="514.01" y="576.40" width="5.50" height="1.98" fill="#e4494f" stroke="#222" stroke-width="0.25" stroke-opacity="0.55"/>
<line x1="430.00" y1="579.70" x2="520.50" y2="579.70" stroke="#111" stroke-width="0.8" stroke-linecap="butt"/>
<line x1="434.20" y1="579.70" x2="434.20" y2="582.10" stroke="#111" stroke-width="0.55" stroke-linecap="butt"/>
<line x1="441.08" y1="579.70" x2="441.08" y2="582.10" stroke="#111" stroke-width="0.55" stroke-linecap="butt"/>
<line x1="447.96" y1="579.70" x2="447.96" y2="582.10" stroke="#111" stroke-width="0.55" stroke-linecap="butt"/>
<line x1="454.84" y1="579.70" x2="454.84" y2="582.10" stroke="#111" stroke-width="0.55" stroke-linecap="butt"/>
<line x1="461.72" y1="579.70" x2="461.72" y2="582.10" stroke="#111" stroke-width="0.55" stroke-linecap="butt"/>
<line x1="468.60" y1="579.70" x2="468.60" y2="582.10" stroke="#111" stroke-width="0.55" stroke-linecap="butt"/>
<line x1="475.48" y1="579.70" x2="475.48" y2="582.10" stroke="#111" stroke-width="0.55" stroke-linecap="butt"/>
<line x1="482.36" y1="579.70" x2="482.36" y2="582.10" stroke="#111" stroke-width="0.55" stroke-linecap="butt"/>
<line x1="489.24" y1="579.70" x2="489.24" y2="582.10" stroke="#111" stroke-width="0.55" stroke-linecap="butt"/>
<line x1="496.12" y1="579.70" x2="496.12" y2="582.10" stroke="#111" stroke-width="0.55" stroke-linecap="butt"/>
<line x1="503.00" y1="579.70" x2="503.00" y2="582.10" stroke="#111" stroke-width="0.55" stroke-linecap="butt"/>
<line x1="509.88" y1="579.70" x2="509.88" y2="582.10" stroke="#111" stroke-width="0.55" stroke-linecap="butt"/>
<line x1="516.76" y1="579.70" x2="516.76" y2="582.10" stroke="#111" stroke-width="0.55" stroke-linecap="butt"/>
<rect x="205.30" y="585.40" width="6.76" height="5.00" fill="#4b4ca2" stroke="#000" stroke-opacity="0.35" stroke-width="0.35"/>
<rect x="212.06" y="585.40" width="6.76" height="5.00" fill="#4b4ca2" stroke="#000" stroke-opacity="0.35" stroke-width="0.35"/>
<rect x="218.82" y="585.40" width="6.76" height="5.00" fill="#4b4ca2" stroke="#000" stroke-opacity="0.35" stroke-width="0.35"/>
<rect x="225.59" y="585.40" width="6.76" height="5.00" fill="#4b4ca2" stroke="#000" stroke-opacity="0.35" stroke-width="0.35"/>
<rect x="232.35" y="585.40" width="6.76" height="5.00" fill="#a6cd2c" stroke="#000" stroke-opacity="0.35" stroke-width="0.35"/>
<rect x="239.11" y="585.40" width="6.76" height="5.00" fill="#f6e826" stroke="#000" stroke-opacity="0.35" stroke-width="0.35"/>
<rect x="245.88" y="585.40" width="6.76" height="5.00" fill="#f6e826" stroke="#000" stroke-opacity="0.35" stroke-width="0.35"/>
<rect x="252.64" y="585.40" width="6.76" height="5.00" fill="#f6e826" stroke="#000" stroke-opacity="0.35" stroke-width="0.35"/>
<rect x="205.30" y="585.40" width="54.10" height="5.00" fill="none" stroke="#222" stroke-width="0.55"/>
<rect x="205.30" y="592.50" width="6.76" height="5.00" fill="#4b4ca2" stroke="#000" stroke-opacity="0.35" stroke-width="0.35"/>
<rect x="212.06" y="592.50" width="6.76" height="5.00" fill="#4b4ca2" stroke="#000" stroke-opacity="0.35" stroke-width="0.35"/>
<rect x="218.82" y="592.50" width="6.76" height="5.00" fill="#4b4ca2" stroke="#000" stroke-opacity="0.35" stroke-width="0.35"/>
<rect x="225.59" y="592.50" width="6.76" height="5.00" fill="#4b4ca2" stroke="#000" stroke-opacity="0.35" stroke-width="0.35"/>
<rect x="232.35" y="592.50" width="6.76" height="5.00" fill="#fbc08f" stroke="#000" stroke-opacity="0.35" stroke-width="0.35"/>
<rect x="239.11" y="592.50" width="6.76" height="5.00" fill="#f2835c" stroke="#000" stroke-opacity="0.35" stroke-width="0.35"/>
<rect x="245.88" y="592.50" width="6.76" height="5.00" fill="#f2835c" stroke="#000" stroke-opacity="0.35" stroke-width="0.35"/>
<rect x="252.64" y="592.50" width="6.76" height="5.00" fill="#fbc08f" stroke="#000" stroke-opacity="0.35" stroke-width="0.35"/>
<rect x="205.30" y="592.50" width="54.10" height="5.00" fill="none" stroke="#222" stroke-width="0.55"/>
<rect x="280.10" y="585.40" width="6.84" height="5.00" fill="#4b4ca2" stroke="#000" stroke-opacity="0.35" stroke-width="0.35"/>
<rect x="286.94" y="585.40" width="6.84" height="5.00" fill="#4b4ca2" stroke="#000" stroke-opacity="0.35" stroke-width="0.35"/>
<rect x="293.77" y="585.40" width="6.84" height="5.00" fill="#4b4ca2" stroke="#000" stroke-opacity="0.35" stroke-width="0.35"/>
<rect x="300.61" y="585.40" width="6.84" height="5.00" fill="#4b4ca2" stroke="#000" stroke-opacity="0.35" stroke-width="0.35"/>
<rect x="307.45" y="585.40" width="6.84" height="5.00" fill="#1f9e89" stroke="#000" stroke-opacity="0.35" stroke-width="0.35"/>
<rect x="314.28" y="585.40" width="6.84" height="5.00" fill="#1f9e89" stroke="#000" stroke-opacity="0.35" stroke-width="0.35"/>
<rect x="321.12" y="585.40" width="6.84" height="5.00" fill="#1f9e89" stroke="#000" stroke-opacity="0.35" stroke-width="0.35"/>
<rect x="327.96" y="585.40" width="6.84" height="5.00" fill="#1f9e89" stroke="#000" stroke-opacity="0.35" stroke-width="0.35"/>
<rect x="334.79" y="585.40" width="6.84" height="5.00" fill="#1f9e89" stroke="#000" stroke-opacity="0.35" stroke-width="0.35"/>
<rect x="341.63" y="585.40" width="6.84" height="5.00" fill="#1f9e89" stroke="#000" stroke-opacity="0.35" stroke-width="0.35"/>
<rect x="348.47" y="585.40" width="6.84" height="5.00" fill="#1f9e89" stroke="#000" stroke-opacity="0.35" stroke-width="0.35"/>
<rect x="355.31" y="585.40" width="6.84" height="5.00" fill="#58b368" stroke="#000" stroke-opacity="0.35" stroke-width="0.35"/>
<rect x="362.14" y="585.40" width="6.84" height="5.00" fill="#58b368" stroke="#000" stroke-opacity="0.35" stroke-width="0.35"/>
<rect x="368.98" y="585.40" width="6.84" height="5.00" fill="#58b368" stroke="#000" stroke-opacity="0.35" stroke-width="0.35"/>
<rect x="375.82" y="585.40" width="6.84" height="5.00" fill="#58b368" stroke="#000" stroke-opacity="0.35" stroke-width="0.35"/>
<rect x="382.65" y="585.40" width="6.84" height="5.00" fill="#a6cd2c" stroke="#000" stroke-opacity="0.35" stroke-width="0.35"/>
<rect x="389.49" y="585.40" width="6.84" height="5.00" fill="#f6e826" stroke="#000" stroke-opacity="0.35" stroke-width="0.35"/>
<rect x="396.33" y="585.40" width="6.84" height="5.00" fill="#f6e826" stroke="#000" stroke-opacity="0.35" stroke-width="0.35"/>
<rect x="403.16" y="585.40" width="6.84" height="5.00" fill="#f6e826" stroke="#000" stroke-opacity="0.35" stroke-width="0.35"/>
<rect x="280.10" y="585.40" width="129.90" height="5.00" fill="none" stroke="#222" stroke-width="0.55"/>
<rect x="280.10" y="592.50" width="6.84" height="5.00" fill="#4b4ca2" stroke="#000" stroke-opacity="0.35" stroke-width="0.35"/>
<rect x="286.94" y="592.50" width="6.84" height="5.00" fill="#4b4ca2" stroke="#000" stroke-opacity="0.35" stroke-width="0.35"/>
<rect x="293.77" y="592.50" width="6.84" height="5.00" fill="#4b4ca2" stroke="#000" stroke-opacity="0.35" stroke-width="0.35"/>
<rect x="300.61" y="592.50" width="6.84" height="5.00" fill="#4b4ca2" stroke="#000" stroke-opacity="0.35" stroke-width="0.35"/>
<rect x="307.45" y="592.50" width="6.84" height="5.00" fill="#b6267a" stroke="#000" stroke-opacity="0.35" stroke-width="0.35"/>
<rect x="314.28" y="592.50" width="6.84" height="5.00" fill="#b6267a" stroke="#000" stroke-opacity="0.35" stroke-width="0.35"/>
<rect x="321.12" y="592.50" width="6.84" height="5.00" fill="#d8436e" stroke="#000" stroke-opacity="0.35" stroke-width="0.35"/>
<rect x="327.96" y="592.50" width="6.84" height="5.00" fill="#ee7a5a" stroke="#000" stroke-opacity="0.35" stroke-width="0.35"/>
<rect x="334.79" y="592.50" width="6.84" height="5.00" fill="#f49a6a" stroke="#000" stroke-opacity="0.35" stroke-width="0.35"/>
<rect x="341.63" y="592.50" width="6.84" height="5.00" fill="#fbc08f" stroke="#000" stroke-opacity="0.35" stroke-width="0.35"/>
<rect x="348.47" y="592.50" width="6.84" height="5.00" fill="#fbc08f" stroke="#000" stroke-opacity="0.35" stroke-width="0.35"/>
<rect x="355.31" y="592.50" width="6.84" height="5.00" fill="#f2835c" stroke="#000" stroke-opacity="0.35" stroke-width="0.35"/>
<rect x="362.14" y="592.50" width="6.84" height="5.00" fill="#ec7050" stroke="#000" stroke-opacity="0.35" stroke-width="0.35"/>
<rect x="368.98" y="592.50" width="6.84" height="5.00" fill="#ec7050" stroke="#000" stroke-opacity="0.35" stroke-width="0.35"/>
<rect x="375.82" y="592.50" width="6.84" height="5.00" fill="#fbc08f" stroke="#000" stroke-opacity="0.35" stroke-width="0.35"/>
<rect x="382.65" y="592.50" width="6.84" height="5.00" fill="#fbc08f" stroke="#000" stroke-opacity="0.35" stroke-width="0.35"/>
<rect x="389.49" y="592.50" width="6.84" height="5.00" fill="#fbc08f" stroke="#000" stroke-opacity="0.35" stroke-width="0.35"/>
<rect x="396.33" y="592.50" width="6.84" height="5.00" fill="#fbc08f" stroke="#000" stroke-opacity="0.35" stroke-width="0.35"/>
<rect x="403.16" y="592.50" width="6.84" height="5.00" fill="#fdf0c4" stroke="#000" stroke-opacity="0.35" stroke-width="0.35"/>
<rect x="280.10" y="592.50" width="129.90" height="5.00" fill="none" stroke="#222" stroke-width="0.55"/>
<rect x="431.00" y="585.40" width="6.88" height="5.00" fill="#2aa876" stroke="#000" stroke-opacity="0.35" stroke-width="0.35"/>
<rect x="437.88" y="585.40" width="6.88" height="5.00" fill="#2aa876" stroke="#000" stroke-opacity="0.35" stroke-width="0.35"/>
<rect x="444.75" y="585.40" width="6.88" height="5.00" fill="#2aa876" stroke="#000" stroke-opacity="0.35" stroke-width="0.35"/>
<rect x="451.63" y="585.40" width="6.88" height="5.00" fill="#2aa876" stroke="#000" stroke-opacity="0.35" stroke-width="0.35"/>
<rect x="458.51" y="585.40" width="6.88" height="5.00" fill="#2aa876" stroke="#000" stroke-opacity="0.35" stroke-width="0.35"/>
<rect x="465.38" y="585.40" width="6.88" height="5.00" fill="#2aa876" stroke="#000" stroke-opacity="0.35" stroke-width="0.35"/>
<rect x="472.26" y="585.40" width="6.88" height="5.00" fill="#f6e826" stroke="#000" stroke-opacity="0.35" stroke-width="0.35"/>
<rect x="479.14" y="585.40" width="6.88" height="5.00" fill="#f6e826" stroke="#000" stroke-opacity="0.35" stroke-width="0.35"/>
<rect x="486.02" y="585.40" width="6.88" height="5.00" fill="#f6e826" stroke="#000" stroke-opacity="0.35" stroke-width="0.35"/>
<rect x="492.89" y="585.40" width="6.88" height="5.00" fill="#f6e826" stroke="#000" stroke-opacity="0.35" stroke-width="0.35"/>
<rect x="499.77" y="585.40" width="6.88" height="5.00" fill="#f6e826" stroke="#000" stroke-opacity="0.35" stroke-width="0.35"/>
<rect x="506.65" y="585.40" width="6.88" height="5.00" fill="#f6e826" stroke="#000" stroke-opacity="0.35" stroke-width="0.35"/>
<rect x="513.52" y="585.40" width="6.88" height="5.00" fill="#f6e826" stroke="#000" stroke-opacity="0.35" stroke-width="0.35"/>
<rect x="431.00" y="585.40" width="89.40" height="5.00" fill="none" stroke="#222" stroke-width="0.55"/>
<rect x="431.00" y="592.50" width="6.88" height="5.00" fill="#ea5a6e" stroke="#000" stroke-opacity="0.35" stroke-width="0.35"/>
<rect x="437.88" y="592.50" width="6.88" height="5.00" fill="#f2835c" stroke="#000" stroke-opacity="0.35" stroke-width="0.35"/>
<rect x="444.75" y="592.50" width="6.88" height="5.00" fill="#f2835c" stroke="#000" stroke-opacity="0.35" stroke-width="0.35"/>
<rect x="451.63" y="592.50" width="6.88" height="5.00" fill="#f2835c" stroke="#000" stroke-opacity="0.35" stroke-width="0.35"/>
<rect x="458.51" y="592.50" width="6.88" height="5.00" fill="#f2835c" stroke="#000" stroke-opacity="0.35" stroke-width="0.35"/>
<rect x="465.38" y="592.50" width="6.88" height="5.00" fill="#fbc08f" stroke="#000" stroke-opacity="0.35" stroke-width="0.35"/>
<rect x="472.26" y="592.50" width="6.88" height="5.00" fill="#e84a70" stroke="#000" stroke-opacity="0.35" stroke-width="0.35"/>
<rect x="479.14" y="592.50" width="6.88" height="5.00" fill="#f2835c" stroke="#000" stroke-opacity="0.35" stroke-width="0.35"/>
<rect x="486.02" y="592.50" width="6.88" height="5.00" fill="#f2835c" stroke="#000" stroke-opacity="0.35" stroke-width="0.35"/>
<rect x="492.89" y="592.50" width="6.88" height="5.00" fill="#f2835c" stroke="#000" stroke-opacity="0.35" stroke-width="0.35"/>
<rect x="499.77" y="592.50" width="6.88" height="5.00" fill="#f2835c" stroke="#000" stroke-opacity="0.35" stroke-width="0.35"/>
<rect x="506.65" y="592.50" width="6.88" height="5.00" fill="#f2835c" stroke="#000" stroke-opacity="0.35" stroke-width="0.35"/>
<rect x="513.52" y="592.50" width="6.88" height="5.00" fill="#fbc08f" stroke="#000" stroke-opacity="0.35" stroke-width="0.35"/>
<rect x="431.00" y="592.50" width="89.40" height="5.00" fill="none" stroke="#222" stroke-width="0.55"/>
<text x="203.40" y="589.48" font-size="4.1" text-anchor="end" font-weight="normal" fill="#2b2b2b">Lesion type</text>
<text x="203.40" y="596.68" font-size="4.1" text-anchor="end" font-weight="normal" fill="#2b2b2b">MF stage</text>
<text x="0.00" y="1.58" font-size="4.4" text-anchor="end" font-weight="normal" fill="#333" transform="translate(209.88,599.80) rotate(-45)">HC1_HC</text>
<text x="0.00" y="1.58" font-size="4.4" text-anchor="end" font-weight="normal" fill="#333" transform="translate(216.64,599.80) rotate(-45)">HC2_HC</text>
<text x="0.00" y="1.58" font-size="4.4" text-anchor="end" font-weight="normal" fill="#333" transform="translate(223.41,599.80) rotate(-45)">HC3_HC</text>
<text x="0.00" y="1.58" font-size="4.4" text-anchor="end" font-weight="normal" fill="#333" transform="translate(230.17,599.80) rotate(-45)">HC4_HC</text>
<text x="0.00" y="1.58" font-size="4.4" text-anchor="end" font-weight="normal" fill="#333" transform="translate(236.93,599.80) rotate(-45)">CTCL2_Er</text>
<text x="0.00" y="1.58" font-size="4.4" text-anchor="end" font-weight="normal" fill="#333" transform="translate(243.69,599.80) rotate(-45)">CTCL5_Tu</text>
<text x="0.00" y="1.58" font-size="4.4" text-anchor="end" font-weight="normal" fill="#333" transform="translate(250.46,599.80) rotate(-45)">CTCL6_Tu</text>
<text x="0.00" y="1.58" font-size="4.4" text-anchor="end" font-weight="normal" fill="#333" transform="translate(257.22,599.80) rotate(-45)">CTCL12_Tu</text>
<text x="0.00" y="1.58" font-size="4.4" text-anchor="end" font-weight="normal" fill="#333" transform="translate(284.72,599.80) rotate(-45)">P112_HC</text>
<text x="0.00" y="1.58" font-size="4.4" text-anchor="end" font-weight="normal" fill="#333" transform="translate(291.56,599.80) rotate(-45)">P115_HC</text>
<text x="0.00" y="1.58" font-size="4.4" text-anchor="end" font-weight="normal" fill="#333" transform="translate(298.39,599.80) rotate(-45)">P116_HC</text>
<text x="0.00" y="1.58" font-size="4.4" text-anchor="end" font-weight="normal" fill="#333" transform="translate(305.23,599.80) rotate(-45)">P121_HC</text>
<text x="0.00" y="1.58" font-size="4.4" text-anchor="end" font-weight="normal" fill="#333" transform="translate(312.07,599.80) rotate(-45)">P107_Pa</text>
<text x="0.00" y="1.58" font-size="4.4" text-anchor="end" font-weight="normal" fill="#333" transform="translate(318.90,599.80) rotate(-45)">P138_Pa</text>
<text x="0.00" y="1.58" font-size="4.4" text-anchor="end" font-weight="normal" fill="#333" transform="translate(325.74,599.80) rotate(-45)">P65_Pa</text>
<text x="0.00" y="1.58" font-size="4.4" text-anchor="end" font-weight="normal" fill="#333" transform="translate(332.58,599.80) rotate(-45)">MF312_Pa</text>
<text x="0.00" y="1.58" font-size="4.4" text-anchor="end" font-weight="normal" fill="#333" transform="translate(339.41,599.80) rotate(-45)">MF318_Pa</text>
<text x="0.00" y="1.58" font-size="4.4" text-anchor="end" font-weight="normal" fill="#333" transform="translate(346.25,599.80) rotate(-45)">MF309_Pa</text>
<text x="0.00" y="1.58" font-size="4.4" text-anchor="end" font-weight="normal" fill="#333" transform="translate(353.09,599.80) rotate(-45)">MF311_Pa</text>
<text x="0.00" y="1.58" font-size="4.4" text-anchor="end" font-weight="normal" fill="#333" transform="translate(359.92,599.80) rotate(-45)">MF312_Pl</text>
<text x="0.00" y="1.58" font-size="4.4" text-anchor="end" font-weight="normal" fill="#333" transform="translate(366.76,599.80) rotate(-45)">MF318_Pl</text>
<text x="0.00" y="1.58" font-size="4.4" text-anchor="end" font-weight="normal" fill="#333" transform="translate(373.60,599.80) rotate(-45)">P84_Pl</text>
<text x="0.00" y="1.58" font-size="4.4" text-anchor="end" font-weight="normal" fill="#333" transform="translate(380.43,599.80) rotate(-45)">MF311_Pl</text>
<text x="0.00" y="1.58" font-size="4.4" text-anchor="end" font-weight="normal" fill="#333" transform="translate(387.27,599.80) rotate(-45)">MF311_Er</text>
<text x="0.00" y="1.58" font-size="4.4" text-anchor="end" font-weight="normal" fill="#333" transform="translate(394.11,599.80) rotate(-45)">MF309_Tu</text>
<text x="0.00" y="1.58" font-size="4.4" text-anchor="end" font-weight="normal" fill="#333" transform="translate(400.94,599.80) rotate(-45)">MF309_Tu2</text>
<text x="0.00" y="1.58" font-size="4.4" text-anchor="end" font-weight="normal" fill="#333" transform="translate(407.78,599.80) rotate(-45)">MF501_Tu</text>
<text x="0.00" y="1.58" font-size="4.4" text-anchor="end" font-weight="normal" fill="#333" transform="translate(435.64,599.80) rotate(-45)">P155_PP</text>
<text x="0.00" y="1.58" font-size="4.4" text-anchor="end" font-weight="normal" fill="#333" transform="translate(442.52,599.80) rotate(-45)">P147_PP</text>
<text x="0.00" y="1.58" font-size="4.4" text-anchor="end" font-weight="normal" fill="#333" transform="translate(449.39,599.80) rotate(-45)">P152_PP</text>
<text x="0.00" y="1.58" font-size="4.4" text-anchor="end" font-weight="normal" fill="#333" transform="translate(456.27,599.80) rotate(-45)">P153_PP</text>
<text x="0.00" y="1.58" font-size="4.4" text-anchor="end" font-weight="normal" fill="#333" transform="translate(463.15,599.80) rotate(-45)">P156_PP</text>
<text x="0.00" y="1.58" font-size="4.4" text-anchor="end" font-weight="normal" fill="#333" transform="translate(470.02,599.80) rotate(-45)">P111_PP</text>
<text x="0.00" y="1.58" font-size="4.4" text-anchor="end" font-weight="normal" fill="#333" transform="translate(476.90,599.80) rotate(-45)">P155_Tu</text>
<text x="0.00" y="1.58" font-size="4.4" text-anchor="end" font-weight="normal" fill="#333" transform="translate(483.78,599.80) rotate(-45)">P135_Tu</text>
<text x="0.00" y="1.58" font-size="4.4" text-anchor="end" font-weight="normal" fill="#333" transform="translate(490.65,599.80) rotate(-45)">P147_Tu</text>
<text x="0.00" y="1.58" font-size="4.4" text-anchor="end" font-weight="normal" fill="#333" transform="translate(497.53,599.80) rotate(-45)">P152_Tu</text>
<text x="0.00" y="1.58" font-size="4.4" text-anchor="end" font-weight="normal" fill="#333" transform="translate(504.41,599.80) rotate(-45)">P153_Tu</text>
<text x="0.00" y="1.58" font-size="4.4" text-anchor="end" font-weight="normal" fill="#333" transform="translate(511.28,599.80) rotate(-45)">P156_Tu</text>
<text x="0.00" y="1.58" font-size="4.4" text-anchor="end" font-weight="normal" fill="#333" transform="translate(518.16,599.80) rotate(-45)">P111_Tu</text>
<text x="204.60" y="625.42" font-size="5.6" text-anchor="start" font-weight="normal" fill="#2b2b2b">Lesion type</text>
<rect x="204.80" y="627.10" width="5.40" height="5.00" fill="#f6e826" stroke="#000" stroke-opacity="0.45" stroke-width="0.35"/>
<text x="212.70" y="631.54" font-size="5.4" text-anchor="start" font-weight="normal" fill="#2b2b2b">Tumor</text>
<rect x="204.80" y="632.20" width="5.40" height="5.00" fill="#a6cd2c" stroke="#000" stroke-opacity="0.45" stroke-width="0.35"/>
<text x="212.70" y="636.64" font-size="5.4" text-anchor="start" font-weight="normal" fill="#2b2b2b">Erythroderma</text>
<rect x="204.80" y="637.30" width="5.40" height="5.00" fill="#58b368" stroke="#000" stroke-opacity="0.45" stroke-width="0.35"/>
<text x="212.70" y="641.74" font-size="5.4" text-anchor="start" font-weight="normal" fill="#2b2b2b">Plaque</text>
<rect x="252.00" y="627.10" width="5.40" height="5.00" fill="#1f9e89" stroke="#000" stroke-opacity="0.45" stroke-width="0.35"/>
<text x="259.20" y="631.54" font-size="5.4" text-anchor="start" font-weight="normal" fill="#2b2b2b">Patch/Plaque</text>
<rect x="252.00" y="632.20" width="5.40" height="5.00" fill="#1f8f8f" stroke="#000" stroke-opacity="0.45" stroke-width="0.35"/>
<text x="259.20" y="636.64" font-size="5.4" text-anchor="start" font-weight="normal" fill="#2b2b2b">Patch</text>
<rect x="252.00" y="637.30" width="5.40" height="5.00" fill="#4b4ca2" stroke="#000" stroke-opacity="0.45" stroke-width="0.35"/>
<text x="259.20" y="641.74" font-size="5.4" text-anchor="start" font-weight="normal" fill="#2b2b2b">Healthy</text>
<text x="204.60" y="658.22" font-size="5.6" text-anchor="start" font-weight="normal" fill="#2b2b2b">MF stage</text>
<rect x="204.80" y="660.10" width="5.40" height="5.00" fill="#fdf0c4" stroke="#000" stroke-opacity="0.45" stroke-width="0.35"/>
<text x="212.70" y="664.54" font-size="5.4" text-anchor="start" font-weight="normal" fill="#2b2b2b">IVB</text>
<rect x="204.80" y="665.30" width="5.40" height="5.00" fill="#fbc08f" stroke="#000" stroke-opacity="0.45" stroke-width="0.35"/>
<text x="212.70" y="669.74" font-size="5.4" text-anchor="start" font-weight="normal" fill="#2b2b2b">IVA</text>
<rect x="204.80" y="670.50" width="5.40" height="5.00" fill="#f2835c" stroke="#000" stroke-opacity="0.45" stroke-width="0.35"/>
<text x="212.70" y="674.94" font-size="5.4" text-anchor="start" font-weight="normal" fill="#2b2b2b">IIB</text>
<rect x="223.30" y="660.10" width="4.90" height="5.00" fill="#e2446a" stroke="#000" stroke-opacity="0.45" stroke-width="0.35"/>
<text x="230.20" y="664.54" font-size="5.4" text-anchor="start" font-weight="normal" fill="#2b2b2b">IB</text>
<rect x="223.30" y="665.30" width="4.90" height="5.00" fill="#b6267a" stroke="#000" stroke-opacity="0.45" stroke-width="0.35"/>
<text x="230.20" y="669.74" font-size="5.4" text-anchor="start" font-weight="normal" fill="#2b2b2b">IA</text>
<rect x="223.30" y="670.50" width="4.90" height="5.00" fill="#4b4ca2" stroke="#000" stroke-opacity="0.45" stroke-width="0.35"/>
<text x="230.20" y="674.94" font-size="5.4" text-anchor="start" font-weight="normal" fill="#2b2b2b">Healthy</text>
<text x="311.30" y="625.22" font-size="5.6" text-anchor="start" font-weight="normal" fill="#2b2b2b">Cell cluster</text>
<rect x="311.30" y="627.15" width="5.20" height="5.30" fill="#e8383d" stroke="#000" stroke-opacity="0.45" stroke-width="0.35"/>
<text x="319.40" y="631.74" font-size="5.4" text-anchor="start" font-weight="normal" fill="#2b2b2b">Malignant</text>
<rect x="311.30" y="632.65" width="5.20" height="5.30" fill="#d7191f" stroke="#000" stroke-opacity="0.45" stroke-width="0.35"/>
<text x="319.40" y="637.24" font-size="5.4" text-anchor="start" font-weight="normal" fill="#2b2b2b">Malignant (inferred)</text>
<rect x="311.30" y="638.15" width="5.20" height="5.30" fill="#3a7ebd" stroke="#000" stroke-opacity="0.45" stroke-width="0.35"/>
<text x="319.40" y="642.74" font-size="5.4" text-anchor="start" font-weight="normal" fill="#2b2b2b">T cell</text>
<rect x="311.30" y="643.65" width="5.20" height="5.30" fill="#4caf50" stroke="#000" stroke-opacity="0.45" stroke-width="0.35"/>
<text x="319.40" y="648.24" font-size="5.4" text-anchor="start" font-weight="normal" fill="#2b2b2b">Mast cell</text>
<rect x="311.30" y="649.15" width="5.20" height="5.30" fill="#5cba5c" stroke="#000" stroke-opacity="0.45" stroke-width="0.35"/>
<text x="319.40" y="653.74" font-size="5.4" text-anchor="start" font-weight="normal" fill="#2b2b2b">pDC</text>
<rect x="311.30" y="654.65" width="5.20" height="5.30" fill="#7fca7a" stroke="#000" stroke-opacity="0.45" stroke-width="0.35"/>
<text x="319.40" y="659.24" font-size="5.4" text-anchor="start" font-weight="normal" fill="#2b2b2b">Dendritic cell</text>
<rect x="373.80" y="627.15" width="5.20" height="5.30" fill="#8fce87" stroke="#000" stroke-opacity="0.45" stroke-width="0.35"/>
<text x="380.80" y="631.74" font-size="5.4" text-anchor="start" font-weight="normal" fill="#2b2b2b">Macrophage</text>
<rect x="373.80" y="632.65" width="5.20" height="5.30" fill="#8e44ad" stroke="#000" stroke-opacity="0.45" stroke-width="0.35"/>
<text x="380.80" y="637.24" font-size="5.4" text-anchor="start" font-weight="normal" fill="#2b2b2b">Plasma cell</text>
<rect x="373.80" y="638.15" width="5.20" height="5.30" fill="#b565c6" stroke="#000" stroke-opacity="0.45" stroke-width="0.35"/>
<text x="380.80" y="642.74" font-size="5.4" text-anchor="start" font-weight="normal" fill="#2b2b2b">B cell</text>
<rect x="373.80" y="643.65" width="5.20" height="5.30" fill="#f08a24" stroke="#000" stroke-opacity="0.45" stroke-width="0.35"/>
<text x="380.80" y="648.24" font-size="5.4" text-anchor="start" font-weight="normal" fill="#2b2b2b">Sebocyte</text>
<rect x="373.80" y="649.15" width="5.20" height="5.30" fill="#f4a070" stroke="#000" stroke-opacity="0.45" stroke-width="0.35"/>
<text x="380.80" y="653.74" font-size="5.4" text-anchor="start" font-weight="normal" fill="#2b2b2b">Keratinocyte</text>
<rect x="373.80" y="654.65" width="5.20" height="5.30" fill="#9c5327" stroke="#000" stroke-opacity="0.45" stroke-width="0.35"/>
<text x="380.80" y="659.24" font-size="5.4" text-anchor="start" font-weight="normal" fill="#2b2b2b">Myofibroblast</text>
<rect x="422.00" y="627.15" width="5.20" height="5.30" fill="#c46a33" stroke="#000" stroke-opacity="0.45" stroke-width="0.35"/>
<text x="429.50" y="631.74" font-size="5.4" text-anchor="start" font-weight="normal" fill="#2b2b2b">Fibroblast</text>
<rect x="422.00" y="632.65" width="5.20" height="5.30" fill="#ee6fb0" stroke="#000" stroke-opacity="0.45" stroke-width="0.35"/>
<text x="429.50" y="637.24" font-size="5.4" text-anchor="start" font-weight="normal" fill="#2b2b2b">Endothelia (lymph)</text>
<rect x="422.00" y="638.15" width="5.20" height="5.30" fill="#f4a0c8" stroke="#000" stroke-opacity="0.45" stroke-width="0.35"/>
<text x="429.50" y="642.74" font-size="5.4" text-anchor="start" font-weight="normal" fill="#2b2b2b">Endothelia (venular)</text>
<rect x="422.00" y="643.65" width="5.20" height="5.30" fill="#c4c4c4" stroke="#000" stroke-opacity="0.45" stroke-width="0.35"/>
<text x="429.50" y="648.24" font-size="5.4" text-anchor="start" font-weight="normal" fill="#2b2b2b">Schwann cell</text>
<rect x="422.00" y="649.15" width="5.20" height="5.30" fill="#ffffff" stroke="#000" stroke-opacity="0.45" stroke-width="0.35"/>
<text x="429.50" y="653.74" font-size="5.4" text-anchor="start" font-weight="normal" fill="#2b2b2b">Melanocyte</text>
</g>
<g id="panelFG">
<text x="0.00" y="557.57" font-size="10.2" text-anchor="start" font-weight="bold" fill="#000">F</text>
<text x="94.40" y="557.57" font-size="10.2" text-anchor="start" font-weight="bold" fill="#000">G</text>
<line x1="23.50" y1="566.80" x2="23.50" y2="674.80" stroke="#111" stroke-width="0.9" stroke-linecap="butt"/>
<line x1="23.10" y1="674.40" x2="77.20" y2="674.40" stroke="#111" stroke-width="0.9" stroke-linecap="butt"/>
<line x1="20.90" y1="674.40" x2="23.50" y2="674.40" stroke="#111" stroke-width="0.7" stroke-linecap="butt"/>
<text x="0.00" y="2.05" font-size="5.7" text-anchor="end" font-weight="normal" fill="#2b2b2b" transform="translate(19.70,674.40) scale(0.95,1)">0</text>
<line x1="20.90" y1="648.10" x2="23.50" y2="648.10" stroke="#111" stroke-width="0.7" stroke-linecap="butt"/>
<text x="0.00" y="2.05" font-size="5.7" text-anchor="end" font-weight="normal" fill="#2b2b2b" transform="translate(19.70,648.10) scale(0.95,1)">20</text>
<line x1="20.90" y1="621.80" x2="23.50" y2="621.80" stroke="#111" stroke-width="0.7" stroke-linecap="butt"/>
<text x="0.00" y="2.05" font-size="5.7" text-anchor="end" font-weight="normal" fill="#2b2b2b" transform="translate(19.70,621.80) scale(0.95,1)">40</text>
<line x1="20.90" y1="595.50" x2="23.50" y2="595.50" stroke="#111" stroke-width="0.7" stroke-linecap="butt"/>
<text x="0.00" y="2.05" font-size="5.7" text-anchor="end" font-weight="normal" fill="#2b2b2b" transform="translate(19.70,595.50) scale(0.95,1)">60</text>
<line x1="20.90" y1="569.20" x2="23.50" y2="569.20" stroke="#111" stroke-width="0.7" stroke-linecap="butt"/>
<text x="0.00" y="2.05" font-size="5.7" text-anchor="end" font-weight="normal" fill="#2b2b2b" transform="translate(19.70,569.20) scale(0.95,1)">80</text>
<line x1="33.70" y1="674.40" x2="33.70" y2="677.00" stroke="#111" stroke-width="0.7" stroke-linecap="butt"/>
<line x1="50.40" y1="674.40" x2="50.40" y2="677.00" stroke="#111" stroke-width="0.7" stroke-linecap="butt"/>
<line x1="67.00" y1="674.40" x2="67.00" y2="677.00" stroke="#111" stroke-width="0.7" stroke-linecap="butt"/>
<text x="35.00" y="565.66" font-size="6" text-anchor="middle" font-weight="normal" fill="#2b2b2b">HC</text>
<text x="62.00" y="565.66" font-size="6" text-anchor="middle" font-weight="normal" fill="#2b2b2b">MF</text>
<line x1="26.00" y1="567.80" x2="44.20" y2="567.80" stroke="#222" stroke-width="0.85" stroke-linecap="butt"/>
<line x1="48.00" y1="567.80" x2="76.00" y2="567.80" stroke="#222" stroke-width="0.85" stroke-linecap="butt"/>
<text x="0.00" y="2.59" font-size="7.2" text-anchor="middle" font-weight="normal" fill="#222" transform="translate(4.20,621.30) rotate(-90)" textLength="38.60" lengthAdjust="spacingAndGlyphs">%TOX-positive</text>
<rect x="27.90" y="661.78" width="11.50" height="2.10" fill="#2b8cbe"/>
<line x1="27.90" y1="662.83" x2="39.40" y2="662.83" stroke="#0d3a5c" stroke-width="0.5" stroke-linecap="butt"/>
<circle cx="33.7" cy="659.28" r="0.85" fill="#000"/>
<circle cx="33.7" cy="662.30" r="0.85" fill="#000"/>
<circle cx="33.7" cy="663.35" r="0.85" fill="#000"/>
<circle cx="33.7" cy="667.56" r="0.85" fill="#000"/>
<rect x="44.60" y="655.73" width="11.60" height="8.15" fill="#1f4e8c"/>
<rect x="61.20" y="625.48" width="11.50" height="23.14" fill="#c8102e"/>
<line x1="44.60" y1="659.93" x2="56.20" y2="659.93" stroke="#0b2447" stroke-width="0.5" stroke-linecap="butt"/>
<line x1="61.20" y1="640.21" x2="72.70" y2="640.21" stroke="#6d0a1a" stroke-width="0.5" stroke-linecap="butt"/>
<line x1="67.00" y1="648.63" x2="67.00" y2="669.80" stroke="#111" stroke-width="0.4" stroke-linecap="butt"/>
<line x1="67.00" y1="625.48" x2="67.00" y2="612.60" stroke="#111" stroke-width="0.4" stroke-linecap="butt"/>
<line x1="50.40" y1="655.73" x2="50.40" y2="649.41" stroke="#111" stroke-width="0.4" stroke-linecap="butt"/>
<line x1="50.40" y1="663.88" x2="50.40" y2="670.45" stroke="#111" stroke-width="0.4" stroke-linecap="butt"/>
<line x1="50.40" y1="670.45" x2="67.00" y2="669.80" stroke="#111" stroke-width="0.42" stroke-linecap="butt"/>
<line x1="50.40" y1="669.40" x2="67.00" y2="657.96" stroke="#111" stroke-width="0.42" stroke-linecap="butt"/>
<line x1="50.40" y1="668.48" x2="67.00" y2="655.99" stroke="#111" stroke-width="0.42" stroke-linecap="butt"/>
<line x1="50.40" y1="667.56" x2="67.00" y2="654.02" stroke="#111" stroke-width="0.42" stroke-linecap="butt"/>
<line x1="50.40" y1="666.51" x2="67.00" y2="652.04" stroke="#111" stroke-width="0.42" stroke-linecap="butt"/>
<line x1="50.40" y1="665.85" x2="67.00" y2="650.07" stroke="#111" stroke-width="0.42" stroke-linecap="butt"/>
<line x1="50.40" y1="665.19" x2="67.00" y2="648.10" stroke="#111" stroke-width="0.42" stroke-linecap="butt"/>
<line x1="50.40" y1="664.41" x2="67.00" y2="646.78" stroke="#111" stroke-width="0.42" stroke-linecap="butt"/>
<line x1="50.40" y1="663.62" x2="67.00" y2="587.61" stroke="#111" stroke-width="0.42" stroke-linecap="butt"/>
<line x1="50.40" y1="662.83" x2="67.00" y2="645.47" stroke="#111" stroke-width="0.42" stroke-linecap="butt"/>
<line x1="50.40" y1="662.17" x2="67.00" y2="584.98" stroke="#111" stroke-width="0.42" stroke-linecap="butt"/>
<line x1="50.40" y1="661.51" x2="67.00" y2="583.01" stroke="#111" stroke-width="0.42" stroke-linecap="butt"/>
<line x1="50.40" y1="660.86" x2="67.00" y2="644.15" stroke="#111" stroke-width="0.42" stroke-linecap="butt"/>
<line x1="50.40" y1="660.20" x2="67.00" y2="581.03" stroke="#111" stroke-width="0.42" stroke-linecap="butt"/>
<line x1="50.40" y1="659.67" x2="67.00" y2="579.06" stroke="#111" stroke-width="0.42" stroke-linecap="butt"/>
<line x1="50.40" y1="658.88" x2="67.00" y2="642.18" stroke="#111" stroke-width="0.42" stroke-linecap="butt"/>
<line x1="50.40" y1="658.23" x2="67.00" y2="571.17" stroke="#111" stroke-width="0.42" stroke-linecap="butt"/>
<line x1="50.40" y1="657.57" x2="67.00" y2="640.87" stroke="#111" stroke-width="0.42" stroke-linecap="butt"/>
<line x1="50.40" y1="656.78" x2="67.00" y2="639.55" stroke="#111" stroke-width="0.42" stroke-linecap="butt"/>
<line x1="50.40" y1="655.99" x2="67.00" y2="637.58" stroke="#111" stroke-width="0.42" stroke-linecap="butt"/>
<line x1="50.40" y1="654.67" x2="67.00" y2="634.95" stroke="#111" stroke-width="0.42" stroke-linecap="butt"/>
<line x1="50.40" y1="652.70" x2="67.00" y2="632.32" stroke="#111" stroke-width="0.42" stroke-linecap="butt"/>
<line x1="50.40" y1="650.07" x2="67.00" y2="629.69" stroke="#111" stroke-width="0.42" stroke-linecap="butt"/>
<line x1="50.40" y1="640.21" x2="67.00" y2="618.51" stroke="#111" stroke-width="0.42" stroke-linecap="butt"/>
<line x1="50.40" y1="638.24" x2="67.00" y2="612.60" stroke="#111" stroke-width="0.42" stroke-linecap="butt"/>
<line x1="50.40" y1="636.26" x2="67.00" y2="623.12" stroke="#111" stroke-width="0.42" stroke-linecap="butt"/>
<line x1="50.40" y1="634.29" x2="67.00" y2="627.06" stroke="#111" stroke-width="0.42" stroke-linecap="butt"/>
<circle cx="50.4" cy="670.45" r="0.85" fill="#000"/>
<circle cx="50.4" cy="669.40" r="0.85" fill="#000"/>
<circle cx="50.4" cy="668.48" r="0.85" fill="#000"/>
<circle cx="50.4" cy="667.56" r="0.85" fill="#000"/>
<circle cx="50.4" cy="666.51" r="0.85" fill="#000"/>
<circle cx="50.4" cy="665.85" r="0.85" fill="#000"/>
<circle cx="50.4" cy="665.19" r="0.85" fill="#000"/>
<circle cx="50.4" cy="664.41" r="0.85" fill="#000"/>
<circle cx="50.4" cy="663.62" r="0.85" fill="#000"/>
<circle cx="50.4" cy="662.83" r="0.85" fill="#000"/>
<circle cx="50.4" cy="662.17" r="0.85" fill="#000"/>
<circle cx="50.4" cy="661.51" r="0.85" fill="#000"/>
<circle cx="50.4" cy="660.86" r="0.85" fill="#000"/>
<circle cx="50.4" cy="660.20" r="0.85" fill="#000"/>
<circle cx="50.4" cy="659.67" r="0.85" fill="#000"/>
<circle cx="50.4" cy="658.88" r="0.85" fill="#000"/>
<circle cx="50.4" cy="658.23" r="0.85" fill="#000"/>
<circle cx="50.4" cy="657.57" r="0.85" fill="#000"/>
<circle cx="50.4" cy="656.78" r="0.85" fill="#000"/>
<circle cx="50.4" cy="655.99" r="0.85" fill="#000"/>
<circle cx="50.4" cy="654.67" r="0.85" fill="#000"/>
<circle cx="50.4" cy="652.70" r="0.85" fill="#000"/>
<circle cx="50.4" cy="650.07" r="0.85" fill="#000"/>
<circle cx="50.4" cy="640.21" r="0.85" fill="#000"/>
<circle cx="50.4" cy="638.24" r="0.85" fill="#000"/>
<circle cx="50.4" cy="636.26" r="0.85" fill="#000"/>
<circle cx="50.4" cy="634.29" r="0.85" fill="#000"/>
<circle cx="67" cy="669.80" r="0.85" fill="#000"/>
<circle cx="67" cy="657.96" r="0.85" fill="#000"/>
<circle cx="67" cy="655.99" r="0.85" fill="#000"/>
<circle cx="67" cy="654.02" r="0.85" fill="#000"/>
<circle cx="67" cy="652.04" r="0.85" fill="#000"/>
<circle cx="67" cy="650.07" r="0.85" fill="#000"/>
<circle cx="67" cy="648.10" r="0.85" fill="#000"/>
<circle cx="67" cy="646.78" r="0.85" fill="#000"/>
<circle cx="67" cy="587.61" r="0.85" fill="#000"/>
<circle cx="67" cy="645.47" r="0.85" fill="#000"/>
<circle cx="67" cy="584.98" r="0.85" fill="#000"/>
<circle cx="67" cy="583.01" r="0.85" fill="#000"/>
<circle cx="67" cy="644.15" r="0.85" fill="#000"/>
<circle cx="67" cy="581.03" r="0.85" fill="#000"/>
<circle cx="67" cy="579.06" r="0.85" fill="#000"/>
<circle cx="67" cy="642.18" r="0.85" fill="#000"/>
<circle cx="67" cy="571.17" r="0.85" fill="#000"/>
<circle cx="67" cy="640.87" r="0.85" fill="#000"/>
<circle cx="67" cy="639.55" r="0.85" fill="#000"/>
<circle cx="67" cy="637.58" r="0.85" fill="#000"/>
<circle cx="67" cy="634.95" r="0.85" fill="#000"/>
<circle cx="67" cy="632.32" r="0.85" fill="#000"/>
<circle cx="67" cy="629.69" r="0.85" fill="#000"/>
<circle cx="67" cy="618.51" r="0.85" fill="#000"/>
<circle cx="67" cy="612.60" r="0.85" fill="#000"/>
<circle cx="67" cy="623.12" r="0.85" fill="#000"/>
<circle cx="67" cy="627.06" r="0.85" fill="#000"/>
<text x="0.00" y="2.16" font-size="6" text-anchor="end" font-weight="normal" fill="#2b2b2b" transform="translate(35.30,679.00) rotate(-45) scale(0.92,1)">HC T cells</text>
<text x="0.00" y="2.16" font-size="6" text-anchor="end" font-weight="normal" fill="#2b2b2b" transform="translate(52.00,679.00) rotate(-45) scale(0.92,1)">Benign T cells</text>
<text x="0.00" y="2.16" font-size="6" text-anchor="end" font-weight="normal" fill="#2b2b2b" transform="translate(68.60,679.00) rotate(-45) scale(0.92,1)">Malignant cells</text>
<line x1="121.20" y1="566.80" x2="121.20" y2="674.90" stroke="#111" stroke-width="0.9" stroke-linecap="butt"/>
<line x1="120.80" y1="674.50" x2="174.60" y2="674.50" stroke="#111" stroke-width="0.9" stroke-linecap="butt"/>
<line x1="118.60" y1="674.50" x2="121.20" y2="674.50" stroke="#111" stroke-width="0.7" stroke-linecap="butt"/>
<text x="0.00" y="2.05" font-size="5.7" text-anchor="end" font-weight="normal" fill="#2b2b2b" transform="translate(117.40,674.50) scale(0.95,1)">0</text>
<line x1="118.60" y1="653.47" x2="121.20" y2="653.47" stroke="#111" stroke-width="0.7" stroke-linecap="butt"/>
<text x="0.00" y="2.05" font-size="5.7" text-anchor="end" font-weight="normal" fill="#2b2b2b" transform="translate(117.40,653.47) scale(0.95,1)">20</text>
<line x1="118.60" y1="632.44" x2="121.20" y2="632.44" stroke="#111" stroke-width="0.7" stroke-linecap="butt"/>
<text x="0.00" y="2.05" font-size="5.7" text-anchor="end" font-weight="normal" fill="#2b2b2b" transform="translate(117.40,632.44) scale(0.95,1)">40</text>
<line x1="118.60" y1="611.41" x2="121.20" y2="611.41" stroke="#111" stroke-width="0.7" stroke-linecap="butt"/>
<text x="0.00" y="2.05" font-size="5.7" text-anchor="end" font-weight="normal" fill="#2b2b2b" transform="translate(117.40,611.41) scale(0.95,1)">60</text>
<line x1="118.60" y1="590.38" x2="121.20" y2="590.38" stroke="#111" stroke-width="0.7" stroke-linecap="butt"/>
<text x="0.00" y="2.05" font-size="5.7" text-anchor="end" font-weight="normal" fill="#2b2b2b" transform="translate(117.40,590.38) scale(0.95,1)">80</text>
<line x1="118.60" y1="569.35" x2="121.20" y2="569.35" stroke="#111" stroke-width="0.7" stroke-linecap="butt"/>
<text x="0.00" y="2.05" font-size="5.7" text-anchor="end" font-weight="normal" fill="#2b2b2b" transform="translate(117.40,569.35) scale(0.95,1)">100</text>
<line x1="131.70" y1="674.50" x2="131.70" y2="677.10" stroke="#111" stroke-width="0.7" stroke-linecap="butt"/>
<line x1="148.00" y1="674.50" x2="148.00" y2="677.10" stroke="#111" stroke-width="0.7" stroke-linecap="butt"/>
<line x1="164.40" y1="674.50" x2="164.40" y2="677.10" stroke="#111" stroke-width="0.7" stroke-linecap="butt"/>
<text x="131.70" y="565.66" font-size="6" text-anchor="middle" font-weight="normal" fill="#2b2b2b">HC</text>
<text x="159.00" y="565.66" font-size="6" text-anchor="middle" font-weight="normal" fill="#2b2b2b">MF</text>
<line x1="123.50" y1="567.80" x2="140.40" y2="567.80" stroke="#222" stroke-width="0.85" stroke-linecap="butt"/>
<line x1="144.60" y1="567.80" x2="173.50" y2="567.80" stroke="#222" stroke-width="0.85" stroke-linecap="butt"/>
<text x="0.00" y="2.52" font-size="7" text-anchor="middle" font-weight="normal" fill="#222" transform="translate(90.00,622.00) rotate(-90)" textLength="51.50" lengthAdjust="spacingAndGlyphs">% cytokine-positive</text>
<text x="0.00" y="2.52" font-size="7" text-anchor="middle" font-weight="normal" fill="#222" transform="translate(99.80,622.00) rotate(-90)" textLength="76.00" lengthAdjust="spacingAndGlyphs">(IL4, IL6, IL13, IL22 or OSM)</text>
<rect x="125.40" y="668.19" width="11.90" height="1.89" fill="#2b8cbe"/>
<line x1="125.40" y1="669.24" x2="137.30" y2="669.24" stroke="#0d3a5c" stroke-width="0.5" stroke-linecap="butt"/>
<circle cx="131.7" cy="666.93" r="0.85" fill="#000"/>
<circle cx="131.7" cy="668.82" r="0.85" fill="#000"/>
<circle cx="131.7" cy="669.66" r="0.85" fill="#000"/>
<circle cx="131.7" cy="670.92" r="0.85" fill="#000"/>
<rect x="142.00" y="666.72" width="11.80" height="4.84" fill="#1f4e8c"/>
<rect x="158.70" y="645.06" width="11.90" height="23.97" fill="#c8102e"/>
<line x1="142.00" y1="669.45" x2="153.80" y2="669.45" stroke="#0b2447" stroke-width="0.5" stroke-linecap="butt"/>
<line x1="158.70" y1="660.83" x2="170.60" y2="660.83" stroke="#6d0a1a" stroke-width="0.5" stroke-linecap="butt"/>
<line x1="164.40" y1="669.03" x2="164.40" y2="672.40" stroke="#111" stroke-width="0.4" stroke-linecap="butt"/>
<line x1="164.40" y1="645.06" x2="164.40" y2="631.39" stroke="#111" stroke-width="0.4" stroke-linecap="butt"/>
<line x1="148.00" y1="666.72" x2="148.00" y2="661.36" stroke="#111" stroke-width="0.4" stroke-linecap="butt"/>
<line x1="148.00" y1="671.56" x2="148.00" y2="672.92" stroke="#111" stroke-width="0.4" stroke-linecap="butt"/>
<line x1="148.00" y1="672.92" x2="164.40" y2="672.40" stroke="#111" stroke-width="0.42" stroke-linecap="butt"/>
<line x1="148.00" y1="672.40" x2="164.40" y2="670.82" stroke="#111" stroke-width="0.42" stroke-linecap="butt"/>
<line x1="148.00" y1="671.87" x2="164.40" y2="669.77" stroke="#111" stroke-width="0.42" stroke-linecap="butt"/>
<line x1="148.00" y1="671.35" x2="164.40" y2="668.72" stroke="#111" stroke-width="0.42" stroke-linecap="butt"/>
<line x1="148.00" y1="671.03" x2="164.40" y2="667.67" stroke="#111" stroke-width="0.42" stroke-linecap="butt"/>
<line x1="148.00" y1="670.71" x2="164.40" y2="666.09" stroke="#111" stroke-width="0.42" stroke-linecap="butt"/>
<line x1="148.00" y1="670.29" x2="164.40" y2="664.51" stroke="#111" stroke-width="0.42" stroke-linecap="butt"/>
<line x1="148.00" y1="669.98" x2="164.40" y2="662.93" stroke="#111" stroke-width="0.42" stroke-linecap="butt"/>
<line x1="148.00" y1="669.66" x2="164.40" y2="596.69" stroke="#111" stroke-width="0.42" stroke-linecap="butt"/>
<line x1="148.00" y1="669.24" x2="164.40" y2="574.61" stroke="#111" stroke-width="0.42" stroke-linecap="butt"/>
<line x1="148.00" y1="668.93" x2="164.40" y2="593.53" stroke="#111" stroke-width="0.42" stroke-linecap="butt"/>
<line x1="148.00" y1="668.61" x2="164.40" y2="660.83" stroke="#111" stroke-width="0.42" stroke-linecap="butt"/>
<line x1="148.00" y1="668.19" x2="164.40" y2="658.73" stroke="#111" stroke-width="0.42" stroke-linecap="butt"/>
<line x1="148.00" y1="667.77" x2="164.40" y2="656.10" stroke="#111" stroke-width="0.42" stroke-linecap="butt"/>
<line x1="148.00" y1="667.35" x2="164.40" y2="653.47" stroke="#111" stroke-width="0.42" stroke-linecap="butt"/>
<line x1="148.00" y1="666.93" x2="164.40" y2="650.32" stroke="#111" stroke-width="0.42" stroke-linecap="butt"/>
<line x1="148.00" y1="666.30" x2="164.40" y2="647.16" stroke="#111" stroke-width="0.42" stroke-linecap="butt"/>
<line x1="148.00" y1="665.67" x2="164.40" y2="644.01" stroke="#111" stroke-width="0.42" stroke-linecap="butt"/>
<line x1="148.00" y1="665.04" x2="164.40" y2="631.91" stroke="#111" stroke-width="0.42" stroke-linecap="butt"/>
<line x1="148.00" y1="663.99" x2="164.40" y2="640.85" stroke="#111" stroke-width="0.42" stroke-linecap="butt"/>
<line x1="148.00" y1="662.93" x2="164.40" y2="637.70" stroke="#111" stroke-width="0.42" stroke-linecap="butt"/>
<line x1="148.00" y1="661.36" x2="164.40" y2="634.54" stroke="#111" stroke-width="0.42" stroke-linecap="butt"/>
<circle cx="148" cy="672.92" r="0.85" fill="#000"/>
<circle cx="148" cy="672.40" r="0.85" fill="#000"/>
<circle cx="148" cy="671.87" r="0.85" fill="#000"/>
<circle cx="148" cy="671.35" r="0.85" fill="#000"/>
<circle cx="148" cy="671.03" r="0.85" fill="#000"/>
<circle cx="148" cy="670.71" r="0.85" fill="#000"/>
<circle cx="148" cy="670.29" r="0.85" fill="#000"/>
<circle cx="148" cy="669.98" r="0.85" fill="#000"/>
<circle cx="148" cy="669.66" r="0.85" fill="#000"/>
<circle cx="148" cy="669.24" r="0.85" fill="#000"/>
<circle cx="148" cy="668.93" r="0.85" fill="#000"/>
<circle cx="148" cy="668.61" r="0.85" fill="#000"/>
<circle cx="148" cy="668.19" r="0.85" fill="#000"/>
<circle cx="148" cy="667.77" r="0.85" fill="#000"/>
<circle cx="148" cy="667.35" r="0.85" fill="#000"/>
<circle cx="148" cy="666.93" r="0.85" fill="#000"/>
<circle cx="148" cy="666.30" r="0.85" fill="#000"/>
<circle cx="148" cy="665.67" r="0.85" fill="#000"/>
<circle cx="148" cy="665.04" r="0.85" fill="#000"/>
<circle cx="148" cy="663.99" r="0.85" fill="#000"/>
<circle cx="148" cy="662.93" r="0.85" fill="#000"/>
<circle cx="148" cy="661.36" r="0.85" fill="#000"/>
<circle cx="164.4" cy="672.40" r="0.85" fill="#000"/>
<circle cx="164.4" cy="670.82" r="0.85" fill="#000"/>
<circle cx="164.4" cy="669.77" r="0.85" fill="#000"/>
<circle cx="164.4" cy="668.72" r="0.85" fill="#000"/>
<circle cx="164.4" cy="667.67" r="0.85" fill="#000"/>
<circle cx="164.4" cy="666.09" r="0.85" fill="#000"/>
<circle cx="164.4" cy="664.51" r="0.85" fill="#000"/>
<circle cx="164.4" cy="662.93" r="0.85" fill="#000"/>
<circle cx="164.4" cy="596.69" r="0.85" fill="#000"/>
<circle cx="164.4" cy="574.61" r="0.85" fill="#000"/>
<circle cx="164.4" cy="593.53" r="0.85" fill="#000"/>
<circle cx="164.4" cy="660.83" r="0.85" fill="#000"/>
<circle cx="164.4" cy="658.73" r="0.85" fill="#000"/>
<circle cx="164.4" cy="656.10" r="0.85" fill="#000"/>
<circle cx="164.4" cy="653.47" r="0.85" fill="#000"/>
<circle cx="164.4" cy="650.32" r="0.85" fill="#000"/>
<circle cx="164.4" cy="647.16" r="0.85" fill="#000"/>
<circle cx="164.4" cy="644.01" r="0.85" fill="#000"/>
<circle cx="164.4" cy="631.91" r="0.85" fill="#000"/>
<circle cx="164.4" cy="640.85" r="0.85" fill="#000"/>
<circle cx="164.4" cy="637.70" r="0.85" fill="#000"/>
<circle cx="164.4" cy="634.54" r="0.85" fill="#000"/>
<text x="0.00" y="2.16" font-size="6" text-anchor="end" font-weight="normal" fill="#2b2b2b" transform="translate(133.30,679.10) rotate(-45) scale(0.92,1)">HC T cells</text>
<text x="0.00" y="2.16" font-size="6" text-anchor="end" font-weight="normal" fill="#2b2b2b" transform="translate(149.60,679.10) rotate(-45) scale(0.92,1)">Benign T cells</text>
<text x="0.00" y="2.16" font-size="6" text-anchor="end" font-weight="normal" fill="#2b2b2b" transform="translate(166.00,679.10) rotate(-45) scale(0.92,1)">Malignant cells</text>
</g>
</svg></body></html>
